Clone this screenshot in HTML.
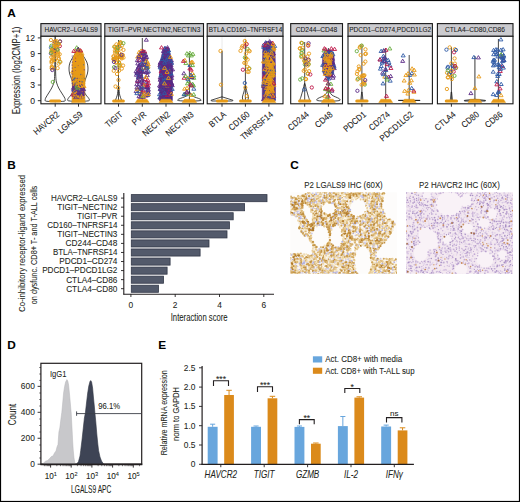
<!DOCTYPE html><html><head><meta charset="utf-8"><style>html,body{margin:0;padding:0;background:#fff;}svg{display:block;}text{font-family:"Liberation Sans",sans-serif;stroke:currentColor;stroke-width:0.07px;}</style></head><body>
<svg width="520" height="502" viewBox="0 0 520 502">
<rect x="0" y="0" width="520" height="502" fill="#fff"/>
<text x="7.2" y="16.7" font-size="11.8" fill="#000" color="#000" font-weight="bold">A</text>
<text x="7.2" y="169" font-size="11.8" fill="#000" color="#000" font-weight="bold">B</text>
<text x="290.3" y="169.2" font-size="11.8" fill="#000" color="#000" font-weight="bold">C</text>
<text x="7.2" y="349.1" font-size="11.8" fill="#000" color="#000" font-weight="bold">D</text>
<text x="158.3" y="349.3" font-size="11.8" fill="#000" color="#000" font-weight="bold">E</text>
<rect x="40.9" y="23.6" width="60.1" height="12.7" fill="#cbcbcf" stroke="#1a1a1a" stroke-width="1.1"/>
<text x="71.2" y="31.8" font-size="7.2" text-anchor="middle" textLength="53.39" lengthAdjust="spacingAndGlyphs" fill="#1a1a1a" color="#1a1a1a">HAVCR2–LGALS9</text>
<rect x="40.9" y="36.3" width="60.1" height="67.5" fill="#fff"/>
<rect x="104.8" y="23.6" width="98.7" height="12.7" fill="#cbcbcf" stroke="#1a1a1a" stroke-width="1.1"/>
<text x="154.15" y="31.8" font-size="7.2" text-anchor="middle" textLength="92.3" lengthAdjust="spacingAndGlyphs" fill="#1a1a1a" color="#1a1a1a">TIGIT–PVR,NECTIN2,NECTIN3</text>
<rect x="104.8" y="36.3" width="98.7" height="67.5" fill="#fff"/>
<rect x="207.2" y="23.6" width="75.8" height="12.7" fill="#cbcbcf" stroke="#1a1a1a" stroke-width="1.1"/>
<text x="245.5" y="31.8" font-size="7.2" text-anchor="middle" textLength="73.42" lengthAdjust="spacingAndGlyphs" fill="#1a1a1a" color="#1a1a1a">BTLA,CD160–TNFRSF14</text>
<rect x="207.2" y="36.3" width="75.8" height="67.5" fill="#fff"/>
<rect x="290.7" y="23.6" width="51.8" height="12.7" fill="#cbcbcf" stroke="#1a1a1a" stroke-width="1.1"/>
<text x="316.45" y="31.8" font-size="7.2" text-anchor="middle" textLength="41.47" lengthAdjust="spacingAndGlyphs" fill="#1a1a1a" color="#1a1a1a">CD244–CD48</text>
<rect x="290.7" y="36.3" width="51.8" height="67.5" fill="#fff"/>
<rect x="348" y="23.6" width="84.4" height="12.7" fill="#cbcbcf" stroke="#1a1a1a" stroke-width="1.1"/>
<text x="390.2" y="31.8" font-size="7.2" text-anchor="middle" textLength="81.97" lengthAdjust="spacingAndGlyphs" fill="#1a1a1a" color="#1a1a1a">PDCD1–CD274,PDCD1LG2</text>
<rect x="348" y="36.3" width="84.4" height="67.5" fill="#fff"/>
<rect x="437.4" y="23.6" width="75.6" height="12.7" fill="#cbcbcf" stroke="#1a1a1a" stroke-width="1.1"/>
<text x="475" y="31.8" font-size="7.2" text-anchor="middle" textLength="59.99" lengthAdjust="spacingAndGlyphs" fill="#1a1a1a" color="#1a1a1a">CTLA4–CD80,CD86</text>
<rect x="437.4" y="36.3" width="75.6" height="67.5" fill="#fff"/>
<g transform="translate(-0.2,0)">
<path d="M55.6 38.5C55.7 42.08 55.75 54.08 55.8 60C55.85 65.92 55.77 70.33 55.9 74C56.03 77.67 56.1 79.67 56.6 82C57.1 84.33 58.02 86.17 58.9 88C59.78 89.83 60.98 91.5 61.9 93C62.82 94.5 63.82 95.92 64.4 97C64.98 98.08 65.4 98.8 65.4 99.5C65.4 100.2 66.05 100.85 64.4 101.2C62.75 101.55 57.02 101.53 55.5 101.6C53.98 101.67 56.82 101.67 55.3 101.6C53.78 101.53 48.05 101.55 46.4 101.2C44.75 100.85 45.4 100.2 45.4 99.5C45.4 98.8 45.82 98.08 46.4 97C46.98 95.92 47.98 94.5 48.9 93C49.82 91.5 51.02 89.83 51.9 88C52.78 86.17 53.7 84.33 54.2 82C54.7 79.67 54.77 77.67 54.9 74C55.03 70.33 54.95 65.92 55 60C55.05 54.08 55.1 42.08 55.2 38.5C55.3 34.92 55.5 34.92 55.6 38.5" fill="none" stroke="#1a1a1a" stroke-width="0.8" stroke-linejoin="round"/>
<circle cx="51.19" cy="47.5" r="1.65" fill="none" stroke="#2f5aa6" stroke-width="0.9"/>
<circle cx="54.49" cy="45.38" r="1.65" fill="none" stroke="#e69a17" stroke-width="0.9"/>
<circle cx="52.59" cy="50.19" r="1.65" fill="none" stroke="#e69a17" stroke-width="0.9"/>
<circle cx="56.27" cy="47.79" r="1.65" fill="none" stroke="#e69a17" stroke-width="0.9"/>
<circle cx="54.37" cy="49.96" r="1.65" fill="none" stroke="#c0174a" stroke-width="0.9"/>
<circle cx="60.1" cy="41.64" r="1.65" fill="none" stroke="#e69a17" stroke-width="0.9"/>
<circle cx="52.46" cy="49.07" r="1.65" fill="none" stroke="#68ad3e" stroke-width="0.9"/>
<circle cx="54.24" cy="43.42" r="1.65" fill="none" stroke="#e69a17" stroke-width="0.9"/>
<circle cx="60" cy="46.11" r="1.65" fill="none" stroke="#c0174a" stroke-width="0.9"/>
<circle cx="51.13" cy="53.4" r="1.65" fill="none" stroke="#5b2a86" stroke-width="0.9"/>
<circle cx="58.19" cy="55.67" r="1.65" fill="none" stroke="#e69a17" stroke-width="0.9"/>
<circle cx="54.91" cy="41.79" r="1.65" fill="none" stroke="#5b2a86" stroke-width="0.9"/>
<circle cx="57.88" cy="50.41" r="1.65" fill="none" stroke="#e69a17" stroke-width="0.9"/>
<circle cx="57.63" cy="49.42" r="1.65" fill="none" stroke="#2f5aa6" stroke-width="0.9"/>
<circle cx="53.24" cy="54.53" r="1.65" fill="none" stroke="#2f5aa6" stroke-width="0.9"/>
<circle cx="58.48" cy="43.89" r="1.65" fill="none" stroke="#e69a17" stroke-width="0.9"/>
<circle cx="56.52" cy="43.34" r="1.65" fill="none" stroke="#e69a17" stroke-width="0.9"/>
<circle cx="51.48" cy="57.26" r="1.65" fill="none" stroke="#e69a17" stroke-width="0.9"/>
<circle cx="58.76" cy="57.7" r="1.65" fill="none" stroke="#e69a17" stroke-width="0.9"/>
<circle cx="56.06" cy="44.12" r="1.65" fill="none" stroke="#e69a17" stroke-width="0.9"/>
<circle cx="51.55" cy="45.83" r="1.65" fill="none" stroke="#68ad3e" stroke-width="0.9"/>
<circle cx="60.25" cy="41.41" r="1.65" fill="none" stroke="#5b2a86" stroke-width="0.9"/>
<circle cx="58.21" cy="54.2" r="1.65" fill="none" stroke="#e69a17" stroke-width="0.9"/>
<circle cx="58.1" cy="52.22" r="1.65" fill="none" stroke="#e69a17" stroke-width="0.9"/>
<circle cx="56.86" cy="41.11" r="1.65" fill="none" stroke="#e69a17" stroke-width="0.9"/>
<circle cx="54.97" cy="50.98" r="1.65" fill="none" stroke="#5b2a86" stroke-width="0.9"/>
<circle cx="58.17" cy="43.63" r="1.65" fill="none" stroke="#68ad3e" stroke-width="0.9"/>
<circle cx="51.84" cy="50.02" r="1.65" fill="none" stroke="#e69a17" stroke-width="0.9"/>
<circle cx="53.22" cy="57.41" r="1.65" fill="none" stroke="#e69a17" stroke-width="0.9"/>
<circle cx="56.04" cy="45.19" r="1.65" fill="none" stroke="#e69a17" stroke-width="0.9"/>
<circle cx="51.13" cy="40.06" r="1.65" fill="none" stroke="#e69a17" stroke-width="0.9"/>
<circle cx="56.69" cy="43.33" r="1.65" fill="none" stroke="#2f5aa6" stroke-width="0.9"/>
<circle cx="55.75" cy="41.73" r="1.65" fill="none" stroke="#e69a17" stroke-width="0.9"/>
<circle cx="59.88" cy="54.23" r="1.65" fill="none" stroke="#e69a17" stroke-width="0.9"/>
<circle cx="59.18" cy="44.38" r="1.65" fill="none" stroke="#e69a17" stroke-width="0.9"/>
<circle cx="54.73" cy="45.95" r="1.65" fill="none" stroke="#e69a17" stroke-width="0.9"/>
<circle cx="55.87" cy="52.24" r="1.65" fill="none" stroke="#e69a17" stroke-width="0.9"/>
<circle cx="57.47" cy="47.44" r="1.65" fill="none" stroke="#e69a17" stroke-width="0.9"/>
<circle cx="55.34" cy="41.22" r="1.65" fill="none" stroke="#e69a17" stroke-width="0.9"/>
<circle cx="52.96" cy="51.18" r="1.65" fill="none" stroke="#e69a17" stroke-width="0.9"/>
<circle cx="54.14" cy="56.09" r="1.65" fill="none" stroke="#e69a17" stroke-width="0.9"/>
<circle cx="57.48" cy="49.69" r="1.65" fill="none" stroke="#68ad3e" stroke-width="0.9"/>
<circle cx="53.49" cy="54.37" r="1.65" fill="none" stroke="#e69a17" stroke-width="0.9"/>
<circle cx="55.85" cy="46.55" r="1.65" fill="none" stroke="#e69a17" stroke-width="0.9"/>
<circle cx="51.73" cy="51.33" r="1.65" fill="none" stroke="#e69a17" stroke-width="0.9"/>
<circle cx="51.43" cy="52.75" r="1.65" fill="none" stroke="#68ad3e" stroke-width="0.9"/>
<circle cx="54.8" cy="52.35" r="1.65" fill="none" stroke="#e69a17" stroke-width="0.9"/>
<circle cx="57.88" cy="44.76" r="1.65" fill="none" stroke="#e69a17" stroke-width="0.9"/>
<circle cx="51.87" cy="60.92" r="1.65" fill="none" stroke="#e69a17" stroke-width="0.9"/>
<circle cx="57.82" cy="68.13" r="1.65" fill="none" stroke="#e69a17" stroke-width="0.9"/>
<circle cx="51.88" cy="68.27" r="1.65" fill="none" stroke="#e69a17" stroke-width="0.9"/>
<circle cx="55.25" cy="60.07" r="1.65" fill="none" stroke="#e69a17" stroke-width="0.9"/>
<circle cx="59.89" cy="61.84" r="1.65" fill="none" stroke="#68ad3e" stroke-width="0.9"/>
<circle cx="52.29" cy="67.31" r="1.65" fill="none" stroke="#e69a17" stroke-width="0.9"/>
<circle cx="51.97" cy="66.63" r="1.65" fill="none" stroke="#e69a17" stroke-width="0.9"/>
<circle cx="59.12" cy="58.9" r="1.65" fill="none" stroke="#e69a17" stroke-width="0.9"/>
<circle cx="51.73" cy="62.67" r="1.65" fill="none" stroke="#e69a17" stroke-width="0.9"/>
<circle cx="58.88" cy="63.65" r="1.65" fill="none" stroke="#e69a17" stroke-width="0.9"/>
<circle cx="51.98" cy="61.51" r="1.65" fill="none" stroke="#e69a17" stroke-width="0.9"/>
<circle cx="53.5" cy="59.63" r="1.65" fill="none" stroke="#e69a17" stroke-width="0.9"/>
<circle cx="60.6" cy="61.95" r="1.65" fill="none" stroke="#e69a17" stroke-width="0.9"/>
<circle cx="52.44" cy="67.42" r="1.65" fill="none" stroke="#e69a17" stroke-width="0.9"/>
<circle cx="53" cy="82" r="1.65" fill="none" stroke="#68ad3e" stroke-width="0.9"/>
<circle cx="52.5" cy="70" r="1.65" fill="none" stroke="#5b2a86" stroke-width="0.9"/>
<rect x="49.35" y="99.4" width="12.1" height="3.0" rx="1.5" fill="#e69a17"/>
</g>
<g transform="translate(0,0)">
<path d="M78.8 48C79.55 49.17 81.37 52.67 82.7 55C84.03 57.33 85.92 59.83 86.8 62C87.68 64.17 87.92 66 88 68C88.08 70 87.78 72 87.3 74C86.82 76 85.67 78 85.1 80C84.53 82 84.07 84.17 83.9 86C83.73 87.83 83.75 89.5 84.1 91C84.45 92.5 85.22 93.75 86 95C86.78 96.25 88.38 97.53 88.8 98.5C89.22 99.47 90.2 100.33 88.5 100.8C86.8 101.27 80.28 101.22 78.6 101.3C76.92 101.38 80.08 101.38 78.4 101.3C76.72 101.22 70.2 101.27 68.5 100.8C66.8 100.33 67.78 99.47 68.2 98.5C68.62 97.53 70.22 96.25 71 95C71.78 93.75 72.55 92.5 72.9 91C73.25 89.5 73.27 87.83 73.1 86C72.93 84.17 72.47 82 71.9 80C71.33 78 70.18 76 69.7 74C69.22 72 68.92 70 69 68C69.08 66 69.32 64.17 70.2 62C71.08 59.83 72.97 57.33 74.3 55C75.63 52.67 77.45 49.17 78.2 48C78.95 46.83 78.05 46.83 78.8 48" fill="none" stroke="#1a1a1a" stroke-width="0.8" stroke-linejoin="round"/>
<path d="M78.5 48.5 L79.3 48.5 L81 52 L83.1 56 L84.7 63 L85 80 L84.5 90 L84.9 100.5 L72.1 100.5 L72.5 90 L72 80 L72.3 63 L73.9 56 L76 52 L77.7 48.5Z" fill="#e69a17" stroke="#e69a17" stroke-width="0.8" stroke-linejoin="round"/>
<path d="M72.3 84 Q76.5 86 79.5 88 Q82.5 87 84.7 89 L84.5 96 Q80.5 97.5 78.5 95 L72.3 97Z" fill="#5b2a86" opacity="0.9"/>
<circle cx="80.45" cy="88.99" r="0.7" fill="#5b2a86"/>
<circle cx="81.94" cy="88.48" r="0.7" fill="#5b2a86"/>
<circle cx="79.59" cy="88.63" r="0.7" fill="#2f5aa6"/>
<circle cx="77.44" cy="81.27" r="0.7" fill="#5b2a86"/>
<circle cx="83.06" cy="91.25" r="0.7" fill="#5b2a86"/>
<circle cx="80.46" cy="94.33" r="0.7" fill="#5b2a86"/>
<circle cx="72.87" cy="87.4" r="0.7" fill="#5b2a86"/>
<circle cx="73.86" cy="94.01" r="0.7" fill="#5b2a86"/>
<circle cx="73.66" cy="79.13" r="0.7" fill="#2f5aa6"/>
<circle cx="74.46" cy="79.93" r="0.7" fill="#2f5aa6"/>
<circle cx="74.98" cy="84.18" r="0.7" fill="#5b2a86"/>
<circle cx="73.03" cy="87.99" r="0.7" fill="#5b2a86"/>
<circle cx="81.54" cy="82.44" r="0.7" fill="#5b2a86"/>
<circle cx="75.3" cy="89.76" r="0.7" fill="#2f5aa6"/>
<circle cx="83.76" cy="97.81" r="0.7" fill="#2f5aa6"/>
<circle cx="83.84" cy="89.07" r="0.7" fill="#5b2a86"/>
<circle cx="81.38" cy="81.19" r="0.7" fill="#2f5aa6"/>
<circle cx="74.72" cy="78.29" r="0.7" fill="#2f5aa6"/>
<circle cx="79.25" cy="93.36" r="0.7" fill="#5b2a86"/>
<circle cx="75.22" cy="83.31" r="0.7" fill="#2f5aa6"/>
<circle cx="76.89" cy="82.51" r="0.7" fill="#5b2a86"/>
<circle cx="79.27" cy="91.26" r="0.7" fill="#5b2a86"/>
<circle cx="83.63" cy="95.3" r="0.7" fill="#5b2a86"/>
<circle cx="83.63" cy="78.6" r="0.7" fill="#2f5aa6"/>
<circle cx="77.26" cy="85.36" r="0.7" fill="#5b2a86"/>
<circle cx="73.68" cy="86.43" r="0.7" fill="#5b2a86"/>
<circle cx="79.32" cy="84.07" r="0.7" fill="#5b2a86"/>
<circle cx="84.33" cy="92.57" r="0.7" fill="#5b2a86"/>
<circle cx="80.19" cy="89.41" r="0.7" fill="#2f5aa6"/>
<circle cx="78.7" cy="90.58" r="0.7" fill="#2f5aa6"/>
<circle cx="83.95" cy="78.48" r="0.7" fill="#2f5aa6"/>
<circle cx="74.8" cy="91.88" r="0.7" fill="#5b2a86"/>
<circle cx="77.23" cy="78.56" r="0.7" fill="#5b2a86"/>
<circle cx="75.41" cy="89.22" r="0.7" fill="#5b2a86"/>
<circle cx="75.42" cy="93.88" r="0.7" fill="#5b2a86"/>
<circle cx="79.29" cy="78.33" r="0.7" fill="#2f5aa6"/>
<circle cx="76.37" cy="93.7" r="0.7" fill="#5b2a86"/>
<circle cx="76.1" cy="90.19" r="0.7" fill="#5b2a86"/>
<circle cx="77.18" cy="82.2" r="0.7" fill="#5b2a86"/>
<circle cx="80.32" cy="86.03" r="0.7" fill="#2f5aa6"/>
<circle cx="79.38" cy="88.9" r="0.55" fill="#68ad3e"/>
<circle cx="80.46" cy="75.78" r="0.55" fill="#c0174a"/>
<circle cx="74.27" cy="94.01" r="0.55" fill="#5b2a86"/>
<circle cx="82.59" cy="85.17" r="0.55" fill="#5b2a86"/>
<circle cx="77.17" cy="69.81" r="0.55" fill="#e69a17"/>
<circle cx="81.47" cy="80.83" r="0.55" fill="#e69a17"/>
<circle cx="74.23" cy="86.05" r="0.55" fill="#5b2a86"/>
<circle cx="83.63" cy="82.59" r="0.55" fill="#e69a17"/>
<circle cx="76.22" cy="80.11" r="0.55" fill="#e69a17"/>
<circle cx="77.98" cy="78.83" r="0.55" fill="#e69a17"/>
<circle cx="80.64" cy="56.58" r="0.55" fill="#e69a17"/>
<circle cx="83.46" cy="77.25" r="0.55" fill="#5b2a86"/>
<circle cx="72.44" cy="71.67" r="0.55" fill="#5b2a86"/>
<circle cx="75.1" cy="96.88" r="0.55" fill="#2f5aa6"/>
<circle cx="79.68" cy="89.71" r="0.55" fill="#e69a17"/>
<circle cx="75.99" cy="54.68" r="0.55" fill="#e69a17"/>
<circle cx="81.66" cy="82.93" r="0.55" fill="#5b2a86"/>
<circle cx="79.77" cy="53.08" r="0.55" fill="#e69a17"/>
<path d="M80.39 76.31L82.39 79.61L78.39 79.61Z" fill="none" stroke="#e69a17" stroke-width="0.9"/>
<circle cx="76.15" cy="96.78" r="0.55" fill="#5b2a86"/>
<circle cx="78.01" cy="55.81" r="0.55" fill="#5b2a86"/>
<circle cx="79.98" cy="54.77" r="0.55" fill="#5b2a86"/>
<path d="M76.08 54.87L78.08 58.17L74.08 58.17Z" fill="none" stroke="#e69a17" stroke-width="0.9"/>
<path d="M72.88 92.56L74.88 95.86L70.88 95.86Z" fill="none" stroke="#c0174a" stroke-width="0.9"/>
<path d="M75.19 86.16L77.19 89.46L73.19 89.46Z" fill="none" stroke="#68ad3e" stroke-width="0.9"/>
<circle cx="74.79" cy="56.69" r="0.55" fill="#e69a17"/>
<circle cx="82.14" cy="51.18" r="0.55" fill="#5b2a86"/>
<circle cx="73.6" cy="73.61" r="0.55" fill="#5b2a86"/>
<path d="M80.96 49.18L82.96 52.48L78.96 52.48Z" fill="none" stroke="#e69a17" stroke-width="0.9"/>
<circle cx="74.93" cy="66.42" r="0.55" fill="#e69a17"/>
<circle cx="75.8" cy="53.4" r="0.55" fill="#e69a17"/>
<circle cx="73.94" cy="76.76" r="0.55" fill="#e69a17"/>
<circle cx="73.99" cy="93.17" r="0.55" fill="#e69a17"/>
<circle cx="83.92" cy="78.8" r="0.55" fill="#e69a17"/>
<circle cx="76.87" cy="74.84" r="0.55" fill="#e69a17"/>
<circle cx="81.87" cy="54.84" r="0.55" fill="#5b2a86"/>
<circle cx="74.59" cy="88.55" r="0.55" fill="#e69a17"/>
<circle cx="77.41" cy="88.25" r="0.55" fill="#c0174a"/>
<circle cx="73.8" cy="71.56" r="0.55" fill="#e69a17"/>
<circle cx="82.29" cy="75.02" r="0.55" fill="#5b2a86"/>
<circle cx="75.75" cy="70.49" r="0.55" fill="#5b2a86"/>
<circle cx="79.22" cy="81.85" r="0.55" fill="#5b2a86"/>
<circle cx="76.93" cy="62.64" r="0.55" fill="#e69a17"/>
<circle cx="81.12" cy="93.12" r="0.55" fill="#2f5aa6"/>
<circle cx="73.6" cy="73.3" r="0.55" fill="#e69a17"/>
<path d="M78.59 64.91L80.59 68.21L76.59 68.21Z" fill="none" stroke="#e69a17" stroke-width="0.9"/>
<path d="M82.07 51.8L84.07 55.1L80.07 55.1Z" fill="none" stroke="#e69a17" stroke-width="0.9"/>
<circle cx="74.89" cy="88.62" r="0.55" fill="#5b2a86"/>
<path d="M73.56 87.84L75.56 91.14L71.56 91.14Z" fill="none" stroke="#5b2a86" stroke-width="0.9"/>
<circle cx="75.54" cy="93.68" r="0.55" fill="#e69a17"/>
<circle cx="72.46" cy="90.39" r="0.55" fill="#2f5aa6"/>
<circle cx="72.61" cy="80.52" r="0.55" fill="#5b2a86"/>
<circle cx="73.17" cy="71.29" r="0.55" fill="#e69a17"/>
<circle cx="78.12" cy="65.74" r="0.55" fill="#5b2a86"/>
<circle cx="82.87" cy="75.13" r="0.55" fill="#e69a17"/>
<circle cx="76.73" cy="82.89" r="0.55" fill="#2f5aa6"/>
<circle cx="77.25" cy="50.66" r="0.55" fill="#c0174a"/>
<circle cx="76.86" cy="89.5" r="0.55" fill="#2f5aa6"/>
<circle cx="73.59" cy="59.72" r="0.55" fill="#e69a17"/>
<circle cx="80.34" cy="76.77" r="0.55" fill="#e69a17"/>
<path d="M75.47 49.28L77.47 52.58L73.47 52.58Z" fill="none" stroke="#e69a17" stroke-width="0.9"/>
<circle cx="77.36" cy="59.04" r="0.55" fill="#e69a17"/>
<circle cx="76.41" cy="70.2" r="0.55" fill="#e69a17"/>
<path d="M74.59 67.69L76.59 70.99L72.59 70.99Z" fill="none" stroke="#e69a17" stroke-width="0.9"/>
<path d="M76.84 91.63L78.84 94.93L74.84 94.93Z" fill="none" stroke="#5b2a86" stroke-width="0.9"/>
<path d="M79.06 70.25L81.06 73.55L77.06 73.55Z" fill="none" stroke="#e69a17" stroke-width="0.9"/>
<circle cx="77.69" cy="74.86" r="0.55" fill="#e69a17"/>
<circle cx="75.74" cy="57.94" r="0.55" fill="#c0174a"/>
<path d="M77.05 49.42L79.05 52.72L75.05 52.72Z" fill="none" stroke="#e69a17" stroke-width="0.9"/>
<circle cx="79.08" cy="69.84" r="0.55" fill="#e69a17"/>
<circle cx="80.76" cy="53.83" r="0.55" fill="#e69a17"/>
<circle cx="73.4" cy="77.46" r="0.55" fill="#e69a17"/>
<path d="M76.6 85.69L78.6 88.99L74.6 88.99Z" fill="none" stroke="#68ad3e" stroke-width="0.9"/>
<circle cx="78.89" cy="83.16" r="0.55" fill="#e69a17"/>
<path d="M81.37 53.01L83.37 56.31L79.37 56.31Z" fill="none" stroke="#e69a17" stroke-width="0.9"/>
<circle cx="79.42" cy="85.13" r="0.55" fill="#5b2a86"/>
<path d="M76.68 59.73L78.68 63.03L74.68 63.03Z" fill="none" stroke="#e69a17" stroke-width="0.9"/>
<circle cx="73.51" cy="95.59" r="0.55" fill="#5b2a86"/>
<path d="M77.73 80.87L79.73 84.17L75.73 84.17Z" fill="none" stroke="#e69a17" stroke-width="0.9"/>
<circle cx="80.56" cy="81.98" r="0.55" fill="#e69a17"/>
<circle cx="74.72" cy="80.12" r="0.55" fill="#e69a17"/>
<path d="M80.32 95.78L82.32 99.08L78.32 99.08Z" fill="none" stroke="#5b2a86" stroke-width="0.9"/>
<path d="M76.53 63.34L78.53 66.64L74.53 66.64Z" fill="none" stroke="#e69a17" stroke-width="0.9"/>
<circle cx="83.27" cy="94.7" r="0.55" fill="#5b2a86"/>
<circle cx="75.17" cy="77.98" r="0.55" fill="#2f5aa6"/>
<path d="M84 84.39L86 87.69L82 87.69Z" fill="none" stroke="#e69a17" stroke-width="0.9"/>
<path d="M73.98 70.49L75.98 73.79L71.98 73.79Z" fill="none" stroke="#e69a17" stroke-width="0.9"/>
<circle cx="76.29" cy="79.48" r="0.55" fill="#e69a17"/>
<circle cx="80.19" cy="55.89" r="0.55" fill="#e69a17"/>
<circle cx="76.42" cy="96.82" r="0.55" fill="#e69a17"/>
<circle cx="77.59" cy="68.51" r="0.55" fill="#e69a17"/>
<path d="M79.2 78.91L81.2 82.21L77.2 82.21Z" fill="none" stroke="#e69a17" stroke-width="0.9"/>
<path d="M75.71 95.48L77.71 98.78L73.71 98.78Z" fill="none" stroke="#5b2a86" stroke-width="0.9"/>
<path d="M79.33 72.4L81.33 75.7L77.33 75.7Z" fill="none" stroke="#e69a17" stroke-width="0.9"/>
<path d="M78.34 60.84L80.34 64.14L76.34 64.14Z" fill="none" stroke="#e69a17" stroke-width="0.9"/>
<circle cx="82.22" cy="91.57" r="0.55" fill="#e69a17"/>
<circle cx="81.09" cy="67.55" r="0.55" fill="#e69a17"/>
<circle cx="81.83" cy="78.51" r="0.55" fill="#68ad3e"/>
<path d="M72.7 69.64L74.7 72.94L70.7 72.94Z" fill="none" stroke="#e69a17" stroke-width="0.9"/>
<circle cx="79.28" cy="74.86" r="0.55" fill="#e69a17"/>
<path d="M82.26 76.52L84.26 79.82L80.26 79.82Z" fill="none" stroke="#e69a17" stroke-width="0.9"/>
<circle cx="79.18" cy="78.23" r="0.55" fill="#e69a17"/>
<path d="M77.86 54.68L79.86 57.98L75.86 57.98Z" fill="none" stroke="#e69a17" stroke-width="0.9"/>
<circle cx="74.7" cy="95.34" r="0.55" fill="#e69a17"/>
<path d="M81.67 55.99L83.67 59.29L79.67 59.29Z" fill="none" stroke="#e69a17" stroke-width="0.9"/>
<circle cx="75.09" cy="67.21" r="0.55" fill="#2f5aa6"/>
<circle cx="81.34" cy="94.42" r="0.55" fill="#68ad3e"/>
<path d="M83.74 87.45L85.74 90.75L81.74 90.75Z" fill="none" stroke="#5b2a86" stroke-width="0.9"/>
<circle cx="84.22" cy="69.86" r="0.55" fill="#5b2a86"/>
<circle cx="77.22" cy="50.47" r="0.55" fill="#e69a17"/>
<circle cx="75.49" cy="65.03" r="0.55" fill="#e69a17"/>
<path d="M74.97 89.4L76.97 92.7L72.97 92.7Z" fill="none" stroke="#e69a17" stroke-width="0.9"/>
<circle cx="80.19" cy="50.44" r="0.55" fill="#e69a17"/>
<circle cx="83.68" cy="64.78" r="0.55" fill="#2f5aa6"/>
<path d="M73.35 86.03L75.35 89.33L71.35 89.33Z" fill="none" stroke="#5b2a86" stroke-width="0.9"/>
<circle cx="73.66" cy="92.22" r="0.55" fill="#2f5aa6"/>
<path d="M82.95 80.51L84.95 83.81L80.95 83.81Z" fill="none" stroke="#e69a17" stroke-width="0.9"/>
<circle cx="74.33" cy="93.03" r="0.55" fill="#5b2a86"/>
<circle cx="80.92" cy="74.38" r="0.55" fill="#2f5aa6"/>
<circle cx="79.75" cy="81.41" r="0.55" fill="#5b2a86"/>
<circle cx="82.67" cy="81.81" r="0.55" fill="#2f5aa6"/>
<circle cx="73.2" cy="82.43" r="0.55" fill="#e69a17"/>
<path d="M74.76 62.84L76.76 66.14L72.76 66.14Z" fill="none" stroke="#e69a17" stroke-width="0.9"/>
<circle cx="83.9" cy="62.83" r="0.55" fill="#e69a17"/>
<circle cx="81.66" cy="84.62" r="0.55" fill="#5b2a86"/>
<circle cx="79.02" cy="53.4" r="0.55" fill="#e69a17"/>
<circle cx="73.57" cy="63.55" r="0.55" fill="#e69a17"/>
<circle cx="76.58" cy="77.76" r="0.55" fill="#e69a17"/>
<circle cx="72.34" cy="83.32" r="0.55" fill="#2f5aa6"/>
<circle cx="74.74" cy="91.48" r="0.55" fill="#2f5aa6"/>
<path d="M82.13 74.37L84.13 77.67L80.13 77.67Z" fill="none" stroke="#e69a17" stroke-width="0.9"/>
<circle cx="72.4" cy="92.9" r="0.55" fill="#e69a17"/>
<circle cx="84.65" cy="91.79" r="0.55" fill="#e69a17"/>
<circle cx="73.38" cy="85.19" r="0.55" fill="#e69a17"/>
<circle cx="75.65" cy="61.46" r="0.55" fill="#5b2a86"/>
<path d="M78.52 66.62L80.52 69.92L76.52 69.92Z" fill="none" stroke="#e69a17" stroke-width="0.9"/>
<circle cx="75.81" cy="90.57" r="0.55" fill="#5b2a86"/>
<path d="M80.47 53.62L82.47 56.92L78.47 56.92Z" fill="none" stroke="#e69a17" stroke-width="0.9"/>
<circle cx="80" cy="50.09" r="0.55" fill="#e69a17"/>
<circle cx="80.42" cy="86.49" r="0.55" fill="#5b2a86"/>
<circle cx="72.21" cy="56" r="0.6" fill="#5b2a86"/>
<circle cx="72.63" cy="59" r="0.6" fill="#5b2a86"/>
<circle cx="72.27" cy="62" r="0.6" fill="#5b2a86"/>
<circle cx="72.11" cy="65" r="0.6" fill="#5b2a86"/>
<circle cx="72.28" cy="68" r="0.6" fill="#5b2a86"/>
<circle cx="72.56" cy="71" r="0.6" fill="#5b2a86"/>
<circle cx="72.07" cy="74" r="0.6" fill="#5b2a86"/>
<circle cx="72" cy="77" r="0.6" fill="#5b2a86"/>
<circle cx="72.63" cy="80" r="0.6" fill="#5b2a86"/>
<circle cx="72.24" cy="83" r="0.6" fill="#5b2a86"/>
<path d="M76.7 45.7L78.7 49L74.7 49Z" fill="none" stroke="#68ad3e" stroke-width="0.9"/>
<path d="M73.8 49.1L75.8 52.4L71.8 52.4Z" fill="none" stroke="#c0174a" stroke-width="0.9"/>
<path d="M80.5 48.6L82.5 51.9L78.5 51.9Z" fill="none" stroke="#c0174a" stroke-width="0.9"/>
<path d="M78 47.6L80 50.9L76 50.9Z" fill="none" stroke="#5b2a86" stroke-width="0.9"/>
<path d="M81.5 94.7L83.5 98L79.5 98Z" fill="none" stroke="#e69a17" stroke-width="0.9"/>
<path d="M75 92.6L77 95.9L73 95.9Z" fill="none" stroke="#e69a17" stroke-width="0.9"/>
<path d="M73.75 99.2L83.25 99.2L85.45 102.5L71.55 102.5Z" fill="#e69a17" stroke="#e69a17" stroke-width="0.5" stroke-linejoin="round"/>
</g>
<g transform="translate(0,0)">
<line x1="118.5" y1="40" x2="118.5" y2="100.7" stroke="#1a1a1a" stroke-width="0.8"/>
<path d="M118.8 88C119.05 89.17 119.32 93.17 119.7 95C120.08 96.83 120.83 98 121.1 99C121.37 100 121.72 100.58 121.3 101C120.88 101.42 119.08 101.42 118.6 101.5C118.12 101.58 118.88 101.58 118.4 101.5C117.92 101.42 116.12 101.42 115.7 101C115.28 100.58 115.63 100 115.9 99C116.17 98 116.92 96.83 117.3 95C117.68 93.17 117.95 89.17 118.2 88C118.45 86.83 118.55 86.83 118.8 88" fill="none" stroke="#1a1a1a" stroke-width="0.8" stroke-linejoin="round"/>
<circle cx="116.53" cy="49.99" r="1.65" fill="none" stroke="#e69a17" stroke-width="0.9"/>
<circle cx="121.65" cy="57.52" r="1.65" fill="none" stroke="#e69a17" stroke-width="0.9"/>
<circle cx="122.86" cy="55.05" r="1.65" fill="none" stroke="#e69a17" stroke-width="0.9"/>
<circle cx="114.24" cy="59.66" r="1.65" fill="none" stroke="#68ad3e" stroke-width="0.9"/>
<circle cx="115.92" cy="57.31" r="1.65" fill="none" stroke="#e69a17" stroke-width="0.9"/>
<circle cx="114.72" cy="46.9" r="1.65" fill="none" stroke="#68ad3e" stroke-width="0.9"/>
<circle cx="121.5" cy="54.57" r="1.65" fill="none" stroke="#e69a17" stroke-width="0.9"/>
<circle cx="114.21" cy="46.71" r="1.65" fill="none" stroke="#e69a17" stroke-width="0.9"/>
<circle cx="113.5" cy="56.19" r="1.65" fill="none" stroke="#e69a17" stroke-width="0.9"/>
<circle cx="116.3" cy="47.79" r="1.65" fill="none" stroke="#e69a17" stroke-width="0.9"/>
<circle cx="115.06" cy="52.65" r="1.65" fill="none" stroke="#e69a17" stroke-width="0.9"/>
<circle cx="121.15" cy="57.29" r="1.65" fill="none" stroke="#e69a17" stroke-width="0.9"/>
<circle cx="119.38" cy="46.48" r="1.65" fill="none" stroke="#2f5aa6" stroke-width="0.9"/>
<circle cx="117.91" cy="56.19" r="1.65" fill="none" stroke="#e69a17" stroke-width="0.9"/>
<circle cx="120.68" cy="48.47" r="1.65" fill="none" stroke="#e69a17" stroke-width="0.9"/>
<circle cx="120.31" cy="42.49" r="1.65" fill="none" stroke="#68ad3e" stroke-width="0.9"/>
<circle cx="114.96" cy="50.72" r="1.65" fill="none" stroke="#e69a17" stroke-width="0.9"/>
<circle cx="122.04" cy="45.46" r="1.65" fill="none" stroke="#e69a17" stroke-width="0.9"/>
<circle cx="116.45" cy="47.35" r="1.65" fill="none" stroke="#e69a17" stroke-width="0.9"/>
<circle cx="123.45" cy="49.92" r="1.65" fill="none" stroke="#e69a17" stroke-width="0.9"/>
<circle cx="114.07" cy="58.84" r="1.65" fill="none" stroke="#2f5aa6" stroke-width="0.9"/>
<circle cx="121.73" cy="58.43" r="1.65" fill="none" stroke="#e69a17" stroke-width="0.9"/>
<circle cx="123.47" cy="57.64" r="1.65" fill="none" stroke="#e69a17" stroke-width="0.9"/>
<circle cx="116.87" cy="51.26" r="1.65" fill="none" stroke="#68ad3e" stroke-width="0.9"/>
<circle cx="116.66" cy="52.77" r="1.65" fill="none" stroke="#e69a17" stroke-width="0.9"/>
<circle cx="120.6" cy="42.31" r="1.65" fill="none" stroke="#e69a17" stroke-width="0.9"/>
<circle cx="116.49" cy="44.38" r="1.65" fill="none" stroke="#e69a17" stroke-width="0.9"/>
<circle cx="118.23" cy="57.25" r="1.65" fill="none" stroke="#e69a17" stroke-width="0.9"/>
<circle cx="120.31" cy="56.91" r="1.65" fill="none" stroke="#e69a17" stroke-width="0.9"/>
<circle cx="117.51" cy="58.17" r="1.65" fill="none" stroke="#e69a17" stroke-width="0.9"/>
<circle cx="120.54" cy="42.99" r="1.65" fill="none" stroke="#e69a17" stroke-width="0.9"/>
<circle cx="113.38" cy="59.05" r="1.65" fill="none" stroke="#e69a17" stroke-width="0.9"/>
<circle cx="117.62" cy="49.87" r="1.65" fill="none" stroke="#e69a17" stroke-width="0.9"/>
<circle cx="113.75" cy="56.66" r="1.65" fill="none" stroke="#e69a17" stroke-width="0.9"/>
<circle cx="117.72" cy="47.63" r="1.65" fill="none" stroke="#68ad3e" stroke-width="0.9"/>
<circle cx="118.62" cy="45.68" r="1.65" fill="none" stroke="#e69a17" stroke-width="0.9"/>
<circle cx="118.96" cy="52.98" r="1.65" fill="none" stroke="#e69a17" stroke-width="0.9"/>
<circle cx="119.88" cy="43.72" r="1.65" fill="none" stroke="#e69a17" stroke-width="0.9"/>
<circle cx="123.38" cy="43.22" r="1.65" fill="none" stroke="#68ad3e" stroke-width="0.9"/>
<circle cx="121.48" cy="56.28" r="1.65" fill="none" stroke="#e69a17" stroke-width="0.9"/>
<circle cx="114.91" cy="58.48" r="1.65" fill="none" stroke="#e69a17" stroke-width="0.9"/>
<circle cx="113.95" cy="59.58" r="1.65" fill="none" stroke="#e69a17" stroke-width="0.9"/>
<circle cx="114.77" cy="59.52" r="1.65" fill="none" stroke="#e69a17" stroke-width="0.9"/>
<circle cx="116.04" cy="58.16" r="1.65" fill="none" stroke="#e69a17" stroke-width="0.9"/>
<circle cx="121.56" cy="54.92" r="1.65" fill="none" stroke="#5b2a86" stroke-width="0.9"/>
<circle cx="114.04" cy="67.18" r="1.65" fill="none" stroke="#68ad3e" stroke-width="0.9"/>
<circle cx="119.14" cy="63.15" r="1.65" fill="none" stroke="#68ad3e" stroke-width="0.9"/>
<circle cx="119.01" cy="70.76" r="1.65" fill="none" stroke="#e69a17" stroke-width="0.9"/>
<circle cx="119.05" cy="65.63" r="1.65" fill="none" stroke="#68ad3e" stroke-width="0.9"/>
<circle cx="119.02" cy="62.1" r="1.65" fill="none" stroke="#e69a17" stroke-width="0.9"/>
<circle cx="113.73" cy="70.84" r="1.65" fill="none" stroke="#e69a17" stroke-width="0.9"/>
<circle cx="116.25" cy="61.92" r="1.65" fill="none" stroke="#e69a17" stroke-width="0.9"/>
<circle cx="116.11" cy="62.78" r="1.65" fill="none" stroke="#e69a17" stroke-width="0.9"/>
<circle cx="123.06" cy="65.49" r="1.65" fill="none" stroke="#e69a17" stroke-width="0.9"/>
<circle cx="113.93" cy="61.9" r="1.65" fill="none" stroke="#5b2a86" stroke-width="0.9"/>
<circle cx="121.81" cy="68.61" r="1.65" fill="none" stroke="#e69a17" stroke-width="0.9"/>
<circle cx="120.21" cy="64.86" r="1.65" fill="none" stroke="#e69a17" stroke-width="0.9"/>
<circle cx="115.44" cy="68.06" r="1.65" fill="none" stroke="#5b2a86" stroke-width="0.9"/>
<circle cx="119.62" cy="66.51" r="1.65" fill="none" stroke="#e69a17" stroke-width="0.9"/>
<circle cx="118.5" cy="80" r="1.65" fill="none" stroke="#e69a17" stroke-width="0.9"/>
<circle cx="115.5" cy="86.5" r="1.65" fill="none" stroke="#e69a17" stroke-width="0.9"/>
<circle cx="118.2" cy="87.8" r="1.65" fill="none" stroke="#e69a17" stroke-width="0.9"/>
<circle cx="117" cy="74" r="1.65" fill="none" stroke="#e69a17" stroke-width="0.9"/>
<rect x="112.15" y="99.4" width="12.7" height="3.0" rx="1.5" fill="#e69a17"/>
</g>
<g transform="translate(0.3,0)">
<line x1="142" y1="38" x2="142" y2="100.7" stroke="#1a1a1a" stroke-width="0.8"/>
<path d="M146 37.9L148 41.2L144 41.2Z" fill="none" stroke="#5b2a86" stroke-width="0.9"/>
<path d="M135.76 69.36L137.76 72.66L133.76 72.66Z" fill="none" stroke="#5b2a86" stroke-width="0.9"/>
<path d="M136.65 71.2L138.65 74.5L134.65 74.5Z" fill="none" stroke="#2f5aa6" stroke-width="0.9"/>
<path d="M143.93 57.22L145.93 60.52L141.93 60.52Z" fill="none" stroke="#5b2a86" stroke-width="0.9"/>
<path d="M138.95 79.66L140.95 82.96L136.95 82.96Z" fill="none" stroke="#5b2a86" stroke-width="0.9"/>
<path d="M146.17 79.99L148.17 83.29L144.17 83.29Z" fill="none" stroke="#5b2a86" stroke-width="0.9"/>
<path d="M144.53 49.86L146.53 53.16L142.53 53.16Z" fill="none" stroke="#c0174a" stroke-width="0.9"/>
<path d="M145.72 84.91L147.72 88.21L143.72 88.21Z" fill="none" stroke="#5b2a86" stroke-width="0.9"/>
<path d="M145.94 93.75L147.94 97.05L143.94 97.05Z" fill="none" stroke="#c0174a" stroke-width="0.9"/>
<path d="M147.22 93.25L149.22 96.55L145.22 96.55Z" fill="none" stroke="#2f5aa6" stroke-width="0.9"/>
<path d="M142.66 50.81L144.66 54.11L140.66 54.11Z" fill="none" stroke="#2f5aa6" stroke-width="0.9"/>
<path d="M140.81 48.91L142.81 52.21L138.81 52.21Z" fill="none" stroke="#e69a17" stroke-width="0.9"/>
<path d="M147.51 78.09L149.51 81.39L145.51 81.39Z" fill="none" stroke="#c0174a" stroke-width="0.9"/>
<path d="M144.2 57.01L146.2 60.31L142.2 60.31Z" fill="none" stroke="#5b2a86" stroke-width="0.9"/>
<path d="M139.37 89.83L141.37 93.13L137.37 93.13Z" fill="none" stroke="#e69a17" stroke-width="0.9"/>
<path d="M143.72 50.39L145.72 53.69L141.72 53.69Z" fill="none" stroke="#5b2a86" stroke-width="0.9"/>
<path d="M146.06 89.53L148.06 92.83L144.06 92.83Z" fill="none" stroke="#2f5aa6" stroke-width="0.9"/>
<path d="M138.42 75.13L140.42 78.43L136.42 78.43Z" fill="none" stroke="#5b2a86" stroke-width="0.9"/>
<path d="M140.99 55.22L142.99 58.52L138.99 58.52Z" fill="none" stroke="#5b2a86" stroke-width="0.9"/>
<path d="M141.91 78.54L143.91 81.84L139.91 81.84Z" fill="none" stroke="#5b2a86" stroke-width="0.9"/>
<path d="M147.78 64.72L149.78 68.02L145.78 68.02Z" fill="none" stroke="#e69a17" stroke-width="0.9"/>
<path d="M140.24 95.1L142.24 98.4L138.24 98.4Z" fill="none" stroke="#5b2a86" stroke-width="0.9"/>
<path d="M145.53 55.91L147.53 59.21L143.53 59.21Z" fill="none" stroke="#5b2a86" stroke-width="0.9"/>
<path d="M146.3 55.16L148.3 58.46L144.3 58.46Z" fill="none" stroke="#5b2a86" stroke-width="0.9"/>
<path d="M140.89 75L142.89 78.3L138.89 78.3Z" fill="none" stroke="#5b2a86" stroke-width="0.9"/>
<path d="M145.69 65.97L147.69 69.27L143.69 69.27Z" fill="none" stroke="#2f5aa6" stroke-width="0.9"/>
<path d="M135.81 89.27L137.81 92.57L133.81 92.57Z" fill="none" stroke="#5b2a86" stroke-width="0.9"/>
<path d="M143.82 68.84L145.82 72.14L141.82 72.14Z" fill="none" stroke="#5b2a86" stroke-width="0.9"/>
<path d="M145.91 61.35L147.91 64.65L143.91 64.65Z" fill="none" stroke="#e69a17" stroke-width="0.9"/>
<path d="M137.3 79.26L139.3 82.56L135.3 82.56Z" fill="none" stroke="#c0174a" stroke-width="0.9"/>
<path d="M145.01 77.26L147.01 80.56L143.01 80.56Z" fill="none" stroke="#c0174a" stroke-width="0.9"/>
<path d="M140.52 75.14L142.52 78.44L138.52 78.44Z" fill="none" stroke="#e69a17" stroke-width="0.9"/>
<path d="M147.78 92.52L149.78 95.82L145.78 95.82Z" fill="none" stroke="#5b2a86" stroke-width="0.9"/>
<path d="M138.64 58.25L140.64 61.55L136.64 61.55Z" fill="none" stroke="#c0174a" stroke-width="0.9"/>
<path d="M138.66 94.39L140.66 97.69L136.66 97.69Z" fill="none" stroke="#5b2a86" stroke-width="0.9"/>
<path d="M140.93 74.27L142.93 77.57L138.93 77.57Z" fill="none" stroke="#2f5aa6" stroke-width="0.9"/>
<path d="M143.11 65.9L145.11 69.2L141.11 69.2Z" fill="none" stroke="#e69a17" stroke-width="0.9"/>
<path d="M147.93 84.78L149.93 88.08L145.93 88.08Z" fill="none" stroke="#5b2a86" stroke-width="0.9"/>
<path d="M139.17 55.28L141.17 58.58L137.17 58.58Z" fill="none" stroke="#5b2a86" stroke-width="0.9"/>
<path d="M138.46 85.05L140.46 88.35L136.46 88.35Z" fill="none" stroke="#2f5aa6" stroke-width="0.9"/>
<path d="M140.99 92.61L142.99 95.91L138.99 95.91Z" fill="none" stroke="#5b2a86" stroke-width="0.9"/>
<path d="M148.13 90.7L150.13 94L146.13 94Z" fill="none" stroke="#5b2a86" stroke-width="0.9"/>
<path d="M148.07 87.59L150.07 90.89L146.07 90.89Z" fill="none" stroke="#5b2a86" stroke-width="0.9"/>
<path d="M138.06 65.29L140.06 68.59L136.06 68.59Z" fill="none" stroke="#5b2a86" stroke-width="0.9"/>
<path d="M141.25 85.04L143.25 88.34L139.25 88.34Z" fill="none" stroke="#5b2a86" stroke-width="0.9"/>
<path d="M147.21 65.6L149.21 68.9L145.21 68.9Z" fill="none" stroke="#68ad3e" stroke-width="0.9"/>
<path d="M139.02 63.44L141.02 66.74L137.02 66.74Z" fill="none" stroke="#5b2a86" stroke-width="0.9"/>
<path d="M147.23 85.73L149.23 89.03L145.23 89.03Z" fill="none" stroke="#5b2a86" stroke-width="0.9"/>
<path d="M140.59 53.13L142.59 56.43L138.59 56.43Z" fill="none" stroke="#e69a17" stroke-width="0.9"/>
<path d="M147.76 88.77L149.76 92.07L145.76 92.07Z" fill="none" stroke="#5b2a86" stroke-width="0.9"/>
<path d="M138.82 50.18L140.82 53.48L136.82 53.48Z" fill="none" stroke="#e69a17" stroke-width="0.9"/>
<path d="M137.78 66.09L139.78 69.39L135.78 69.39Z" fill="none" stroke="#5b2a86" stroke-width="0.9"/>
<path d="M145.47 52.9L147.47 56.2L143.47 56.2Z" fill="none" stroke="#5b2a86" stroke-width="0.9"/>
<path d="M138.16 72.33L140.16 75.63L136.16 75.63Z" fill="none" stroke="#2f5aa6" stroke-width="0.9"/>
<path d="M147.23 60.28L149.23 63.58L145.23 63.58Z" fill="none" stroke="#e69a17" stroke-width="0.9"/>
<path d="M142.82 82.59L144.82 85.89L140.82 85.89Z" fill="none" stroke="#c0174a" stroke-width="0.9"/>
<path d="M140.9 52.17L142.9 55.47L138.9 55.47Z" fill="none" stroke="#e69a17" stroke-width="0.9"/>
<path d="M139.64 86.07L141.64 89.37L137.64 89.37Z" fill="none" stroke="#5b2a86" stroke-width="0.9"/>
<path d="M137.38 54.79L139.38 58.09L135.38 58.09Z" fill="none" stroke="#e69a17" stroke-width="0.9"/>
<path d="M145.1 56.96L147.1 60.26L143.1 60.26Z" fill="none" stroke="#5b2a86" stroke-width="0.9"/>
<path d="M142.57 69.95L144.57 73.25L140.57 73.25Z" fill="none" stroke="#5b2a86" stroke-width="0.9"/>
<path d="M137.47 61.59L139.47 64.89L135.47 64.89Z" fill="none" stroke="#5b2a86" stroke-width="0.9"/>
<path d="M146.34 65.77L148.34 69.07L144.34 69.07Z" fill="none" stroke="#5b2a86" stroke-width="0.9"/>
<path d="M140.64 68.87L142.64 72.17L138.64 72.17Z" fill="none" stroke="#2f5aa6" stroke-width="0.9"/>
<path d="M137.02 58.38L139.02 61.68L135.02 61.68Z" fill="none" stroke="#5b2a86" stroke-width="0.9"/>
<path d="M143.03 95.11L145.03 98.41L141.03 98.41Z" fill="none" stroke="#5b2a86" stroke-width="0.9"/>
<path d="M144.77 62.23L146.77 65.53L142.77 65.53Z" fill="none" stroke="#5b2a86" stroke-width="0.9"/>
<path d="M141.99 77.56L143.99 80.86L139.99 80.86Z" fill="none" stroke="#5b2a86" stroke-width="0.9"/>
<path d="M139.93 72.15L141.93 75.45L137.93 75.45Z" fill="none" stroke="#5b2a86" stroke-width="0.9"/>
<path d="M138.21 69.68L140.21 72.98L136.21 72.98Z" fill="none" stroke="#5b2a86" stroke-width="0.9"/>
<path d="M142.68 81.05L144.68 84.35L140.68 84.35Z" fill="none" stroke="#5b2a86" stroke-width="0.9"/>
<path d="M146.82 81.92L148.82 85.22L144.82 85.22Z" fill="none" stroke="#5b2a86" stroke-width="0.9"/>
<path d="M147.01 73.36L149.01 76.66L145.01 76.66Z" fill="none" stroke="#5b2a86" stroke-width="0.9"/>
<path d="M141.83 69.77L143.83 73.07L139.83 73.07Z" fill="none" stroke="#5b2a86" stroke-width="0.9"/>
<path d="M145.68 75L147.68 78.3L143.68 78.3Z" fill="none" stroke="#e69a17" stroke-width="0.9"/>
<path d="M139.23 67.91L141.23 71.21L137.23 71.21Z" fill="none" stroke="#c0174a" stroke-width="0.9"/>
<path d="M139.11 81.86L141.11 85.16L137.11 85.16Z" fill="none" stroke="#5b2a86" stroke-width="0.9"/>
<path d="M142.28 59.97L144.28 63.27L140.28 63.27Z" fill="none" stroke="#5b2a86" stroke-width="0.9"/>
<path d="M140.2 51.5L142.2 54.8L138.2 54.8Z" fill="none" stroke="#5b2a86" stroke-width="0.9"/>
<path d="M139.8 62.48L141.8 65.78L137.8 65.78Z" fill="none" stroke="#5b2a86" stroke-width="0.9"/>
<path d="M145.38 92.72L147.38 96.02L143.38 96.02Z" fill="none" stroke="#5b2a86" stroke-width="0.9"/>
<path d="M141.77 91.54L143.77 94.84L139.77 94.84Z" fill="none" stroke="#5b2a86" stroke-width="0.9"/>
<path d="M136.68 70.63L138.68 73.93L134.68 73.93Z" fill="none" stroke="#5b2a86" stroke-width="0.9"/>
<path d="M142.41 94.22L144.41 97.52L140.41 97.52Z" fill="none" stroke="#68ad3e" stroke-width="0.9"/>
<path d="M139.87 69.32L141.87 72.62L137.87 72.62Z" fill="none" stroke="#5b2a86" stroke-width="0.9"/>
<path d="M145.2 59.98L147.2 63.28L143.2 63.28Z" fill="none" stroke="#2f5aa6" stroke-width="0.9"/>
<path d="M141.74 89.42L143.74 92.72L139.74 92.72Z" fill="none" stroke="#e69a17" stroke-width="0.9"/>
<path d="M136.55 91.33L138.55 94.63L134.55 94.63Z" fill="none" stroke="#2f5aa6" stroke-width="0.9"/>
<path d="M140.86 51.69L142.86 54.99L138.86 54.99Z" fill="none" stroke="#5b2a86" stroke-width="0.9"/>
<path d="M137.19 78.46L139.19 81.76L135.19 81.76Z" fill="none" stroke="#5b2a86" stroke-width="0.9"/>
<path d="M144.28 83.42L146.28 86.72L142.28 86.72Z" fill="none" stroke="#e69a17" stroke-width="0.9"/>
<path d="M144.72 91.73L146.72 95.03L142.72 95.03Z" fill="none" stroke="#e69a17" stroke-width="0.9"/>
<path d="M141.46 61.94L143.46 65.24L139.46 65.24Z" fill="none" stroke="#2f5aa6" stroke-width="0.9"/>
<path d="M141.52 67.19L143.52 70.49L139.52 70.49Z" fill="none" stroke="#2f5aa6" stroke-width="0.9"/>
<path d="M136.09 72.94L138.09 76.24L134.09 76.24Z" fill="none" stroke="#5b2a86" stroke-width="0.9"/>
<path d="M146.68 85.15L148.68 88.45L144.68 88.45Z" fill="none" stroke="#5b2a86" stroke-width="0.9"/>
<path d="M139.71 53.49L141.71 56.79L137.71 56.79Z" fill="none" stroke="#e69a17" stroke-width="0.9"/>
<path d="M148.13 69.38L150.13 72.68L146.13 72.68Z" fill="none" stroke="#2f5aa6" stroke-width="0.9"/>
<path d="M144.31 53.67L146.31 56.97L142.31 56.97Z" fill="none" stroke="#5b2a86" stroke-width="0.9"/>
<path d="M148.35 81.52L150.35 84.82L146.35 84.82Z" fill="none" stroke="#c0174a" stroke-width="0.9"/>
<path d="M141.05 87.16L143.05 90.46L139.05 90.46Z" fill="none" stroke="#5b2a86" stroke-width="0.9"/>
<path d="M146.04 58.93L148.04 62.23L144.04 62.23Z" fill="none" stroke="#e69a17" stroke-width="0.9"/>
<path d="M138.18 75.67L140.18 78.97L136.18 78.97Z" fill="none" stroke="#5b2a86" stroke-width="0.9"/>
<path d="M137 87.4L139 90.7L135 90.7Z" fill="none" stroke="#e69a17" stroke-width="0.9"/>
<path d="M143.73 51.86L145.73 55.16L141.73 55.16Z" fill="none" stroke="#5b2a86" stroke-width="0.9"/>
<path d="M139.63 89.14L141.63 92.44L137.63 92.44Z" fill="none" stroke="#2f5aa6" stroke-width="0.9"/>
<path d="M143.17 50.2L145.17 53.5L141.17 53.5Z" fill="none" stroke="#68ad3e" stroke-width="0.9"/>
<path d="M146.33 62.61L148.33 65.91L144.33 65.91Z" fill="none" stroke="#5b2a86" stroke-width="0.9"/>
<path d="M143.15 49.86L145.15 53.16L141.15 53.16Z" fill="none" stroke="#5b2a86" stroke-width="0.9"/>
<path d="M136.43 82.41L138.43 85.71L134.43 85.71Z" fill="none" stroke="#5b2a86" stroke-width="0.9"/>
<path d="M142.24 63.27L144.24 66.57L140.24 66.57Z" fill="none" stroke="#5b2a86" stroke-width="0.9"/>
<path d="M138.53 54.17L140.53 57.47L136.53 57.47Z" fill="none" stroke="#5b2a86" stroke-width="0.9"/>
<path d="M142.31 51.09L144.31 54.39L140.31 54.39Z" fill="none" stroke="#5b2a86" stroke-width="0.9"/>
<path d="M139.66 73.07L141.66 76.37L137.66 76.37Z" fill="none" stroke="#5b2a86" stroke-width="0.9"/>
<path d="M142.53 49.16L144.53 52.46L140.53 52.46Z" fill="none" stroke="#c0174a" stroke-width="0.9"/>
<path d="M142.72 56.75L144.72 60.05L140.72 60.05Z" fill="none" stroke="#5b2a86" stroke-width="0.9"/>
<path d="M146.05 70.46L148.05 73.76L144.05 73.76Z" fill="none" stroke="#5b2a86" stroke-width="0.9"/>
<path d="M147.16 70.41L149.16 73.71L145.16 73.71Z" fill="none" stroke="#5b2a86" stroke-width="0.9"/>
<path d="M136.59 85.66L138.59 88.96L134.59 88.96Z" fill="none" stroke="#5b2a86" stroke-width="0.9"/>
<path d="M146.71 85.38L148.71 88.68L144.71 88.68Z" fill="none" stroke="#5b2a86" stroke-width="0.9"/>
<path d="M139.84 67.84L141.84 71.14L137.84 71.14Z" fill="none" stroke="#5b2a86" stroke-width="0.9"/>
<path d="M146.34 63.92L148.34 67.22L144.34 67.22Z" fill="none" stroke="#2f5aa6" stroke-width="0.9"/>
<path d="M142.91 88.6L144.91 91.9L140.91 91.9Z" fill="none" stroke="#c0174a" stroke-width="0.9"/>
<path d="M138.32 74.73L140.32 78.03L136.32 78.03Z" fill="none" stroke="#2f5aa6" stroke-width="0.9"/>
<path d="M138.53 64.63L140.53 67.93L136.53 67.93Z" fill="none" stroke="#5b2a86" stroke-width="0.9"/>
<path d="M147.92 92.25L149.92 95.55L145.92 95.55Z" fill="none" stroke="#e69a17" stroke-width="0.9"/>
<path d="M139.13 74.24L141.13 77.54L137.13 77.54Z" fill="none" stroke="#5b2a86" stroke-width="0.9"/>
<path d="M147.92 62.34L149.92 65.64L145.92 65.64Z" fill="none" stroke="#e69a17" stroke-width="0.9"/>
<path d="M142.26 85.9L144.26 89.2L140.26 89.2Z" fill="none" stroke="#2f5aa6" stroke-width="0.9"/>
<path d="M146.99 83.42L148.99 86.72L144.99 86.72Z" fill="none" stroke="#c0174a" stroke-width="0.9"/>
<path d="M143.32 93.57L145.32 96.87L141.32 96.87Z" fill="none" stroke="#e69a17" stroke-width="0.9"/>
<path d="M137.3 99.2L146.7 99.2L148.9 102.5L135.1 102.5Z" fill="#e69a17" stroke="#e69a17" stroke-width="0.5" stroke-linejoin="round"/>
</g>
<g transform="translate(0.5,0)">
<path d="M165.5 49 L167 49 L169.5 54 L171.3 62 L171.9 70 L171.9 90 L171.9 100.5 L159.1 100.5 L159.1 90 L159.1 70 L159.7 62 L161.5 54 L164 49Z" fill="#4b2c7e" stroke="#5b2a86" stroke-width="0.6" stroke-linejoin="round"/>
<path d="M166.15 77.64L168.15 80.94L164.15 80.94Z" fill="none" stroke="#2f5aa6" stroke-width="0.9"/>
<path d="M170.04 69.32L172.04 72.62L168.04 72.62Z" fill="none" stroke="#5b2a86" stroke-width="0.9"/>
<path d="M168.56 96.8L170.56 100.1L166.56 100.1Z" fill="none" stroke="#5b2a86" stroke-width="0.9"/>
<path d="M162.71 81.68L164.71 84.98L160.71 84.98Z" fill="none" stroke="#5b2a86" stroke-width="0.9"/>
<path d="M164.97 52.96L166.97 56.26L162.97 56.26Z" fill="none" stroke="#c0174a" stroke-width="0.9"/>
<path d="M165.98 58.45L167.98 61.75L163.98 61.75Z" fill="none" stroke="#5b2a86" stroke-width="0.9"/>
<path d="M167.28 54.96L169.28 58.26L165.28 58.26Z" fill="none" stroke="#5b2a86" stroke-width="0.9"/>
<path d="M167.37 48.46L169.37 51.76L165.37 51.76Z" fill="none" stroke="#2f5aa6" stroke-width="0.9"/>
<path d="M165.24 48.53L167.24 51.83L163.24 51.83Z" fill="none" stroke="#5b2a86" stroke-width="0.9"/>
<path d="M163.04 80.23L165.04 83.53L161.04 83.53Z" fill="none" stroke="#2f5aa6" stroke-width="0.9"/>
<path d="M167.69 48.48L169.69 51.78L165.69 51.78Z" fill="none" stroke="#2f5aa6" stroke-width="0.9"/>
<path d="M169.7 66.81L171.7 70.11L167.7 70.11Z" fill="none" stroke="#2f5aa6" stroke-width="0.9"/>
<path d="M160.09 62.39L162.09 65.69L158.09 65.69Z" fill="none" stroke="#5b2a86" stroke-width="0.9"/>
<path d="M170.35 68.17L172.35 71.47L168.35 71.47Z" fill="none" stroke="#5b2a86" stroke-width="0.9"/>
<path d="M170.04 89.3L172.04 92.6L168.04 92.6Z" fill="none" stroke="#5b2a86" stroke-width="0.9"/>
<path d="M166.83 59.39L168.83 62.69L164.83 62.69Z" fill="none" stroke="#5b2a86" stroke-width="0.9"/>
<path d="M165.93 71.41L167.93 74.71L163.93 74.71Z" fill="none" stroke="#5b2a86" stroke-width="0.9"/>
<path d="M163.84 52.53L165.84 55.83L161.84 55.83Z" fill="none" stroke="#2f5aa6" stroke-width="0.9"/>
<path d="M160.24 87.66L162.24 90.96L158.24 90.96Z" fill="none" stroke="#2f5aa6" stroke-width="0.9"/>
<path d="M166.96 91.83L168.96 95.13L164.96 95.13Z" fill="none" stroke="#c0174a" stroke-width="0.9"/>
<path d="M165.08 76.74L167.08 80.04L163.08 80.04Z" fill="none" stroke="#5b2a86" stroke-width="0.9"/>
<path d="M167.63 76.46L169.63 79.76L165.63 79.76Z" fill="none" stroke="#e69a17" stroke-width="0.9"/>
<path d="M164.02 53.88L166.02 57.18L162.02 57.18Z" fill="none" stroke="#2f5aa6" stroke-width="0.9"/>
<path d="M162.97 81.78L164.97 85.08L160.97 85.08Z" fill="none" stroke="#5b2a86" stroke-width="0.9"/>
<path d="M163.44 49.36L165.44 52.66L161.44 52.66Z" fill="none" stroke="#5b2a86" stroke-width="0.9"/>
<path d="M160.7 90.08L162.7 93.38L158.7 93.38Z" fill="none" stroke="#5b2a86" stroke-width="0.9"/>
<path d="M168.1 63.23L170.1 66.53L166.1 66.53Z" fill="none" stroke="#5b2a86" stroke-width="0.9"/>
<path d="M164.1 46.57L166.1 49.87L162.1 49.87Z" fill="none" stroke="#5b2a86" stroke-width="0.9"/>
<path d="M159.9 64.5L161.9 67.8L157.9 67.8Z" fill="none" stroke="#5b2a86" stroke-width="0.9"/>
<path d="M168.21 59.87L170.21 63.17L166.21 63.17Z" fill="none" stroke="#2f5aa6" stroke-width="0.9"/>
<path d="M167.04 47.14L169.04 50.44L165.04 50.44Z" fill="none" stroke="#5b2a86" stroke-width="0.9"/>
<path d="M164.49 66.88L166.49 70.18L162.49 70.18Z" fill="none" stroke="#5b2a86" stroke-width="0.9"/>
<path d="M167.25 51.71L169.25 55.01L165.25 55.01Z" fill="none" stroke="#2f5aa6" stroke-width="0.9"/>
<path d="M171.69 87.12L173.69 90.42L169.69 90.42Z" fill="none" stroke="#2f5aa6" stroke-width="0.9"/>
<path d="M167.54 61.74L169.54 65.04L165.54 65.04Z" fill="none" stroke="#2f5aa6" stroke-width="0.9"/>
<path d="M168.3 57.92L170.3 61.22L166.3 61.22Z" fill="none" stroke="#2f5aa6" stroke-width="0.9"/>
<path d="M169.22 76.84L171.22 80.14L167.22 80.14Z" fill="none" stroke="#5b2a86" stroke-width="0.9"/>
<path d="M163.27 90.02L165.27 93.32L161.27 93.32Z" fill="none" stroke="#5b2a86" stroke-width="0.9"/>
<path d="M166.97 75.43L168.97 78.73L164.97 78.73Z" fill="none" stroke="#5b2a86" stroke-width="0.9"/>
<path d="M168.86 89.35L170.86 92.65L166.86 92.65Z" fill="none" stroke="#5b2a86" stroke-width="0.9"/>
<path d="M164.19 92.05L166.19 95.35L162.19 95.35Z" fill="none" stroke="#5b2a86" stroke-width="0.9"/>
<path d="M163.05 97.08L165.05 100.38L161.05 100.38Z" fill="none" stroke="#5b2a86" stroke-width="0.9"/>
<path d="M168 90.55L170 93.85L166 93.85Z" fill="none" stroke="#5b2a86" stroke-width="0.9"/>
<path d="M167.85 88.07L169.85 91.37L165.85 91.37Z" fill="none" stroke="#5b2a86" stroke-width="0.9"/>
<path d="M171.44 73.65L173.44 76.95L169.44 76.95Z" fill="none" stroke="#5b2a86" stroke-width="0.9"/>
<path d="M165.07 51.5L167.07 54.8L163.07 54.8Z" fill="none" stroke="#5b2a86" stroke-width="0.9"/>
<path d="M164.67 95.96L166.67 99.26L162.67 99.26Z" fill="none" stroke="#5b2a86" stroke-width="0.9"/>
<path d="M169.01 85.91L171.01 89.21L167.01 89.21Z" fill="none" stroke="#5b2a86" stroke-width="0.9"/>
<path d="M171.23 81.46L173.23 84.76L169.23 84.76Z" fill="none" stroke="#5b2a86" stroke-width="0.9"/>
<path d="M170.81 60.51L172.81 63.81L168.81 63.81Z" fill="none" stroke="#5b2a86" stroke-width="0.9"/>
<path d="M161.51 71.57L163.51 74.87L159.51 74.87Z" fill="none" stroke="#5b2a86" stroke-width="0.9"/>
<path d="M170.53 66.96L172.53 70.26L168.53 70.26Z" fill="none" stroke="#5b2a86" stroke-width="0.9"/>
<path d="M162.71 70.28L164.71 73.58L160.71 73.58Z" fill="none" stroke="#5b2a86" stroke-width="0.9"/>
<path d="M167.47 90.02L169.47 93.32L165.47 93.32Z" fill="none" stroke="#5b2a86" stroke-width="0.9"/>
<path d="M164.81 73.77L166.81 77.07L162.81 77.07Z" fill="none" stroke="#5b2a86" stroke-width="0.9"/>
<path d="M159.35 63.25L161.35 66.55L157.35 66.55Z" fill="none" stroke="#5b2a86" stroke-width="0.9"/>
<path d="M169.21 90.26L171.21 93.56L167.21 93.56Z" fill="none" stroke="#5b2a86" stroke-width="0.9"/>
<path d="M167.23 47.02L169.23 50.32L165.23 50.32Z" fill="none" stroke="#5b2a86" stroke-width="0.9"/>
<path d="M169.44 58.79L171.44 62.09L167.44 62.09Z" fill="none" stroke="#5b2a86" stroke-width="0.9"/>
<path d="M169.21 68.91L171.21 72.21L167.21 72.21Z" fill="none" stroke="#2f5aa6" stroke-width="0.9"/>
<path d="M171.06 76.12L173.06 79.42L169.06 79.42Z" fill="none" stroke="#5b2a86" stroke-width="0.9"/>
<path d="M167.96 73.11L169.96 76.41L165.96 76.41Z" fill="none" stroke="#2f5aa6" stroke-width="0.9"/>
<path d="M167.2 70.84L169.2 74.14L165.2 74.14Z" fill="none" stroke="#5b2a86" stroke-width="0.9"/>
<path d="M166.54 84.05L168.54 87.35L164.54 87.35Z" fill="none" stroke="#e69a17" stroke-width="0.9"/>
<path d="M161.44 73.57L163.44 76.87L159.44 76.87Z" fill="none" stroke="#2f5aa6" stroke-width="0.9"/>
<path d="M160.63 69.55L162.63 72.85L158.63 72.85Z" fill="none" stroke="#c0174a" stroke-width="0.9"/>
<path d="M161.12 71.85L163.12 75.15L159.12 75.15Z" fill="none" stroke="#5b2a86" stroke-width="0.9"/>
<path d="M170.45 59.32L172.45 62.62L168.45 62.62Z" fill="none" stroke="#2f5aa6" stroke-width="0.9"/>
<path d="M166.51 47.91L168.51 51.21L164.51 51.21Z" fill="none" stroke="#5b2a86" stroke-width="0.9"/>
<path d="M168.71 68.85L170.71 72.15L166.71 72.15Z" fill="none" stroke="#5b2a86" stroke-width="0.9"/>
<path d="M170.99 61.29L172.99 64.59L168.99 64.59Z" fill="none" stroke="#2f5aa6" stroke-width="0.9"/>
<path d="M168.71 89.32L170.71 92.62L166.71 92.62Z" fill="none" stroke="#c0174a" stroke-width="0.9"/>
<path d="M168.74 85.34L170.74 88.64L166.74 88.64Z" fill="none" stroke="#5b2a86" stroke-width="0.9"/>
<path d="M171.27 82.74L173.27 86.04L169.27 86.04Z" fill="none" stroke="#5b2a86" stroke-width="0.9"/>
<path d="M161.21 83.44L163.21 86.74L159.21 86.74Z" fill="none" stroke="#5b2a86" stroke-width="0.9"/>
<path d="M168.54 73.63L170.54 76.93L166.54 76.93Z" fill="none" stroke="#5b2a86" stroke-width="0.9"/>
<path d="M170.88 58.4L172.88 61.7L168.88 61.7Z" fill="none" stroke="#5b2a86" stroke-width="0.9"/>
<path d="M168.07 52.25L170.07 55.55L166.07 55.55Z" fill="none" stroke="#5b2a86" stroke-width="0.9"/>
<path d="M159.3 95.56L161.3 98.86L157.3 98.86Z" fill="none" stroke="#2f5aa6" stroke-width="0.9"/>
<path d="M168.34 81.44L170.34 84.74L166.34 84.74Z" fill="none" stroke="#5b2a86" stroke-width="0.9"/>
<path d="M165.56 72.32L167.56 75.62L163.56 75.62Z" fill="none" stroke="#5b2a86" stroke-width="0.9"/>
<path d="M166.25 50.71L168.25 54.01L164.25 54.01Z" fill="none" stroke="#5b2a86" stroke-width="0.9"/>
<path d="M161.99 97.34L163.99 100.64L159.99 100.64Z" fill="none" stroke="#5b2a86" stroke-width="0.9"/>
<path d="M160.67 80.34L162.67 83.64L158.67 83.64Z" fill="none" stroke="#5b2a86" stroke-width="0.9"/>
<path d="M167.81 50.71L169.81 54.01L165.81 54.01Z" fill="none" stroke="#2f5aa6" stroke-width="0.9"/>
<path d="M163.85 52.26L165.85 55.56L161.85 55.56Z" fill="none" stroke="#2f5aa6" stroke-width="0.9"/>
<path d="M162.98 49.11L164.98 52.41L160.98 52.41Z" fill="none" stroke="#5b2a86" stroke-width="0.9"/>
<path d="M162.18 86.48L164.18 89.78L160.18 89.78Z" fill="none" stroke="#2f5aa6" stroke-width="0.9"/>
<path d="M166.69 54.6L168.69 57.9L164.69 57.9Z" fill="none" stroke="#2f5aa6" stroke-width="0.9"/>
<path d="M161.2 79.34L163.2 82.64L159.2 82.64Z" fill="none" stroke="#5b2a86" stroke-width="0.9"/>
<path d="M163.46 59.24L165.46 62.54L161.46 62.54Z" fill="none" stroke="#5b2a86" stroke-width="0.9"/>
<path d="M161.36 93.38L163.36 96.68L159.36 96.68Z" fill="none" stroke="#5b2a86" stroke-width="0.9"/>
<path d="M159.95 86.76L161.95 90.06L157.95 90.06Z" fill="none" stroke="#2f5aa6" stroke-width="0.9"/>
<path d="M167.08 93.16L169.08 96.46L165.08 96.46Z" fill="none" stroke="#c0174a" stroke-width="0.9"/>
<path d="M169.18 69.75L171.18 73.05L167.18 73.05Z" fill="none" stroke="#e69a17" stroke-width="0.9"/>
<path d="M164.88 71.85L166.88 75.15L162.88 75.15Z" fill="none" stroke="#c0174a" stroke-width="0.9"/>
<path d="M165.56 82.28L167.56 85.58L163.56 85.58Z" fill="none" stroke="#5b2a86" stroke-width="0.9"/>
<path d="M171.74 83.39L173.74 86.69L169.74 86.69Z" fill="none" stroke="#5b2a86" stroke-width="0.9"/>
<path d="M165.6 70.22L167.6 73.52L163.6 73.52Z" fill="none" stroke="#5b2a86" stroke-width="0.9"/>
<path d="M168.46 88.94L170.46 92.24L166.46 92.24Z" fill="none" stroke="#5b2a86" stroke-width="0.9"/>
<path d="M169.57 82.37L171.57 85.67L167.57 85.67Z" fill="none" stroke="#5b2a86" stroke-width="0.9"/>
<path d="M162.08 75.84L164.08 79.14L160.08 79.14Z" fill="none" stroke="#5b2a86" stroke-width="0.9"/>
<path d="M166.33 79.94L168.33 83.24L164.33 83.24Z" fill="none" stroke="#5b2a86" stroke-width="0.9"/>
<path d="M159.83 60.57L161.83 63.87L157.83 63.87Z" fill="none" stroke="#5b2a86" stroke-width="0.9"/>
<path d="M163.57 76.16L165.57 79.46L161.57 79.46Z" fill="none" stroke="#2f5aa6" stroke-width="0.9"/>
<path d="M165.11 66.07L167.11 69.37L163.11 69.37Z" fill="none" stroke="#5b2a86" stroke-width="0.9"/>
<path d="M161.76 73.78L163.76 77.08L159.76 77.08Z" fill="none" stroke="#5b2a86" stroke-width="0.9"/>
<path d="M167.31 68.4L169.31 71.7L165.31 71.7Z" fill="none" stroke="#5b2a86" stroke-width="0.9"/>
<path d="M166.26 57.94L168.26 61.24L164.26 61.24Z" fill="none" stroke="#2f5aa6" stroke-width="0.9"/>
<path d="M161.57 57.16L163.57 60.46L159.57 60.46Z" fill="none" stroke="#2f5aa6" stroke-width="0.9"/>
<path d="M166.31 63.9L168.31 67.2L164.31 67.2Z" fill="none" stroke="#5b2a86" stroke-width="0.9"/>
<path d="M163.05 72.71L165.05 76.01L161.05 76.01Z" fill="none" stroke="#5b2a86" stroke-width="0.9"/>
<path d="M167.86 82.41L169.86 85.71L165.86 85.71Z" fill="none" stroke="#c0174a" stroke-width="0.9"/>
<path d="M170.12 71.98L172.12 75.28L168.12 75.28Z" fill="none" stroke="#5b2a86" stroke-width="0.9"/>
<path d="M161.1 97.47L163.1 100.77L159.1 100.77Z" fill="none" stroke="#5b2a86" stroke-width="0.9"/>
<path d="M164.47 86.13L166.47 89.43L162.47 89.43Z" fill="none" stroke="#5b2a86" stroke-width="0.9"/>
<path d="M161.72 92.19L163.72 95.49L159.72 95.49Z" fill="none" stroke="#5b2a86" stroke-width="0.9"/>
<path d="M166.04 47.01L168.04 50.31L164.04 50.31Z" fill="none" stroke="#c0174a" stroke-width="0.9"/>
<path d="M165.56 58.55L167.56 61.85L163.56 61.85Z" fill="none" stroke="#5b2a86" stroke-width="0.9"/>
<path d="M169.77 71.76L171.77 75.06L167.77 75.06Z" fill="none" stroke="#2f5aa6" stroke-width="0.9"/>
<path d="M165.14 76.49L167.14 79.79L163.14 79.79Z" fill="none" stroke="#2f5aa6" stroke-width="0.9"/>
<path d="M162.9 69.16L164.9 72.46L160.9 72.46Z" fill="none" stroke="#5b2a86" stroke-width="0.9"/>
<path d="M162 80.49L164 83.79L160 83.79Z" fill="none" stroke="#2f5aa6" stroke-width="0.9"/>
<path d="M159.69 65.53L161.69 68.83L157.69 68.83Z" fill="none" stroke="#2f5aa6" stroke-width="0.9"/>
<path d="M170.9 92.12L172.9 95.42L168.9 95.42Z" fill="none" stroke="#e69a17" stroke-width="0.9"/>
<path d="M168.07 48.58L170.07 51.88L166.07 51.88Z" fill="none" stroke="#2f5aa6" stroke-width="0.9"/>
<path d="M159 92.41L161 95.71L157 95.71Z" fill="none" stroke="#2f5aa6" stroke-width="0.9"/>
<path d="M169.47 56.37L171.47 59.67L167.47 59.67Z" fill="none" stroke="#5b2a86" stroke-width="0.9"/>
<path d="M166 49.07L168 52.37L164 52.37Z" fill="none" stroke="#2f5aa6" stroke-width="0.9"/>
<path d="M164.33 73.82L166.33 77.12L162.33 77.12Z" fill="none" stroke="#5b2a86" stroke-width="0.9"/>
<path d="M159.01 83.71L161.01 87.01L157.01 87.01Z" fill="none" stroke="#5b2a86" stroke-width="0.9"/>
<path d="M165.19 51.18L167.19 54.48L163.19 54.48Z" fill="none" stroke="#5b2a86" stroke-width="0.9"/>
<path d="M168.39 58.91L170.39 62.21L166.39 62.21Z" fill="none" stroke="#5b2a86" stroke-width="0.9"/>
<path d="M164.08 91.13L166.08 94.43L162.08 94.43Z" fill="none" stroke="#2f5aa6" stroke-width="0.9"/>
<path d="M163.12 69.56L165.12 72.86L161.12 72.86Z" fill="none" stroke="#5b2a86" stroke-width="0.9"/>
<path d="M159.58 77.91L161.58 81.21L157.58 81.21Z" fill="none" stroke="#5b2a86" stroke-width="0.9"/>
<path d="M162.76 67.23L164.76 70.53L160.76 70.53Z" fill="none" stroke="#5b2a86" stroke-width="0.9"/>
<path d="M170.53 71.43L172.53 74.73L168.53 74.73Z" fill="none" stroke="#2f5aa6" stroke-width="0.9"/>
<path d="M166.75 62.07L168.75 65.37L164.75 65.37Z" fill="none" stroke="#5b2a86" stroke-width="0.9"/>
<path d="M167.15 83.66L169.15 86.96L165.15 86.96Z" fill="none" stroke="#5b2a86" stroke-width="0.9"/>
<path d="M167.89 53.56L169.89 56.86L165.89 56.86Z" fill="none" stroke="#5b2a86" stroke-width="0.9"/>
<path d="M159.6 75.66L161.6 78.96L157.6 78.96Z" fill="none" stroke="#5b2a86" stroke-width="0.9"/>
<path d="M159.72 61.07L161.72 64.37L157.72 64.37Z" fill="none" stroke="#5b2a86" stroke-width="0.9"/>
<path d="M165.68 58.51L167.68 61.81L163.68 61.81Z" fill="none" stroke="#2f5aa6" stroke-width="0.9"/>
<path d="M165.54 47.69L167.54 50.99L163.54 50.99Z" fill="none" stroke="#5b2a86" stroke-width="0.9"/>
<path d="M168.16 77.67L170.16 80.97L166.16 80.97Z" fill="none" stroke="#5b2a86" stroke-width="0.9"/>
<path d="M169.71 58.97L171.71 62.27L167.71 62.27Z" fill="none" stroke="#2f5aa6" stroke-width="0.9"/>
<path d="M165.84 54.78L167.84 58.08L163.84 58.08Z" fill="none" stroke="#5b2a86" stroke-width="0.9"/>
<path d="M164.69 54.13L166.69 57.43L162.69 57.43Z" fill="none" stroke="#5b2a86" stroke-width="0.9"/>
<path d="M170.56 80.27L172.56 83.57L168.56 83.57Z" fill="none" stroke="#5b2a86" stroke-width="0.9"/>
<path d="M163.75 97.49L165.75 100.79L161.75 100.79Z" fill="none" stroke="#2f5aa6" stroke-width="0.9"/>
<path d="M164.83 66.66L166.83 69.96L162.83 69.96Z" fill="none" stroke="#2f5aa6" stroke-width="0.9"/>
<path d="M159.8 84.67L161.8 87.97L157.8 87.97Z" fill="none" stroke="#5b2a86" stroke-width="0.9"/>
<path d="M163.09 64.16L165.09 67.46L161.09 67.46Z" fill="none" stroke="#5b2a86" stroke-width="0.9"/>
<path d="M162.87 95.24L164.87 98.54L160.87 98.54Z" fill="none" stroke="#5b2a86" stroke-width="0.9"/>
<path d="M163.29 68.52L165.29 71.82L161.29 71.82Z" fill="none" stroke="#5b2a86" stroke-width="0.9"/>
<path d="M160.39 73.44L162.39 76.74L158.39 76.74Z" fill="none" stroke="#2f5aa6" stroke-width="0.9"/>
<path d="M168.85 79.02L170.85 82.32L166.85 82.32Z" fill="none" stroke="#5b2a86" stroke-width="0.9"/>
<path d="M167.74 55.23L169.74 58.53L165.74 58.53Z" fill="none" stroke="#2f5aa6" stroke-width="0.9"/>
<path d="M168.43 92.48L170.43 95.78L166.43 95.78Z" fill="none" stroke="#5b2a86" stroke-width="0.9"/>
<path d="M167.93 61.34L169.93 64.64L165.93 64.64Z" fill="none" stroke="#5b2a86" stroke-width="0.9"/>
<path d="M164.09 60.82L166.09 64.12L162.09 64.12Z" fill="none" stroke="#2f5aa6" stroke-width="0.9"/>
<path d="M164.41 47.51L166.41 50.81L162.41 50.81Z" fill="none" stroke="#5b2a86" stroke-width="0.9"/>
<path d="M164.71 46.35L166.71 49.65L162.71 49.65Z" fill="none" stroke="#2f5aa6" stroke-width="0.9"/>
<path d="M168.7 70.28L170.7 73.58L166.7 73.58Z" fill="none" stroke="#5b2a86" stroke-width="0.9"/>
<path d="M160.97 83.2L162.97 86.5L158.97 86.5Z" fill="none" stroke="#5b2a86" stroke-width="0.9"/>
<path d="M159.73 87.16L161.73 90.46L157.73 90.46Z" fill="none" stroke="#5b2a86" stroke-width="0.9"/>
<path d="M170.57 63.32L172.57 66.62L168.57 66.62Z" fill="none" stroke="#5b2a86" stroke-width="0.9"/>
<path d="M172.04 67.49L174.04 70.79L170.04 70.79Z" fill="none" stroke="#5b2a86" stroke-width="0.9"/>
<path d="M159.86 95.77L161.86 99.07L157.86 99.07Z" fill="none" stroke="#5b2a86" stroke-width="0.9"/>
<path d="M170 55.1L172 58.4L168 58.4Z" fill="none" stroke="#e69a17" stroke-width="0.9"/>
<path d="M164 66.1L166 69.4L162 69.4Z" fill="none" stroke="#e69a17" stroke-width="0.9"/>
<path d="M166.5 70.1L168.5 73.4L164.5 73.4Z" fill="none" stroke="#e69a17" stroke-width="0.9"/>
<path d="M168 76.1L170 79.4L166 79.4Z" fill="none" stroke="#e69a17" stroke-width="0.9"/>
<path d="M164 81.6L166 84.9L162 84.9Z" fill="none" stroke="#e69a17" stroke-width="0.9"/>
<path d="M161 45.6L163 48.9L159 48.9Z" fill="none" stroke="#c0174a" stroke-width="0.9"/>
<path d="M167 45.6L169 48.9L165 48.9Z" fill="none" stroke="#5b2a86" stroke-width="0.9"/>
<path d="M160.75 99.2L170.25 99.2L172.45 102.5L158.55 102.5Z" fill="#e69a17" stroke="#e69a17" stroke-width="0.5" stroke-linejoin="round"/>
</g>
<g transform="translate(-0.1,0)">
<line x1="189.5" y1="53" x2="189.5" y2="100.7" stroke="#1a1a1a" stroke-width="0.8"/>
<path d="M189.8 92C190.35 92.67 190.8 94.83 192.5 96C194.2 97.17 198.7 98.23 200 99C201.3 99.77 202.03 100.23 200.3 100.6C198.57 100.97 191.42 101.1 189.6 101.2C187.78 101.3 191.22 101.3 189.4 101.2C187.58 101.1 180.43 100.97 178.7 100.6C176.97 100.23 177.7 99.77 179 99C180.3 98.23 184.8 97.17 186.5 96C188.2 94.83 188.65 92.67 189.2 92C189.75 91.33 189.25 91.33 189.8 92" fill="none" stroke="#1a1a1a" stroke-width="0.8" stroke-linejoin="round"/>
<path d="M187 51.6L189 54.9L185 54.9Z" fill="none" stroke="#68ad3e" stroke-width="0.9"/>
<path d="M190 51.1L192 54.4L188 54.4Z" fill="none" stroke="#68ad3e" stroke-width="0.9"/>
<path d="M193 52.1L195 55.4L191 55.4Z" fill="none" stroke="#68ad3e" stroke-width="0.9"/>
<path d="M188.5 53.6L190.5 56.9L186.5 56.9Z" fill="none" stroke="#68ad3e" stroke-width="0.9"/>
<path d="M191.5 53.6L193.5 56.9L189.5 56.9Z" fill="none" stroke="#68ad3e" stroke-width="0.9"/>
<path d="M191.7 75.17L193.7 78.47L189.7 78.47Z" fill="none" stroke="#c0174a" stroke-width="0.9"/>
<path d="M193.9 76.02L195.9 79.32L191.9 79.32Z" fill="none" stroke="#68ad3e" stroke-width="0.9"/>
<path d="M184.64 92.12L186.64 95.42L182.64 95.42Z" fill="none" stroke="#68ad3e" stroke-width="0.9"/>
<path d="M189.96 66.61L191.96 69.91L187.96 69.91Z" fill="none" stroke="#c0174a" stroke-width="0.9"/>
<path d="M184.21 75.97L186.21 79.27L182.21 79.27Z" fill="none" stroke="#c0174a" stroke-width="0.9"/>
<path d="M184.96 58.29L186.96 61.59L182.96 61.59Z" fill="none" stroke="#e69a17" stroke-width="0.9"/>
<path d="M189.05 79.28L191.05 82.58L187.05 82.58Z" fill="none" stroke="#68ad3e" stroke-width="0.9"/>
<path d="M184.68 86.92L186.68 90.22L182.68 90.22Z" fill="none" stroke="#e69a17" stroke-width="0.9"/>
<path d="M193.97 73.56L195.97 76.86L191.97 76.86Z" fill="none" stroke="#68ad3e" stroke-width="0.9"/>
<path d="M184 71.45L186 74.75L182 74.75Z" fill="none" stroke="#5b2a86" stroke-width="0.9"/>
<path d="M187.56 81.49L189.56 84.79L185.56 84.79Z" fill="none" stroke="#68ad3e" stroke-width="0.9"/>
<path d="M187.77 91.96L189.77 95.26L185.77 95.26Z" fill="none" stroke="#68ad3e" stroke-width="0.9"/>
<path d="M187.86 75.91L189.86 79.21L185.86 79.21Z" fill="none" stroke="#e69a17" stroke-width="0.9"/>
<path d="M192.7 60.39L194.7 63.69L190.7 63.69Z" fill="none" stroke="#e69a17" stroke-width="0.9"/>
<path d="M191.66 60.39L193.66 63.69L189.66 63.69Z" fill="none" stroke="#e69a17" stroke-width="0.9"/>
<path d="M193.92 86.9L195.92 90.2L191.92 90.2Z" fill="none" stroke="#2f5aa6" stroke-width="0.9"/>
<path d="M190.54 82.68L192.54 85.98L188.54 85.98Z" fill="none" stroke="#c0174a" stroke-width="0.9"/>
<path d="M190.01 63.18L192.01 66.48L188.01 66.48Z" fill="none" stroke="#2f5aa6" stroke-width="0.9"/>
<path d="M192.25 71.23L194.25 74.53L190.25 74.53Z" fill="none" stroke="#e69a17" stroke-width="0.9"/>
<path d="M188.04 77.45L190.04 80.75L186.04 80.75Z" fill="none" stroke="#2f5aa6" stroke-width="0.9"/>
<path d="M187.12 86.13L189.12 89.43L185.12 89.43Z" fill="none" stroke="#e69a17" stroke-width="0.9"/>
<path d="M191.93 83.21L193.93 86.51L189.93 86.51Z" fill="none" stroke="#2f5aa6" stroke-width="0.9"/>
<path d="M191.26 60.66L193.26 63.96L189.26 63.96Z" fill="none" stroke="#e69a17" stroke-width="0.9"/>
<path d="M193.6 83.5L195.6 86.8L191.6 86.8Z" fill="none" stroke="#68ad3e" stroke-width="0.9"/>
<path d="M192.11 75.39L194.11 78.69L190.11 78.69Z" fill="none" stroke="#5b2a86" stroke-width="0.9"/>
<path d="M185.96 61.26L187.96 64.56L183.96 64.56Z" fill="none" stroke="#68ad3e" stroke-width="0.9"/>
<path d="M191.28 67.76L193.28 71.06L189.28 71.06Z" fill="none" stroke="#c0174a" stroke-width="0.9"/>
<path d="M191.6 93.19L193.6 96.49L189.6 96.49Z" fill="none" stroke="#e69a17" stroke-width="0.9"/>
<path d="M193.83 92.54L195.83 95.84L191.83 95.84Z" fill="none" stroke="#68ad3e" stroke-width="0.9"/>
<path d="M191.3 74.2L193.3 77.5L189.3 77.5Z" fill="none" stroke="#e69a17" stroke-width="0.9"/>
<path d="M185.96 92.45L187.96 95.75L183.96 95.75Z" fill="none" stroke="#2f5aa6" stroke-width="0.9"/>
<path d="M185.73 92.29L187.73 95.59L183.73 95.59Z" fill="none" stroke="#68ad3e" stroke-width="0.9"/>
<path d="M185.6 74.23L187.6 77.53L183.6 77.53Z" fill="none" stroke="#68ad3e" stroke-width="0.9"/>
<path d="M191.12 73.07L193.12 76.37L189.12 76.37Z" fill="none" stroke="#2f5aa6" stroke-width="0.9"/>
<path d="M186.88 90.64L188.88 93.94L184.88 93.94Z" fill="none" stroke="#c0174a" stroke-width="0.9"/>
<path d="M184.16 92.43L186.16 95.73L182.16 95.73Z" fill="none" stroke="#2f5aa6" stroke-width="0.9"/>
<path d="M192.6 63.29L194.6 66.59L190.6 66.59Z" fill="none" stroke="#68ad3e" stroke-width="0.9"/>
<path d="M187 89.88L189 93.18L185 93.18Z" fill="none" stroke="#5b2a86" stroke-width="0.9"/>
<path d="M192.74 82.1L194.74 85.4L190.74 85.4Z" fill="none" stroke="#68ad3e" stroke-width="0.9"/>
<path d="M191.38 83.63L193.38 86.93L189.38 86.93Z" fill="none" stroke="#c0174a" stroke-width="0.9"/>
<path d="M183.5 59.1L185.5 62.4L181.5 62.4Z" fill="none" stroke="#c0174a" stroke-width="0.9"/>
<path d="M184.5 99.2L194.5 99.2L196.7 102.5L182.3 102.5Z" fill="#e69a17" stroke="#e69a17" stroke-width="0.5" stroke-linejoin="round"/>
</g>
<g transform="translate(1,0)">
<line x1="221" y1="37" x2="221" y2="51" stroke="#e4e4e4" stroke-width="0.8"/>
<line x1="221" y1="51" x2="221" y2="100.7" stroke="#2a2a2a" stroke-width="1.1"/>
<path d="M221 96.8 L232 100.3 L231.5 101 L210.5 101 L210 100.3Z" fill="none" stroke="#1a1a1a" stroke-width="0.8" stroke-linejoin="round"/>
<circle cx="219.5" cy="51" r="1.65" fill="none" stroke="#e69a17" stroke-width="0.9"/>
<circle cx="220" cy="84.7" r="1.65" fill="none" stroke="#e69a17" stroke-width="0.9"/>
<rect x="214.95" y="99.4" width="12.1" height="3.0" rx="1.5" fill="#e69a17"/>
</g>
<g transform="translate(-0.2,0)">
<line x1="245.6" y1="37" x2="245.6" y2="40.5" stroke="#e4e4e4" stroke-width="0.8"/>
<line x1="245.6" y1="40.5" x2="245.6" y2="100.7" stroke="#1a1a1a" stroke-width="0.8"/>
<path d="M245.9 86C246.2 87 246.65 90.17 247.1 92C247.55 93.83 248.48 95.58 248.6 97C248.72 98.42 248.28 99.8 247.8 100.5C247.32 101.2 246.08 101.08 245.7 101.2C245.32 101.32 245.88 101.32 245.5 101.2C245.12 101.08 243.88 101.2 243.4 100.5C242.92 99.8 242.48 98.42 242.6 97C242.72 95.58 243.65 93.83 244.1 92C244.55 90.17 245 87 245.3 86C245.6 85 245.6 85 245.9 86" fill="none" stroke="#1a1a1a" stroke-width="0.8" stroke-linejoin="round"/>
<circle cx="245.97" cy="58.2" r="1.65" fill="none" stroke="#68ad3e" stroke-width="0.9"/>
<circle cx="248.8" cy="71.94" r="1.65" fill="none" stroke="#e69a17" stroke-width="0.9"/>
<circle cx="246.92" cy="44.13" r="1.65" fill="none" stroke="#c0174a" stroke-width="0.9"/>
<circle cx="241.95" cy="47.66" r="1.65" fill="none" stroke="#e69a17" stroke-width="0.9"/>
<circle cx="245.72" cy="43.77" r="1.65" fill="none" stroke="#e69a17" stroke-width="0.9"/>
<circle cx="249.51" cy="68.46" r="1.65" fill="none" stroke="#68ad3e" stroke-width="0.9"/>
<circle cx="245.08" cy="57.51" r="1.65" fill="none" stroke="#68ad3e" stroke-width="0.9"/>
<circle cx="246.24" cy="53.58" r="1.65" fill="none" stroke="#e69a17" stroke-width="0.9"/>
<circle cx="246.2" cy="58.03" r="1.65" fill="none" stroke="#e69a17" stroke-width="0.9"/>
<circle cx="244.97" cy="46.59" r="1.65" fill="none" stroke="#c0174a" stroke-width="0.9"/>
<circle cx="247.69" cy="71.78" r="1.65" fill="none" stroke="#e69a17" stroke-width="0.9"/>
<circle cx="249.86" cy="51.2" r="1.65" fill="none" stroke="#e69a17" stroke-width="0.9"/>
<circle cx="247.82" cy="59.54" r="1.65" fill="none" stroke="#e69a17" stroke-width="0.9"/>
<circle cx="243.1" cy="69.73" r="1.65" fill="none" stroke="#c0174a" stroke-width="0.9"/>
<circle cx="245.88" cy="62.89" r="1.65" fill="none" stroke="#e69a17" stroke-width="0.9"/>
<circle cx="249.18" cy="68.66" r="1.65" fill="none" stroke="#e69a17" stroke-width="0.9"/>
<circle cx="240.69" cy="50.87" r="1.65" fill="none" stroke="#e69a17" stroke-width="0.9"/>
<circle cx="244.49" cy="62.87" r="1.65" fill="none" stroke="#e69a17" stroke-width="0.9"/>
<circle cx="242.65" cy="46.07" r="1.65" fill="none" stroke="#e69a17" stroke-width="0.9"/>
<circle cx="247.73" cy="48.91" r="1.65" fill="none" stroke="#68ad3e" stroke-width="0.9"/>
<circle cx="248.98" cy="50.57" r="1.65" fill="none" stroke="#e69a17" stroke-width="0.9"/>
<circle cx="247.62" cy="66.8" r="1.65" fill="none" stroke="#e69a17" stroke-width="0.9"/>
<circle cx="245" cy="41" r="1.65" fill="none" stroke="#e69a17" stroke-width="0.9"/>
<circle cx="245" cy="83" r="1.65" fill="none" stroke="#2f5aa6" stroke-width="0.9"/>
<circle cx="245.5" cy="87.5" r="1.65" fill="none" stroke="#e69a17" stroke-width="0.9"/>
<circle cx="247" cy="96" r="1.65" fill="none" stroke="#e69a17" stroke-width="0.9"/>
<rect x="239.25" y="99.4" width="12.7" height="3.0" rx="1.5" fill="#e69a17"/>
</g>
<g transform="translate(-0.3,0)">
<line x1="269.2" y1="37" x2="269.2" y2="41" stroke="#e4e4e4" stroke-width="0.8"/>
<path d="M269.2 41.5 L271.7 41.5 L275.2 47 L275.8 70 L275.8 100.5 L262.6 100.5 L262.6 70 L263.2 47 L266.7 41.5Z" fill="#583682" stroke="#5b2a86" stroke-width="0.6" stroke-linejoin="round"/>
<path d="M266 40.6L268 43.9L264 43.9Z" fill="none" stroke="#2f5aa6" stroke-width="0.9"/>
<path d="M270 39.6L272 42.9L268 42.9Z" fill="none" stroke="#5b2a86" stroke-width="0.9"/>
<path d="M273 41.1L275 44.4L271 44.4Z" fill="none" stroke="#c0174a" stroke-width="0.9"/>
<path d="M264 43.1L266 46.4L262 46.4Z" fill="none" stroke="#c0174a" stroke-width="0.9"/>
<path d="M275 44.1L277 47.4L273 47.4Z" fill="none" stroke="#2f5aa6" stroke-width="0.9"/>
<path d="M268 42.6L270 45.9L266 45.9Z" fill="none" stroke="#e69a17" stroke-width="0.9"/>
<circle cx="272.78" cy="86.57" r="0.7" fill="#5b2a86"/>
<circle cx="267.24" cy="94.11" r="0.7" fill="#5b2a86"/>
<circle cx="275.3" cy="99.52" r="0.7" fill="#2f5aa6"/>
<circle cx="263.15" cy="44.53" r="0.7" fill="#2f5aa6"/>
<circle cx="273.44" cy="82.1" r="0.7" fill="#68ad3e"/>
<circle cx="273.08" cy="78.38" r="0.7" fill="#5b2a86"/>
<circle cx="270.65" cy="65.57" r="0.7" fill="#5b2a86"/>
<circle cx="273.95" cy="79.96" r="0.7" fill="#5b2a86"/>
<circle cx="272.47" cy="93.62" r="0.7" fill="#5b2a86"/>
<circle cx="266.92" cy="45.94" r="0.7" fill="#2f5aa6"/>
<circle cx="265.01" cy="75.72" r="0.7" fill="#2f5aa6"/>
<circle cx="267.76" cy="60.47" r="0.7" fill="#5b2a86"/>
<circle cx="266.09" cy="83.18" r="0.7" fill="#5b2a86"/>
<circle cx="267.14" cy="93.94" r="0.7" fill="#2f5aa6"/>
<circle cx="269.25" cy="45.37" r="0.7" fill="#2f5aa6"/>
<circle cx="268.76" cy="82.86" r="0.7" fill="#5b2a86"/>
<circle cx="273.95" cy="73.53" r="0.7" fill="#5b2a86"/>
<circle cx="271.23" cy="65.58" r="0.7" fill="#5b2a86"/>
<circle cx="268.18" cy="79.67" r="0.7" fill="#5b2a86"/>
<circle cx="263.77" cy="69.73" r="0.7" fill="#5b2a86"/>
<circle cx="267.23" cy="66.95" r="0.7" fill="#2f5aa6"/>
<circle cx="267.3" cy="45.1" r="0.7" fill="#2f5aa6"/>
<circle cx="270.69" cy="75.07" r="0.7" fill="#2f5aa6"/>
<circle cx="265.78" cy="97.94" r="0.7" fill="#2f5aa6"/>
<circle cx="272.47" cy="46.37" r="0.7" fill="#2f5aa6"/>
<circle cx="264.43" cy="98.01" r="0.7" fill="#2f5aa6"/>
<circle cx="268.21" cy="57.55" r="0.7" fill="#c0174a"/>
<circle cx="264.64" cy="55.33" r="0.7" fill="#5b2a86"/>
<circle cx="272.55" cy="57.73" r="0.7" fill="#2f5aa6"/>
<circle cx="273.4" cy="57.27" r="0.7" fill="#5b2a86"/>
<circle cx="265.11" cy="45.67" r="0.7" fill="#2f5aa6"/>
<circle cx="271.89" cy="86.84" r="0.7" fill="#5b2a86"/>
<circle cx="273.16" cy="64.78" r="0.7" fill="#2f5aa6"/>
<circle cx="264.89" cy="86.52" r="0.7" fill="#2f5aa6"/>
<circle cx="263.38" cy="51.93" r="0.7" fill="#2f5aa6"/>
<circle cx="270.86" cy="79.48" r="0.7" fill="#2f5aa6"/>
<circle cx="270.03" cy="52.58" r="0.7" fill="#2f5aa6"/>
<circle cx="266.26" cy="42.05" r="0.7" fill="#5b2a86"/>
<circle cx="275.07" cy="84.48" r="0.7" fill="#68ad3e"/>
<circle cx="267.38" cy="74.94" r="0.7" fill="#c0174a"/>
<circle cx="274.91" cy="88.39" r="0.7" fill="#5b2a86"/>
<circle cx="270.35" cy="99.87" r="0.7" fill="#2f5aa6"/>
<circle cx="274.44" cy="55.59" r="0.7" fill="#5b2a86"/>
<circle cx="274.49" cy="82.03" r="0.7" fill="#2f5aa6"/>
<circle cx="275.15" cy="54.37" r="0.7" fill="#c0174a"/>
<circle cx="272.93" cy="99.74" r="0.7" fill="#68ad3e"/>
<circle cx="265.63" cy="54.66" r="0.7" fill="#5b2a86"/>
<circle cx="265.23" cy="69.58" r="0.7" fill="#c0174a"/>
<circle cx="267.24" cy="90.36" r="0.7" fill="#5b2a86"/>
<circle cx="265.56" cy="49.88" r="0.7" fill="#5b2a86"/>
<circle cx="271.73" cy="60.21" r="0.7" fill="#5b2a86"/>
<circle cx="273.04" cy="74.4" r="0.7" fill="#5b2a86"/>
<circle cx="266.27" cy="78.67" r="0.7" fill="#c0174a"/>
<circle cx="267.55" cy="71.03" r="0.7" fill="#c0174a"/>
<circle cx="267.75" cy="71.78" r="0.7" fill="#5b2a86"/>
<circle cx="266.88" cy="48.34" r="0.7" fill="#5b2a86"/>
<circle cx="274.13" cy="92.28" r="0.7" fill="#c0174a"/>
<circle cx="267.38" cy="69.97" r="0.7" fill="#5b2a86"/>
<circle cx="266.57" cy="49.95" r="0.7" fill="#5b2a86"/>
<circle cx="265.36" cy="71.19" r="0.7" fill="#2f5aa6"/>
<circle cx="264.74" cy="70.88" r="0.7" fill="#2f5aa6"/>
<circle cx="272.36" cy="94.53" r="0.7" fill="#2f5aa6"/>
<circle cx="271.88" cy="56.33" r="0.7" fill="#5b2a86"/>
<circle cx="266.44" cy="91.2" r="0.7" fill="#5b2a86"/>
<circle cx="265.61" cy="87.14" r="0.7" fill="#5b2a86"/>
<circle cx="267.75" cy="82.42" r="0.7" fill="#5b2a86"/>
<circle cx="273.76" cy="95.07" r="0.7" fill="#68ad3e"/>
<circle cx="267.69" cy="74.4" r="0.7" fill="#2f5aa6"/>
<circle cx="274.98" cy="65.72" r="0.7" fill="#5b2a86"/>
<circle cx="272.76" cy="89.94" r="0.7" fill="#5b2a86"/>
<circle cx="271.59" cy="87.25" r="0.7" fill="#2f5aa6"/>
<circle cx="264.77" cy="71.96" r="0.7" fill="#2f5aa6"/>
<circle cx="274.25" cy="97.39" r="0.7" fill="#5b2a86"/>
<circle cx="263.36" cy="79.62" r="0.7" fill="#2f5aa6"/>
<circle cx="267.82" cy="75.79" r="0.7" fill="#5b2a86"/>
<circle cx="265.96" cy="46.82" r="0.7" fill="#5b2a86"/>
<circle cx="264.91" cy="66.63" r="0.7" fill="#2f5aa6"/>
<circle cx="265.22" cy="42.59" r="0.7" fill="#5b2a86"/>
<circle cx="273.08" cy="52.24" r="0.7" fill="#68ad3e"/>
<circle cx="267.16" cy="69.28" r="0.7" fill="#c0174a"/>
<circle cx="271.06" cy="85.92" r="0.7" fill="#c0174a"/>
<circle cx="270.34" cy="46.29" r="0.7" fill="#5b2a86"/>
<circle cx="263.8" cy="98.09" r="0.7" fill="#c0174a"/>
<circle cx="263.71" cy="95.12" r="0.7" fill="#c0174a"/>
<circle cx="274.16" cy="71.34" r="0.7" fill="#2f5aa6"/>
<circle cx="266.91" cy="98.8" r="0.7" fill="#5b2a86"/>
<circle cx="275.1" cy="78.69" r="0.7" fill="#5b2a86"/>
<circle cx="266.29" cy="81.82" r="0.7" fill="#5b2a86"/>
<circle cx="272.55" cy="77.63" r="0.7" fill="#2f5aa6"/>
<circle cx="271.11" cy="95.97" r="0.7" fill="#5b2a86"/>
<circle cx="263.43" cy="77.66" r="0.7" fill="#5b2a86"/>
<circle cx="268.07" cy="73.03" r="0.7" fill="#2f5aa6"/>
<circle cx="273.04" cy="65.66" r="0.7" fill="#2f5aa6"/>
<circle cx="270.62" cy="76.39" r="0.7" fill="#2f5aa6"/>
<circle cx="263.08" cy="72.9" r="0.7" fill="#5b2a86"/>
<circle cx="265.83" cy="60.12" r="0.7" fill="#5b2a86"/>
<circle cx="268.49" cy="82.16" r="0.7" fill="#5b2a86"/>
<circle cx="265.19" cy="79.99" r="0.7" fill="#5b2a86"/>
<circle cx="271.4" cy="53.63" r="0.7" fill="#2f5aa6"/>
<circle cx="271.75" cy="42.77" r="0.7" fill="#5b2a86"/>
<circle cx="264.28" cy="57.16" r="0.7" fill="#2f5aa6"/>
<circle cx="266.12" cy="74.28" r="0.7" fill="#68ad3e"/>
<circle cx="264.66" cy="65.13" r="0.7" fill="#2f5aa6"/>
<circle cx="268.77" cy="71.73" r="0.7" fill="#2f5aa6"/>
<circle cx="268.37" cy="69.47" r="0.7" fill="#5b2a86"/>
<circle cx="269.83" cy="88.28" r="0.7" fill="#2f5aa6"/>
<circle cx="268.86" cy="45.41" r="0.7" fill="#5b2a86"/>
<circle cx="271.62" cy="72.5" r="0.7" fill="#5b2a86"/>
<circle cx="271.63" cy="84.61" r="0.7" fill="#5b2a86"/>
<circle cx="270.75" cy="91.8" r="0.7" fill="#5b2a86"/>
<circle cx="263.55" cy="93.79" r="0.7" fill="#2f5aa6"/>
<circle cx="271.99" cy="91.47" r="0.7" fill="#c0174a"/>
<circle cx="274.33" cy="70.17" r="0.7" fill="#5b2a86"/>
<circle cx="265.38" cy="89.89" r="0.7" fill="#2f5aa6"/>
<circle cx="269.18" cy="99.51" r="0.7" fill="#c0174a"/>
<circle cx="273.48" cy="81.55" r="0.7" fill="#5b2a86"/>
<circle cx="271.07" cy="70.21" r="0.7" fill="#2f5aa6"/>
<circle cx="265.25" cy="96.44" r="0.7" fill="#2f5aa6"/>
<circle cx="267.95" cy="78.07" r="0.7" fill="#c0174a"/>
<circle cx="263.92" cy="71.24" r="0.7" fill="#2f5aa6"/>
<path d="M271.39 83.82L273.39 87.12L269.39 87.12Z" fill="none" stroke="#e69a17" stroke-width="0.9"/>
<path d="M273.1 68.29L275.1 71.59L271.1 71.59Z" fill="none" stroke="#e69a17" stroke-width="0.9"/>
<path d="M272.7 81.58L274.7 84.88L270.7 84.88Z" fill="none" stroke="#e69a17" stroke-width="0.9"/>
<path d="M273.11 81.29L275.11 84.59L271.11 84.59Z" fill="none" stroke="#5b2a86" stroke-width="0.9"/>
<path d="M268.05 94.97L270.05 98.27L266.05 98.27Z" fill="none" stroke="#2f5aa6" stroke-width="0.9"/>
<path d="M271.92 84.95L273.92 88.25L269.92 88.25Z" fill="none" stroke="#e69a17" stroke-width="0.9"/>
<path d="M273.84 69.09L275.84 72.39L271.84 72.39Z" fill="none" stroke="#e69a17" stroke-width="0.9"/>
<path d="M265.56 59.88L267.56 63.18L263.56 63.18Z" fill="none" stroke="#2f5aa6" stroke-width="0.9"/>
<path d="M267.62 88.9L269.62 92.2L265.62 92.2Z" fill="none" stroke="#e69a17" stroke-width="0.9"/>
<path d="M270.74 86.24L272.74 89.54L268.74 89.54Z" fill="none" stroke="#e69a17" stroke-width="0.9"/>
<path d="M269.53 95.36L271.53 98.66L267.53 98.66Z" fill="none" stroke="#e69a17" stroke-width="0.9"/>
<path d="M267.59 62.68L269.59 65.98L265.59 65.98Z" fill="none" stroke="#e69a17" stroke-width="0.9"/>
<path d="M269.78 77.15L271.78 80.45L267.78 80.45Z" fill="none" stroke="#e69a17" stroke-width="0.9"/>
<path d="M266.03 92.92L268.03 96.22L264.03 96.22Z" fill="none" stroke="#e69a17" stroke-width="0.9"/>
<path d="M271.82 77.83L273.82 81.13L269.82 81.13Z" fill="none" stroke="#e69a17" stroke-width="0.9"/>
<path d="M272.38 45.14L274.38 48.44L270.38 48.44Z" fill="none" stroke="#e69a17" stroke-width="0.9"/>
<path d="M274.34 46.18L276.34 49.48L272.34 49.48Z" fill="none" stroke="#e69a17" stroke-width="0.9"/>
<path d="M266.04 95.12L268.04 98.42L264.04 98.42Z" fill="none" stroke="#e69a17" stroke-width="0.9"/>
<path d="M271.72 93.28L273.72 96.58L269.72 96.58Z" fill="none" stroke="#c0174a" stroke-width="0.9"/>
<path d="M271.21 44.31L273.21 47.61L269.21 47.61Z" fill="none" stroke="#5b2a86" stroke-width="0.9"/>
<path d="M268.4 57.6L270.4 60.9L266.4 60.9Z" fill="none" stroke="#5b2a86" stroke-width="0.9"/>
<path d="M273.94 68.22L275.94 71.52L271.94 71.52Z" fill="none" stroke="#2f5aa6" stroke-width="0.9"/>
<path d="M265.03 75.98L267.03 79.28L263.03 79.28Z" fill="none" stroke="#e69a17" stroke-width="0.9"/>
<path d="M272.81 72.27L274.81 75.57L270.81 75.57Z" fill="none" stroke="#68ad3e" stroke-width="0.9"/>
<path d="M263.71 82.29L265.71 85.59L261.71 85.59Z" fill="none" stroke="#2f5aa6" stroke-width="0.9"/>
<path d="M265.1 75.25L267.1 78.55L263.1 78.55Z" fill="none" stroke="#e69a17" stroke-width="0.9"/>
<path d="M266.71 94.64L268.71 97.94L264.71 97.94Z" fill="none" stroke="#5b2a86" stroke-width="0.9"/>
<path d="M270.35 77.3L272.35 80.6L268.35 80.6Z" fill="none" stroke="#e69a17" stroke-width="0.9"/>
<path d="M273.83 72.86L275.83 76.16L271.83 76.16Z" fill="none" stroke="#e69a17" stroke-width="0.9"/>
<path d="M269.98 51.54L271.98 54.84L267.98 54.84Z" fill="none" stroke="#5b2a86" stroke-width="0.9"/>
<path d="M273.19 46.44L275.19 49.74L271.19 49.74Z" fill="none" stroke="#e69a17" stroke-width="0.9"/>
<path d="M266.15 54.11L268.15 57.41L264.15 57.41Z" fill="none" stroke="#e69a17" stroke-width="0.9"/>
<path d="M272.71 89.69L274.71 92.99L270.71 92.99Z" fill="none" stroke="#e69a17" stroke-width="0.9"/>
<path d="M266.15 97.33L268.15 100.63L264.15 100.63Z" fill="none" stroke="#e69a17" stroke-width="0.9"/>
<path d="M272.07 88.56L274.07 91.86L270.07 91.86Z" fill="none" stroke="#e69a17" stroke-width="0.9"/>
<path d="M264.58 59.98L266.58 63.28L262.58 63.28Z" fill="none" stroke="#e69a17" stroke-width="0.9"/>
<path d="M270.65 71.89L272.65 75.19L268.65 75.19Z" fill="none" stroke="#5b2a86" stroke-width="0.9"/>
<path d="M267.48 89.54L269.48 92.84L265.48 92.84Z" fill="none" stroke="#e69a17" stroke-width="0.9"/>
<path d="M270.12 50.62L272.12 53.92L268.12 53.92Z" fill="none" stroke="#e69a17" stroke-width="0.9"/>
<path d="M267.04 81.06L269.04 84.36L265.04 84.36Z" fill="none" stroke="#e69a17" stroke-width="0.9"/>
<path d="M265.35 78.52L267.35 81.82L263.35 81.82Z" fill="none" stroke="#e69a17" stroke-width="0.9"/>
<path d="M271.01 73.34L273.01 76.64L269.01 76.64Z" fill="none" stroke="#e69a17" stroke-width="0.9"/>
<path d="M268.68 65.09L270.68 68.39L266.68 68.39Z" fill="none" stroke="#e69a17" stroke-width="0.9"/>
<path d="M271.25 45.93L273.25 49.23L269.25 49.23Z" fill="none" stroke="#2f5aa6" stroke-width="0.9"/>
<path d="M269.6 55.91L271.6 59.21L267.6 59.21Z" fill="none" stroke="#5b2a86" stroke-width="0.9"/>
<path d="M263.81 83.62L265.81 86.92L261.81 86.92Z" fill="none" stroke="#e69a17" stroke-width="0.9"/>
<path d="M273.26 54.51L275.26 57.81L271.26 57.81Z" fill="none" stroke="#e69a17" stroke-width="0.9"/>
<path d="M263.85 84.09L265.85 87.39L261.85 87.39Z" fill="none" stroke="#5b2a86" stroke-width="0.9"/>
<path d="M265.73 50.04L267.73 53.34L263.73 53.34Z" fill="none" stroke="#e69a17" stroke-width="0.9"/>
<path d="M266.49 76.14L268.49 79.44L264.49 79.44Z" fill="none" stroke="#2f5aa6" stroke-width="0.9"/>
<path d="M274.32 83L276.32 86.3L272.32 86.3Z" fill="none" stroke="#e69a17" stroke-width="0.9"/>
<path d="M267.73 68.49L269.73 71.79L265.73 71.79Z" fill="none" stroke="#e69a17" stroke-width="0.9"/>
<path d="M273.65 47.69L275.65 50.99L271.65 50.99Z" fill="none" stroke="#e69a17" stroke-width="0.9"/>
<path d="M263.89 44.99L265.89 48.29L261.89 48.29Z" fill="none" stroke="#2f5aa6" stroke-width="0.9"/>
<path d="M267.26 90.77L269.26 94.07L265.26 94.07Z" fill="none" stroke="#e69a17" stroke-width="0.9"/>
<path d="M268.45 57.8L270.45 61.1L266.45 61.1Z" fill="none" stroke="#e69a17" stroke-width="0.9"/>
<path d="M271.84 57L273.84 60.3L269.84 60.3Z" fill="none" stroke="#5b2a86" stroke-width="0.9"/>
<path d="M274.03 94.13L276.03 97.43L272.03 97.43Z" fill="none" stroke="#2f5aa6" stroke-width="0.9"/>
<path d="M272.28 94.82L274.28 98.12L270.28 98.12Z" fill="none" stroke="#5b2a86" stroke-width="0.9"/>
<path d="M266.07 43.47L268.07 46.77L264.07 46.77Z" fill="none" stroke="#c0174a" stroke-width="0.9"/>
<path d="M272.7 79.14L274.7 82.44L270.7 82.44Z" fill="none" stroke="#e69a17" stroke-width="0.9"/>
<path d="M266.78 86.11L268.78 89.41L264.78 89.41Z" fill="none" stroke="#e69a17" stroke-width="0.9"/>
<path d="M272.87 66.53L274.87 69.83L270.87 69.83Z" fill="none" stroke="#e69a17" stroke-width="0.9"/>
<path d="M263.77 97.44L265.77 100.74L261.77 100.74Z" fill="none" stroke="#5b2a86" stroke-width="0.9"/>
<path d="M268.63 76.75L270.63 80.05L266.63 80.05Z" fill="none" stroke="#e69a17" stroke-width="0.9"/>
<path d="M269.3 92.36L271.3 95.66L267.3 95.66Z" fill="none" stroke="#e69a17" stroke-width="0.9"/>
<path d="M268.06 63.81L270.06 67.11L266.06 67.11Z" fill="none" stroke="#e69a17" stroke-width="0.9"/>
<path d="M272.91 47.69L274.91 50.99L270.91 50.99Z" fill="none" stroke="#e69a17" stroke-width="0.9"/>
<path d="M271.28 96.57L273.28 99.87L269.28 99.87Z" fill="none" stroke="#5b2a86" stroke-width="0.9"/>
<path d="M270.46 93.68L272.46 96.98L268.46 96.98Z" fill="none" stroke="#2f5aa6" stroke-width="0.9"/>
<path d="M269.03 91.86L271.03 95.16L267.03 95.16Z" fill="none" stroke="#e69a17" stroke-width="0.9"/>
<path d="M273.41 61.37L275.41 64.67L271.41 64.67Z" fill="none" stroke="#e69a17" stroke-width="0.9"/>
<path d="M266.13 64.19L268.13 67.49L264.13 67.49Z" fill="none" stroke="#5b2a86" stroke-width="0.9"/>
<path d="M273.24 42.19L275.24 45.49L271.24 45.49Z" fill="none" stroke="#e69a17" stroke-width="0.9"/>
<path d="M266.73 54.08L268.73 57.38L264.73 57.38Z" fill="none" stroke="#e69a17" stroke-width="0.9"/>
<path d="M271.94 74.71L273.94 78.01L269.94 78.01Z" fill="none" stroke="#e69a17" stroke-width="0.9"/>
<path d="M264.14 79.88L266.14 83.18L262.14 83.18Z" fill="none" stroke="#e69a17" stroke-width="0.9"/>
<path d="M264.52 74.81L266.52 78.11L262.52 78.11Z" fill="none" stroke="#c0174a" stroke-width="0.9"/>
<path d="M268.98 75.56L270.98 78.86L266.98 78.86Z" fill="none" stroke="#e69a17" stroke-width="0.9"/>
<path d="M273.04 71.23L275.04 74.53L271.04 74.53Z" fill="none" stroke="#e69a17" stroke-width="0.9"/>
<path d="M267.15 46.93L269.15 50.23L265.15 50.23Z" fill="none" stroke="#2f5aa6" stroke-width="0.9"/>
<path d="M270.6 48.14L272.6 51.44L268.6 51.44Z" fill="none" stroke="#2f5aa6" stroke-width="0.9"/>
<path d="M270.67 80.26L272.67 83.56L268.67 83.56Z" fill="none" stroke="#e69a17" stroke-width="0.9"/>
<path d="M266.31 58.02L268.31 61.32L264.31 61.32Z" fill="none" stroke="#e69a17" stroke-width="0.9"/>
<path d="M267.24 79.21L269.24 82.51L265.24 82.51Z" fill="none" stroke="#e69a17" stroke-width="0.9"/>
<path d="M268.23 45.05L270.23 48.35L266.23 48.35Z" fill="none" stroke="#5b2a86" stroke-width="0.9"/>
<path d="M267.18 73.29L269.18 76.59L265.18 76.59Z" fill="none" stroke="#5b2a86" stroke-width="0.9"/>
<path d="M273.58 94.15L275.58 97.45L271.58 97.45Z" fill="none" stroke="#c0174a" stroke-width="0.9"/>
<path d="M268.63 63.26L270.63 66.56L266.63 66.56Z" fill="none" stroke="#2f5aa6" stroke-width="0.9"/>
<path d="M273.59 51.49L275.59 54.79L271.59 54.79Z" fill="none" stroke="#5b2a86" stroke-width="0.9"/>
<path d="M263.73 59.29L265.73 62.59L261.73 62.59Z" fill="none" stroke="#e69a17" stroke-width="0.9"/>
<path d="M265.76 53.11L267.76 56.41L263.76 56.41Z" fill="none" stroke="#e69a17" stroke-width="0.9"/>
<path d="M271.89 64.85L273.89 68.15L269.89 68.15Z" fill="none" stroke="#e69a17" stroke-width="0.9"/>
<path d="M272.26 87.17L274.26 90.47L270.26 90.47Z" fill="none" stroke="#e69a17" stroke-width="0.9"/>
<path d="M267.88 61.65L269.88 64.95L265.88 64.95Z" fill="none" stroke="#e69a17" stroke-width="0.9"/>
<path d="M269.95 69.14L271.95 72.44L267.95 72.44Z" fill="none" stroke="#2f5aa6" stroke-width="0.9"/>
<path d="M269.87 62.12L271.87 65.42L267.87 65.42Z" fill="none" stroke="#e69a17" stroke-width="0.9"/>
<path d="M270.1 74.01L272.1 77.31L268.1 77.31Z" fill="none" stroke="#e69a17" stroke-width="0.9"/>
<path d="M265.21 67.31L267.21 70.61L263.21 70.61Z" fill="none" stroke="#e69a17" stroke-width="0.9"/>
<path d="M265.76 57.5L267.76 60.8L263.76 60.8Z" fill="none" stroke="#2f5aa6" stroke-width="0.9"/>
<path d="M274.06 81.43L276.06 84.73L272.06 84.73Z" fill="none" stroke="#c0174a" stroke-width="0.9"/>
<path d="M267.04 57.37L269.04 60.67L265.04 60.67Z" fill="none" stroke="#e69a17" stroke-width="0.9"/>
<path d="M268.32 64.91L270.32 68.21L266.32 68.21Z" fill="none" stroke="#e69a17" stroke-width="0.9"/>
<path d="M273.16 93.82L275.16 97.12L271.16 97.12Z" fill="none" stroke="#e69a17" stroke-width="0.9"/>
<path d="M270.27 63.3L272.27 66.6L268.27 66.6Z" fill="none" stroke="#e69a17" stroke-width="0.9"/>
<path d="M271.71 63.31L273.71 66.61L269.71 66.61Z" fill="none" stroke="#e69a17" stroke-width="0.9"/>
<path d="M272.81 62.52L274.81 65.82L270.81 65.82Z" fill="none" stroke="#e69a17" stroke-width="0.9"/>
<path d="M267.37 53.31L269.37 56.61L265.37 56.61Z" fill="none" stroke="#e69a17" stroke-width="0.9"/>
<path d="M271.84 51.02L273.84 54.32L269.84 54.32Z" fill="none" stroke="#e69a17" stroke-width="0.9"/>
<path d="M267.33 62.51L269.33 65.81L265.33 65.81Z" fill="none" stroke="#e69a17" stroke-width="0.9"/>
<path d="M269.63 55.72L272.83 60.92L266.43 60.92Z" fill="none" stroke="#e69a17" stroke-width="1.1"/>
<path d="M271.25 71.46L274.45 76.66L268.05 76.66Z" fill="none" stroke="#e69a17" stroke-width="1.1"/>
<path d="M270.58 83.02L273.78 88.22L267.38 88.22Z" fill="none" stroke="#e69a17" stroke-width="1.1"/>
<path d="M267.61 73.07L270.81 78.27L264.41 78.27Z" fill="none" stroke="#e69a17" stroke-width="1.1"/>
<path d="M271.57 66.85L274.77 72.05L268.37 72.05Z" fill="none" stroke="#e69a17" stroke-width="1.1"/>
<path d="M270.67 82.22L273.87 87.42L267.47 87.42Z" fill="none" stroke="#e69a17" stroke-width="1.1"/>
<path d="M271.22 86.8L274.42 92L268.02 92Z" fill="none" stroke="#e69a17" stroke-width="1.1"/>
<path d="M271.65 58.45L274.85 63.65L268.45 63.65Z" fill="none" stroke="#e69a17" stroke-width="1.1"/>
<path d="M264.45 99.2L273.95 99.2L276.15 102.5L262.25 102.5Z" fill="#e69a17" stroke="#e69a17" stroke-width="0.5" stroke-linejoin="round"/>
</g>
<g transform="translate(2.3,0)">
<line x1="302.4" y1="42" x2="302.4" y2="100.7" stroke="#1a1a1a" stroke-width="0.8"/>
<path d="M302.7 84C303.05 85 303.67 88 304.2 90C304.73 92 305.45 94.25 305.9 96C306.35 97.75 307.47 99.63 306.9 100.5C306.33 101.37 303.27 101.08 302.5 101.2C301.73 101.32 303.07 101.32 302.3 101.2C301.53 101.08 298.47 101.37 297.9 100.5C297.33 99.63 298.45 97.75 298.9 96C299.35 94.25 300.07 92 300.6 90C301.13 88 301.75 85 302.1 84C302.45 83 302.35 83 302.7 84" fill="none" stroke="#1a1a1a" stroke-width="0.8" stroke-linejoin="round"/>
<circle cx="303.31" cy="78.95" r="1.65" fill="none" stroke="#e69a17" stroke-width="0.9"/>
<circle cx="305.45" cy="73.65" r="1.65" fill="none" stroke="#68ad3e" stroke-width="0.9"/>
<circle cx="306.1" cy="59.79" r="1.65" fill="none" stroke="#e69a17" stroke-width="0.9"/>
<circle cx="302.34" cy="58.89" r="1.65" fill="none" stroke="#e69a17" stroke-width="0.9"/>
<circle cx="299.69" cy="43.06" r="1.65" fill="none" stroke="#68ad3e" stroke-width="0.9"/>
<circle cx="306.28" cy="43.28" r="1.65" fill="none" stroke="#5b2a86" stroke-width="0.9"/>
<circle cx="306.28" cy="59.75" r="1.65" fill="none" stroke="#5b2a86" stroke-width="0.9"/>
<circle cx="305.16" cy="56.59" r="1.65" fill="none" stroke="#e69a17" stroke-width="0.9"/>
<circle cx="299.13" cy="57.04" r="1.65" fill="none" stroke="#e69a17" stroke-width="0.9"/>
<circle cx="303.77" cy="79.11" r="1.65" fill="none" stroke="#e69a17" stroke-width="0.9"/>
<circle cx="305.95" cy="45.63" r="1.65" fill="none" stroke="#c0174a" stroke-width="0.9"/>
<circle cx="297.9" cy="79.56" r="1.65" fill="none" stroke="#68ad3e" stroke-width="0.9"/>
<circle cx="299.36" cy="53.58" r="1.65" fill="none" stroke="#e69a17" stroke-width="0.9"/>
<circle cx="306.7" cy="53.63" r="1.65" fill="none" stroke="#e69a17" stroke-width="0.9"/>
<circle cx="299.06" cy="55.86" r="1.65" fill="none" stroke="#68ad3e" stroke-width="0.9"/>
<circle cx="302.27" cy="60.74" r="1.65" fill="none" stroke="#68ad3e" stroke-width="0.9"/>
<circle cx="302.52" cy="64.42" r="1.65" fill="none" stroke="#68ad3e" stroke-width="0.9"/>
<circle cx="306.4" cy="64.34" r="1.65" fill="none" stroke="#e69a17" stroke-width="0.9"/>
<circle cx="302.69" cy="69.54" r="1.65" fill="none" stroke="#e69a17" stroke-width="0.9"/>
<circle cx="306.17" cy="64.2" r="1.65" fill="none" stroke="#68ad3e" stroke-width="0.9"/>
<circle cx="299.96" cy="78.38" r="1.65" fill="none" stroke="#68ad3e" stroke-width="0.9"/>
<circle cx="297.53" cy="48.32" r="1.65" fill="none" stroke="#e69a17" stroke-width="0.9"/>
<circle cx="299.65" cy="49.87" r="1.65" fill="none" stroke="#68ad3e" stroke-width="0.9"/>
<circle cx="306.14" cy="61.36" r="1.65" fill="none" stroke="#e69a17" stroke-width="0.9"/>
<circle cx="300.28" cy="47.69" r="1.65" fill="none" stroke="#e69a17" stroke-width="0.9"/>
<circle cx="306.79" cy="71.2" r="1.65" fill="none" stroke="#e69a17" stroke-width="0.9"/>
<circle cx="303.04" cy="63" r="1.65" fill="none" stroke="#e69a17" stroke-width="0.9"/>
<circle cx="305.65" cy="73.61" r="1.65" fill="none" stroke="#e69a17" stroke-width="0.9"/>
<circle cx="302.05" cy="61.08" r="1.65" fill="none" stroke="#e69a17" stroke-width="0.9"/>
<circle cx="305.62" cy="44.81" r="1.65" fill="none" stroke="#e69a17" stroke-width="0.9"/>
<circle cx="297.8" cy="48.57" r="1.65" fill="none" stroke="#e69a17" stroke-width="0.9"/>
<circle cx="303.12" cy="58.34" r="1.65" fill="none" stroke="#5b2a86" stroke-width="0.9"/>
<circle cx="301.43" cy="70.83" r="1.65" fill="none" stroke="#e69a17" stroke-width="0.9"/>
<circle cx="299.01" cy="42.77" r="1.65" fill="none" stroke="#e69a17" stroke-width="0.9"/>
<circle cx="304.18" cy="64.43" r="1.65" fill="none" stroke="#5b2a86" stroke-width="0.9"/>
<circle cx="301.34" cy="55.68" r="1.65" fill="none" stroke="#e69a17" stroke-width="0.9"/>
<circle cx="299.3" cy="52.65" r="1.65" fill="none" stroke="#68ad3e" stroke-width="0.9"/>
<circle cx="305.28" cy="65.66" r="1.65" fill="none" stroke="#e69a17" stroke-width="0.9"/>
<circle cx="309.5" cy="87.5" r="1.65" fill="none" stroke="#c0174a" stroke-width="0.9"/>
<circle cx="302" cy="89.6" r="1.65" fill="none" stroke="#2f5aa6" stroke-width="0.9"/>
<circle cx="308" cy="74.5" r="1.65" fill="none" stroke="#c0174a" stroke-width="0.9"/>
<rect x="295.75" y="99.4" width="13.3" height="3.0" rx="1.5" fill="#e69a17"/>
</g>
<g transform="translate(1.4,0)">
<line x1="327" y1="48" x2="327" y2="100.7" stroke="#1a1a1a" stroke-width="0.8"/>
<path d="M327.3 90C327.93 90.83 328.8 93.58 330.5 95C332.2 96.42 336.28 97.57 337.5 98.5C338.72 99.43 339.53 100.15 337.8 100.6C336.07 101.05 328.92 101.1 327.1 101.2C325.28 101.3 328.72 101.3 326.9 101.2C325.08 101.1 317.93 101.05 316.2 100.6C314.47 100.15 315.28 99.43 316.5 98.5C317.72 97.57 321.8 96.42 323.5 95C325.2 93.58 326.07 90.83 326.7 90C327.33 89.17 326.67 89.17 327.3 90" fill="none" stroke="#1a1a1a" stroke-width="0.8" stroke-linejoin="round"/>
<path d="M327 50 L329.5 50 L332.5 54 L333.2 65 L332 74 L328 79 L326 79 L322 74 L320.8 65 L321.5 54 L324.5 50Z" fill="#583682" stroke="#5b2a86" stroke-width="0.5" stroke-linejoin="round"/>
<path d="M328.9 61.41L330.9 64.71L326.9 64.71Z" fill="none" stroke="#5b2a86" stroke-width="0.9"/>
<path d="M321.3 63.12L323.3 66.42L319.3 66.42Z" fill="none" stroke="#2f5aa6" stroke-width="0.9"/>
<path d="M328.79 65.15L330.79 68.45L326.79 68.45Z" fill="none" stroke="#5b2a86" stroke-width="0.9"/>
<path d="M325.3 63.47L327.3 66.77L323.3 66.77Z" fill="none" stroke="#5b2a86" stroke-width="0.9"/>
<path d="M327.29 76.73L329.29 80.03L325.29 80.03Z" fill="none" stroke="#2f5aa6" stroke-width="0.9"/>
<path d="M331.85 61.92L333.85 65.22L329.85 65.22Z" fill="none" stroke="#5b2a86" stroke-width="0.9"/>
<path d="M329.5 61.66L331.5 64.96L327.5 64.96Z" fill="none" stroke="#5b2a86" stroke-width="0.9"/>
<path d="M326.86 51.42L328.86 54.72L324.86 54.72Z" fill="none" stroke="#2f5aa6" stroke-width="0.9"/>
<path d="M328.77 73.28L330.77 76.58L326.77 76.58Z" fill="none" stroke="#5b2a86" stroke-width="0.9"/>
<path d="M331.13 56.96L333.13 60.26L329.13 60.26Z" fill="none" stroke="#5b2a86" stroke-width="0.9"/>
<path d="M324.78 56.47L326.78 59.77L322.78 59.77Z" fill="none" stroke="#2f5aa6" stroke-width="0.9"/>
<path d="M322.71 68.58L324.71 71.88L320.71 71.88Z" fill="none" stroke="#2f5aa6" stroke-width="0.9"/>
<path d="M328.95 72.92L330.95 76.22L326.95 76.22Z" fill="none" stroke="#c0174a" stroke-width="0.9"/>
<path d="M327.32 72.67L329.32 75.97L325.32 75.97Z" fill="none" stroke="#5b2a86" stroke-width="0.9"/>
<path d="M327.34 56.62L329.34 59.92L325.34 59.92Z" fill="none" stroke="#c0174a" stroke-width="0.9"/>
<path d="M330.55 55.48L332.55 58.78L328.55 58.78Z" fill="none" stroke="#5b2a86" stroke-width="0.9"/>
<path d="M321.47 54.24L323.47 57.54L319.47 57.54Z" fill="none" stroke="#2f5aa6" stroke-width="0.9"/>
<path d="M325.96 71.37L327.96 74.67L323.96 74.67Z" fill="none" stroke="#2f5aa6" stroke-width="0.9"/>
<path d="M324.69 49.73L326.69 53.03L322.69 53.03Z" fill="none" stroke="#2f5aa6" stroke-width="0.9"/>
<path d="M324.27 47.51L326.27 50.81L322.27 50.81Z" fill="none" stroke="#c0174a" stroke-width="0.9"/>
<path d="M330.55 50.14L332.55 53.44L328.55 53.44Z" fill="none" stroke="#2f5aa6" stroke-width="0.9"/>
<path d="M323.01 54.01L325.01 57.31L321.01 57.31Z" fill="none" stroke="#2f5aa6" stroke-width="0.9"/>
<path d="M325.08 64.1L327.08 67.4L323.08 67.4Z" fill="none" stroke="#c0174a" stroke-width="0.9"/>
<path d="M332.32 63.46L334.32 66.76L330.32 66.76Z" fill="none" stroke="#5b2a86" stroke-width="0.9"/>
<path d="M331.12 60.42L333.12 63.72L329.12 63.72Z" fill="none" stroke="#5b2a86" stroke-width="0.9"/>
<path d="M330.49 70.03L332.49 73.33L328.49 73.33Z" fill="none" stroke="#2f5aa6" stroke-width="0.9"/>
<path d="M331.58 65.16L333.58 68.46L329.58 68.46Z" fill="none" stroke="#5b2a86" stroke-width="0.9"/>
<path d="M331.56 75.86L333.56 79.16L329.56 79.16Z" fill="none" stroke="#5b2a86" stroke-width="0.9"/>
<path d="M333.2 47.18L335.2 50.48L331.2 50.48Z" fill="none" stroke="#c0174a" stroke-width="0.9"/>
<path d="M332.88 66.29L334.88 69.59L330.88 69.59Z" fill="none" stroke="#5b2a86" stroke-width="0.9"/>
<path d="M325.7 56.27L327.7 59.57L323.7 59.57Z" fill="none" stroke="#5b2a86" stroke-width="0.9"/>
<path d="M331.47 52.41L333.47 55.71L329.47 55.71Z" fill="none" stroke="#2f5aa6" stroke-width="0.9"/>
<path d="M325.87 59.34L327.87 62.64L323.87 62.64Z" fill="none" stroke="#2f5aa6" stroke-width="0.9"/>
<path d="M325.76 68.17L327.76 71.47L323.76 71.47Z" fill="none" stroke="#5b2a86" stroke-width="0.9"/>
<path d="M324.53 56.82L326.53 60.12L322.53 60.12Z" fill="none" stroke="#5b2a86" stroke-width="0.9"/>
<path d="M332.65 64.69L334.65 67.99L330.65 67.99Z" fill="none" stroke="#2f5aa6" stroke-width="0.9"/>
<path d="M322.53 48.66L324.53 51.96L320.53 51.96Z" fill="none" stroke="#68ad3e" stroke-width="0.9"/>
<path d="M325.49 76.42L327.49 79.72L323.49 79.72Z" fill="none" stroke="#2f5aa6" stroke-width="0.9"/>
<path d="M329.23 55.13L331.23 58.43L327.23 58.43Z" fill="none" stroke="#c0174a" stroke-width="0.9"/>
<path d="M329.57 64.67L331.57 67.97L327.57 67.97Z" fill="none" stroke="#5b2a86" stroke-width="0.9"/>
<path d="M327.65 72.93L329.65 76.23L325.65 76.23Z" fill="none" stroke="#5b2a86" stroke-width="0.9"/>
<path d="M329.95 57.15L331.95 60.45L327.95 60.45Z" fill="none" stroke="#5b2a86" stroke-width="0.9"/>
<path d="M328.41 71.21L330.41 74.51L326.41 74.51Z" fill="none" stroke="#2f5aa6" stroke-width="0.9"/>
<path d="M332.09 73.85L334.09 77.15L330.09 77.15Z" fill="none" stroke="#5b2a86" stroke-width="0.9"/>
<path d="M329.42 51.23L331.42 54.53L327.42 54.53Z" fill="none" stroke="#2f5aa6" stroke-width="0.9"/>
<path d="M326.26 57.41L328.26 60.71L324.26 60.71Z" fill="none" stroke="#e69a17" stroke-width="0.9"/>
<path d="M323.79 54.94L325.79 58.24L321.79 58.24Z" fill="none" stroke="#e69a17" stroke-width="0.9"/>
<path d="M324.69 51.35L326.69 54.65L322.69 54.65Z" fill="none" stroke="#e69a17" stroke-width="0.9"/>
<path d="M328.56 61.5L330.56 64.8L326.56 64.8Z" fill="none" stroke="#e69a17" stroke-width="0.9"/>
<path d="M327.02 54.04L329.02 57.34L325.02 57.34Z" fill="none" stroke="#e69a17" stroke-width="0.9"/>
<path d="M326.43 64.21L328.43 67.51L324.43 67.51Z" fill="none" stroke="#e69a17" stroke-width="0.9"/>
<path d="M325.12 69.88L327.12 73.18L323.12 73.18Z" fill="none" stroke="#e69a17" stroke-width="0.9"/>
<path d="M329.97 52L331.97 55.3L327.97 55.3Z" fill="none" stroke="#e69a17" stroke-width="0.9"/>
<path d="M330.94 66.29L332.94 69.59L328.94 69.59Z" fill="none" stroke="#e69a17" stroke-width="0.9"/>
<path d="M323.57 67.07L325.57 70.37L321.57 70.37Z" fill="none" stroke="#e69a17" stroke-width="0.9"/>
<path d="M328.67 66.3L330.67 69.6L326.67 69.6Z" fill="none" stroke="#e69a17" stroke-width="0.9"/>
<path d="M327.76 59.92L329.76 63.22L325.76 63.22Z" fill="none" stroke="#e69a17" stroke-width="0.9"/>
<path d="M327.53 68.46L329.53 71.76L325.53 71.76Z" fill="none" stroke="#e69a17" stroke-width="0.9"/>
<path d="M328.16 71.02L330.16 74.32L326.16 74.32Z" fill="none" stroke="#e69a17" stroke-width="0.9"/>
<path d="M328.35 59.13L330.35 62.43L326.35 62.43Z" fill="none" stroke="#e69a17" stroke-width="0.9"/>
<path d="M328.33 61.04L330.33 64.34L326.33 64.34Z" fill="none" stroke="#e69a17" stroke-width="0.9"/>
<path d="M323.77 56.37L325.77 59.67L321.77 59.67Z" fill="none" stroke="#e69a17" stroke-width="0.9"/>
<path d="M328.65 67.68L330.65 70.98L326.65 70.98Z" fill="none" stroke="#e69a17" stroke-width="0.9"/>
<path d="M327.05 58.83L329.05 62.13L325.05 62.13Z" fill="none" stroke="#e69a17" stroke-width="0.9"/>
<path d="M329.49 54.41L331.49 57.71L327.49 57.71Z" fill="none" stroke="#e69a17" stroke-width="0.9"/>
<path d="M328.95 57.57L330.95 60.87L326.95 60.87Z" fill="none" stroke="#e69a17" stroke-width="0.9"/>
<path d="M329.14 53.33L331.14 56.63L327.14 56.63Z" fill="none" stroke="#e69a17" stroke-width="0.9"/>
<path d="M323.79 72.12L325.79 75.42L321.79 75.42Z" fill="none" stroke="#e69a17" stroke-width="0.9"/>
<path d="M325.04 57.51L327.04 60.81L323.04 60.81Z" fill="none" stroke="#e69a17" stroke-width="0.9"/>
<path d="M324.3 58.81L326.3 62.11L322.3 62.11Z" fill="none" stroke="#e69a17" stroke-width="0.9"/>
<path d="M327.42 72.59L329.42 75.89L325.42 75.89Z" fill="none" stroke="#e69a17" stroke-width="0.9"/>
<path d="M323.88 64.03L325.88 67.33L321.88 67.33Z" fill="none" stroke="#e69a17" stroke-width="0.9"/>
<path d="M323.02 67.47L325.02 70.77L321.02 70.77Z" fill="none" stroke="#e69a17" stroke-width="0.9"/>
<path d="M326.94 94.52L328.94 97.82L324.94 97.82Z" fill="none" stroke="#c0174a" stroke-width="0.9"/>
<path d="M326.15 87.55L328.15 90.85L324.15 90.85Z" fill="none" stroke="#c0174a" stroke-width="0.9"/>
<path d="M325.77 95.09L327.77 98.39L323.77 98.39Z" fill="none" stroke="#68ad3e" stroke-width="0.9"/>
<path d="M329.47 82.04L331.47 85.34L327.47 85.34Z" fill="none" stroke="#68ad3e" stroke-width="0.9"/>
<path d="M326.61 81.48L328.61 84.78L324.61 84.78Z" fill="none" stroke="#e69a17" stroke-width="0.9"/>
<path d="M323.43 93.92L325.43 97.22L321.43 97.22Z" fill="none" stroke="#e69a17" stroke-width="0.9"/>
<path d="M324.16 87.25L326.16 90.55L322.16 90.55Z" fill="none" stroke="#68ad3e" stroke-width="0.9"/>
<path d="M330.48 88.92L332.48 92.22L328.48 92.22Z" fill="none" stroke="#5b2a86" stroke-width="0.9"/>
<path d="M326.88 81.64L328.88 84.94L324.88 84.94Z" fill="none" stroke="#5b2a86" stroke-width="0.9"/>
<path d="M327.28 87.1L329.28 90.4L325.28 90.4Z" fill="none" stroke="#c0174a" stroke-width="0.9"/>
<path d="M324.07 77.82L326.07 81.12L322.07 81.12Z" fill="none" stroke="#c0174a" stroke-width="0.9"/>
<path d="M327.39 89.4L329.39 92.7L325.39 92.7Z" fill="none" stroke="#68ad3e" stroke-width="0.9"/>
<path d="M324.31 86.33L326.31 89.63L322.31 89.63Z" fill="none" stroke="#c0174a" stroke-width="0.9"/>
<path d="M330.78 87.67L332.78 90.97L328.78 90.97Z" fill="none" stroke="#c0174a" stroke-width="0.9"/>
<path d="M323 46.6L325 49.9L321 49.9Z" fill="none" stroke="#c0174a" stroke-width="0.9"/>
<path d="M330 46.6L332 49.9L328 49.9Z" fill="none" stroke="#c0174a" stroke-width="0.9"/>
<path d="M322.25 99.2L331.75 99.2L333.95 102.5L320.05 102.5Z" fill="#e69a17" stroke="#e69a17" stroke-width="0.5" stroke-linejoin="round"/>
</g>
<g transform="translate(-0.6,0)">
<line x1="362.5" y1="45" x2="362.5" y2="100.7" stroke="#1a1a1a" stroke-width="0.8"/>
<path d="M362.5 92 L362.7 92 L363.5 99 L363.7 100.8 L361.3 100.8 L361.5 99 L362.3 92Z" fill="none" stroke="#1a1a1a" stroke-width="0.7" stroke-linejoin="round"/>
<circle cx="359.41" cy="66.51" r="1.65" fill="none" stroke="#e69a17" stroke-width="0.9"/>
<circle cx="365.4" cy="84.58" r="1.65" fill="none" stroke="#68ad3e" stroke-width="0.9"/>
<circle cx="358.03" cy="71.41" r="1.65" fill="none" stroke="#e69a17" stroke-width="0.9"/>
<circle cx="362.27" cy="84.82" r="1.65" fill="none" stroke="#e69a17" stroke-width="0.9"/>
<circle cx="364.72" cy="83.75" r="1.65" fill="none" stroke="#e69a17" stroke-width="0.9"/>
<circle cx="364.99" cy="81.85" r="1.65" fill="none" stroke="#e69a17" stroke-width="0.9"/>
<circle cx="360.66" cy="46.69" r="1.65" fill="none" stroke="#e69a17" stroke-width="0.9"/>
<circle cx="361.25" cy="55.07" r="1.65" fill="none" stroke="#e69a17" stroke-width="0.9"/>
<circle cx="366.55" cy="53.66" r="1.65" fill="none" stroke="#e69a17" stroke-width="0.9"/>
<circle cx="363.74" cy="83.5" r="1.65" fill="none" stroke="#e69a17" stroke-width="0.9"/>
<circle cx="360.34" cy="47.73" r="1.65" fill="none" stroke="#e69a17" stroke-width="0.9"/>
<circle cx="365.8" cy="80.12" r="1.65" fill="none" stroke="#5b2a86" stroke-width="0.9"/>
<circle cx="362.65" cy="75.79" r="1.65" fill="none" stroke="#e69a17" stroke-width="0.9"/>
<circle cx="357.4" cy="51.19" r="1.65" fill="none" stroke="#68ad3e" stroke-width="0.9"/>
<circle cx="360.07" cy="69.75" r="1.65" fill="none" stroke="#e69a17" stroke-width="0.9"/>
<circle cx="362.08" cy="45.89" r="1.65" fill="none" stroke="#e69a17" stroke-width="0.9"/>
<circle cx="358.01" cy="79.58" r="1.65" fill="none" stroke="#e69a17" stroke-width="0.9"/>
<circle cx="364.23" cy="63.7" r="1.65" fill="none" stroke="#e69a17" stroke-width="0.9"/>
<circle cx="359.87" cy="68.8" r="1.65" fill="none" stroke="#e69a17" stroke-width="0.9"/>
<circle cx="365.86" cy="54.08" r="1.65" fill="none" stroke="#e69a17" stroke-width="0.9"/>
<circle cx="362.31" cy="45.65" r="1.65" fill="none" stroke="#68ad3e" stroke-width="0.9"/>
<circle cx="366.06" cy="49.27" r="1.65" fill="none" stroke="#e69a17" stroke-width="0.9"/>
<circle cx="364.98" cy="75.2" r="1.65" fill="none" stroke="#e69a17" stroke-width="0.9"/>
<circle cx="365.98" cy="61.61" r="1.65" fill="none" stroke="#e69a17" stroke-width="0.9"/>
<circle cx="363.72" cy="75.55" r="1.65" fill="none" stroke="#e69a17" stroke-width="0.9"/>
<circle cx="358.71" cy="78.7" r="1.65" fill="none" stroke="#68ad3e" stroke-width="0.9"/>
<circle cx="362.32" cy="78.53" r="1.65" fill="none" stroke="#e69a17" stroke-width="0.9"/>
<circle cx="357.51" cy="73.93" r="1.65" fill="none" stroke="#e69a17" stroke-width="0.9"/>
<circle cx="360.29" cy="77.47" r="1.65" fill="none" stroke="#e69a17" stroke-width="0.9"/>
<circle cx="364.42" cy="76.11" r="1.65" fill="none" stroke="#e69a17" stroke-width="0.9"/>
<circle cx="358" cy="90.8" r="1.65" fill="none" stroke="#5b2a86" stroke-width="0.9"/>
<rect x="355.85" y="99.4" width="13.3" height="3.0" rx="1.5" fill="#e69a17"/>
</g>
<g transform="translate(-1,0)">
<line x1="386.7" y1="48" x2="386.7" y2="100.7" stroke="#1a1a1a" stroke-width="0.8"/>
<path d="M383.53 59.6L385.53 62.9L381.53 62.9Z" fill="none" stroke="#2f5aa6" stroke-width="0.9"/>
<path d="M385.13 59.42L387.13 62.72L383.13 62.72Z" fill="none" stroke="#5b2a86" stroke-width="0.9"/>
<path d="M388.22 62.28L390.22 65.58L386.22 65.58Z" fill="none" stroke="#c0174a" stroke-width="0.9"/>
<path d="M386.32 56.57L388.32 59.87L384.32 59.87Z" fill="none" stroke="#2f5aa6" stroke-width="0.9"/>
<path d="M389.94 60.6L391.94 63.9L387.94 63.9Z" fill="none" stroke="#2f5aa6" stroke-width="0.9"/>
<path d="M384.42 54.16L386.42 57.46L382.42 57.46Z" fill="none" stroke="#2f5aa6" stroke-width="0.9"/>
<path d="M389.51 74.99L391.51 78.29L387.51 78.29Z" fill="none" stroke="#c0174a" stroke-width="0.9"/>
<path d="M391.21 78.85L393.21 82.15L389.21 82.15Z" fill="none" stroke="#2f5aa6" stroke-width="0.9"/>
<path d="M390.99 63.65L392.99 66.95L388.99 66.95Z" fill="none" stroke="#2f5aa6" stroke-width="0.9"/>
<path d="M381.41 66.83L383.41 70.13L379.41 70.13Z" fill="none" stroke="#2f5aa6" stroke-width="0.9"/>
<path d="M385.78 74.81L387.78 78.11L383.78 78.11Z" fill="none" stroke="#e69a17" stroke-width="0.9"/>
<path d="M385.82 58.8L387.82 62.1L383.82 62.1Z" fill="none" stroke="#5b2a86" stroke-width="0.9"/>
<path d="M383.19 60.87L385.19 64.17L381.19 64.17Z" fill="none" stroke="#2f5aa6" stroke-width="0.9"/>
<path d="M382.14 49.21L384.14 52.51L380.14 52.51Z" fill="none" stroke="#2f5aa6" stroke-width="0.9"/>
<path d="M382.28 64.28L384.28 67.58L380.28 67.58Z" fill="none" stroke="#2f5aa6" stroke-width="0.9"/>
<path d="M390.82 46.65L392.82 49.95L388.82 49.95Z" fill="none" stroke="#68ad3e" stroke-width="0.9"/>
<path d="M385.02 48.89L387.02 52.19L383.02 52.19Z" fill="none" stroke="#c0174a" stroke-width="0.9"/>
<path d="M386.84 68.24L388.84 71.54L384.84 71.54Z" fill="none" stroke="#2f5aa6" stroke-width="0.9"/>
<path d="M387.55 75.4L389.55 78.7L385.55 78.7Z" fill="none" stroke="#2f5aa6" stroke-width="0.9"/>
<path d="M383.61 70.9L385.61 74.2L381.61 74.2Z" fill="none" stroke="#5b2a86" stroke-width="0.9"/>
<path d="M388.03 77.67L390.03 80.97L386.03 80.97Z" fill="none" stroke="#68ad3e" stroke-width="0.9"/>
<path d="M384.57 56.88L386.57 60.18L382.57 60.18Z" fill="none" stroke="#2f5aa6" stroke-width="0.9"/>
<path d="M386.96 48.07L388.96 51.37L384.96 51.37Z" fill="none" stroke="#c0174a" stroke-width="0.9"/>
<path d="M391.89 66.2L393.89 69.5L389.89 69.5Z" fill="none" stroke="#c0174a" stroke-width="0.9"/>
<path d="M381.1 57.56L383.1 60.86L379.1 60.86Z" fill="none" stroke="#2f5aa6" stroke-width="0.9"/>
<path d="M380.96 57.68L382.96 60.98L378.96 60.98Z" fill="none" stroke="#c0174a" stroke-width="0.9"/>
<path d="M386.52 67.22L388.52 70.52L384.52 70.52Z" fill="none" stroke="#5b2a86" stroke-width="0.9"/>
<path d="M389.17 58.23L391.17 61.53L387.17 61.53Z" fill="none" stroke="#2f5aa6" stroke-width="0.9"/>
<path d="M384.38 72.36L386.38 75.66L382.38 75.66Z" fill="none" stroke="#2f5aa6" stroke-width="0.9"/>
<path d="M384.6 48.58L386.6 51.88L382.6 51.88Z" fill="none" stroke="#2f5aa6" stroke-width="0.9"/>
<path d="M391.66 74.23L393.66 77.53L389.66 77.53Z" fill="none" stroke="#5b2a86" stroke-width="0.9"/>
<path d="M385.57 55.68L387.57 58.98L383.57 58.98Z" fill="none" stroke="#5b2a86" stroke-width="0.9"/>
<path d="M384 81.6L386 84.9L382 84.9Z" fill="none" stroke="#2f5aa6" stroke-width="0.9"/>
<path d="M387.5 94.1L389.5 97.4L385.5 97.4Z" fill="none" stroke="#c0174a" stroke-width="0.9"/>
<path d="M381.95 99.2L391.45 99.2L393.65 102.5L379.75 102.5Z" fill="#e69a17" stroke="#e69a17" stroke-width="0.5" stroke-linejoin="round"/>
</g>
<g transform="translate(-1.8,0)">
<line x1="411" y1="55" x2="411" y2="100.7" stroke="#1a1a1a" stroke-width="0.8"/>
<path d="M400 100.4 L422 100.4" stroke="#1a1a1a" stroke-width="1.1"/>
<path d="M415.78 89.98L417.78 93.28L413.78 93.28Z" fill="none" stroke="#e69a17" stroke-width="0.9"/>
<path d="M413.69 71.21L415.69 74.51L411.69 74.51Z" fill="none" stroke="#2f5aa6" stroke-width="0.9"/>
<path d="M410.31 88.15L412.31 91.45L408.31 91.45Z" fill="none" stroke="#e69a17" stroke-width="0.9"/>
<path d="M411.53 73.11L413.53 76.41L409.53 76.41Z" fill="none" stroke="#2f5aa6" stroke-width="0.9"/>
<path d="M416.19 72.68L418.19 75.98L414.19 75.98Z" fill="none" stroke="#e69a17" stroke-width="0.9"/>
<path d="M407.72 73.28L409.72 76.58L405.72 76.58Z" fill="none" stroke="#e69a17" stroke-width="0.9"/>
<path d="M415.56 88.83L417.56 92.13L413.56 92.13Z" fill="none" stroke="#c0174a" stroke-width="0.9"/>
<path d="M405.97 78.73L407.97 82.03L403.97 82.03Z" fill="none" stroke="#e69a17" stroke-width="0.9"/>
<path d="M415.98 68.12L417.98 71.42L413.98 71.42Z" fill="none" stroke="#e69a17" stroke-width="0.9"/>
<path d="M409.68 91.72L411.68 95.02L407.68 95.02Z" fill="none" stroke="#e69a17" stroke-width="0.9"/>
<path d="M413.51 86.29L415.51 89.59L411.51 89.59Z" fill="none" stroke="#2f5aa6" stroke-width="0.9"/>
<path d="M413.2 78.49L415.2 81.79L411.2 81.79Z" fill="none" stroke="#e69a17" stroke-width="0.9"/>
<path d="M409.83 71.57L411.83 74.87L407.83 74.87Z" fill="none" stroke="#e69a17" stroke-width="0.9"/>
<path d="M411.57 80.99L413.57 84.29L409.57 84.29Z" fill="none" stroke="#e69a17" stroke-width="0.9"/>
<path d="M406.42 89.06L408.42 92.36L404.42 92.36Z" fill="none" stroke="#e69a17" stroke-width="0.9"/>
<path d="M413.89 66.73L415.89 70.03L411.89 70.03Z" fill="none" stroke="#e69a17" stroke-width="0.9"/>
<path d="M405 53.6L407 56.9L403 56.9Z" fill="none" stroke="#2f5aa6" stroke-width="0.9"/>
<path d="M404.5 59.1L406.5 62.4L402.5 62.4Z" fill="none" stroke="#5b2a86" stroke-width="0.9"/>
<path d="M406.25 99.2L415.75 99.2L417.95 102.5L404.05 102.5Z" fill="#e69a17" stroke="#e69a17" stroke-width="0.5" stroke-linejoin="round"/>
</g>
<g transform="translate(-0.1,0)">
<line x1="451.5" y1="47" x2="451.5" y2="100.7" stroke="#1a1a1a" stroke-width="0.8"/>
<path d="M451.5 92 L451.7 92 L452.5 99 L452.7 100.8 L450.3 100.8 L450.5 99 L451.3 92Z" fill="none" stroke="#1a1a1a" stroke-width="0.7" stroke-linejoin="round"/>
<circle cx="454.86" cy="49.19" r="1.65" fill="none" stroke="#e69a17" stroke-width="0.9"/>
<circle cx="453.77" cy="71.67" r="1.65" fill="none" stroke="#c0174a" stroke-width="0.9"/>
<circle cx="454.7" cy="58.46" r="1.65" fill="none" stroke="#e69a17" stroke-width="0.9"/>
<circle cx="449.14" cy="74.1" r="1.65" fill="none" stroke="#2f5aa6" stroke-width="0.9"/>
<circle cx="455.92" cy="68.07" r="1.65" fill="none" stroke="#2f5aa6" stroke-width="0.9"/>
<circle cx="452.34" cy="65.41" r="1.65" fill="none" stroke="#2f5aa6" stroke-width="0.9"/>
<circle cx="454.52" cy="67.4" r="1.65" fill="none" stroke="#2f5aa6" stroke-width="0.9"/>
<circle cx="449.8" cy="47.38" r="1.65" fill="none" stroke="#e69a17" stroke-width="0.9"/>
<circle cx="448.09" cy="66.87" r="1.65" fill="none" stroke="#2f5aa6" stroke-width="0.9"/>
<circle cx="452.07" cy="76.37" r="1.65" fill="none" stroke="#e69a17" stroke-width="0.9"/>
<circle cx="447.14" cy="72.75" r="1.65" fill="none" stroke="#e69a17" stroke-width="0.9"/>
<circle cx="450.39" cy="74.62" r="1.65" fill="none" stroke="#e69a17" stroke-width="0.9"/>
<circle cx="447.86" cy="77.44" r="1.65" fill="none" stroke="#e69a17" stroke-width="0.9"/>
<circle cx="451.5" cy="63.37" r="1.65" fill="none" stroke="#e69a17" stroke-width="0.9"/>
<circle cx="453.31" cy="66.11" r="1.65" fill="none" stroke="#2f5aa6" stroke-width="0.9"/>
<circle cx="450.92" cy="72.03" r="1.65" fill="none" stroke="#2f5aa6" stroke-width="0.9"/>
<circle cx="454.18" cy="52.29" r="1.65" fill="none" stroke="#c0174a" stroke-width="0.9"/>
<circle cx="454.56" cy="75.85" r="1.65" fill="none" stroke="#68ad3e" stroke-width="0.9"/>
<circle cx="451.9" cy="79.1" r="1.65" fill="none" stroke="#e69a17" stroke-width="0.9"/>
<circle cx="446.53" cy="49.68" r="1.65" fill="none" stroke="#2f5aa6" stroke-width="0.9"/>
<circle cx="456.26" cy="67.64" r="1.65" fill="none" stroke="#e69a17" stroke-width="0.9"/>
<circle cx="448.28" cy="77.19" r="1.65" fill="none" stroke="#e69a17" stroke-width="0.9"/>
<circle cx="447.64" cy="68.08" r="1.65" fill="none" stroke="#2f5aa6" stroke-width="0.9"/>
<circle cx="451.8" cy="70.66" r="1.65" fill="none" stroke="#e69a17" stroke-width="0.9"/>
<circle cx="454.96" cy="63.6" r="1.65" fill="none" stroke="#e69a17" stroke-width="0.9"/>
<circle cx="455.03" cy="65.96" r="1.65" fill="none" stroke="#c0174a" stroke-width="0.9"/>
<circle cx="447" cy="89" r="1.65" fill="none" stroke="#e69a17" stroke-width="0.9"/>
<circle cx="448" cy="70.5" r="1.65" fill="none" stroke="#68ad3e" stroke-width="0.9"/>
<circle cx="456" cy="50" r="1.65" fill="none" stroke="#2f5aa6" stroke-width="0.9"/>
<rect x="444.85" y="99.4" width="13.3" height="3.0" rx="1.5" fill="#e69a17"/>
</g>
<g transform="translate(-0.1,0)">
<line x1="475" y1="56" x2="475" y2="100.7" stroke="#5a5a5a" stroke-width="1.2"/>
<path d="M475 99.3 L485.5 100.4 L485.5 101 L464.5 101 L464.5 100.4Z" fill="none" stroke="#1a1a1a" stroke-width="0.9" stroke-linejoin="round"/>
<path d="M474 55.3L476 58.6L472 58.6Z" fill="none" stroke="#2f5aa6" stroke-width="0.9"/>
<path d="M478.5 55.6L480.5 58.9L476.5 58.9Z" fill="none" stroke="#5b2a86" stroke-width="0.9"/>
<path d="M479 74.6L481 77.9L477 77.9Z" fill="none" stroke="#e69a17" stroke-width="0.9"/>
<path d="M475 86.3L477 89.6L473 89.6Z" fill="none" stroke="#e69a17" stroke-width="0.9"/>
<path d="M471 91.3L473 94.6L469 94.6Z" fill="none" stroke="#5b2a86" stroke-width="0.9"/>
<path d="M470.3 99.2L479.7 99.2L481.9 102.5L468.1 102.5Z" fill="#e69a17" stroke="#e69a17" stroke-width="0.5" stroke-linejoin="round"/>
</g>
<g transform="translate(-0.1,0)">
<line x1="498.5" y1="39" x2="498.5" y2="100.7" stroke="#1a1a1a" stroke-width="0.8"/>
<path d="M501 37.6L503 40.9L499 40.9Z" fill="none" stroke="#2f5aa6" stroke-width="0.9"/>
<path d="M504.02 58.34L506.02 61.64L502.02 61.64Z" fill="none" stroke="#2f5aa6" stroke-width="0.9"/>
<path d="M498.84 63.28L500.84 66.58L496.84 66.58Z" fill="none" stroke="#2f5aa6" stroke-width="0.9"/>
<path d="M497.62 51.98L499.62 55.28L495.62 55.28Z" fill="none" stroke="#2f5aa6" stroke-width="0.9"/>
<path d="M502.43 64.14L504.43 67.44L500.43 67.44Z" fill="none" stroke="#c0174a" stroke-width="0.9"/>
<path d="M503.14 58.33L505.14 61.63L501.14 61.63Z" fill="none" stroke="#5b2a86" stroke-width="0.9"/>
<path d="M496.08 47.52L498.08 50.82L494.08 50.82Z" fill="none" stroke="#2f5aa6" stroke-width="0.9"/>
<path d="M502.17 54.52L504.17 57.82L500.17 57.82Z" fill="none" stroke="#c0174a" stroke-width="0.9"/>
<path d="M493.61 57.99L495.61 61.29L491.61 61.29Z" fill="none" stroke="#2f5aa6" stroke-width="0.9"/>
<path d="M502.61 59.29L504.61 62.59L500.61 62.59Z" fill="none" stroke="#2f5aa6" stroke-width="0.9"/>
<path d="M501.89 63.16L503.89 66.46L499.89 66.46Z" fill="none" stroke="#2f5aa6" stroke-width="0.9"/>
<path d="M504.04 58.4L506.04 61.7L502.04 61.7Z" fill="none" stroke="#2f5aa6" stroke-width="0.9"/>
<path d="M503.91 53.76L505.91 57.06L501.91 57.06Z" fill="none" stroke="#2f5aa6" stroke-width="0.9"/>
<path d="M499.25 65.48L501.25 68.78L497.25 68.78Z" fill="none" stroke="#2f5aa6" stroke-width="0.9"/>
<path d="M493.17 59.55L495.17 62.85L491.17 62.85Z" fill="none" stroke="#2f5aa6" stroke-width="0.9"/>
<path d="M493.49 63.6L495.49 66.9L491.49 66.9Z" fill="none" stroke="#2f5aa6" stroke-width="0.9"/>
<path d="M502.53 56.12L504.53 59.42L500.53 59.42Z" fill="none" stroke="#2f5aa6" stroke-width="0.9"/>
<path d="M502.39 51.46L504.39 54.76L500.39 54.76Z" fill="none" stroke="#2f5aa6" stroke-width="0.9"/>
<path d="M494.48 60.45L496.48 63.75L492.48 63.75Z" fill="none" stroke="#2f5aa6" stroke-width="0.9"/>
<path d="M503.62 54.86L505.62 58.16L501.62 58.16Z" fill="none" stroke="#2f5aa6" stroke-width="0.9"/>
<path d="M496.35 52.48L498.35 55.78L494.35 55.78Z" fill="none" stroke="#2f5aa6" stroke-width="0.9"/>
<path d="M494.67 57.98L496.67 61.28L492.67 61.28Z" fill="none" stroke="#2f5aa6" stroke-width="0.9"/>
<path d="M502.47 55.14L504.47 58.44L500.47 58.44Z" fill="none" stroke="#2f5aa6" stroke-width="0.9"/>
<path d="M503.23 47.54L505.23 50.84L501.23 50.84Z" fill="none" stroke="#2f5aa6" stroke-width="0.9"/>
<path d="M493.8 52.42L495.8 55.72L491.8 55.72Z" fill="none" stroke="#2f5aa6" stroke-width="0.9"/>
<path d="M493.72 48.26L495.72 51.56L491.72 51.56Z" fill="none" stroke="#2f5aa6" stroke-width="0.9"/>
<path d="M501.07 52.61L503.07 55.91L499.07 55.91Z" fill="none" stroke="#68ad3e" stroke-width="0.9"/>
<path d="M495.55 49.9L497.55 53.2L493.55 53.2Z" fill="none" stroke="#2f5aa6" stroke-width="0.9"/>
<path d="M500.95 48.04L502.95 51.34L498.95 51.34Z" fill="none" stroke="#2f5aa6" stroke-width="0.9"/>
<path d="M497.66 47.83L499.66 51.13L495.66 51.13Z" fill="none" stroke="#2f5aa6" stroke-width="0.9"/>
<path d="M501.34 54.77L503.34 58.07L499.34 58.07Z" fill="none" stroke="#2f5aa6" stroke-width="0.9"/>
<path d="M498.49 62.12L500.49 65.42L496.49 65.42Z" fill="none" stroke="#2f5aa6" stroke-width="0.9"/>
<path d="M503.51 65.79L505.51 69.09L501.51 69.09Z" fill="none" stroke="#2f5aa6" stroke-width="0.9"/>
<path d="M494.54 62.75L496.54 66.05L492.54 66.05Z" fill="none" stroke="#2f5aa6" stroke-width="0.9"/>
<path d="M498.05 54.59L500.05 57.89L496.05 57.89Z" fill="none" stroke="#2f5aa6" stroke-width="0.9"/>
<path d="M496.79 93.24L498.79 96.54L494.79 96.54Z" fill="none" stroke="#2f5aa6" stroke-width="0.9"/>
<path d="M498.67 90.16L500.67 93.46L496.67 93.46Z" fill="none" stroke="#2f5aa6" stroke-width="0.9"/>
<path d="M493.3 92.34L495.3 95.64L491.3 95.64Z" fill="none" stroke="#2f5aa6" stroke-width="0.9"/>
<path d="M498.71 89.34L500.71 92.64L496.71 92.64Z" fill="none" stroke="#2f5aa6" stroke-width="0.9"/>
<path d="M500.39 69.16L502.39 72.46L498.39 72.46Z" fill="none" stroke="#c0174a" stroke-width="0.9"/>
<path d="M493.31 69.89L495.31 73.19L491.31 73.19Z" fill="none" stroke="#2f5aa6" stroke-width="0.9"/>
<path d="M501.3 82.21L503.3 85.51L499.3 85.51Z" fill="none" stroke="#2f5aa6" stroke-width="0.9"/>
<path d="M500.59 67.06L502.59 70.36L498.59 70.36Z" fill="none" stroke="#2f5aa6" stroke-width="0.9"/>
<path d="M500.2 86.62L502.2 89.92L498.2 89.92Z" fill="none" stroke="#c0174a" stroke-width="0.9"/>
<path d="M497.83 74.16L499.83 77.46L495.83 77.46Z" fill="none" stroke="#2f5aa6" stroke-width="0.9"/>
<path d="M496.86 79.49L498.86 82.79L494.86 82.79Z" fill="none" stroke="#2f5aa6" stroke-width="0.9"/>
<path d="M497.66 72.28L499.66 75.58L495.66 75.58Z" fill="none" stroke="#2f5aa6" stroke-width="0.9"/>
<path d="M496.97 82.54L498.97 85.84L494.97 85.84Z" fill="none" stroke="#c0174a" stroke-width="0.9"/>
<path d="M499.3 72.18L501.3 75.48L497.3 75.48Z" fill="none" stroke="#2f5aa6" stroke-width="0.9"/>
<path d="M501.17 93.38L503.17 96.68L499.17 96.68Z" fill="none" stroke="#e69a17" stroke-width="0.9"/>
<path d="M493.5 99.2L503.5 99.2L505.7 102.5L491.3 102.5Z" fill="#e69a17" stroke="#e69a17" stroke-width="0.5" stroke-linejoin="round"/>
</g>
<rect x="40.9" y="36.3" width="60.1" height="67.5" fill="none" stroke="#1a1a1a" stroke-width="1.1"/>
<rect x="104.8" y="36.3" width="98.7" height="67.5" fill="none" stroke="#1a1a1a" stroke-width="1.1"/>
<rect x="207.2" y="36.3" width="75.8" height="67.5" fill="none" stroke="#1a1a1a" stroke-width="1.1"/>
<rect x="290.7" y="36.3" width="51.8" height="67.5" fill="none" stroke="#1a1a1a" stroke-width="1.1"/>
<rect x="348" y="36.3" width="84.4" height="67.5" fill="none" stroke="#1a1a1a" stroke-width="1.1"/>
<rect x="437.4" y="36.3" width="75.6" height="67.5" fill="none" stroke="#1a1a1a" stroke-width="1.1"/>
<line x1="37.8" y1="37.9" x2="40.9" y2="37.9" stroke="#1a1a1a" stroke-width="0.9"/>
<text x="35" y="40.9" font-size="8.6" text-anchor="end" fill="#1a1a1a" color="#1a1a1a">12</text>
<line x1="37.8" y1="53.6" x2="40.9" y2="53.6" stroke="#1a1a1a" stroke-width="0.9"/>
<text x="35" y="56.6" font-size="8.6" text-anchor="end" fill="#1a1a1a" color="#1a1a1a">9</text>
<line x1="37.8" y1="69.3" x2="40.9" y2="69.3" stroke="#1a1a1a" stroke-width="0.9"/>
<text x="35" y="72.3" font-size="8.6" text-anchor="end" fill="#1a1a1a" color="#1a1a1a">6</text>
<line x1="37.8" y1="85" x2="40.9" y2="85" stroke="#1a1a1a" stroke-width="0.9"/>
<text x="35" y="88" font-size="8.6" text-anchor="end" fill="#1a1a1a" color="#1a1a1a">3</text>
<line x1="37.8" y1="100.7" x2="40.9" y2="100.7" stroke="#1a1a1a" stroke-width="0.9"/>
<text x="35" y="103.7" font-size="8.6" text-anchor="end" fill="#1a1a1a" color="#1a1a1a">0</text>
<text x="0" y="0" font-size="10" text-anchor="middle" textLength="87.62" lengthAdjust="spacingAndGlyphs" fill="#1a1a1a" color="#1a1a1a" transform="translate(20.2,70.4) rotate(-90)">Expression (log2CMP+1)</text>
<line x1="55.2" y1="103.8" x2="55.2" y2="106.7" stroke="#1a1a1a" stroke-width="0.9"/>
<text x="0" y="0" font-size="8.9" text-anchor="end" textLength="30.84" lengthAdjust="spacingAndGlyphs" fill="#1a1a1a" color="#1a1a1a" transform="translate(60,115.4) rotate(-40)">HAVCR2</text>
<line x1="78.5" y1="103.8" x2="78.5" y2="106.7" stroke="#1a1a1a" stroke-width="0.9"/>
<text x="0" y="0" font-size="8.9" text-anchor="end" textLength="29.27" lengthAdjust="spacingAndGlyphs" fill="#1a1a1a" color="#1a1a1a" transform="translate(83.3,115.4) rotate(-40)">LGALS9</text>
<line x1="118.5" y1="103.8" x2="118.5" y2="106.7" stroke="#1a1a1a" stroke-width="0.9"/>
<text x="0" y="0" font-size="8.9" text-anchor="end" textLength="19.78" lengthAdjust="spacingAndGlyphs" fill="#1a1a1a" color="#1a1a1a" transform="translate(123.3,115.4) rotate(-40)">TIGIT</text>
<line x1="142.3" y1="103.8" x2="142.3" y2="106.7" stroke="#1a1a1a" stroke-width="0.9"/>
<text x="0" y="0" font-size="8.9" text-anchor="end" textLength="15.92" lengthAdjust="spacingAndGlyphs" fill="#1a1a1a" color="#1a1a1a" transform="translate(147.1,115.4) rotate(-40)">PVR</text>
<line x1="166" y1="103.8" x2="166" y2="106.7" stroke="#1a1a1a" stroke-width="0.9"/>
<text x="0" y="0" font-size="8.9" text-anchor="end" textLength="33.13" lengthAdjust="spacingAndGlyphs" fill="#1a1a1a" color="#1a1a1a" transform="translate(170.8,115.4) rotate(-40)">NECTIN2</text>
<line x1="189.4" y1="103.8" x2="189.4" y2="106.7" stroke="#1a1a1a" stroke-width="0.9"/>
<text x="0" y="0" font-size="8.9" text-anchor="end" textLength="33.13" lengthAdjust="spacingAndGlyphs" fill="#1a1a1a" color="#1a1a1a" transform="translate(194.2,115.4) rotate(-40)">NECTIN3</text>
<line x1="222" y1="103.8" x2="222" y2="106.7" stroke="#1a1a1a" stroke-width="0.9"/>
<text x="0" y="0" font-size="8.9" text-anchor="end" textLength="19.36" lengthAdjust="spacingAndGlyphs" fill="#1a1a1a" color="#1a1a1a" transform="translate(226.8,115.4) rotate(-40)">BTLA</text>
<line x1="245.4" y1="103.8" x2="245.4" y2="106.7" stroke="#1a1a1a" stroke-width="0.9"/>
<text x="0" y="0" font-size="8.9" text-anchor="end" textLength="24.1" lengthAdjust="spacingAndGlyphs" fill="#1a1a1a" color="#1a1a1a" transform="translate(250.2,115.4) rotate(-40)">CD160</text>
<line x1="268.9" y1="103.8" x2="268.9" y2="106.7" stroke="#1a1a1a" stroke-width="0.9"/>
<text x="0" y="0" font-size="8.9" text-anchor="end" textLength="39.15" lengthAdjust="spacingAndGlyphs" fill="#1a1a1a" color="#1a1a1a" transform="translate(273.7,115.4) rotate(-40)">TNFRSF14</text>
<line x1="304.7" y1="103.8" x2="304.7" y2="106.7" stroke="#1a1a1a" stroke-width="0.9"/>
<text x="0" y="0" font-size="8.9" text-anchor="end" textLength="24.1" lengthAdjust="spacingAndGlyphs" fill="#1a1a1a" color="#1a1a1a" transform="translate(309.5,115.4) rotate(-40)">CD244</text>
<line x1="328.4" y1="103.8" x2="328.4" y2="106.7" stroke="#1a1a1a" stroke-width="0.9"/>
<text x="0" y="0" font-size="8.9" text-anchor="end" textLength="19.8" lengthAdjust="spacingAndGlyphs" fill="#1a1a1a" color="#1a1a1a" transform="translate(333.2,115.4) rotate(-40)">CD48</text>
<line x1="361.9" y1="103.8" x2="361.9" y2="106.7" stroke="#1a1a1a" stroke-width="0.9"/>
<text x="0" y="0" font-size="8.9" text-anchor="end" textLength="26.25" lengthAdjust="spacingAndGlyphs" fill="#1a1a1a" color="#1a1a1a" transform="translate(366.7,115.4) rotate(-40)">PDCD1</text>
<line x1="385.7" y1="103.8" x2="385.7" y2="106.7" stroke="#1a1a1a" stroke-width="0.9"/>
<text x="0" y="0" font-size="8.9" text-anchor="end" textLength="24.1" lengthAdjust="spacingAndGlyphs" fill="#1a1a1a" color="#1a1a1a" transform="translate(390.5,115.4) rotate(-40)">CD274</text>
<line x1="409.2" y1="103.8" x2="409.2" y2="106.7" stroke="#1a1a1a" stroke-width="0.9"/>
<text x="0" y="0" font-size="8.9" text-anchor="end" textLength="40.88" lengthAdjust="spacingAndGlyphs" fill="#1a1a1a" color="#1a1a1a" transform="translate(414,115.4) rotate(-40)">PDCD1LG2</text>
<line x1="451.4" y1="103.8" x2="451.4" y2="106.7" stroke="#1a1a1a" stroke-width="0.9"/>
<text x="0" y="0" font-size="8.9" text-anchor="end" textLength="24.1" lengthAdjust="spacingAndGlyphs" fill="#1a1a1a" color="#1a1a1a" transform="translate(456.2,115.4) rotate(-40)">CTLA4</text>
<line x1="474.9" y1="103.8" x2="474.9" y2="106.7" stroke="#1a1a1a" stroke-width="0.9"/>
<text x="0" y="0" font-size="8.9" text-anchor="end" textLength="19.8" lengthAdjust="spacingAndGlyphs" fill="#1a1a1a" color="#1a1a1a" transform="translate(479.7,115.4) rotate(-40)">CD80</text>
<line x1="498.4" y1="103.8" x2="498.4" y2="106.7" stroke="#1a1a1a" stroke-width="0.9"/>
<text x="0" y="0" font-size="8.9" text-anchor="end" textLength="19.8" lengthAdjust="spacingAndGlyphs" fill="#1a1a1a" color="#1a1a1a" transform="translate(503.2,115.4) rotate(-40)">CD86</text>
<rect x="131.3" y="194.6" width="135.7" height="7.1" fill="#535a6b" stroke="#323848" stroke-width="0.8"/>
<line x1="121" y1="198.1" x2="124" y2="198.1" stroke="#231f20" stroke-width="0.9"/>
<text x="117.4" y="201" font-size="8.4" text-anchor="end" textLength="66.49" lengthAdjust="spacingAndGlyphs" fill="#231f20" color="#231f20">HAVCR2–LGALS9</text>
<rect x="131.3" y="203.66" width="113.3" height="7.1" fill="#535a6b" stroke="#323848" stroke-width="0.8"/>
<line x1="121" y1="207.16" x2="124" y2="207.16" stroke="#231f20" stroke-width="0.9"/>
<text x="117.4" y="210.06" font-size="8.4" text-anchor="end" textLength="60.19" lengthAdjust="spacingAndGlyphs" fill="#231f20" color="#231f20">TIGIT–NECTIN2</text>
<rect x="131.3" y="212.72" width="101.9" height="7.1" fill="#535a6b" stroke="#323848" stroke-width="0.8"/>
<line x1="121" y1="216.22" x2="124" y2="216.22" stroke="#231f20" stroke-width="0.9"/>
<text x="117.4" y="219.12" font-size="8.4" text-anchor="end" textLength="40.08" lengthAdjust="spacingAndGlyphs" fill="#231f20" color="#231f20">TIGIT–PVR</text>
<rect x="131.3" y="221.78" width="98.1" height="7.1" fill="#535a6b" stroke="#323848" stroke-width="0.8"/>
<line x1="121" y1="225.28" x2="124" y2="225.28" stroke="#231f20" stroke-width="0.9"/>
<text x="117.4" y="228.18" font-size="8.4" text-anchor="end" textLength="70.14" lengthAdjust="spacingAndGlyphs" fill="#231f20" color="#231f20">CD160–TNFRSF14</text>
<rect x="131.3" y="230.84" width="95.7" height="7.1" fill="#535a6b" stroke="#323848" stroke-width="0.8"/>
<line x1="121" y1="234.34" x2="124" y2="234.34" stroke="#231f20" stroke-width="0.9"/>
<text x="117.4" y="237.24" font-size="8.4" text-anchor="end" textLength="60.19" lengthAdjust="spacingAndGlyphs" fill="#231f20" color="#231f20">TIGIT–NECTIN3</text>
<rect x="131.3" y="239.9" width="77.7" height="7.1" fill="#535a6b" stroke="#323848" stroke-width="0.8"/>
<line x1="121" y1="243.4" x2="124" y2="243.4" stroke="#231f20" stroke-width="0.9"/>
<text x="117.4" y="246.3" font-size="8.4" text-anchor="end" textLength="51.86" lengthAdjust="spacingAndGlyphs" fill="#231f20" color="#231f20">CD244–CD48</text>
<rect x="131.3" y="248.96" width="68.8" height="7.1" fill="#535a6b" stroke="#323848" stroke-width="0.8"/>
<line x1="121" y1="252.46" x2="124" y2="252.46" stroke="#231f20" stroke-width="0.9"/>
<text x="117.4" y="255.36" font-size="8.4" text-anchor="end" textLength="64.42" lengthAdjust="spacingAndGlyphs" fill="#231f20" color="#231f20">BTLA–TNFRSF14</text>
<rect x="131.3" y="258.02" width="38.8" height="7.1" fill="#535a6b" stroke="#323848" stroke-width="0.8"/>
<line x1="121" y1="261.52" x2="124" y2="261.52" stroke="#231f20" stroke-width="0.9"/>
<text x="117.4" y="264.42" font-size="8.4" text-anchor="end" textLength="58.19" lengthAdjust="spacingAndGlyphs" fill="#231f20" color="#231f20">PDCD1–CD274</text>
<rect x="131.3" y="267.08" width="35.8" height="7.1" fill="#535a6b" stroke="#323848" stroke-width="0.8"/>
<line x1="121" y1="270.58" x2="124" y2="270.58" stroke="#231f20" stroke-width="0.9"/>
<text x="117.4" y="273.48" font-size="8.4" text-anchor="end" textLength="75.26" lengthAdjust="spacingAndGlyphs" fill="#231f20" color="#231f20">PDCD1–PDCD1LG2</text>
<rect x="131.3" y="276.14" width="32.2" height="7.1" fill="#535a6b" stroke="#323848" stroke-width="0.8"/>
<line x1="121" y1="279.64" x2="124" y2="279.64" stroke="#231f20" stroke-width="0.9"/>
<text x="117.4" y="282.54" font-size="8.4" text-anchor="end" textLength="51.24" lengthAdjust="spacingAndGlyphs" fill="#231f20" color="#231f20">CTLA4–CD86</text>
<rect x="131.3" y="285.2" width="27.2" height="7.1" fill="#535a6b" stroke="#323848" stroke-width="0.8"/>
<line x1="121" y1="288.7" x2="124" y2="288.7" stroke="#231f20" stroke-width="0.9"/>
<text x="117.4" y="291.6" font-size="8.4" text-anchor="end" textLength="51.24" lengthAdjust="spacingAndGlyphs" fill="#231f20" color="#231f20">CTLA4–CD80</text>
<line x1="123.8" y1="193" x2="123.8" y2="294.6" stroke="#231f20" stroke-width="1.1"/>
<line x1="123.3" y1="294.2" x2="274" y2="294.2" stroke="#231f20" stroke-width="1.1"/>
<line x1="130.9" y1="294" x2="130.9" y2="297" stroke="#231f20" stroke-width="0.9"/>
<text x="130.9" y="307.6" font-size="8.4" text-anchor="middle" fill="#231f20" color="#231f20">0</text>
<line x1="175.2" y1="294" x2="175.2" y2="297" stroke="#231f20" stroke-width="0.9"/>
<text x="175.2" y="307.6" font-size="8.4" text-anchor="middle" fill="#231f20" color="#231f20">2</text>
<line x1="219.5" y1="294" x2="219.5" y2="297" stroke="#231f20" stroke-width="0.9"/>
<text x="219.5" y="307.6" font-size="8.4" text-anchor="middle" fill="#231f20" color="#231f20">4</text>
<line x1="263.8" y1="294" x2="263.8" y2="297" stroke="#231f20" stroke-width="0.9"/>
<text x="263.8" y="307.6" font-size="8.4" text-anchor="middle" fill="#231f20" color="#231f20">6</text>
<text x="199.2" y="320.9" font-size="10.4" text-anchor="middle" textLength="56.92" lengthAdjust="spacingAndGlyphs" fill="#231f20" color="#231f20">Interaction score</text>
<text x="0" y="0" font-size="9.4" text-anchor="middle" textLength="137.01" lengthAdjust="spacingAndGlyphs" fill="#231f20" color="#231f20" transform="translate(24.5,243.4) rotate(-90)">Co-inhibitory receptor-ligand expressed</text>
<text x="0" y="0" font-size="9.4" text-anchor="middle" textLength="118.5" lengthAdjust="spacingAndGlyphs" fill="#231f20" color="#231f20" transform="translate(36.8,245) rotate(-90)">on dysfunc. CD8+ T- and T-ALL cells</text>
<text x="304.3" y="187.7" font-size="8.4" textLength="78.43" lengthAdjust="spacingAndGlyphs" fill="#231f20" color="#231f20">P2 LGALS9 IHC (60X)</text>
<text x="419" y="187.7" font-size="8.4" textLength="80.77" lengthAdjust="spacingAndGlyphs" fill="#231f20" color="#231f20">P2 HAVCR2 IHC (60X)</text>
<defs><filter id="bl1" x="-5%" y="-5%" width="110%" height="110%"><feGaussianBlur stdDeviation="0.45"/></filter><clipPath id="cp1"><rect x="290.4" y="192.3" width="106.5" height="81.4"/></clipPath><clipPath id="cp2"><rect x="406.2" y="192.3" width="106.8" height="81.4"/></clipPath></defs>
<rect x="290.4" y="192.3" width="106.5" height="81.4" fill="#fdfcfb"/>
<g clip-path="url(#cp1)"><g filter="url(#bl1)">
<circle cx="307.98" cy="192.85" r="0.98" fill="#dab470"/>
<circle cx="309.42" cy="193.26" r="1.17" fill="#dcb878"/>
<circle cx="310.77" cy="193.38" r="0.92" fill="#eed9ac"/>
<circle cx="312.73" cy="193.25" r="1.06" fill="#d0cce8"/>
<circle cx="315.05" cy="193.31" r="1" fill="#faf5ec"/>
<circle cx="316.17" cy="192.54" r="0.96" fill="#d0cce8"/>
<circle cx="317.89" cy="192.44" r="1" fill="#e8cc96"/>
<circle cx="320.28" cy="192.66" r="1.05" fill="#dcb878"/>
<circle cx="322.09" cy="192.77" r="1" fill="#f6eedf"/>
<circle cx="322.77" cy="192.21" r="1.06" fill="#e8cc96"/>
<circle cx="324.77" cy="192.73" r="1.12" fill="#c69848"/>
<circle cx="326.59" cy="192.74" r="1.11" fill="#dab470"/>
<circle cx="327.89" cy="193.31" r="1" fill="#faf5ec"/>
<circle cx="329.81" cy="193.13" r="1.22" fill="#d0a458"/>
<circle cx="331.79" cy="192.62" r="0.93" fill="#c4c0e4"/>
<circle cx="333.83" cy="193.12" r="1.3" fill="#d0a458"/>
<circle cx="335.68" cy="193.38" r="1.03" fill="#e4c68a"/>
<circle cx="337.05" cy="193" r="1.05" fill="#eed9ac"/>
<circle cx="338.51" cy="192.75" r="0.96" fill="#e8cc96"/>
<circle cx="339.88" cy="192.28" r="1.16" fill="#f3e3c0"/>
<circle cx="342.23" cy="192.9" r="1.2" fill="#d0a458"/>
<circle cx="343.81" cy="192.31" r="1.08" fill="#dab470"/>
<circle cx="345.2" cy="192.96" r="1.06" fill="#c4c0e4"/>
<circle cx="347.56" cy="192.34" r="1.05" fill="#e8cc96"/>
<circle cx="348.46" cy="193.38" r="0.96" fill="#e8cc96"/>
<circle cx="350.75" cy="193.12" r="0.8" fill="#b4b2de"/>
<circle cx="351.52" cy="193.22" r="1.14" fill="#d0a458"/>
<circle cx="354" cy="193.28" r="1.23" fill="#eed9ac"/>
<circle cx="355.72" cy="193.3" r="1.16" fill="#d0a458"/>
<circle cx="357.24" cy="192.41" r="1.2" fill="#e4c68a"/>
<circle cx="358.39" cy="192.99" r="1.28" fill="#dcb878"/>
<circle cx="360.26" cy="192.84" r="1.1" fill="#dab470"/>
<circle cx="362.2" cy="192.91" r="0.95" fill="#dab470"/>
<circle cx="363.48" cy="193.07" r="1" fill="#f6eedf"/>
<circle cx="366.28" cy="192.82" r="1" fill="#dcb878"/>
<circle cx="367.61" cy="192.63" r="1" fill="#faf5ec"/>
<circle cx="369.31" cy="192.9" r="1.05" fill="#e8cc96"/>
<circle cx="370.53" cy="193.15" r="1.18" fill="#eed9ac"/>
<circle cx="373.04" cy="192.93" r="0.91" fill="#e4c68a"/>
<circle cx="374.45" cy="192.69" r="0.91" fill="#d0a458"/>
<circle cx="376.4" cy="193.08" r="1" fill="#f6eedf"/>
<circle cx="377.51" cy="192.44" r="1.09" fill="#b4b2de"/>
<circle cx="379.55" cy="192.91" r="1.09" fill="#dab470"/>
<circle cx="380.67" cy="192.6" r="1" fill="#faf5ec"/>
<circle cx="383.02" cy="192.66" r="1.09" fill="#e4c68a"/>
<circle cx="383.89" cy="193.33" r="1.26" fill="#c69848"/>
<circle cx="304.05" cy="194.82" r="1.16" fill="#eed9ac"/>
<circle cx="305.7" cy="194.1" r="1.08" fill="#d0a458"/>
<circle cx="307.39" cy="194.81" r="1.01" fill="#d0cce8"/>
<circle cx="309.73" cy="194.19" r="0.93" fill="#f3e3c0"/>
<circle cx="311.83" cy="194.96" r="0.94" fill="#d0a458"/>
<circle cx="312.64" cy="195.02" r="1.08" fill="#eed9ac"/>
<circle cx="314.67" cy="194.68" r="0.98" fill="#d0a458"/>
<circle cx="316.1" cy="194.3" r="0.96" fill="#b4b2de"/>
<circle cx="318.16" cy="195.1" r="0.94" fill="#d0cce8"/>
<circle cx="319.97" cy="194.19" r="1.02" fill="#e4c68a"/>
<circle cx="321.89" cy="194.37" r="1.05" fill="#e8cc96"/>
<circle cx="323.1" cy="194.36" r="1" fill="#f6eedf"/>
<circle cx="324.36" cy="195.03" r="0.95" fill="#d0cce8"/>
<circle cx="326.95" cy="195.05" r="0.95" fill="#d0a458"/>
<circle cx="328.76" cy="194.23" r="1.02" fill="#c4c0e4"/>
<circle cx="329.98" cy="194.79" r="1.28" fill="#e4c68a"/>
<circle cx="332.16" cy="194.74" r="1.2" fill="#e4c68a"/>
<circle cx="333.1" cy="194.73" r="1" fill="#f6eedf"/>
<circle cx="335.45" cy="194.55" r="0.92" fill="#eed9ac"/>
<circle cx="336.28" cy="194.8" r="1.2" fill="#c29040"/>
<circle cx="338.43" cy="194.8" r="0.94" fill="#dcb878"/>
<circle cx="339.66" cy="194.04" r="0.95" fill="#f3e3c0"/>
<circle cx="342.04" cy="194.95" r="1.24" fill="#f3e3c0"/>
<circle cx="343.48" cy="194.11" r="1.11" fill="#f3e3c0"/>
<circle cx="345.59" cy="194.21" r="1.15" fill="#e4c68a"/>
<circle cx="347.02" cy="194.98" r="1.3" fill="#d0a458"/>
<circle cx="348.91" cy="194.99" r="1.28" fill="#d0a458"/>
<circle cx="350.04" cy="193.94" r="1.16" fill="#d0a458"/>
<circle cx="352.14" cy="194.9" r="1.18" fill="#f3e3c0"/>
<circle cx="353.29" cy="194.15" r="1.09" fill="#c29040"/>
<circle cx="354.96" cy="194.38" r="1.03" fill="#d0a458"/>
<circle cx="356.73" cy="194.59" r="0.93" fill="#c29040"/>
<circle cx="359.48" cy="194.2" r="1.17" fill="#c29040"/>
<circle cx="360.42" cy="194.72" r="1.01" fill="#e4c68a"/>
<circle cx="362.03" cy="194.08" r="1" fill="#f6eedf"/>
<circle cx="363.5" cy="195.09" r="1.25" fill="#d0a458"/>
<circle cx="365.14" cy="195.04" r="1.12" fill="#eed9ac"/>
<circle cx="367.47" cy="194.53" r="0.98" fill="#d0cce8"/>
<circle cx="368.68" cy="194.42" r="0.98" fill="#c29040"/>
<circle cx="370.22" cy="194.22" r="1.03" fill="#d0cce8"/>
<circle cx="372.28" cy="194.51" r="1.2" fill="#e8cc96"/>
<circle cx="374.24" cy="194.39" r="1.29" fill="#dab470"/>
<circle cx="375.82" cy="194.26" r="1.25" fill="#d0a458"/>
<circle cx="377.15" cy="193.97" r="1.21" fill="#d0a458"/>
<circle cx="379.09" cy="195.03" r="0.94" fill="#d0a458"/>
<circle cx="381.28" cy="194.01" r="1.1" fill="#eed9ac"/>
<circle cx="382.58" cy="193.91" r="0.96" fill="#c69848"/>
<circle cx="383.8" cy="194.4" r="0.96" fill="#eed9ac"/>
<circle cx="290.95" cy="196.38" r="0.98" fill="#c69848"/>
<circle cx="292.78" cy="196.77" r="1" fill="#faf5ec"/>
<circle cx="298.23" cy="196.27" r="1.2" fill="#dab470"/>
<circle cx="300.61" cy="196.51" r="1.01" fill="#eed9ac"/>
<circle cx="302.5" cy="195.64" r="1.24" fill="#c69848"/>
<circle cx="303.99" cy="196.48" r="1.22" fill="#c29040"/>
<circle cx="306.26" cy="196.44" r="1.25" fill="#dab470"/>
<circle cx="307.93" cy="196.13" r="1" fill="#f6eedf"/>
<circle cx="309.09" cy="196.11" r="1.18" fill="#c69848"/>
<circle cx="311.19" cy="196.52" r="1.19" fill="#f3e3c0"/>
<circle cx="313.14" cy="196.04" r="1.01" fill="#c29040"/>
<circle cx="314.45" cy="195.81" r="0.92" fill="#c4c0e4"/>
<circle cx="316.75" cy="196.27" r="1.25" fill="#eed9ac"/>
<circle cx="318.23" cy="196.02" r="1.28" fill="#e8cc96"/>
<circle cx="319.74" cy="196.79" r="1.02" fill="#f3e3c0"/>
<circle cx="320.96" cy="196.69" r="1.11" fill="#dcb878"/>
<circle cx="323.01" cy="196.52" r="1" fill="#f6eedf"/>
<circle cx="324.43" cy="195.74" r="1.02" fill="#c69848"/>
<circle cx="326.73" cy="196.35" r="1.02" fill="#dab470"/>
<circle cx="328.42" cy="196.05" r="0.98" fill="#f3e3c0"/>
<circle cx="329.74" cy="195.91" r="0.99" fill="#c29040"/>
<circle cx="331.53" cy="196.34" r="1.17" fill="#dab470"/>
<circle cx="333.6" cy="196.64" r="1.07" fill="#c29040"/>
<circle cx="334.94" cy="196.67" r="1.11" fill="#dab470"/>
<circle cx="336.33" cy="196.11" r="0.94" fill="#b4b2de"/>
<circle cx="337.95" cy="196.33" r="1.18" fill="#eed9ac"/>
<circle cx="340.31" cy="196.04" r="1.15" fill="#c69848"/>
<circle cx="341.33" cy="196.57" r="0.98" fill="#f3e3c0"/>
<circle cx="343.86" cy="196.71" r="1.03" fill="#e8cc96"/>
<circle cx="345.5" cy="196.79" r="1.1" fill="#e4c68a"/>
<circle cx="347.5" cy="196.04" r="1.18" fill="#e8cc96"/>
<circle cx="348.99" cy="196.29" r="1.22" fill="#dab470"/>
<circle cx="350.92" cy="195.84" r="1.39" fill="#c99540"/>
<circle cx="351.8" cy="196.51" r="1" fill="#faf5ec"/>
<circle cx="353.5" cy="195.75" r="1.05" fill="#c29040"/>
<circle cx="355.13" cy="196.64" r="1.17" fill="#e8cc96"/>
<circle cx="357.03" cy="195.93" r="1.1" fill="#c29040"/>
<circle cx="358.68" cy="195.86" r="1.26" fill="#eed9ac"/>
<circle cx="360.91" cy="196.01" r="0.93" fill="#d0cce8"/>
<circle cx="362.11" cy="195.98" r="0.99" fill="#c4c0e4"/>
<circle cx="363.55" cy="195.81" r="0.92" fill="#c69848"/>
<circle cx="365.46" cy="196.01" r="1.28" fill="#c29040"/>
<circle cx="367.2" cy="195.71" r="1.07" fill="#e4c68a"/>
<circle cx="369.4" cy="195.8" r="0.9" fill="#e4c68a"/>
<circle cx="370.71" cy="196.47" r="1.06" fill="#e8cc96"/>
<circle cx="373.05" cy="196.6" r="1.01" fill="#c69848"/>
<circle cx="374.1" cy="195.95" r="1.21" fill="#eed9ac"/>
<circle cx="375.76" cy="196.16" r="1.09" fill="#c69848"/>
<circle cx="377.77" cy="196.39" r="1.05" fill="#dcb878"/>
<circle cx="379.69" cy="196.06" r="1.01" fill="#b4b2de"/>
<circle cx="380.53" cy="196.46" r="0.9" fill="#e4c68a"/>
<circle cx="382.14" cy="196.58" r="1.17" fill="#f3e3c0"/>
<circle cx="291.16" cy="197.7" r="1.24" fill="#dab470"/>
<circle cx="292.75" cy="197.93" r="0.97" fill="#c69848"/>
<circle cx="294.17" cy="197.32" r="0.92" fill="#dab470"/>
<circle cx="295.78" cy="198.25" r="1.25" fill="#dab470"/>
<circle cx="298.28" cy="197.34" r="1.02" fill="#eed9ac"/>
<circle cx="299.07" cy="198.36" r="0.95" fill="#d0a458"/>
<circle cx="301.13" cy="198.37" r="0.9" fill="#c69848"/>
<circle cx="303.23" cy="198.07" r="0.96" fill="#eed9ac"/>
<circle cx="304.74" cy="198.41" r="1.16" fill="#e8cc96"/>
<circle cx="306.45" cy="198.28" r="1.15" fill="#b07a2c"/>
<circle cx="308.19" cy="198.46" r="0.86" fill="#b4b2de"/>
<circle cx="309.57" cy="198.39" r="1.02" fill="#b4b2de"/>
<circle cx="311.89" cy="198.09" r="0.84" fill="#b4b2de"/>
<circle cx="312.71" cy="198.46" r="1" fill="#faf5ec"/>
<circle cx="314.72" cy="197.52" r="1.25" fill="#eed9ac"/>
<circle cx="315.92" cy="197.93" r="0.93" fill="#f3e3c0"/>
<circle cx="318.21" cy="198.5" r="0.94" fill="#c29040"/>
<circle cx="319.35" cy="197.46" r="1.1" fill="#e8cc96"/>
<circle cx="322.08" cy="197.34" r="1" fill="#faf5ec"/>
<circle cx="323.49" cy="197.49" r="1.08" fill="#b4b2de"/>
<circle cx="324.82" cy="197.76" r="1.17" fill="#c29040"/>
<circle cx="326.99" cy="197.81" r="1.11" fill="#c69848"/>
<circle cx="328.01" cy="197.4" r="0.93" fill="#e8cc96"/>
<circle cx="329.98" cy="198.24" r="1" fill="#f6eedf"/>
<circle cx="331.25" cy="197.47" r="1.23" fill="#dab470"/>
<circle cx="333.03" cy="198.46" r="0.95" fill="#e4c68a"/>
<circle cx="335.31" cy="197.42" r="1.17" fill="#f3e3c0"/>
<circle cx="337.3" cy="197.91" r="1.14" fill="#f3e3c0"/>
<circle cx="338.47" cy="197.46" r="1.14" fill="#e4c68a"/>
<circle cx="339.98" cy="198.18" r="1.09" fill="#b4b2de"/>
<circle cx="342.37" cy="198.2" r="1.08" fill="#c69848"/>
<circle cx="343.73" cy="197.83" r="1" fill="#faf5ec"/>
<circle cx="345.66" cy="198.25" r="1.1" fill="#d0cce8"/>
<circle cx="347.09" cy="197.41" r="1.28" fill="#eed9ac"/>
<circle cx="349.09" cy="197.99" r="1.04" fill="#c99540"/>
<circle cx="350.3" cy="197.57" r="1.31" fill="#b07a2c"/>
<circle cx="352.1" cy="197.46" r="1.07" fill="#e8cc96"/>
<circle cx="353.26" cy="197.95" r="1" fill="#faf5ec"/>
<circle cx="355.12" cy="197.8" r="1.04" fill="#f3e3c0"/>
<circle cx="357.19" cy="198.25" r="0.94" fill="#e4c68a"/>
<circle cx="358.97" cy="197.55" r="0.99" fill="#e4c68a"/>
<circle cx="360.31" cy="197.95" r="1" fill="#faf5ec"/>
<circle cx="362.33" cy="197.54" r="1.04" fill="#c4c0e4"/>
<circle cx="363.78" cy="197.78" r="1" fill="#b4b2de"/>
<circle cx="365.12" cy="197.67" r="1.29" fill="#f3e3c0"/>
<circle cx="367.35" cy="197.99" r="0.96" fill="#e4c68a"/>
<circle cx="369.34" cy="198.21" r="0.95" fill="#c69848"/>
<circle cx="370.78" cy="197.71" r="1" fill="#faf5ec"/>
<circle cx="372.51" cy="198.31" r="1.29" fill="#c69848"/>
<circle cx="374.19" cy="197.36" r="1.07" fill="#f3e3c0"/>
<circle cx="376.46" cy="198.04" r="1.07" fill="#b4b2de"/>
<circle cx="378.18" cy="198.26" r="0.91" fill="#d0a458"/>
<circle cx="379.85" cy="197.86" r="0.89" fill="#c4c0e4"/>
<circle cx="380.69" cy="197.81" r="0.99" fill="#e4c68a"/>
<circle cx="382.92" cy="198.01" r="1.05" fill="#e4c68a"/>
<circle cx="290.4" cy="199.94" r="1" fill="#f6eedf"/>
<circle cx="292.07" cy="199.48" r="0.89" fill="#d0cce8"/>
<circle cx="294.3" cy="200" r="1" fill="#faf5ec"/>
<circle cx="295.93" cy="199.27" r="1.21" fill="#c69848"/>
<circle cx="298.19" cy="199.34" r="1.15" fill="#c69848"/>
<circle cx="298.98" cy="200" r="1.18" fill="#f3e3c0"/>
<circle cx="300.52" cy="199.63" r="1.15" fill="#eed9ac"/>
<circle cx="302.49" cy="199.95" r="0.93" fill="#c29040"/>
<circle cx="305.06" cy="200.07" r="1.03" fill="#d0a458"/>
<circle cx="306.48" cy="199.21" r="1.21" fill="#c29040"/>
<circle cx="307.49" cy="200.14" r="1.07" fill="#c4c0e4"/>
<circle cx="309.76" cy="199.07" r="0.9" fill="#d0cce8"/>
<circle cx="311.44" cy="199.91" r="1.12" fill="#c29040"/>
<circle cx="313.4" cy="199.42" r="1.2" fill="#c69848"/>
<circle cx="314.32" cy="199.36" r="0.99" fill="#b4b2de"/>
<circle cx="316.85" cy="199.19" r="1.07" fill="#dcb878"/>
<circle cx="318.69" cy="199.64" r="1.12" fill="#f3e3c0"/>
<circle cx="319.78" cy="199.88" r="1.26" fill="#eed9ac"/>
<circle cx="320.98" cy="200.13" r="0.85" fill="#d0cce8"/>
<circle cx="322.78" cy="199.46" r="0.97" fill="#dcb878"/>
<circle cx="324.37" cy="199.65" r="1" fill="#f6eedf"/>
<circle cx="326.31" cy="199.47" r="1.03" fill="#dcb878"/>
<circle cx="328.81" cy="199" r="0.87" fill="#b4b2de"/>
<circle cx="330.06" cy="199.6" r="1.07" fill="#d0a458"/>
<circle cx="331.83" cy="199.31" r="0.86" fill="#c4c0e4"/>
<circle cx="333.83" cy="200.16" r="0.96" fill="#e4c68a"/>
<circle cx="335.18" cy="199.76" r="0.96" fill="#d0a458"/>
<circle cx="337.05" cy="199.35" r="1" fill="#faf5ec"/>
<circle cx="337.97" cy="199.54" r="1.15" fill="#d0a458"/>
<circle cx="339.83" cy="199.53" r="1.08" fill="#d0a458"/>
<circle cx="342.31" cy="199.11" r="1" fill="#f6eedf"/>
<circle cx="343.49" cy="200.13" r="1.16" fill="#eed9ac"/>
<circle cx="345.08" cy="199.19" r="1" fill="#faf5ec"/>
<circle cx="347.15" cy="199.93" r="1" fill="#faf5ec"/>
<circle cx="348.28" cy="199.3" r="1.11" fill="#f3e3c0"/>
<circle cx="350.59" cy="199.92" r="1" fill="#faf5ec"/>
<circle cx="351.81" cy="199.48" r="1.05" fill="#eed9ac"/>
<circle cx="353.34" cy="199.82" r="0.97" fill="#f3e3c0"/>
<circle cx="355.96" cy="199.45" r="0.91" fill="#eed9ac"/>
<circle cx="360.67" cy="199.5" r="1.03" fill="#e8cc96"/>
<circle cx="362.59" cy="199.54" r="1" fill="#f6eedf"/>
<circle cx="363.52" cy="199.56" r="0.98" fill="#dab470"/>
<circle cx="365.8" cy="200.02" r="1.15" fill="#dcb878"/>
<circle cx="367.78" cy="200.14" r="1.29" fill="#e4c68a"/>
<circle cx="368.74" cy="199.48" r="1" fill="#faf5ec"/>
<circle cx="370.23" cy="199.34" r="1" fill="#f6eedf"/>
<circle cx="372.57" cy="199.6" r="1.2" fill="#f3e3c0"/>
<circle cx="373.86" cy="199.14" r="1.23" fill="#e4c68a"/>
<circle cx="375.45" cy="199.48" r="0.92" fill="#e4c68a"/>
<circle cx="377.21" cy="199.62" r="1.02" fill="#eed9ac"/>
<circle cx="378.77" cy="199.92" r="1.04" fill="#d0a458"/>
<circle cx="381.41" cy="199.34" r="0.99" fill="#c29040"/>
<circle cx="382.1" cy="200" r="1.25" fill="#dcb878"/>
<circle cx="291.18" cy="201.76" r="1.17" fill="#b88030"/>
<circle cx="292.06" cy="201.8" r="0.96" fill="#e8cc96"/>
<circle cx="294.53" cy="201.2" r="1.13" fill="#e4c68a"/>
<circle cx="296.46" cy="201.89" r="1.14" fill="#dab470"/>
<circle cx="297.39" cy="200.84" r="0.92" fill="#d0cce8"/>
<circle cx="298.9" cy="200.97" r="1.03" fill="#c08a38"/>
<circle cx="301.37" cy="201.51" r="0.81" fill="#c4c0e4"/>
<circle cx="302.44" cy="201.7" r="1.4" fill="#b07a2c"/>
<circle cx="304.42" cy="201.19" r="1.28" fill="#dab470"/>
<circle cx="306.48" cy="200.85" r="0.91" fill="#f3e3c0"/>
<circle cx="307.83" cy="200.88" r="0.91" fill="#c4c0e4"/>
<circle cx="309.46" cy="201.54" r="0.82" fill="#c4c0e4"/>
<circle cx="310.86" cy="201.69" r="1.05" fill="#d0a458"/>
<circle cx="312.67" cy="201.84" r="1.19" fill="#dab470"/>
<circle cx="314.79" cy="200.75" r="1.25" fill="#dcb878"/>
<circle cx="316.33" cy="201.69" r="1.09" fill="#c4c0e4"/>
<circle cx="318.62" cy="201.25" r="1.01" fill="#dcb878"/>
<circle cx="320.06" cy="201.37" r="1.15" fill="#dcb878"/>
<circle cx="321.7" cy="200.87" r="1.05" fill="#b4b2de"/>
<circle cx="322.9" cy="200.75" r="0.98" fill="#dcb878"/>
<circle cx="324.47" cy="201.42" r="0.82" fill="#d0cce8"/>
<circle cx="326.65" cy="201.12" r="1.25" fill="#e8cc96"/>
<circle cx="327.76" cy="201.38" r="1.21" fill="#e4c68a"/>
<circle cx="329.58" cy="201.14" r="0.91" fill="#eed9ac"/>
<circle cx="331.75" cy="200.84" r="1" fill="#faf5ec"/>
<circle cx="333.1" cy="201.88" r="0.99" fill="#c29040"/>
<circle cx="334.57" cy="200.74" r="1.14" fill="#c69848"/>
<circle cx="336.27" cy="201.27" r="1" fill="#faf5ec"/>
<circle cx="338.78" cy="201.9" r="0.98" fill="#d0a458"/>
<circle cx="340.41" cy="201.48" r="0.94" fill="#c4c0e4"/>
<circle cx="341.98" cy="201.09" r="1.09" fill="#eed9ac"/>
<circle cx="343.62" cy="201.15" r="1.24" fill="#e8cc96"/>
<circle cx="344.93" cy="201.11" r="1.25" fill="#e4c68a"/>
<circle cx="347.16" cy="201.38" r="1.16" fill="#c29040"/>
<circle cx="349.27" cy="201.54" r="1" fill="#f6eedf"/>
<circle cx="350.61" cy="201.43" r="1.09" fill="#d0a458"/>
<circle cx="352.45" cy="201.65" r="0.84" fill="#c4c0e4"/>
<circle cx="364.53" cy="201.62" r="0.92" fill="#d0cce8"/>
<circle cx="365.19" cy="201.17" r="0.96" fill="#c29040"/>
<circle cx="367.11" cy="201.75" r="1.08" fill="#eed9ac"/>
<circle cx="369.05" cy="201.04" r="0.85" fill="#d0cce8"/>
<circle cx="371.37" cy="201.47" r="1" fill="#d0a458"/>
<circle cx="372.34" cy="201.31" r="1.07" fill="#c29040"/>
<circle cx="374.24" cy="201.58" r="1.25" fill="#c69848"/>
<circle cx="375.73" cy="201.76" r="0.94" fill="#f3e3c0"/>
<circle cx="377.31" cy="201.5" r="0.97" fill="#c69848"/>
<circle cx="379.88" cy="201.32" r="0.92" fill="#dab470"/>
<circle cx="381.45" cy="201.59" r="1.06" fill="#f3e3c0"/>
<circle cx="382.48" cy="200.91" r="1.27" fill="#c69848"/>
<circle cx="291.46" cy="202.9" r="1.1" fill="#f3e3c0"/>
<circle cx="293.11" cy="202.65" r="0.89" fill="#b4b2de"/>
<circle cx="294.8" cy="202.68" r="1.13" fill="#c29040"/>
<circle cx="295.56" cy="203.01" r="1.14" fill="#b07a2c"/>
<circle cx="298.3" cy="203.45" r="1.07" fill="#c69848"/>
<circle cx="298.86" cy="203.44" r="0.84" fill="#b4b2de"/>
<circle cx="300.88" cy="203.56" r="1.12" fill="#dcb878"/>
<circle cx="302.81" cy="203.23" r="1.26" fill="#c69848"/>
<circle cx="305.61" cy="203.03" r="1.21" fill="#c29040"/>
<circle cx="307.79" cy="202.48" r="1.06" fill="#dcb878"/>
<circle cx="310.15" cy="202.88" r="0.95" fill="#c69848"/>
<circle cx="311.58" cy="202.85" r="1.04" fill="#c4c0e4"/>
<circle cx="313.02" cy="203.38" r="0.98" fill="#e8cc96"/>
<circle cx="314.35" cy="202.56" r="0.93" fill="#b4b2de"/>
<circle cx="316.93" cy="203.09" r="0.84" fill="#c4c0e4"/>
<circle cx="318.42" cy="202.46" r="1.07" fill="#f3e3c0"/>
<circle cx="320.03" cy="202.98" r="0.83" fill="#c4c0e4"/>
<circle cx="321.3" cy="203.18" r="0.93" fill="#c29040"/>
<circle cx="323.29" cy="202.64" r="1.09" fill="#c69848"/>
<circle cx="324.7" cy="202.53" r="0.99" fill="#dab470"/>
<circle cx="328.87" cy="202.69" r="1.07" fill="#dab470"/>
<circle cx="330.12" cy="202.58" r="1.25" fill="#d0a458"/>
<circle cx="331.93" cy="203.31" r="1.01" fill="#c4c0e4"/>
<circle cx="333.29" cy="203.26" r="0.93" fill="#d0cce8"/>
<circle cx="334.97" cy="203.36" r="1.12" fill="#dcb878"/>
<circle cx="337" cy="203.59" r="1" fill="#f6eedf"/>
<circle cx="339.06" cy="203.36" r="1.19" fill="#c69848"/>
<circle cx="339.82" cy="203.19" r="1.04" fill="#e4c68a"/>
<circle cx="342.1" cy="202.54" r="1.04" fill="#f3e3c0"/>
<circle cx="344.03" cy="203.6" r="0.87" fill="#d0cce8"/>
<circle cx="345.49" cy="202.96" r="0.98" fill="#c69848"/>
<circle cx="346.79" cy="202.94" r="1" fill="#f6eedf"/>
<circle cx="348.69" cy="202.64" r="1" fill="#f6eedf"/>
<circle cx="350.4" cy="202.98" r="1.24" fill="#f3e3c0"/>
<circle cx="365.15" cy="203.26" r="1" fill="#faf5ec"/>
<circle cx="367.24" cy="203.31" r="1.22" fill="#eed9ac"/>
<circle cx="368.93" cy="203.5" r="0.94" fill="#d0cce8"/>
<circle cx="371.23" cy="203.44" r="1.09" fill="#d0a458"/>
<circle cx="372.6" cy="203.46" r="1.04" fill="#eed9ac"/>
<circle cx="374.27" cy="202.83" r="1.24" fill="#e4c68a"/>
<circle cx="375.93" cy="202.66" r="0.84" fill="#b4b2de"/>
<circle cx="377.17" cy="202.58" r="1.17" fill="#dab470"/>
<circle cx="378.73" cy="202.43" r="1" fill="#f6eedf"/>
<circle cx="380.99" cy="203.49" r="0.94" fill="#c29040"/>
<circle cx="290.71" cy="204.11" r="1.18" fill="#d0a458"/>
<circle cx="292.63" cy="204.99" r="1.3" fill="#b07a2c"/>
<circle cx="294.5" cy="205.11" r="0.83" fill="#b4b2de"/>
<circle cx="295.52" cy="204.41" r="1.32" fill="#c99540"/>
<circle cx="297.9" cy="205.16" r="1.34" fill="#c08a38"/>
<circle cx="299.69" cy="204.78" r="1.06" fill="#d0cce8"/>
<circle cx="301.66" cy="204.2" r="1.21" fill="#c08a38"/>
<circle cx="307.64" cy="204.49" r="1.22" fill="#dcb878"/>
<circle cx="309.87" cy="204.9" r="1.15" fill="#c29040"/>
<circle cx="311.64" cy="204.92" r="1" fill="#faf5ec"/>
<circle cx="312.77" cy="205.06" r="1.05" fill="#eed9ac"/>
<circle cx="314.15" cy="204.22" r="1.21" fill="#e8cc96"/>
<circle cx="316.1" cy="204.95" r="1.14" fill="#dab470"/>
<circle cx="317.78" cy="204.28" r="1.17" fill="#e8cc96"/>
<circle cx="319.66" cy="204.33" r="1.22" fill="#f3e3c0"/>
<circle cx="321.2" cy="204.73" r="1" fill="#f6eedf"/>
<circle cx="323.56" cy="204.36" r="1.02" fill="#dab470"/>
<circle cx="334.88" cy="204.87" r="1.12" fill="#c08a38"/>
<circle cx="336.64" cy="204.42" r="1.12" fill="#f3e3c0"/>
<circle cx="338.69" cy="205.11" r="0.88" fill="#b4b2de"/>
<circle cx="340.24" cy="204.22" r="1.01" fill="#b07a2c"/>
<circle cx="341.97" cy="204.19" r="0.96" fill="#dab470"/>
<circle cx="343.54" cy="204.19" r="0.94" fill="#d0a458"/>
<circle cx="345" cy="204.51" r="1" fill="#dab470"/>
<circle cx="346.5" cy="204.51" r="1.09" fill="#c99540"/>
<circle cx="349.28" cy="205.12" r="1.17" fill="#f3e3c0"/>
<circle cx="350.33" cy="204.64" r="1" fill="#f6eedf"/>
<circle cx="365.92" cy="204.3" r="0.82" fill="#d0cce8"/>
<circle cx="367.05" cy="205.04" r="1" fill="#f6eedf"/>
<circle cx="369.65" cy="205.08" r="1.21" fill="#e8cc96"/>
<circle cx="371.2" cy="205.23" r="1.16" fill="#e4c68a"/>
<circle cx="372.1" cy="205.26" r="1.26" fill="#e4c68a"/>
<circle cx="373.77" cy="205.24" r="1.29" fill="#dcb878"/>
<circle cx="375.62" cy="204.58" r="1.02" fill="#c4c0e4"/>
<circle cx="377" cy="204.35" r="1.1" fill="#c29040"/>
<circle cx="379.84" cy="204.14" r="0.93" fill="#b4b2de"/>
<circle cx="381.49" cy="204.29" r="0.93" fill="#c29040"/>
<circle cx="290.94" cy="206.92" r="1.13" fill="#eed9ac"/>
<circle cx="293.11" cy="206.92" r="0.83" fill="#c4c0e4"/>
<circle cx="294.15" cy="206.14" r="1.06" fill="#c69848"/>
<circle cx="296.1" cy="205.92" r="1" fill="#f6eedf"/>
<circle cx="297.15" cy="205.86" r="1" fill="#f6eedf"/>
<circle cx="299.61" cy="206.58" r="0.92" fill="#e4c68a"/>
<circle cx="300.96" cy="206.1" r="0.95" fill="#e8cc96"/>
<circle cx="302.39" cy="205.83" r="1.27" fill="#c08a38"/>
<circle cx="309.58" cy="206.67" r="1.17" fill="#eed9ac"/>
<circle cx="311.1" cy="206.53" r="1.19" fill="#c69848"/>
<circle cx="313.33" cy="206.84" r="0.9" fill="#d0a458"/>
<circle cx="315.3" cy="205.91" r="1.03" fill="#c69848"/>
<circle cx="316.87" cy="205.83" r="1.03" fill="#dcb878"/>
<circle cx="318.12" cy="206.76" r="1.24" fill="#d0a458"/>
<circle cx="320.33" cy="206.31" r="1.06" fill="#c4c0e4"/>
<circle cx="321.47" cy="206.21" r="0.95" fill="#e8cc96"/>
<circle cx="335.56" cy="206.59" r="1.07" fill="#c08a38"/>
<circle cx="336.74" cy="206.15" r="0.95" fill="#c69848"/>
<circle cx="337.9" cy="206.86" r="1" fill="#f6eedf"/>
<circle cx="339.67" cy="206.01" r="1" fill="#f6eedf"/>
<circle cx="341.95" cy="206.71" r="0.92" fill="#c69848"/>
<circle cx="343.43" cy="206.05" r="1.01" fill="#e4c68a"/>
<circle cx="345.88" cy="206.12" r="1.25" fill="#dab470"/>
<circle cx="346.55" cy="206.76" r="1.03" fill="#c29040"/>
<circle cx="349.07" cy="206.54" r="1.1" fill="#dcb878"/>
<circle cx="349.88" cy="205.97" r="1" fill="#faf5ec"/>
<circle cx="366.13" cy="205.88" r="1.01" fill="#dab470"/>
<circle cx="366.9" cy="206.79" r="1" fill="#f6eedf"/>
<circle cx="369.64" cy="206.22" r="1.05" fill="#b4b2de"/>
<circle cx="371.16" cy="206.96" r="0.93" fill="#e4c68a"/>
<circle cx="371.93" cy="205.9" r="1.14" fill="#dab470"/>
<circle cx="374.77" cy="206.29" r="0.96" fill="#b4b2de"/>
<circle cx="375.67" cy="206.67" r="1.03" fill="#dab470"/>
<circle cx="377.43" cy="206.81" r="1.02" fill="#e4c68a"/>
<circle cx="379.43" cy="206.16" r="0.88" fill="#d0cce8"/>
<circle cx="381.3" cy="206.18" r="1.08" fill="#c69848"/>
<circle cx="291.14" cy="208.27" r="1" fill="#f6eedf"/>
<circle cx="293.11" cy="208.68" r="1.29" fill="#dab470"/>
<circle cx="294.47" cy="207.58" r="1.3" fill="#c08a38"/>
<circle cx="296.4" cy="207.88" r="1.1" fill="#c69848"/>
<circle cx="297.29" cy="208.67" r="1.27" fill="#b88030"/>
<circle cx="299.31" cy="208.35" r="1.07" fill="#b4b2de"/>
<circle cx="301.32" cy="208.63" r="1.16" fill="#b07a2c"/>
<circle cx="302.27" cy="207.78" r="1.3" fill="#d0a458"/>
<circle cx="311.09" cy="207.91" r="1.23" fill="#f3e3c0"/>
<circle cx="312.83" cy="208.56" r="1.04" fill="#c4c0e4"/>
<circle cx="314.82" cy="208.62" r="0.91" fill="#dab470"/>
<circle cx="316.82" cy="208.45" r="0.89" fill="#b4b2de"/>
<circle cx="318.4" cy="208.3" r="0.95" fill="#e4c68a"/>
<circle cx="320.04" cy="207.69" r="1.08" fill="#f3e3c0"/>
<circle cx="321.1" cy="208.22" r="0.92" fill="#d0a458"/>
<circle cx="337.32" cy="207.95" r="1.28" fill="#dab470"/>
<circle cx="338.7" cy="208.05" r="1.16" fill="#e4c68a"/>
<circle cx="340.22" cy="208.69" r="1.26" fill="#c69848"/>
<circle cx="341.6" cy="207.65" r="1.22" fill="#e8cc96"/>
<circle cx="344.01" cy="207.73" r="0.96" fill="#c29040"/>
<circle cx="345.41" cy="208.68" r="0.93" fill="#d0cce8"/>
<circle cx="347.21" cy="207.56" r="1.23" fill="#c29040"/>
<circle cx="348.5" cy="208.56" r="1.18" fill="#c29040"/>
<circle cx="367.41" cy="208.19" r="1.11" fill="#e4c68a"/>
<circle cx="368.59" cy="208.27" r="1" fill="#faf5ec"/>
<circle cx="370.5" cy="208.21" r="0.98" fill="#d0a458"/>
<circle cx="372.5" cy="207.67" r="1.07" fill="#d0a458"/>
<circle cx="374.1" cy="208.41" r="1.05" fill="#c4c0e4"/>
<circle cx="375.93" cy="208.15" r="1.2" fill="#e8cc96"/>
<circle cx="377.11" cy="207.92" r="1.05" fill="#b4b2de"/>
<circle cx="379.44" cy="208.63" r="1.2" fill="#dab470"/>
<circle cx="381.44" cy="207.98" r="0.97" fill="#dab470"/>
<circle cx="290.4" cy="210.05" r="1.19" fill="#f3e3c0"/>
<circle cx="292.1" cy="209.63" r="0.92" fill="#dcb878"/>
<circle cx="294.22" cy="209.48" r="1.18" fill="#dcb878"/>
<circle cx="295.49" cy="209.42" r="1.29" fill="#c29040"/>
<circle cx="297.7" cy="209.58" r="0.92" fill="#dab470"/>
<circle cx="299.59" cy="209.57" r="1.28" fill="#eed9ac"/>
<circle cx="301.35" cy="209.75" r="1.25" fill="#eed9ac"/>
<circle cx="302.49" cy="209.78" r="1" fill="#faf5ec"/>
<circle cx="311.31" cy="210.01" r="1.1" fill="#dab470"/>
<circle cx="312.63" cy="210.16" r="1.02" fill="#c29040"/>
<circle cx="314.37" cy="209.52" r="1" fill="#faf5ec"/>
<circle cx="316.47" cy="210.37" r="1.18" fill="#dcb878"/>
<circle cx="318.16" cy="209.67" r="0.89" fill="#c4c0e4"/>
<circle cx="319.81" cy="209.28" r="0.92" fill="#e4c68a"/>
<circle cx="321.13" cy="209.67" r="0.94" fill="#c29040"/>
<circle cx="335.55" cy="210.22" r="1.24" fill="#c99540"/>
<circle cx="336.97" cy="209.74" r="1" fill="#f6eedf"/>
<circle cx="338.02" cy="209.97" r="1.04" fill="#b4b2de"/>
<circle cx="340.01" cy="209.31" r="1" fill="#f6eedf"/>
<circle cx="342.15" cy="210.25" r="1.1" fill="#c08a38"/>
<circle cx="343.02" cy="209.69" r="1.19" fill="#e4c68a"/>
<circle cx="344.81" cy="210.11" r="1.2" fill="#b88030"/>
<circle cx="347.11" cy="209.31" r="1.27" fill="#e8cc96"/>
<circle cx="348.88" cy="210.39" r="0.99" fill="#c4c0e4"/>
<circle cx="350.15" cy="209.86" r="1.07" fill="#b4b2de"/>
<circle cx="367.22" cy="210.32" r="1.01" fill="#f3e3c0"/>
<circle cx="369.2" cy="209.67" r="1" fill="#f6eedf"/>
<circle cx="371.4" cy="209.54" r="1.04" fill="#eed9ac"/>
<circle cx="372.99" cy="209.56" r="1.08" fill="#dcb878"/>
<circle cx="374.02" cy="209.53" r="1.19" fill="#c29040"/>
<circle cx="375.98" cy="209.67" r="0.97" fill="#d0a458"/>
<circle cx="377.13" cy="209.39" r="1" fill="#faf5ec"/>
<circle cx="379.45" cy="210.17" r="1" fill="#faf5ec"/>
<circle cx="380.42" cy="209.47" r="1.21" fill="#f3e3c0"/>
<circle cx="383.06" cy="209.79" r="1.12" fill="#e8cc96"/>
<circle cx="291.33" cy="211.99" r="1.23" fill="#c29040"/>
<circle cx="292.22" cy="211.22" r="1" fill="#faf5ec"/>
<circle cx="294.85" cy="211.73" r="1.08" fill="#f3e3c0"/>
<circle cx="296.26" cy="211.2" r="0.98" fill="#e8cc96"/>
<circle cx="297.38" cy="211.87" r="1.02" fill="#c4c0e4"/>
<circle cx="298.8" cy="211.43" r="0.86" fill="#d0cce8"/>
<circle cx="301.69" cy="211.03" r="1.25" fill="#dcb878"/>
<circle cx="303.34" cy="212.05" r="1.02" fill="#e4c68a"/>
<circle cx="311.4" cy="211.69" r="1.24" fill="#e8cc96"/>
<circle cx="312.43" cy="211.86" r="1.19" fill="#f3e3c0"/>
<circle cx="315.24" cy="211.76" r="1.2" fill="#d0a458"/>
<circle cx="315.86" cy="212.02" r="0.96" fill="#dab470"/>
<circle cx="318.41" cy="211.16" r="1" fill="#f6eedf"/>
<circle cx="319.54" cy="211.27" r="1" fill="#c69848"/>
<circle cx="321.66" cy="211.12" r="1.17" fill="#c69848"/>
<circle cx="335.14" cy="210.92" r="0.98" fill="#eed9ac"/>
<circle cx="336.23" cy="211.79" r="1.36" fill="#c99540"/>
<circle cx="338.52" cy="211.84" r="1.05" fill="#dab470"/>
<circle cx="340.62" cy="212.03" r="1.14" fill="#c08a38"/>
<circle cx="342.26" cy="210.94" r="1" fill="#b4b2de"/>
<circle cx="343.68" cy="211.34" r="1.39" fill="#b07a2c"/>
<circle cx="344.7" cy="211.15" r="1.24" fill="#dcb878"/>
<circle cx="347.51" cy="211.59" r="1.16" fill="#b88030"/>
<circle cx="349.07" cy="211.68" r="0.8" fill="#b4b2de"/>
<circle cx="350.13" cy="211.99" r="1.08" fill="#c69848"/>
<circle cx="365.11" cy="212.08" r="0.98" fill="#dcb878"/>
<circle cx="367.85" cy="211.65" r="1.18" fill="#c29040"/>
<circle cx="369.43" cy="211.09" r="1" fill="#f6eedf"/>
<circle cx="370.35" cy="211.15" r="1" fill="#f6eedf"/>
<circle cx="372.47" cy="211.32" r="1.22" fill="#e8cc96"/>
<circle cx="373.61" cy="211.76" r="0.91" fill="#c4c0e4"/>
<circle cx="375.5" cy="211.63" r="0.98" fill="#c69848"/>
<circle cx="377.35" cy="211.53" r="1.02" fill="#c69848"/>
<circle cx="379.38" cy="211.09" r="1" fill="#f6eedf"/>
<circle cx="380.47" cy="211.62" r="0.86" fill="#d0cce8"/>
<circle cx="383.12" cy="211.85" r="1.05" fill="#b4b2de"/>
<circle cx="290.73" cy="213.6" r="1.32" fill="#b88030"/>
<circle cx="292.42" cy="213.43" r="1.32" fill="#b88030"/>
<circle cx="294.34" cy="213.06" r="1.01" fill="#b4b2de"/>
<circle cx="296.59" cy="213.75" r="0.98" fill="#f3e3c0"/>
<circle cx="297.35" cy="213.37" r="0.84" fill="#d0cce8"/>
<circle cx="299.17" cy="213.64" r="0.89" fill="#b4b2de"/>
<circle cx="300.71" cy="212.71" r="1.01" fill="#c69848"/>
<circle cx="302.87" cy="213.4" r="1.22" fill="#c69848"/>
<circle cx="313.55" cy="213.76" r="1.25" fill="#d0a458"/>
<circle cx="315.29" cy="213.01" r="1" fill="#f6eedf"/>
<circle cx="316.36" cy="213.7" r="1.22" fill="#b07a2c"/>
<circle cx="318.58" cy="213.32" r="1.06" fill="#c99540"/>
<circle cx="319.21" cy="213.19" r="1" fill="#f6eedf"/>
<circle cx="321.33" cy="212.67" r="1.22" fill="#b07a2c"/>
<circle cx="322.7" cy="213.21" r="1" fill="#f6eedf"/>
<circle cx="324.35" cy="213.4" r="1.16" fill="#c29040"/>
<circle cx="333.37" cy="213.75" r="1.05" fill="#c08a38"/>
<circle cx="334.78" cy="213.15" r="1.15" fill="#c69848"/>
<circle cx="336.37" cy="213.66" r="0.94" fill="#b4b2de"/>
<circle cx="338.93" cy="213.59" r="0.95" fill="#c69848"/>
<circle cx="340.69" cy="213.73" r="1.15" fill="#c69848"/>
<circle cx="342.28" cy="212.94" r="1.14" fill="#dcb878"/>
<circle cx="344.19" cy="213.22" r="0.97" fill="#c29040"/>
<circle cx="344.92" cy="213.75" r="1.38" fill="#b88030"/>
<circle cx="346.42" cy="213.11" r="1.19" fill="#b88030"/>
<circle cx="348.39" cy="213.61" r="1.35" fill="#c08a38"/>
<circle cx="350.42" cy="212.63" r="1" fill="#faf5ec"/>
<circle cx="365.21" cy="213.12" r="1" fill="#f6eedf"/>
<circle cx="367.47" cy="212.99" r="0.93" fill="#d0cce8"/>
<circle cx="368.84" cy="213.36" r="1.26" fill="#d0a458"/>
<circle cx="370.49" cy="213.2" r="1.17" fill="#c69848"/>
<circle cx="371.92" cy="212.9" r="1.12" fill="#e8cc96"/>
<circle cx="374.62" cy="212.6" r="1.27" fill="#c69848"/>
<circle cx="375.95" cy="212.78" r="1.17" fill="#f3e3c0"/>
<circle cx="377.68" cy="213.67" r="1.18" fill="#e4c68a"/>
<circle cx="379.07" cy="212.98" r="1.29" fill="#eed9ac"/>
<circle cx="381.02" cy="212.64" r="1.07" fill="#d0a458"/>
<circle cx="383.27" cy="213.13" r="1.04" fill="#b4b2de"/>
<circle cx="384.5" cy="213.66" r="1.1" fill="#e4c68a"/>
<circle cx="291.37" cy="214.44" r="1.27" fill="#f3e3c0"/>
<circle cx="292.15" cy="215.14" r="0.81" fill="#d0cce8"/>
<circle cx="294.65" cy="215.01" r="1.25" fill="#d0a458"/>
<circle cx="295.4" cy="215.34" r="1" fill="#faf5ec"/>
<circle cx="298.1" cy="214.38" r="0.92" fill="#c29040"/>
<circle cx="299.14" cy="215.02" r="0.94" fill="#dab470"/>
<circle cx="301.21" cy="214.61" r="1.07" fill="#c29040"/>
<circle cx="303.21" cy="214.37" r="1.17" fill="#c29040"/>
<circle cx="313.21" cy="215.38" r="1.04" fill="#f3e3c0"/>
<circle cx="314.81" cy="215.09" r="0.93" fill="#c29040"/>
<circle cx="316.37" cy="214.69" r="1.06" fill="#e8cc96"/>
<circle cx="318.2" cy="214.55" r="1.02" fill="#e8cc96"/>
<circle cx="320.12" cy="214.78" r="0.88" fill="#b4b2de"/>
<circle cx="321.55" cy="214.81" r="1.29" fill="#b88030"/>
<circle cx="322.62" cy="214.33" r="1.08" fill="#f3e3c0"/>
<circle cx="324.77" cy="214.91" r="1.05" fill="#d0a458"/>
<circle cx="326.14" cy="214.55" r="1.2" fill="#e8cc96"/>
<circle cx="328.3" cy="215.15" r="1.25" fill="#dab470"/>
<circle cx="330.03" cy="214.88" r="1.33" fill="#c08a38"/>
<circle cx="331.59" cy="214.71" r="1" fill="#faf5ec"/>
<circle cx="333.82" cy="214.91" r="0.94" fill="#d0cce8"/>
<circle cx="335.15" cy="214.92" r="1.28" fill="#c08a38"/>
<circle cx="337.01" cy="214.47" r="1.07" fill="#c08a38"/>
<circle cx="337.96" cy="215.03" r="0.9" fill="#d0cce8"/>
<circle cx="339.96" cy="214.65" r="0.94" fill="#b4b2de"/>
<circle cx="341.66" cy="215.05" r="0.9" fill="#c29040"/>
<circle cx="344.16" cy="215.04" r="1.3" fill="#eed9ac"/>
<circle cx="345.11" cy="215.01" r="1.19" fill="#e8cc96"/>
<circle cx="347.07" cy="214.49" r="1.29" fill="#b07a2c"/>
<circle cx="348.48" cy="215.15" r="0.89" fill="#c4c0e4"/>
<circle cx="350.45" cy="214.68" r="0.93" fill="#f3e3c0"/>
<circle cx="351.51" cy="215.03" r="1.16" fill="#c99540"/>
<circle cx="362.27" cy="215.48" r="1" fill="#e4c68a"/>
<circle cx="363.5" cy="214.95" r="1.14" fill="#d0a458"/>
<circle cx="366" cy="214.53" r="1.11" fill="#d0a458"/>
<circle cx="367.04" cy="214.33" r="1" fill="#faf5ec"/>
<circle cx="369.08" cy="214.73" r="1.28" fill="#f3e3c0"/>
<circle cx="371.33" cy="215.17" r="1" fill="#f6eedf"/>
<circle cx="372.02" cy="214.47" r="1.08" fill="#dab470"/>
<circle cx="373.72" cy="215.38" r="0.93" fill="#dcb878"/>
<circle cx="376.12" cy="214.93" r="1.25" fill="#eed9ac"/>
<circle cx="377.51" cy="215.24" r="1.07" fill="#c29040"/>
<circle cx="379.2" cy="214.48" r="1.16" fill="#c69848"/>
<circle cx="381.01" cy="215.39" r="1.09" fill="#e4c68a"/>
<circle cx="382.28" cy="215.21" r="1.27" fill="#e8cc96"/>
<circle cx="384.15" cy="215.07" r="1" fill="#faf5ec"/>
<circle cx="296.11" cy="216.38" r="1.05" fill="#c4c0e4"/>
<circle cx="297.21" cy="216.18" r="0.96" fill="#e4c68a"/>
<circle cx="299.17" cy="216.76" r="0.97" fill="#d0cce8"/>
<circle cx="300.74" cy="216.41" r="0.89" fill="#c4c0e4"/>
<circle cx="303.29" cy="216.06" r="1.11" fill="#d0a458"/>
<circle cx="304.5" cy="216.6" r="1.28" fill="#d0a458"/>
<circle cx="313.24" cy="216.64" r="1.1" fill="#eed9ac"/>
<circle cx="314.23" cy="217.15" r="1.24" fill="#f3e3c0"/>
<circle cx="316.35" cy="217.15" r="0.96" fill="#e4c68a"/>
<circle cx="317.73" cy="216.45" r="1.19" fill="#b07a2c"/>
<circle cx="320.24" cy="216.6" r="1.24" fill="#b07a2c"/>
<circle cx="321.83" cy="216.98" r="1.07" fill="#b4b2de"/>
<circle cx="322.63" cy="216.91" r="1.06" fill="#f3e3c0"/>
<circle cx="324.77" cy="216.01" r="1" fill="#f6eedf"/>
<circle cx="326.59" cy="216.77" r="1.25" fill="#f3e3c0"/>
<circle cx="328.14" cy="216.04" r="1.17" fill="#c29040"/>
<circle cx="330.15" cy="217.04" r="0.96" fill="#dab470"/>
<circle cx="332.2" cy="216.53" r="1" fill="#faf5ec"/>
<circle cx="333.3" cy="216.86" r="1.34" fill="#c99540"/>
<circle cx="335.31" cy="216.62" r="1.25" fill="#dab470"/>
<circle cx="337.07" cy="216.31" r="1.02" fill="#c69848"/>
<circle cx="338.22" cy="216.48" r="1" fill="#faf5ec"/>
<circle cx="340.13" cy="217.02" r="1" fill="#f6eedf"/>
<circle cx="341.92" cy="216.89" r="1.1" fill="#b4b2de"/>
<circle cx="343.09" cy="216.55" r="1.03" fill="#e4c68a"/>
<circle cx="345.75" cy="216.46" r="1.09" fill="#c99540"/>
<circle cx="347.18" cy="216.71" r="1" fill="#f6eedf"/>
<circle cx="348.64" cy="217.05" r="1.25" fill="#b07a2c"/>
<circle cx="350.54" cy="216.46" r="1.14" fill="#dcb878"/>
<circle cx="352.5" cy="216.68" r="0.92" fill="#c69848"/>
<circle cx="353.81" cy="216.23" r="1.18" fill="#c29040"/>
<circle cx="357.49" cy="216.69" r="0.91" fill="#e8cc96"/>
<circle cx="358.49" cy="217.13" r="1.01" fill="#e8cc96"/>
<circle cx="360.15" cy="216.43" r="1.08" fill="#d0a458"/>
<circle cx="362.78" cy="216.68" r="1.18" fill="#e8cc96"/>
<circle cx="363.91" cy="216.27" r="1.24" fill="#eed9ac"/>
<circle cx="365.34" cy="216.03" r="1" fill="#c69848"/>
<circle cx="367.01" cy="216.11" r="0.87" fill="#c4c0e4"/>
<circle cx="369.49" cy="216.1" r="0.94" fill="#e8cc96"/>
<circle cx="370.39" cy="216.15" r="1.02" fill="#dab470"/>
<circle cx="371.95" cy="216.55" r="1" fill="#f6eedf"/>
<circle cx="374.19" cy="216.43" r="1.24" fill="#f3e3c0"/>
<circle cx="376.06" cy="216.57" r="0.92" fill="#d0cce8"/>
<circle cx="377.84" cy="216.67" r="1.22" fill="#c69848"/>
<circle cx="379.7" cy="216.91" r="1.01" fill="#d0a458"/>
<circle cx="380.45" cy="216.24" r="0.98" fill="#c69848"/>
<circle cx="383.13" cy="216.46" r="0.95" fill="#eed9ac"/>
<circle cx="384.46" cy="216.47" r="1.15" fill="#c08a38"/>
<circle cx="299.17" cy="218.08" r="1.03" fill="#dab470"/>
<circle cx="300.82" cy="218.44" r="1.07" fill="#b4b2de"/>
<circle cx="302.66" cy="218.59" r="0.96" fill="#e4c68a"/>
<circle cx="304.82" cy="218.27" r="1.07" fill="#b07a2c"/>
<circle cx="305.78" cy="218.43" r="0.89" fill="#c4c0e4"/>
<circle cx="312.88" cy="218.49" r="1.17" fill="#eed9ac"/>
<circle cx="314.68" cy="218.26" r="1.27" fill="#dab470"/>
<circle cx="316.88" cy="218.3" r="1" fill="#dcb878"/>
<circle cx="318.63" cy="218.22" r="0.93" fill="#eed9ac"/>
<circle cx="319.85" cy="218.03" r="1.04" fill="#d0cce8"/>
<circle cx="321.45" cy="217.76" r="1.19" fill="#b88030"/>
<circle cx="323.65" cy="218.65" r="1.13" fill="#c29040"/>
<circle cx="324.31" cy="218.04" r="1.14" fill="#d0a458"/>
<circle cx="326.22" cy="218.4" r="1.28" fill="#dab470"/>
<circle cx="328.86" cy="218.3" r="1" fill="#f6eedf"/>
<circle cx="330.49" cy="218.6" r="1.05" fill="#c4c0e4"/>
<circle cx="331.31" cy="217.75" r="1.26" fill="#c08a38"/>
<circle cx="333.96" cy="217.82" r="1.07" fill="#c4c0e4"/>
<circle cx="335.32" cy="217.98" r="0.91" fill="#c29040"/>
<circle cx="337.35" cy="218.62" r="1.01" fill="#e4c68a"/>
<circle cx="338.64" cy="218.05" r="1.16" fill="#d0a458"/>
<circle cx="340.62" cy="217.71" r="1.06" fill="#e4c68a"/>
<circle cx="342.4" cy="218.01" r="1.15" fill="#eed9ac"/>
<circle cx="343.1" cy="217.76" r="1.02" fill="#f3e3c0"/>
<circle cx="344.97" cy="217.83" r="1" fill="#f6eedf"/>
<circle cx="347.29" cy="218.06" r="1.03" fill="#f3e3c0"/>
<circle cx="349.1" cy="217.75" r="1.16" fill="#eed9ac"/>
<circle cx="350.92" cy="218.42" r="0.98" fill="#b4b2de"/>
<circle cx="352.69" cy="218.73" r="1.24" fill="#c29040"/>
<circle cx="353.92" cy="218.4" r="1.29" fill="#c29040"/>
<circle cx="355.54" cy="217.89" r="1" fill="#faf5ec"/>
<circle cx="356.74" cy="218.64" r="0.98" fill="#c69848"/>
<circle cx="358.71" cy="217.95" r="0.83" fill="#d0cce8"/>
<circle cx="361.12" cy="217.92" r="0.91" fill="#c69848"/>
<circle cx="362.9" cy="217.95" r="1.27" fill="#e8cc96"/>
<circle cx="364.26" cy="218.15" r="1.04" fill="#e4c68a"/>
<circle cx="366.09" cy="218.11" r="1.08" fill="#c4c0e4"/>
<circle cx="367.68" cy="218.1" r="1.25" fill="#dcb878"/>
<circle cx="369.31" cy="218.32" r="0.99" fill="#e4c68a"/>
<circle cx="370.92" cy="218.67" r="1.24" fill="#dab470"/>
<circle cx="371.91" cy="218.55" r="1.04" fill="#b4b2de"/>
<circle cx="374.65" cy="218.74" r="1.15" fill="#d0a458"/>
<circle cx="376.04" cy="218" r="1.14" fill="#dcb878"/>
<circle cx="377.5" cy="218.86" r="1.07" fill="#d0a458"/>
<circle cx="378.81" cy="217.77" r="1" fill="#f6eedf"/>
<circle cx="380.69" cy="218.07" r="1.19" fill="#e8cc96"/>
<circle cx="382.84" cy="217.77" r="0.98" fill="#d0a458"/>
<circle cx="383.86" cy="218.65" r="1.22" fill="#f3e3c0"/>
<circle cx="386.18" cy="218.52" r="0.97" fill="#e4c68a"/>
<circle cx="298.26" cy="220.46" r="1.19" fill="#eed9ac"/>
<circle cx="299.83" cy="219.98" r="1.01" fill="#d0cce8"/>
<circle cx="300.53" cy="220.53" r="1" fill="#faf5ec"/>
<circle cx="302.95" cy="220" r="1.22" fill="#f3e3c0"/>
<circle cx="304.98" cy="219.57" r="0.97" fill="#eed9ac"/>
<circle cx="306.67" cy="219.92" r="1.26" fill="#dcb878"/>
<circle cx="312.89" cy="219.93" r="1.17" fill="#dcb878"/>
<circle cx="314.2" cy="219.97" r="1.11" fill="#eed9ac"/>
<circle cx="316.94" cy="220.01" r="1.21" fill="#b07a2c"/>
<circle cx="317.61" cy="220.15" r="1.03" fill="#e4c68a"/>
<circle cx="320.23" cy="219.42" r="0.98" fill="#c4c0e4"/>
<circle cx="321.4" cy="220.23" r="0.91" fill="#f3e3c0"/>
<circle cx="323.08" cy="219.75" r="1.39" fill="#c08a38"/>
<circle cx="325.23" cy="219.43" r="0.94" fill="#dab470"/>
<circle cx="327.17" cy="219.92" r="0.98" fill="#dcb878"/>
<circle cx="327.9" cy="219.97" r="1" fill="#faf5ec"/>
<circle cx="329.45" cy="219.84" r="1" fill="#faf5ec"/>
<circle cx="331.21" cy="220.33" r="1.27" fill="#b07a2c"/>
<circle cx="333.95" cy="219.7" r="1.26" fill="#c99540"/>
<circle cx="334.52" cy="220.58" r="1" fill="#f6eedf"/>
<circle cx="336.74" cy="220.16" r="1" fill="#f6eedf"/>
<circle cx="338.3" cy="219.86" r="0.93" fill="#c29040"/>
<circle cx="340.29" cy="220.35" r="1.14" fill="#e4c68a"/>
<circle cx="341.99" cy="220.16" r="0.99" fill="#e4c68a"/>
<circle cx="344.16" cy="220.4" r="1" fill="#e4c68a"/>
<circle cx="344.86" cy="220.17" r="1.19" fill="#eed9ac"/>
<circle cx="347.14" cy="219.81" r="1.01" fill="#eed9ac"/>
<circle cx="348.3" cy="219.85" r="1.15" fill="#dab470"/>
<circle cx="350" cy="219.53" r="1.12" fill="#d0a458"/>
<circle cx="352.61" cy="220.58" r="1.21" fill="#dcb878"/>
<circle cx="353.52" cy="220.16" r="1.07" fill="#dab470"/>
<circle cx="354.94" cy="219.48" r="0.92" fill="#e4c68a"/>
<circle cx="357.13" cy="220.41" r="1.25" fill="#eed9ac"/>
<circle cx="358.43" cy="220.22" r="1" fill="#faf5ec"/>
<circle cx="360.28" cy="220.26" r="0.92" fill="#f3e3c0"/>
<circle cx="362.4" cy="219.89" r="1.04" fill="#e8cc96"/>
<circle cx="363.6" cy="219.82" r="1" fill="#f6eedf"/>
<circle cx="365.99" cy="219.46" r="1.25" fill="#e4c68a"/>
<circle cx="367.7" cy="219.77" r="1.04" fill="#e8cc96"/>
<circle cx="369.14" cy="219.42" r="1.25" fill="#c29040"/>
<circle cx="370.89" cy="220.24" r="1.09" fill="#b4b2de"/>
<circle cx="372.64" cy="219.87" r="0.92" fill="#dcb878"/>
<circle cx="374.79" cy="219.94" r="1.05" fill="#e4c68a"/>
<circle cx="375.97" cy="219.4" r="1.01" fill="#f3e3c0"/>
<circle cx="377.7" cy="220.35" r="0.95" fill="#dcb878"/>
<circle cx="379.48" cy="220.16" r="1.11" fill="#dab470"/>
<circle cx="380.71" cy="219.82" r="0.98" fill="#c29040"/>
<circle cx="382.68" cy="219.64" r="0.99" fill="#b4b2de"/>
<circle cx="384.21" cy="220.42" r="1.18" fill="#dcb878"/>
<circle cx="386.18" cy="220.44" r="1" fill="#faf5ec"/>
<circle cx="388.31" cy="219.92" r="1.17" fill="#d0a458"/>
<circle cx="389.77" cy="219.88" r="1.3" fill="#c99540"/>
<circle cx="390.96" cy="220.21" r="1.06" fill="#f3e3c0"/>
<circle cx="299.96" cy="221.66" r="1.19" fill="#dab470"/>
<circle cx="300.89" cy="221.75" r="1.09" fill="#dcb878"/>
<circle cx="302.84" cy="221.86" r="1.36" fill="#b07a2c"/>
<circle cx="304.11" cy="221.96" r="1.14" fill="#c29040"/>
<circle cx="306.51" cy="221.12" r="1.03" fill="#dcb878"/>
<circle cx="307.97" cy="221.84" r="1.2" fill="#b07a2c"/>
<circle cx="312.96" cy="221.54" r="0.99" fill="#eed9ac"/>
<circle cx="314.2" cy="221.35" r="1.2" fill="#f3e3c0"/>
<circle cx="315.8" cy="221.85" r="1.06" fill="#b4b2de"/>
<circle cx="318.41" cy="222.25" r="1.17" fill="#d0a458"/>
<circle cx="319.35" cy="221.79" r="0.93" fill="#b4b2de"/>
<circle cx="321.72" cy="222.13" r="1.21" fill="#c29040"/>
<circle cx="323.11" cy="222.06" r="0.91" fill="#f3e3c0"/>
<circle cx="325.49" cy="222.08" r="0.97" fill="#c29040"/>
<circle cx="326.6" cy="222.27" r="1.19" fill="#d0a458"/>
<circle cx="328.29" cy="221.5" r="1" fill="#faf5ec"/>
<circle cx="329.89" cy="221.54" r="1.21" fill="#c69848"/>
<circle cx="331.12" cy="222.14" r="1.16" fill="#dcb878"/>
<circle cx="333.52" cy="221.88" r="1" fill="#dab470"/>
<circle cx="335.66" cy="221.17" r="1.24" fill="#e4c68a"/>
<circle cx="337.31" cy="221.13" r="0.94" fill="#d0cce8"/>
<circle cx="338.21" cy="221.69" r="0.84" fill="#c4c0e4"/>
<circle cx="339.86" cy="221.49" r="1.25" fill="#e8cc96"/>
<circle cx="341.78" cy="221.27" r="1.24" fill="#e8cc96"/>
<circle cx="343.07" cy="221.16" r="1.17" fill="#b88030"/>
<circle cx="345.25" cy="221.97" r="1" fill="#f6eedf"/>
<circle cx="346.88" cy="221.42" r="1.18" fill="#e4c68a"/>
<circle cx="348.66" cy="221.42" r="1" fill="#f6eedf"/>
<circle cx="350.34" cy="221.88" r="1.05" fill="#dcb878"/>
<circle cx="351.85" cy="221.21" r="1.09" fill="#c69848"/>
<circle cx="353.9" cy="221.27" r="1.2" fill="#e4c68a"/>
<circle cx="355.51" cy="221.53" r="1.19" fill="#c69848"/>
<circle cx="357.27" cy="221.42" r="1.28" fill="#c69848"/>
<circle cx="359.11" cy="222.03" r="1" fill="#faf5ec"/>
<circle cx="360.32" cy="221.35" r="1.05" fill="#c69848"/>
<circle cx="362.71" cy="221.24" r="0.94" fill="#c4c0e4"/>
<circle cx="363.88" cy="222" r="1.02" fill="#c4c0e4"/>
<circle cx="365.4" cy="221.97" r="1.03" fill="#d0cce8"/>
<circle cx="367.36" cy="221.45" r="1.01" fill="#e8cc96"/>
<circle cx="369.08" cy="221.85" r="0.98" fill="#dcb878"/>
<circle cx="370.56" cy="222.07" r="0.92" fill="#b4b2de"/>
<circle cx="372.41" cy="222.28" r="1.26" fill="#c69848"/>
<circle cx="373.95" cy="221.5" r="1.09" fill="#dcb878"/>
<circle cx="376.3" cy="221.89" r="1" fill="#faf5ec"/>
<circle cx="377.08" cy="221.42" r="1.23" fill="#d0a458"/>
<circle cx="379.74" cy="221.89" r="1.27" fill="#eed9ac"/>
<circle cx="381.28" cy="221.39" r="1" fill="#faf5ec"/>
<circle cx="383.15" cy="222.02" r="1.13" fill="#d0a458"/>
<circle cx="384.03" cy="221.98" r="0.99" fill="#c4c0e4"/>
<circle cx="386.51" cy="221.84" r="1" fill="#f6eedf"/>
<circle cx="387.38" cy="221.88" r="1.13" fill="#e4c68a"/>
<circle cx="388.98" cy="221.28" r="1.27" fill="#f3e3c0"/>
<circle cx="391.67" cy="221.89" r="0.91" fill="#dcb878"/>
<circle cx="393.09" cy="221.45" r="1.02" fill="#c69848"/>
<circle cx="299.15" cy="223.05" r="1" fill="#f6eedf"/>
<circle cx="300.7" cy="223.89" r="0.93" fill="#dcb878"/>
<circle cx="303.21" cy="222.94" r="1.11" fill="#b88030"/>
<circle cx="305" cy="223.18" r="1.28" fill="#c69848"/>
<circle cx="306.74" cy="223.47" r="0.9" fill="#b4b2de"/>
<circle cx="308.49" cy="223.09" r="1.04" fill="#d0a458"/>
<circle cx="309.96" cy="223.63" r="1" fill="#faf5ec"/>
<circle cx="311.56" cy="223.94" r="1.29" fill="#c29040"/>
<circle cx="313.35" cy="222.82" r="1.26" fill="#dab470"/>
<circle cx="314.21" cy="223.2" r="0.94" fill="#c29040"/>
<circle cx="316.47" cy="223.75" r="1" fill="#f6eedf"/>
<circle cx="317.84" cy="223.95" r="1.26" fill="#b07a2c"/>
<circle cx="320.22" cy="223.21" r="1.06" fill="#e4c68a"/>
<circle cx="321.13" cy="223.87" r="1.13" fill="#f3e3c0"/>
<circle cx="323" cy="223.4" r="1.26" fill="#c99540"/>
<circle cx="325.44" cy="223.31" r="1.01" fill="#c4c0e4"/>
<circle cx="327.12" cy="223.22" r="0.96" fill="#e4c68a"/>
<circle cx="327.78" cy="222.95" r="1.1" fill="#e8cc96"/>
<circle cx="330.32" cy="223.04" r="1.27" fill="#eed9ac"/>
<circle cx="331.82" cy="223.24" r="1.07" fill="#e8cc96"/>
<circle cx="333.31" cy="223.02" r="0.95" fill="#e8cc96"/>
<circle cx="334.79" cy="223.53" r="1.16" fill="#c08a38"/>
<circle cx="337.31" cy="223.59" r="1.32" fill="#b88030"/>
<circle cx="338.08" cy="223" r="0.93" fill="#d0cce8"/>
<circle cx="340.59" cy="222.87" r="0.95" fill="#dab470"/>
<circle cx="342.18" cy="223.33" r="0.95" fill="#dcb878"/>
<circle cx="343.97" cy="223.48" r="1.15" fill="#c69848"/>
<circle cx="344.79" cy="222.9" r="1.09" fill="#eed9ac"/>
<circle cx="347.24" cy="223.18" r="1.3" fill="#dab470"/>
<circle cx="348.69" cy="223.11" r="1" fill="#f6eedf"/>
<circle cx="350.73" cy="223.41" r="0.93" fill="#d0a458"/>
<circle cx="352.54" cy="223.18" r="0.91" fill="#dab470"/>
<circle cx="353.64" cy="223.72" r="1.06" fill="#b4b2de"/>
<circle cx="355.28" cy="223" r="1.32" fill="#c08a38"/>
<circle cx="356.77" cy="222.97" r="1.03" fill="#c4c0e4"/>
<circle cx="358.53" cy="222.9" r="1.01" fill="#eed9ac"/>
<circle cx="360.97" cy="223.16" r="1.02" fill="#dcb878"/>
<circle cx="362.38" cy="222.89" r="1.05" fill="#d0cce8"/>
<circle cx="363.47" cy="223.34" r="0.98" fill="#c69848"/>
<circle cx="365.13" cy="223.57" r="1.15" fill="#eed9ac"/>
<circle cx="367.71" cy="222.82" r="1.24" fill="#d0a458"/>
<circle cx="369.3" cy="223.73" r="1" fill="#f6eedf"/>
<circle cx="371.3" cy="223.32" r="1.23" fill="#eed9ac"/>
<circle cx="372.11" cy="223.76" r="1" fill="#f6eedf"/>
<circle cx="374.59" cy="223.68" r="1.08" fill="#c69848"/>
<circle cx="376.49" cy="222.92" r="1.28" fill="#c69848"/>
<circle cx="377.28" cy="223.57" r="1.13" fill="#dab470"/>
<circle cx="379.86" cy="223.36" r="0.87" fill="#d0cce8"/>
<circle cx="381.59" cy="223.18" r="1" fill="#faf5ec"/>
<circle cx="382.63" cy="223.54" r="0.93" fill="#d0a458"/>
<circle cx="384.5" cy="223.14" r="0.95" fill="#c29040"/>
<circle cx="386.17" cy="223.19" r="1.29" fill="#c99540"/>
<circle cx="387.24" cy="223.01" r="0.95" fill="#eed9ac"/>
<circle cx="389.07" cy="223.56" r="1" fill="#faf5ec"/>
<circle cx="391.19" cy="223.92" r="1.29" fill="#e4c68a"/>
<circle cx="392.86" cy="223.4" r="1.36" fill="#b88030"/>
<circle cx="394.41" cy="223.27" r="1.03" fill="#d0cce8"/>
<circle cx="299.75" cy="225.3" r="1" fill="#f6eedf"/>
<circle cx="300.59" cy="225.41" r="1.27" fill="#eed9ac"/>
<circle cx="303.29" cy="225.69" r="0.87" fill="#c4c0e4"/>
<circle cx="304.19" cy="225.08" r="1.17" fill="#dcb878"/>
<circle cx="305.9" cy="225.05" r="0.91" fill="#f3e3c0"/>
<circle cx="308.03" cy="224.85" r="1.3" fill="#d0a458"/>
<circle cx="309.88" cy="224.93" r="1.19" fill="#c08a38"/>
<circle cx="311.46" cy="225.19" r="1.15" fill="#c69848"/>
<circle cx="312.53" cy="224.81" r="1.26" fill="#b88030"/>
<circle cx="314.48" cy="225.36" r="1.17" fill="#dcb878"/>
<circle cx="316.96" cy="225.26" r="1.09" fill="#c4c0e4"/>
<circle cx="318.57" cy="224.72" r="0.91" fill="#e4c68a"/>
<circle cx="319.48" cy="225.04" r="0.93" fill="#b4b2de"/>
<circle cx="321.56" cy="225.27" r="0.87" fill="#c4c0e4"/>
<circle cx="322.68" cy="224.87" r="1.24" fill="#c99540"/>
<circle cx="324.86" cy="224.83" r="1" fill="#f6eedf"/>
<circle cx="326.82" cy="224.52" r="1.15" fill="#b88030"/>
<circle cx="328.2" cy="225.39" r="1.13" fill="#dcb878"/>
<circle cx="330.15" cy="224.94" r="1.13" fill="#d0a458"/>
<circle cx="332.19" cy="224.82" r="1.01" fill="#f3e3c0"/>
<circle cx="333.23" cy="225.25" r="1.15" fill="#b07a2c"/>
<circle cx="334.75" cy="225.25" r="1.2" fill="#c69848"/>
<circle cx="337.26" cy="224.66" r="0.84" fill="#d0cce8"/>
<circle cx="338.76" cy="224.77" r="1.04" fill="#e4c68a"/>
<circle cx="340.45" cy="224.66" r="1" fill="#faf5ec"/>
<circle cx="341.46" cy="225.63" r="1.11" fill="#d0a458"/>
<circle cx="343.55" cy="224.76" r="0.91" fill="#c4c0e4"/>
<circle cx="345.09" cy="225.01" r="1.08" fill="#c29040"/>
<circle cx="347.4" cy="225.14" r="1.06" fill="#d0cce8"/>
<circle cx="349.27" cy="225.67" r="1.14" fill="#dab470"/>
<circle cx="349.98" cy="225.15" r="1.03" fill="#dcb878"/>
<circle cx="351.95" cy="225.26" r="1" fill="#faf5ec"/>
<circle cx="354.1" cy="225.3" r="0.93" fill="#f3e3c0"/>
<circle cx="355" cy="224.66" r="0.88" fill="#d0cce8"/>
<circle cx="356.82" cy="224.77" r="1" fill="#faf5ec"/>
<circle cx="359.16" cy="225.08" r="1" fill="#faf5ec"/>
<circle cx="360.29" cy="224.98" r="1.21" fill="#d0a458"/>
<circle cx="362.07" cy="224.87" r="1.07" fill="#dcb878"/>
<circle cx="363.9" cy="225.41" r="1.22" fill="#f3e3c0"/>
<circle cx="365.95" cy="225.33" r="0.98" fill="#c29040"/>
<circle cx="367.19" cy="225.61" r="1.04" fill="#dab470"/>
<circle cx="368.87" cy="224.7" r="0.9" fill="#c4c0e4"/>
<circle cx="371.06" cy="225" r="1.23" fill="#d0a458"/>
<circle cx="372.99" cy="224.97" r="0.88" fill="#d0cce8"/>
<circle cx="373.74" cy="224.73" r="1.26" fill="#c29040"/>
<circle cx="376.14" cy="224.55" r="1" fill="#f6eedf"/>
<circle cx="377.86" cy="225.61" r="1.01" fill="#c29040"/>
<circle cx="379.37" cy="225.36" r="1.27" fill="#dab470"/>
<circle cx="380.81" cy="225.18" r="1.07" fill="#e8cc96"/>
<circle cx="382.85" cy="224.63" r="0.9" fill="#dcb878"/>
<circle cx="383.93" cy="225.51" r="1.08" fill="#f3e3c0"/>
<circle cx="386.43" cy="225.15" r="0.85" fill="#d0cce8"/>
<circle cx="387.26" cy="225.54" r="0.91" fill="#c69848"/>
<circle cx="389.56" cy="224.96" r="1" fill="#f6eedf"/>
<circle cx="390.79" cy="224.58" r="1" fill="#faf5ec"/>
<circle cx="392.7" cy="225.2" r="1.06" fill="#e4c68a"/>
<circle cx="394.6" cy="224.55" r="1.2" fill="#e8cc96"/>
<circle cx="299.66" cy="227.31" r="1.19" fill="#c69848"/>
<circle cx="301.13" cy="226.37" r="1" fill="#f6eedf"/>
<circle cx="303.1" cy="226.46" r="1.09" fill="#b4b2de"/>
<circle cx="304.98" cy="227.27" r="0.94" fill="#e4c68a"/>
<circle cx="306.05" cy="226.28" r="1.1" fill="#eed9ac"/>
<circle cx="307.3" cy="226.48" r="0.92" fill="#c29040"/>
<circle cx="310.18" cy="226.82" r="1.25" fill="#eed9ac"/>
<circle cx="311.06" cy="226.44" r="1.13" fill="#c08a38"/>
<circle cx="313.09" cy="227.29" r="1.15" fill="#c99540"/>
<circle cx="314.14" cy="226.49" r="0.98" fill="#dab470"/>
<circle cx="316.81" cy="226.5" r="0.95" fill="#f3e3c0"/>
<circle cx="324.35" cy="226.2" r="1.29" fill="#e8cc96"/>
<circle cx="326.94" cy="227.11" r="1.01" fill="#c29040"/>
<circle cx="328.6" cy="227.34" r="1.2" fill="#c29040"/>
<circle cx="329.52" cy="226.75" r="1.24" fill="#d0a458"/>
<circle cx="331.52" cy="226.75" r="0.84" fill="#b4b2de"/>
<circle cx="333.11" cy="226.31" r="1.02" fill="#c99540"/>
<circle cx="340.04" cy="227.11" r="1.23" fill="#f3e3c0"/>
<circle cx="342.43" cy="227.4" r="1" fill="#faf5ec"/>
<circle cx="343.78" cy="226.95" r="0.97" fill="#f3e3c0"/>
<circle cx="345.45" cy="226.21" r="1.22" fill="#c08a38"/>
<circle cx="346.5" cy="226.4" r="1.13" fill="#f3e3c0"/>
<circle cx="348.27" cy="226.64" r="1.26" fill="#eed9ac"/>
<circle cx="350.87" cy="227.13" r="1.02" fill="#c4c0e4"/>
<circle cx="352.65" cy="226.65" r="1.12" fill="#dcb878"/>
<circle cx="353.46" cy="226.87" r="1.24" fill="#c69848"/>
<circle cx="355.22" cy="227.13" r="1.17" fill="#d0a458"/>
<circle cx="357.13" cy="227.27" r="0.93" fill="#e4c68a"/>
<circle cx="359.5" cy="226.47" r="0.81" fill="#c4c0e4"/>
<circle cx="360.38" cy="226.93" r="0.99" fill="#f3e3c0"/>
<circle cx="362.34" cy="226.46" r="1" fill="#faf5ec"/>
<circle cx="364.59" cy="226.57" r="1.18" fill="#c29040"/>
<circle cx="365.98" cy="226.9" r="0.82" fill="#b4b2de"/>
<circle cx="366.89" cy="226.39" r="1" fill="#faf5ec"/>
<circle cx="368.84" cy="226.37" r="1" fill="#d0a458"/>
<circle cx="371.29" cy="227.11" r="1.29" fill="#e8cc96"/>
<circle cx="373.05" cy="227.02" r="1.1" fill="#e4c68a"/>
<circle cx="374.76" cy="227.08" r="0.95" fill="#dab470"/>
<circle cx="375.86" cy="226.45" r="1.11" fill="#f3e3c0"/>
<circle cx="377.5" cy="226.25" r="0.95" fill="#e4c68a"/>
<circle cx="379.88" cy="227.35" r="1.15" fill="#c29040"/>
<circle cx="380.99" cy="226.2" r="1.04" fill="#eed9ac"/>
<circle cx="382.57" cy="226.87" r="0.89" fill="#b4b2de"/>
<circle cx="384.97" cy="226.43" r="1" fill="#faf5ec"/>
<circle cx="385.89" cy="226.5" r="1.26" fill="#e4c68a"/>
<circle cx="388.26" cy="226.41" r="0.91" fill="#e8cc96"/>
<circle cx="389.13" cy="227.14" r="1.18" fill="#f3e3c0"/>
<circle cx="391.55" cy="226.26" r="0.8" fill="#b4b2de"/>
<circle cx="392.62" cy="226.93" r="1.17" fill="#c29040"/>
<circle cx="299.45" cy="228.22" r="1.28" fill="#c69848"/>
<circle cx="301.5" cy="228.53" r="1" fill="#faf5ec"/>
<circle cx="302.22" cy="228.29" r="0.9" fill="#c69848"/>
<circle cx="304.1" cy="228.85" r="1.17" fill="#e8cc96"/>
<circle cx="306.26" cy="228.99" r="1.14" fill="#dab470"/>
<circle cx="308.06" cy="228.59" r="1.12" fill="#dab470"/>
<circle cx="309.63" cy="229.07" r="1.12" fill="#b88030"/>
<circle cx="311.46" cy="228.95" r="0.86" fill="#d0cce8"/>
<circle cx="313.06" cy="228.7" r="1.33" fill="#b07a2c"/>
<circle cx="327.86" cy="228.91" r="1.14" fill="#dcb878"/>
<circle cx="329.55" cy="228.76" r="1.13" fill="#c69848"/>
<circle cx="331.52" cy="228.97" r="0.86" fill="#c4c0e4"/>
<circle cx="340.55" cy="228.37" r="1" fill="#f6eedf"/>
<circle cx="341.69" cy="228.3" r="1" fill="#faf5ec"/>
<circle cx="343.65" cy="228.07" r="1.01" fill="#dcb878"/>
<circle cx="344.95" cy="228.96" r="1.25" fill="#e8cc96"/>
<circle cx="346.72" cy="228.69" r="0.91" fill="#b4b2de"/>
<circle cx="349.05" cy="228.45" r="1.21" fill="#e8cc96"/>
<circle cx="350.01" cy="228.08" r="1" fill="#f6eedf"/>
<circle cx="352.05" cy="228.65" r="1" fill="#faf5ec"/>
<circle cx="353.76" cy="228.36" r="1.05" fill="#d0a458"/>
<circle cx="355.53" cy="228.69" r="0.9" fill="#dcb878"/>
<circle cx="356.61" cy="228.92" r="1.22" fill="#dcb878"/>
<circle cx="359.08" cy="229.06" r="1.09" fill="#d0cce8"/>
<circle cx="360.06" cy="228.08" r="1.23" fill="#e8cc96"/>
<circle cx="362.78" cy="228.98" r="1" fill="#f6eedf"/>
<circle cx="364.47" cy="228.63" r="1" fill="#faf5ec"/>
<circle cx="366.02" cy="228.57" r="1.09" fill="#c4c0e4"/>
<circle cx="367.18" cy="228.38" r="1.05" fill="#d0a458"/>
<circle cx="369.31" cy="227.96" r="0.85" fill="#b4b2de"/>
<circle cx="370.62" cy="228.3" r="1.02" fill="#e8cc96"/>
<circle cx="372.94" cy="227.96" r="1.19" fill="#c69848"/>
<circle cx="373.85" cy="228.33" r="1.02" fill="#dab470"/>
<circle cx="376.42" cy="228.98" r="1.06" fill="#c69848"/>
<circle cx="377.18" cy="228.79" r="1.02" fill="#c69848"/>
<circle cx="379.43" cy="229" r="1.03" fill="#c4c0e4"/>
<circle cx="380.53" cy="228.41" r="1.17" fill="#f3e3c0"/>
<circle cx="382.43" cy="228.66" r="1.05" fill="#e4c68a"/>
<circle cx="384.24" cy="228.22" r="1.14" fill="#e4c68a"/>
<circle cx="386.53" cy="228.36" r="0.84" fill="#b4b2de"/>
<circle cx="388.29" cy="228.07" r="0.91" fill="#e8cc96"/>
<circle cx="389.09" cy="227.91" r="1.19" fill="#e4c68a"/>
<circle cx="391.13" cy="228.92" r="1.29" fill="#dab470"/>
<circle cx="392.87" cy="228.33" r="1" fill="#f6eedf"/>
<circle cx="301.62" cy="230.66" r="1.23" fill="#dab470"/>
<circle cx="302.58" cy="230.43" r="1" fill="#f6eedf"/>
<circle cx="304.75" cy="229.88" r="1" fill="#f6eedf"/>
<circle cx="305.99" cy="229.78" r="1.07" fill="#f3e3c0"/>
<circle cx="308.38" cy="229.92" r="0.9" fill="#e8cc96"/>
<circle cx="309.42" cy="230.22" r="1.35" fill="#b88030"/>
<circle cx="310.81" cy="230.37" r="1.31" fill="#b88030"/>
<circle cx="312.95" cy="230.14" r="1.18" fill="#b07a2c"/>
<circle cx="328.5" cy="229.75" r="1.07" fill="#c29040"/>
<circle cx="329.55" cy="229.88" r="1.17" fill="#d0a458"/>
<circle cx="331.55" cy="230.03" r="0.91" fill="#eed9ac"/>
<circle cx="342.21" cy="229.89" r="1.24" fill="#dab470"/>
<circle cx="343.34" cy="229.86" r="1.27" fill="#dcb878"/>
<circle cx="345.08" cy="230.1" r="1.03" fill="#e4c68a"/>
<circle cx="346.79" cy="229.62" r="0.87" fill="#b4b2de"/>
<circle cx="349.27" cy="230.45" r="1.3" fill="#b88030"/>
<circle cx="350.39" cy="230.26" r="0.89" fill="#c4c0e4"/>
<circle cx="352.43" cy="230.46" r="1.14" fill="#eed9ac"/>
<circle cx="353.67" cy="230.74" r="0.91" fill="#eed9ac"/>
<circle cx="355.75" cy="230.3" r="1.12" fill="#c69848"/>
<circle cx="357.27" cy="230.31" r="1" fill="#f6eedf"/>
<circle cx="359.4" cy="230.57" r="0.96" fill="#dab470"/>
<circle cx="360.5" cy="229.86" r="1.28" fill="#d0a458"/>
<circle cx="362.72" cy="230.53" r="1.09" fill="#dcb878"/>
<circle cx="363.42" cy="229.72" r="1" fill="#f6eedf"/>
<circle cx="365.82" cy="230.71" r="1.14" fill="#f3e3c0"/>
<circle cx="367.02" cy="230.41" r="1" fill="#f6eedf"/>
<circle cx="369.21" cy="230.44" r="0.92" fill="#b4b2de"/>
<circle cx="371.29" cy="229.94" r="1.16" fill="#c29040"/>
<circle cx="372.44" cy="230.25" r="1.15" fill="#e4c68a"/>
<circle cx="374.54" cy="230.18" r="1.15" fill="#c29040"/>
<circle cx="376.04" cy="230.48" r="0.94" fill="#d0cce8"/>
<circle cx="377.39" cy="229.81" r="1.13" fill="#d0a458"/>
<circle cx="378.94" cy="230.7" r="1.03" fill="#b4b2de"/>
<circle cx="380.73" cy="230.43" r="1" fill="#f6eedf"/>
<circle cx="382.13" cy="230.27" r="1.02" fill="#b4b2de"/>
<circle cx="384.84" cy="230.49" r="1.16" fill="#dcb878"/>
<circle cx="386.28" cy="230.18" r="0.96" fill="#e4c68a"/>
<circle cx="387.98" cy="229.61" r="1.16" fill="#eed9ac"/>
<circle cx="389.64" cy="230.59" r="0.81" fill="#d0cce8"/>
<circle cx="391.48" cy="230.68" r="1.17" fill="#eed9ac"/>
<circle cx="392.82" cy="230.21" r="1" fill="#f6eedf"/>
<circle cx="301.62" cy="231.68" r="1.21" fill="#c69848"/>
<circle cx="302.63" cy="232.15" r="0.94" fill="#c4c0e4"/>
<circle cx="304.41" cy="231.58" r="0.99" fill="#eed9ac"/>
<circle cx="305.78" cy="231.57" r="1.05" fill="#dab470"/>
<circle cx="308.38" cy="231.73" r="1" fill="#f6eedf"/>
<circle cx="309.27" cy="232.4" r="1.15" fill="#c08a38"/>
<circle cx="310.83" cy="231.87" r="1" fill="#f6eedf"/>
<circle cx="328.73" cy="232.22" r="1.03" fill="#c69848"/>
<circle cx="329.77" cy="231.52" r="1.22" fill="#c69848"/>
<circle cx="341.76" cy="231.73" r="1.03" fill="#dcb878"/>
<circle cx="343.53" cy="231.83" r="1.02" fill="#e4c68a"/>
<circle cx="345.11" cy="231.47" r="1.13" fill="#c29040"/>
<circle cx="347.2" cy="231.75" r="1" fill="#f6eedf"/>
<circle cx="348.94" cy="232.4" r="1.2" fill="#c29040"/>
<circle cx="350.52" cy="231.48" r="1.1" fill="#dcb878"/>
<circle cx="351.79" cy="232.19" r="1" fill="#faf5ec"/>
<circle cx="353.32" cy="231.58" r="1.18" fill="#c29040"/>
<circle cx="355.16" cy="231.51" r="1.15" fill="#dab470"/>
<circle cx="356.72" cy="232.07" r="0.9" fill="#b4b2de"/>
<circle cx="359.21" cy="231.73" r="0.84" fill="#b4b2de"/>
<circle cx="360.06" cy="231.79" r="1.1" fill="#c29040"/>
<circle cx="362.71" cy="232.28" r="1" fill="#f6eedf"/>
<circle cx="364.2" cy="232.4" r="1.26" fill="#eed9ac"/>
<circle cx="366.04" cy="232.5" r="1.1" fill="#dab470"/>
<circle cx="367.71" cy="231.34" r="1.27" fill="#c29040"/>
<circle cx="368.82" cy="231.69" r="0.81" fill="#d0cce8"/>
<circle cx="370.95" cy="231.84" r="1.05" fill="#dab470"/>
<circle cx="372.58" cy="232.02" r="1.01" fill="#b4b2de"/>
<circle cx="374.08" cy="231.73" r="0.96" fill="#d0cce8"/>
<circle cx="375.72" cy="232.49" r="1.15" fill="#dab470"/>
<circle cx="378.17" cy="231.56" r="1" fill="#f6eedf"/>
<circle cx="379.45" cy="231.73" r="1.16" fill="#dcb878"/>
<circle cx="380.75" cy="231.86" r="1.01" fill="#c69848"/>
<circle cx="382.31" cy="232.41" r="1" fill="#faf5ec"/>
<circle cx="384.94" cy="231.9" r="1.19" fill="#f3e3c0"/>
<circle cx="385.87" cy="231.85" r="1.03" fill="#b4b2de"/>
<circle cx="387.32" cy="231.45" r="1.16" fill="#f3e3c0"/>
<circle cx="389.66" cy="231.84" r="1.09" fill="#c29040"/>
<circle cx="390.71" cy="232.12" r="0.94" fill="#c29040"/>
<circle cx="303.12" cy="233.38" r="1.27" fill="#d0a458"/>
<circle cx="304.84" cy="233.21" r="1" fill="#f6eedf"/>
<circle cx="305.94" cy="234.11" r="1.17" fill="#dcb878"/>
<circle cx="307.43" cy="234.19" r="1.01" fill="#dab470"/>
<circle cx="309.79" cy="233.01" r="1.15" fill="#e4c68a"/>
<circle cx="311.87" cy="233.58" r="0.98" fill="#d0cce8"/>
<circle cx="330.22" cy="233.4" r="1.14" fill="#c69848"/>
<circle cx="343.45" cy="234.07" r="1.06" fill="#c99540"/>
<circle cx="345.2" cy="233.88" r="1.27" fill="#b07a2c"/>
<circle cx="347.58" cy="233.88" r="1.1" fill="#c69848"/>
<circle cx="348.91" cy="233.81" r="1.17" fill="#c99540"/>
<circle cx="350.47" cy="233.23" r="1.24" fill="#c08a38"/>
<circle cx="352.28" cy="233.3" r="1.24" fill="#f3e3c0"/>
<circle cx="353.24" cy="233.52" r="0.81" fill="#b4b2de"/>
<circle cx="355.23" cy="233.17" r="1" fill="#f6eedf"/>
<circle cx="357.56" cy="234.15" r="1" fill="#faf5ec"/>
<circle cx="358.45" cy="233.7" r="1.02" fill="#c4c0e4"/>
<circle cx="361.08" cy="233.92" r="1.22" fill="#dab470"/>
<circle cx="361.87" cy="233.63" r="0.84" fill="#c4c0e4"/>
<circle cx="364.51" cy="233.59" r="1.22" fill="#e8cc96"/>
<circle cx="365.47" cy="234.04" r="1.2" fill="#e8cc96"/>
<circle cx="367.48" cy="234.11" r="1" fill="#faf5ec"/>
<circle cx="368.83" cy="233.38" r="1.01" fill="#c08a38"/>
<circle cx="370.76" cy="233.48" r="1" fill="#faf5ec"/>
<circle cx="372.68" cy="233.71" r="1.1" fill="#f3e3c0"/>
<circle cx="374.25" cy="233.83" r="0.92" fill="#dab470"/>
<circle cx="375.67" cy="233.51" r="1.18" fill="#dab470"/>
<circle cx="377.96" cy="234" r="1.07" fill="#c4c0e4"/>
<circle cx="379.27" cy="233.13" r="1.25" fill="#c69848"/>
<circle cx="380.44" cy="233.65" r="1.05" fill="#c29040"/>
<circle cx="382.45" cy="234.09" r="1" fill="#faf5ec"/>
<circle cx="384.63" cy="233.59" r="1.27" fill="#c29040"/>
<circle cx="386.58" cy="233.47" r="1.12" fill="#f3e3c0"/>
<circle cx="388.2" cy="233.02" r="0.97" fill="#f3e3c0"/>
<circle cx="389.85" cy="233.93" r="1.26" fill="#dcb878"/>
<circle cx="390.87" cy="233.01" r="0.97" fill="#c69848"/>
<circle cx="304.79" cy="235.46" r="1.25" fill="#c69848"/>
<circle cx="305.92" cy="235.52" r="0.95" fill="#c4c0e4"/>
<circle cx="308.27" cy="235.76" r="1.03" fill="#c69848"/>
<circle cx="309.96" cy="235.18" r="1" fill="#faf5ec"/>
<circle cx="311.01" cy="235.55" r="1.1" fill="#e4c68a"/>
<circle cx="329.9" cy="235.03" r="1.29" fill="#c29040"/>
<circle cx="342.13" cy="235.2" r="1.23" fill="#c08a38"/>
<circle cx="343.33" cy="235.18" r="0.94" fill="#f3e3c0"/>
<circle cx="345.61" cy="235.37" r="1" fill="#f6eedf"/>
<circle cx="347.18" cy="235.82" r="1.31" fill="#c99540"/>
<circle cx="349.18" cy="234.97" r="1" fill="#faf5ec"/>
<circle cx="350.21" cy="235.37" r="1.34" fill="#c99540"/>
<circle cx="351.53" cy="235.25" r="1" fill="#faf5ec"/>
<circle cx="354.3" cy="235.19" r="1" fill="#faf5ec"/>
<circle cx="355.61" cy="235.42" r="0.94" fill="#c4c0e4"/>
<circle cx="356.94" cy="235.05" r="1.02" fill="#e8cc96"/>
<circle cx="358.93" cy="235.57" r="1.11" fill="#eed9ac"/>
<circle cx="360.87" cy="235.02" r="1.17" fill="#c29040"/>
<circle cx="362.62" cy="235.08" r="1.18" fill="#f3e3c0"/>
<circle cx="364.06" cy="235.87" r="1" fill="#f6eedf"/>
<circle cx="365.21" cy="235.6" r="1.1" fill="#c29040"/>
<circle cx="367.98" cy="234.93" r="0.83" fill="#c4c0e4"/>
<circle cx="368.79" cy="235.78" r="1.15" fill="#c99540"/>
<circle cx="371.36" cy="235.27" r="0.99" fill="#dab470"/>
<circle cx="372.21" cy="235.64" r="1.16" fill="#c29040"/>
<circle cx="373.66" cy="235.26" r="1.23" fill="#dab470"/>
<circle cx="375.31" cy="235.44" r="0.91" fill="#f3e3c0"/>
<circle cx="377.99" cy="235.86" r="1" fill="#f6eedf"/>
<circle cx="379.09" cy="235.31" r="1.23" fill="#dab470"/>
<circle cx="381.45" cy="235.14" r="1.09" fill="#f3e3c0"/>
<circle cx="382.62" cy="234.85" r="1.24" fill="#c69848"/>
<circle cx="384.84" cy="235.66" r="1.03" fill="#f3e3c0"/>
<circle cx="386.65" cy="235.75" r="1.3" fill="#dab470"/>
<circle cx="388.09" cy="235.64" r="1" fill="#faf5ec"/>
<circle cx="308.17" cy="236.45" r="1.03" fill="#e8cc96"/>
<circle cx="310.12" cy="236.79" r="0.96" fill="#c69848"/>
<circle cx="311.16" cy="237.26" r="1.2" fill="#eed9ac"/>
<circle cx="329.47" cy="237.45" r="1.04" fill="#e4c68a"/>
<circle cx="344.01" cy="237.03" r="1.17" fill="#eed9ac"/>
<circle cx="345.35" cy="236.82" r="1" fill="#faf5ec"/>
<circle cx="346.94" cy="236.72" r="1.05" fill="#c99540"/>
<circle cx="349.21" cy="236.88" r="1" fill="#b4b2de"/>
<circle cx="350.1" cy="237.41" r="1.05" fill="#b07a2c"/>
<circle cx="351.84" cy="236.61" r="1.26" fill="#d0a458"/>
<circle cx="353.65" cy="236.92" r="1" fill="#f6eedf"/>
<circle cx="355.74" cy="237.14" r="1" fill="#f6eedf"/>
<circle cx="357.59" cy="237.44" r="1" fill="#faf5ec"/>
<circle cx="359.31" cy="236.47" r="1.06" fill="#dcb878"/>
<circle cx="361.06" cy="237.56" r="0.94" fill="#eed9ac"/>
<circle cx="361.84" cy="236.52" r="0.98" fill="#d0cce8"/>
<circle cx="364.46" cy="237.27" r="0.8" fill="#b4b2de"/>
<circle cx="365.97" cy="236.94" r="0.93" fill="#d0a458"/>
<circle cx="367.61" cy="236.49" r="0.81" fill="#d0cce8"/>
<circle cx="368.9" cy="236.97" r="1.14" fill="#b88030"/>
<circle cx="371.07" cy="237.04" r="1.13" fill="#f3e3c0"/>
<circle cx="372.26" cy="237.55" r="1.02" fill="#d0cce8"/>
<circle cx="373.68" cy="237.44" r="1.3" fill="#eed9ac"/>
<circle cx="376.25" cy="237.37" r="1.1" fill="#e4c68a"/>
<circle cx="377.69" cy="236.49" r="1.03" fill="#eed9ac"/>
<circle cx="379.46" cy="236.42" r="1.17" fill="#e4c68a"/>
<circle cx="380.78" cy="237.47" r="1" fill="#f6eedf"/>
<circle cx="382.29" cy="236.41" r="0.98" fill="#dcb878"/>
<circle cx="384.99" cy="236.84" r="1.21" fill="#e4c68a"/>
<circle cx="385.79" cy="236.52" r="0.92" fill="#dcb878"/>
<circle cx="388.27" cy="236.74" r="1.2" fill="#c69848"/>
<circle cx="309.78" cy="238.81" r="1.22" fill="#d0a458"/>
<circle cx="311.09" cy="238.52" r="0.96" fill="#dab470"/>
<circle cx="330" cy="238.4" r="1" fill="#faf5ec"/>
<circle cx="343.15" cy="238.86" r="1.28" fill="#f3e3c0"/>
<circle cx="345.31" cy="238.98" r="1.1" fill="#c99540"/>
<circle cx="347.03" cy="238.71" r="0.81" fill="#b4b2de"/>
<circle cx="348.22" cy="238.27" r="1.29" fill="#f3e3c0"/>
<circle cx="350.19" cy="238.14" r="1.07" fill="#b88030"/>
<circle cx="352.09" cy="238.52" r="1.39" fill="#c99540"/>
<circle cx="353.33" cy="239.2" r="0.94" fill="#dcb878"/>
<circle cx="354.94" cy="239.28" r="1.13" fill="#d0a458"/>
<circle cx="357.54" cy="238.85" r="0.99" fill="#c69848"/>
<circle cx="358.43" cy="239.19" r="1.23" fill="#e8cc96"/>
<circle cx="361.08" cy="239.27" r="0.98" fill="#c69848"/>
<circle cx="362.37" cy="238.7" r="0.98" fill="#d0a458"/>
<circle cx="364.46" cy="238.95" r="1.04" fill="#d0a458"/>
<circle cx="365.64" cy="238.66" r="0.93" fill="#c29040"/>
<circle cx="367.11" cy="238.77" r="1.09" fill="#c69848"/>
<circle cx="368.63" cy="238.89" r="1.17" fill="#c08a38"/>
<circle cx="370.74" cy="238.28" r="1" fill="#faf5ec"/>
<circle cx="373.08" cy="238.24" r="1" fill="#faf5ec"/>
<circle cx="374.33" cy="238.86" r="1" fill="#e4c68a"/>
<circle cx="376.07" cy="238.34" r="0.91" fill="#d0a458"/>
<circle cx="377.51" cy="238.22" r="1.19" fill="#dab470"/>
<circle cx="379.83" cy="238.73" r="0.93" fill="#dab470"/>
<circle cx="380.86" cy="239.11" r="1.26" fill="#d0a458"/>
<circle cx="383.15" cy="238.75" r="0.95" fill="#d0cce8"/>
<circle cx="384.21" cy="239.08" r="1.05" fill="#f3e3c0"/>
<circle cx="386.07" cy="238.86" r="1.14" fill="#f3e3c0"/>
<circle cx="387.47" cy="238.33" r="0.86" fill="#d0cce8"/>
<circle cx="310.19" cy="240.47" r="1.26" fill="#e8cc96"/>
<circle cx="310.9" cy="240.83" r="1.06" fill="#e8cc96"/>
<circle cx="329.95" cy="240.09" r="1.17" fill="#c08a38"/>
<circle cx="343.02" cy="240.38" r="0.96" fill="#e8cc96"/>
<circle cx="344.96" cy="240.2" r="1" fill="#f6eedf"/>
<circle cx="346.78" cy="240.89" r="0.9" fill="#f3e3c0"/>
<circle cx="348.59" cy="240.35" r="0.97" fill="#d0a458"/>
<circle cx="349.88" cy="239.86" r="0.98" fill="#e8cc96"/>
<circle cx="352.03" cy="239.95" r="0.9" fill="#c69848"/>
<circle cx="353.22" cy="240.03" r="0.95" fill="#e4c68a"/>
<circle cx="355.01" cy="241" r="1.08" fill="#c99540"/>
<circle cx="357" cy="239.84" r="1.03" fill="#c69848"/>
<circle cx="358.41" cy="240.03" r="1.22" fill="#eed9ac"/>
<circle cx="360.21" cy="240.27" r="1.19" fill="#dab470"/>
<circle cx="361.91" cy="240.3" r="1.11" fill="#b88030"/>
<circle cx="363.7" cy="239.88" r="0.99" fill="#c69848"/>
<circle cx="366.3" cy="240.13" r="1.02" fill="#e8cc96"/>
<circle cx="367.77" cy="240.12" r="1.05" fill="#e8cc96"/>
<circle cx="369.32" cy="240.33" r="1.27" fill="#c69848"/>
<circle cx="370.38" cy="240.82" r="1.08" fill="#d0a458"/>
<circle cx="372.24" cy="240.57" r="1.13" fill="#d0a458"/>
<circle cx="374.1" cy="240.85" r="1.1" fill="#c4c0e4"/>
<circle cx="375.38" cy="241" r="0.92" fill="#c29040"/>
<circle cx="377.15" cy="240.28" r="1.26" fill="#b88030"/>
<circle cx="379.06" cy="240.46" r="0.95" fill="#b4b2de"/>
<circle cx="380.95" cy="240.31" r="1.1" fill="#c69848"/>
<circle cx="382.45" cy="240.1" r="1.12" fill="#dab470"/>
<circle cx="384.93" cy="240.36" r="1.26" fill="#dcb878"/>
<circle cx="386.27" cy="239.99" r="0.96" fill="#e4c68a"/>
<circle cx="311.73" cy="242.45" r="1.24" fill="#eed9ac"/>
<circle cx="312.95" cy="242.07" r="1.27" fill="#c69848"/>
<circle cx="328.88" cy="242.2" r="1.15" fill="#f3e3c0"/>
<circle cx="329.57" cy="241.96" r="1.17" fill="#e8cc96"/>
<circle cx="342.34" cy="241.72" r="1.07" fill="#b4b2de"/>
<circle cx="344.15" cy="241.86" r="0.94" fill="#dab470"/>
<circle cx="344.94" cy="242.61" r="1.24" fill="#e8cc96"/>
<circle cx="346.72" cy="242.26" r="1.02" fill="#e4c68a"/>
<circle cx="348.62" cy="242.2" r="1.2" fill="#c29040"/>
<circle cx="349.8" cy="241.71" r="1" fill="#c4c0e4"/>
<circle cx="351.84" cy="242.18" r="1" fill="#faf5ec"/>
<circle cx="354.36" cy="241.6" r="0.96" fill="#eed9ac"/>
<circle cx="354.92" cy="242.65" r="1.15" fill="#dab470"/>
<circle cx="356.67" cy="241.59" r="1" fill="#faf5ec"/>
<circle cx="359.47" cy="242" r="1.24" fill="#dcb878"/>
<circle cx="360.83" cy="242.38" r="1.05" fill="#b88030"/>
<circle cx="362.38" cy="242.41" r="1.15" fill="#c99540"/>
<circle cx="364.16" cy="242.46" r="0.9" fill="#d0cce8"/>
<circle cx="366.23" cy="242.26" r="0.97" fill="#d0cce8"/>
<circle cx="367.04" cy="242.58" r="1.1" fill="#eed9ac"/>
<circle cx="369.24" cy="241.64" r="1.2" fill="#e8cc96"/>
<circle cx="370.79" cy="242.39" r="1.11" fill="#dcb878"/>
<circle cx="373.06" cy="242.52" r="0.92" fill="#f3e3c0"/>
<circle cx="373.8" cy="241.76" r="1.25" fill="#eed9ac"/>
<circle cx="376.17" cy="241.96" r="1.08" fill="#d0a458"/>
<circle cx="377.25" cy="242.22" r="1.01" fill="#e8cc96"/>
<circle cx="378.86" cy="241.58" r="1.29" fill="#c69848"/>
<circle cx="380.81" cy="242.23" r="0.98" fill="#dab470"/>
<circle cx="383.03" cy="241.65" r="0.94" fill="#eed9ac"/>
<circle cx="384.45" cy="242.69" r="0.9" fill="#c29040"/>
<circle cx="313.3" cy="243.97" r="1.1" fill="#eed9ac"/>
<circle cx="327.08" cy="243.99" r="1.12" fill="#f3e3c0"/>
<circle cx="328.18" cy="243.53" r="1.34" fill="#c99540"/>
<circle cx="329.43" cy="243.87" r="1.25" fill="#dab470"/>
<circle cx="331.49" cy="244.23" r="1.1" fill="#c99540"/>
<circle cx="341.51" cy="244" r="1.2" fill="#d0a458"/>
<circle cx="343.41" cy="244.18" r="1.21" fill="#c69848"/>
<circle cx="344.98" cy="243.94" r="1.21" fill="#d0a458"/>
<circle cx="347.41" cy="243.33" r="0.99" fill="#e8cc96"/>
<circle cx="349.03" cy="243.52" r="1.06" fill="#f3e3c0"/>
<circle cx="350.27" cy="243.83" r="0.94" fill="#d0a458"/>
<circle cx="352.27" cy="244.24" r="1.3" fill="#d0a458"/>
<circle cx="353.56" cy="243.66" r="1" fill="#f6eedf"/>
<circle cx="356.04" cy="244.08" r="1.01" fill="#e8cc96"/>
<circle cx="356.91" cy="244.19" r="0.91" fill="#eed9ac"/>
<circle cx="359.23" cy="244.25" r="0.96" fill="#e8cc96"/>
<circle cx="360.96" cy="243.81" r="1" fill="#faf5ec"/>
<circle cx="362.54" cy="243.45" r="1" fill="#f6eedf"/>
<circle cx="363.81" cy="243.73" r="0.93" fill="#e8cc96"/>
<circle cx="365.32" cy="243.59" r="1.04" fill="#d0cce8"/>
<circle cx="366.91" cy="243.95" r="0.96" fill="#c69848"/>
<circle cx="369.07" cy="243.9" r="1" fill="#f6eedf"/>
<circle cx="370.6" cy="243.56" r="1.35" fill="#b07a2c"/>
<circle cx="373.04" cy="244.28" r="1.28" fill="#e4c68a"/>
<circle cx="374.13" cy="243.89" r="1.01" fill="#c4c0e4"/>
<circle cx="375.74" cy="244.01" r="1.22" fill="#e4c68a"/>
<circle cx="377.12" cy="243.81" r="1.1" fill="#d0a458"/>
<circle cx="379.01" cy="243.28" r="0.9" fill="#c29040"/>
<circle cx="380.99" cy="244.23" r="1.07" fill="#dab470"/>
<circle cx="382.31" cy="243.28" r="1.08" fill="#c69848"/>
<circle cx="313.18" cy="245.41" r="1.09" fill="#c69848"/>
<circle cx="314.75" cy="245.13" r="1.1" fill="#c69848"/>
<circle cx="324.69" cy="245.79" r="1.26" fill="#f3e3c0"/>
<circle cx="327.12" cy="245.27" r="1.12" fill="#c69848"/>
<circle cx="328.51" cy="246.03" r="1.36" fill="#b07a2c"/>
<circle cx="330.11" cy="244.96" r="1.24" fill="#e8cc96"/>
<circle cx="332.27" cy="246.04" r="0.97" fill="#e4c68a"/>
<circle cx="333.11" cy="245.59" r="1.08" fill="#c08a38"/>
<circle cx="340.58" cy="245.05" r="1" fill="#f6eedf"/>
<circle cx="341.34" cy="245.95" r="1.01" fill="#d0a458"/>
<circle cx="343.93" cy="245.3" r="1.22" fill="#c69848"/>
<circle cx="345.64" cy="245.45" r="1.16" fill="#eed9ac"/>
<circle cx="346.82" cy="245.63" r="1.16" fill="#dab470"/>
<circle cx="348.89" cy="245.9" r="0.93" fill="#d0cce8"/>
<circle cx="350.73" cy="245.64" r="1.27" fill="#dcb878"/>
<circle cx="355.62" cy="245.3" r="0.82" fill="#b4b2de"/>
<circle cx="356.81" cy="245.35" r="1.26" fill="#dab470"/>
<circle cx="358.35" cy="245.47" r="0.94" fill="#c4c0e4"/>
<circle cx="360.92" cy="245.66" r="1.03" fill="#b07a2c"/>
<circle cx="362.04" cy="244.91" r="0.92" fill="#eed9ac"/>
<circle cx="364.25" cy="245.88" r="1.01" fill="#f3e3c0"/>
<circle cx="365.59" cy="245.6" r="1.01" fill="#d0a458"/>
<circle cx="367.39" cy="245.36" r="1.26" fill="#dcb878"/>
<circle cx="369.39" cy="245.75" r="0.83" fill="#c4c0e4"/>
<circle cx="370.65" cy="245.28" r="0.96" fill="#f3e3c0"/>
<circle cx="372.9" cy="245.74" r="1.05" fill="#d0cce8"/>
<circle cx="374.03" cy="245.96" r="1.08" fill="#e4c68a"/>
<circle cx="375.87" cy="245.24" r="1" fill="#f6eedf"/>
<circle cx="378.01" cy="245.65" r="0.99" fill="#b4b2de"/>
<circle cx="379.14" cy="245.1" r="1.25" fill="#f3e3c0"/>
<circle cx="380.44" cy="246.1" r="1.14" fill="#c29040"/>
<circle cx="313.36" cy="247.7" r="1.02" fill="#f3e3c0"/>
<circle cx="315.19" cy="247.64" r="1.08" fill="#e4c68a"/>
<circle cx="316.44" cy="246.93" r="1.23" fill="#c69848"/>
<circle cx="320.29" cy="247.55" r="1" fill="#f6eedf"/>
<circle cx="320.96" cy="247.09" r="0.91" fill="#d0a458"/>
<circle cx="323.12" cy="247.3" r="1.15" fill="#c29040"/>
<circle cx="325.44" cy="247.51" r="1" fill="#faf5ec"/>
<circle cx="326.51" cy="247.41" r="1.21" fill="#d0a458"/>
<circle cx="328.24" cy="247.39" r="1" fill="#f6eedf"/>
<circle cx="329.55" cy="246.66" r="1.04" fill="#d0cce8"/>
<circle cx="332.05" cy="246.92" r="1" fill="#c69848"/>
<circle cx="333.13" cy="247.71" r="1.03" fill="#dab470"/>
<circle cx="335.33" cy="247.69" r="1.13" fill="#c08a38"/>
<circle cx="336.78" cy="247.71" r="1.14" fill="#dcb878"/>
<circle cx="338.45" cy="246.97" r="0.91" fill="#d0cce8"/>
<circle cx="340.52" cy="247.46" r="0.95" fill="#d0a458"/>
<circle cx="342.21" cy="246.88" r="1.14" fill="#dab470"/>
<circle cx="344.03" cy="247.57" r="1.09" fill="#e8cc96"/>
<circle cx="345.85" cy="247.76" r="1.1" fill="#dab470"/>
<circle cx="347.44" cy="246.71" r="1.25" fill="#c29040"/>
<circle cx="349.17" cy="247.38" r="1" fill="#dab470"/>
<circle cx="355.08" cy="247.57" r="1.11" fill="#e4c68a"/>
<circle cx="357.77" cy="246.83" r="1.28" fill="#eed9ac"/>
<circle cx="358.38" cy="247.4" r="1.09" fill="#e4c68a"/>
<circle cx="367.31" cy="247.43" r="1.09" fill="#c08a38"/>
<circle cx="369.07" cy="247.22" r="1.07" fill="#dab470"/>
<circle cx="370.23" cy="247.74" r="1.08" fill="#dcb878"/>
<circle cx="372.57" cy="247.16" r="0.83" fill="#c4c0e4"/>
<circle cx="374.24" cy="246.75" r="0.91" fill="#d0cce8"/>
<circle cx="375.51" cy="247.04" r="1" fill="#f6eedf"/>
<circle cx="377.9" cy="247.13" r="1" fill="#c4c0e4"/>
<circle cx="379.05" cy="247.63" r="1.03" fill="#c69848"/>
<circle cx="313.11" cy="248.51" r="1.09" fill="#eed9ac"/>
<circle cx="314.52" cy="248.7" r="1" fill="#f6eedf"/>
<circle cx="315.97" cy="249.46" r="1.15" fill="#e8cc96"/>
<circle cx="318.4" cy="248.66" r="1" fill="#faf5ec"/>
<circle cx="319.4" cy="249.18" r="1.07" fill="#c4c0e4"/>
<circle cx="321.24" cy="249.25" r="0.97" fill="#d0cce8"/>
<circle cx="323.26" cy="249.11" r="1.17" fill="#f3e3c0"/>
<circle cx="324.94" cy="248.6" r="0.94" fill="#b4b2de"/>
<circle cx="326.72" cy="248.89" r="1.13" fill="#c99540"/>
<circle cx="328.85" cy="248.89" r="1" fill="#f6eedf"/>
<circle cx="330.45" cy="249.4" r="1.14" fill="#e4c68a"/>
<circle cx="331.87" cy="248.72" r="1.34" fill="#c99540"/>
<circle cx="333.12" cy="249.21" r="1.11" fill="#dcb878"/>
<circle cx="335.58" cy="249.17" r="0.93" fill="#b4b2de"/>
<circle cx="336.91" cy="248.61" r="1.04" fill="#e8cc96"/>
<circle cx="339.03" cy="248.44" r="1.23" fill="#d0a458"/>
<circle cx="340.43" cy="249.2" r="1.21" fill="#c69848"/>
<circle cx="341.42" cy="248.8" r="1.2" fill="#d0a458"/>
<circle cx="344.11" cy="248.88" r="1.29" fill="#c69848"/>
<circle cx="345.53" cy="248.68" r="1.01" fill="#d0cce8"/>
<circle cx="347.17" cy="249.41" r="0.95" fill="#c69848"/>
<circle cx="348.53" cy="249.2" r="1.22" fill="#d0a458"/>
<circle cx="350.24" cy="248.86" r="1.13" fill="#dcb878"/>
<circle cx="355.98" cy="248.72" r="1.07" fill="#d0a458"/>
<circle cx="357.07" cy="249.01" r="1.17" fill="#e8cc96"/>
<circle cx="368" cy="249.13" r="1" fill="#f6eedf"/>
<circle cx="369.49" cy="248.73" r="1.06" fill="#f3e3c0"/>
<circle cx="370.43" cy="248.58" r="0.97" fill="#c69848"/>
<circle cx="371.96" cy="248.77" r="0.93" fill="#f3e3c0"/>
<circle cx="373.65" cy="248.54" r="1.06" fill="#c29040"/>
<circle cx="375.62" cy="249.25" r="1.3" fill="#c29040"/>
<circle cx="377.92" cy="249.17" r="1.23" fill="#e8cc96"/>
<circle cx="312.66" cy="250.83" r="1.22" fill="#e8cc96"/>
<circle cx="314.15" cy="251.17" r="1.14" fill="#f3e3c0"/>
<circle cx="316.78" cy="250.33" r="1.08" fill="#e8cc96"/>
<circle cx="317.95" cy="250.6" r="1.01" fill="#d0cce8"/>
<circle cx="320.17" cy="250.32" r="1.2" fill="#e8cc96"/>
<circle cx="321.6" cy="250.72" r="1.06" fill="#c29040"/>
<circle cx="323.56" cy="250.15" r="1.25" fill="#eed9ac"/>
<circle cx="324.61" cy="250.15" r="0.93" fill="#d0a458"/>
<circle cx="326.97" cy="250.77" r="1.29" fill="#c29040"/>
<circle cx="327.91" cy="250.34" r="1.17" fill="#c08a38"/>
<circle cx="330.01" cy="250.05" r="0.98" fill="#b4b2de"/>
<circle cx="332.24" cy="251.14" r="1.23" fill="#e4c68a"/>
<circle cx="333.63" cy="250.55" r="1.03" fill="#eed9ac"/>
<circle cx="335" cy="250.19" r="1" fill="#faf5ec"/>
<circle cx="336.88" cy="250.65" r="1.22" fill="#d0a458"/>
<circle cx="338.63" cy="250.05" r="1.21" fill="#dcb878"/>
<circle cx="340.75" cy="250.94" r="1.02" fill="#e4c68a"/>
<circle cx="341.64" cy="251.04" r="0.99" fill="#c4c0e4"/>
<circle cx="343.22" cy="250.07" r="0.99" fill="#dab470"/>
<circle cx="345.29" cy="250.71" r="1" fill="#faf5ec"/>
<circle cx="347.04" cy="250.04" r="1.17" fill="#dcb878"/>
<circle cx="348.67" cy="250.15" r="1.04" fill="#dab470"/>
<circle cx="350.62" cy="250.16" r="1.08" fill="#f3e3c0"/>
<circle cx="354.96" cy="250.37" r="1.04" fill="#eed9ac"/>
<circle cx="369.3" cy="251.08" r="1" fill="#f6eedf"/>
<circle cx="370.48" cy="250.32" r="1.22" fill="#dab470"/>
<circle cx="372.86" cy="250.18" r="1" fill="#faf5ec"/>
<circle cx="374.22" cy="250.68" r="1.09" fill="#c29040"/>
<circle cx="375.61" cy="250.45" r="0.99" fill="#c4c0e4"/>
<circle cx="312.83" cy="252.85" r="0.99" fill="#eed9ac"/>
<circle cx="314.28" cy="251.81" r="1.17" fill="#dcb878"/>
<circle cx="316.08" cy="252.13" r="1" fill="#faf5ec"/>
<circle cx="317.86" cy="252.44" r="1.04" fill="#dab470"/>
<circle cx="319.41" cy="251.75" r="1.15" fill="#dcb878"/>
<circle cx="321.37" cy="252.33" r="1.27" fill="#c29040"/>
<circle cx="323.01" cy="252.71" r="1.2" fill="#eed9ac"/>
<circle cx="324.62" cy="252" r="1.09" fill="#c29040"/>
<circle cx="326.77" cy="252.43" r="1" fill="#f6eedf"/>
<circle cx="328.01" cy="252.88" r="1.05" fill="#d0cce8"/>
<circle cx="329.73" cy="252.63" r="1" fill="#dab470"/>
<circle cx="331.58" cy="252.31" r="1.23" fill="#c69848"/>
<circle cx="333.8" cy="252.86" r="1.27" fill="#dcb878"/>
<circle cx="335.65" cy="251.78" r="1.19" fill="#dcb878"/>
<circle cx="336.43" cy="252.27" r="0.94" fill="#d0cce8"/>
<circle cx="338.85" cy="252.79" r="1.08" fill="#eed9ac"/>
<circle cx="339.61" cy="251.93" r="1" fill="#f6eedf"/>
<circle cx="342.47" cy="252.41" r="1.05" fill="#eed9ac"/>
<circle cx="343.39" cy="252.29" r="1.23" fill="#c29040"/>
<circle cx="344.89" cy="252.69" r="0.99" fill="#f3e3c0"/>
<circle cx="347.56" cy="252.14" r="1.12" fill="#e4c68a"/>
<circle cx="349.2" cy="252.87" r="1" fill="#faf5ec"/>
<circle cx="350.7" cy="252.55" r="0.83" fill="#c4c0e4"/>
<circle cx="354.1" cy="252.84" r="0.89" fill="#c4c0e4"/>
<circle cx="355.27" cy="252.57" r="0.98" fill="#f3e3c0"/>
<circle cx="370.76" cy="251.71" r="1.28" fill="#dcb878"/>
<circle cx="372.35" cy="252.83" r="0.95" fill="#e8cc96"/>
<circle cx="374.37" cy="252.71" r="0.84" fill="#b4b2de"/>
<circle cx="375.78" cy="252.51" r="0.96" fill="#c69848"/>
<circle cx="290.35" cy="254.21" r="1.21" fill="#e8cc96"/>
<circle cx="292.99" cy="254.16" r="0.9" fill="#c4c0e4"/>
<circle cx="294.27" cy="254.3" r="1.25" fill="#d0a458"/>
<circle cx="295.49" cy="254.56" r="1.03" fill="#c99540"/>
<circle cx="297.56" cy="253.74" r="0.94" fill="#e4c68a"/>
<circle cx="298.95" cy="253.71" r="1.02" fill="#e8cc96"/>
<circle cx="300.88" cy="253.53" r="0.94" fill="#dab470"/>
<circle cx="303" cy="254.13" r="1" fill="#f6eedf"/>
<circle cx="304.18" cy="254.54" r="0.95" fill="#dcb878"/>
<circle cx="306.21" cy="254.16" r="1.03" fill="#f3e3c0"/>
<circle cx="312.76" cy="254.37" r="1.03" fill="#c4c0e4"/>
<circle cx="315.2" cy="253.97" r="1.27" fill="#dab470"/>
<circle cx="316.24" cy="254.44" r="0.97" fill="#e4c68a"/>
<circle cx="317.81" cy="254.55" r="1.22" fill="#f3e3c0"/>
<circle cx="320.2" cy="253.51" r="1.12" fill="#dab470"/>
<circle cx="321.95" cy="253.74" r="1" fill="#f6eedf"/>
<circle cx="323.71" cy="254.19" r="1.2" fill="#eed9ac"/>
<circle cx="325.22" cy="253.74" r="1.13" fill="#c29040"/>
<circle cx="326.36" cy="253.82" r="1.05" fill="#c4c0e4"/>
<circle cx="328.28" cy="254.13" r="1.04" fill="#e8cc96"/>
<circle cx="329.99" cy="254.56" r="1.01" fill="#d0cce8"/>
<circle cx="331.63" cy="254.57" r="0.97" fill="#b4b2de"/>
<circle cx="333.79" cy="254.58" r="1.17" fill="#d0a458"/>
<circle cx="335.64" cy="254.18" r="1.13" fill="#eed9ac"/>
<circle cx="336.44" cy="253.85" r="1" fill="#faf5ec"/>
<circle cx="338.37" cy="254.25" r="1" fill="#dcb878"/>
<circle cx="340.28" cy="253.59" r="0.93" fill="#f3e3c0"/>
<circle cx="342.48" cy="254.09" r="1.22" fill="#c69848"/>
<circle cx="343.82" cy="253.91" r="0.92" fill="#c4c0e4"/>
<circle cx="345.76" cy="253.8" r="1" fill="#faf5ec"/>
<circle cx="347.51" cy="253.44" r="0.96" fill="#b4b2de"/>
<circle cx="348.31" cy="254.1" r="0.85" fill="#b4b2de"/>
<circle cx="350.4" cy="254.38" r="1.3" fill="#e4c68a"/>
<circle cx="352.58" cy="253.75" r="1.19" fill="#c69848"/>
<circle cx="353.54" cy="253.54" r="0.98" fill="#d0a458"/>
<circle cx="355.3" cy="254.26" r="0.91" fill="#d0a458"/>
<circle cx="370.57" cy="253.93" r="0.9" fill="#c4c0e4"/>
<circle cx="372.07" cy="254.33" r="0.98" fill="#e4c68a"/>
<circle cx="374.39" cy="253.5" r="1.23" fill="#d0a458"/>
<circle cx="375.38" cy="253.46" r="1.09" fill="#f3e3c0"/>
<circle cx="291.4" cy="255.1" r="0.99" fill="#c4c0e4"/>
<circle cx="292.89" cy="255.28" r="0.93" fill="#eed9ac"/>
<circle cx="294.41" cy="256.18" r="0.94" fill="#dcb878"/>
<circle cx="295.6" cy="256.25" r="1.25" fill="#b07a2c"/>
<circle cx="297.59" cy="255.44" r="0.93" fill="#c69848"/>
<circle cx="298.91" cy="255.57" r="1.26" fill="#b07a2c"/>
<circle cx="301.61" cy="255.86" r="1.17" fill="#e8cc96"/>
<circle cx="302.86" cy="256.06" r="1.1" fill="#dab470"/>
<circle cx="303.95" cy="255.12" r="1.24" fill="#f3e3c0"/>
<circle cx="305.82" cy="255.84" r="1" fill="#f6eedf"/>
<circle cx="307.99" cy="255.28" r="0.96" fill="#dcb878"/>
<circle cx="310.15" cy="255.85" r="1.09" fill="#dab470"/>
<circle cx="311.79" cy="255.69" r="1.09" fill="#c69848"/>
<circle cx="313.29" cy="255.32" r="0.92" fill="#eed9ac"/>
<circle cx="314.65" cy="256.22" r="0.87" fill="#c4c0e4"/>
<circle cx="316.69" cy="255.68" r="1.17" fill="#d0a458"/>
<circle cx="317.79" cy="256.17" r="1" fill="#faf5ec"/>
<circle cx="319.77" cy="255.12" r="1.01" fill="#d0a458"/>
<circle cx="321.28" cy="255.5" r="0.92" fill="#e4c68a"/>
<circle cx="323.53" cy="256.01" r="0.99" fill="#d0a458"/>
<circle cx="325.29" cy="255.55" r="1" fill="#faf5ec"/>
<circle cx="326.15" cy="255.71" r="0.93" fill="#e8cc96"/>
<circle cx="327.76" cy="256.12" r="1" fill="#f6eedf"/>
<circle cx="329.43" cy="255.19" r="1" fill="#faf5ec"/>
<circle cx="331.26" cy="255.82" r="1.26" fill="#c69848"/>
<circle cx="333.34" cy="255.65" r="1.18" fill="#d0a458"/>
<circle cx="335.58" cy="256" r="0.85" fill="#d0cce8"/>
<circle cx="337.27" cy="255.69" r="1.2" fill="#c69848"/>
<circle cx="337.98" cy="255.97" r="0.88" fill="#d0cce8"/>
<circle cx="340.33" cy="255.68" r="0.96" fill="#eed9ac"/>
<circle cx="341.51" cy="255.11" r="1.14" fill="#c69848"/>
<circle cx="343.76" cy="255.41" r="1.25" fill="#e8cc96"/>
<circle cx="345.23" cy="255.66" r="0.82" fill="#d0cce8"/>
<circle cx="347.05" cy="255.66" r="1.13" fill="#d0a458"/>
<circle cx="349.2" cy="256.19" r="0.93" fill="#c29040"/>
<circle cx="350.66" cy="256.06" r="0.95" fill="#e4c68a"/>
<circle cx="352.67" cy="256.13" r="1" fill="#f6eedf"/>
<circle cx="353.56" cy="255.25" r="0.92" fill="#dab470"/>
<circle cx="355.11" cy="255.54" r="0.96" fill="#e8cc96"/>
<circle cx="371.3" cy="255.38" r="1.11" fill="#c69848"/>
<circle cx="372.27" cy="256.03" r="1" fill="#f6eedf"/>
<circle cx="374.16" cy="255.55" r="1.07" fill="#e8cc96"/>
<circle cx="375.91" cy="255.98" r="0.87" fill="#b4b2de"/>
<circle cx="290.55" cy="257.98" r="0.95" fill="#d0a458"/>
<circle cx="293.16" cy="256.96" r="0.99" fill="#c69848"/>
<circle cx="293.9" cy="257.44" r="1.16" fill="#b07a2c"/>
<circle cx="295.55" cy="257.52" r="1" fill="#f6eedf"/>
<circle cx="297.56" cy="257.76" r="0.87" fill="#d0cce8"/>
<circle cx="299.82" cy="256.86" r="1" fill="#dcb878"/>
<circle cx="300.89" cy="257.89" r="1.02" fill="#d0cce8"/>
<circle cx="303.08" cy="256.9" r="0.97" fill="#e4c68a"/>
<circle cx="305.06" cy="257.99" r="0.92" fill="#f3e3c0"/>
<circle cx="306.48" cy="257.25" r="1.26" fill="#c69848"/>
<circle cx="307.94" cy="257.8" r="0.95" fill="#c29040"/>
<circle cx="309.24" cy="256.92" r="1.19" fill="#dcb878"/>
<circle cx="311.41" cy="256.86" r="1.12" fill="#e4c68a"/>
<circle cx="312.66" cy="257.81" r="1.2" fill="#eed9ac"/>
<circle cx="315.09" cy="257.96" r="1.04" fill="#dcb878"/>
<circle cx="316.99" cy="257.31" r="1.02" fill="#e4c68a"/>
<circle cx="317.54" cy="256.89" r="1.02" fill="#d0a458"/>
<circle cx="320.28" cy="257.89" r="1.02" fill="#c69848"/>
<circle cx="321.04" cy="257.44" r="1" fill="#faf5ec"/>
<circle cx="323.01" cy="257.42" r="0.97" fill="#c29040"/>
<circle cx="325.49" cy="257.68" r="1.16" fill="#f3e3c0"/>
<circle cx="326.44" cy="257.8" r="1" fill="#faf5ec"/>
<circle cx="328.21" cy="257.65" r="1" fill="#f6eedf"/>
<circle cx="329.49" cy="256.9" r="1.12" fill="#eed9ac"/>
<circle cx="331.45" cy="257.68" r="0.92" fill="#e4c68a"/>
<circle cx="333.55" cy="257.44" r="0.91" fill="#f3e3c0"/>
<circle cx="334.5" cy="257.02" r="1.26" fill="#e8cc96"/>
<circle cx="337.25" cy="257.43" r="1.19" fill="#f3e3c0"/>
<circle cx="338.22" cy="257.94" r="1.06" fill="#e8cc96"/>
<circle cx="340.15" cy="257.81" r="1.15" fill="#dcb878"/>
<circle cx="342.33" cy="257.16" r="0.96" fill="#e4c68a"/>
<circle cx="343.51" cy="257.4" r="1" fill="#eed9ac"/>
<circle cx="344.95" cy="257.07" r="0.96" fill="#c69848"/>
<circle cx="347.4" cy="256.83" r="1.23" fill="#c69848"/>
<circle cx="348.5" cy="257.7" r="1.21" fill="#eed9ac"/>
<circle cx="350.38" cy="257.94" r="0.94" fill="#c4c0e4"/>
<circle cx="351.96" cy="256.91" r="1.11" fill="#dab470"/>
<circle cx="353.34" cy="257.39" r="1.05" fill="#d0a458"/>
<circle cx="370.93" cy="257.74" r="1.19" fill="#c29040"/>
<circle cx="372.77" cy="257.96" r="1.16" fill="#e8cc96"/>
<circle cx="374.52" cy="257.86" r="0.95" fill="#dcb878"/>
<circle cx="290.52" cy="259.04" r="0.9" fill="#e4c68a"/>
<circle cx="292.66" cy="259.66" r="0.94" fill="#b4b2de"/>
<circle cx="294.6" cy="259.37" r="1.14" fill="#b88030"/>
<circle cx="296.26" cy="258.94" r="1.1" fill="#dcb878"/>
<circle cx="297.72" cy="258.94" r="1.03" fill="#c99540"/>
<circle cx="299.5" cy="259.24" r="1.09" fill="#dcb878"/>
<circle cx="300.76" cy="259.38" r="1.07" fill="#c08a38"/>
<circle cx="303.29" cy="259.3" r="1" fill="#f6eedf"/>
<circle cx="304.75" cy="258.52" r="1.01" fill="#d0a458"/>
<circle cx="306.18" cy="259.63" r="1.09" fill="#eed9ac"/>
<circle cx="307.82" cy="259.24" r="1" fill="#f6eedf"/>
<circle cx="309.92" cy="258.75" r="1.08" fill="#eed9ac"/>
<circle cx="311.27" cy="259.21" r="1.03" fill="#f3e3c0"/>
<circle cx="313.43" cy="259.34" r="0.96" fill="#c4c0e4"/>
<circle cx="314.22" cy="259.53" r="1.21" fill="#dab470"/>
<circle cx="316.48" cy="259.25" r="1.18" fill="#e8cc96"/>
<circle cx="317.97" cy="259.22" r="1" fill="#faf5ec"/>
<circle cx="319.94" cy="258.65" r="1.27" fill="#d0a458"/>
<circle cx="321.08" cy="259.26" r="0.84" fill="#b4b2de"/>
<circle cx="323.09" cy="258.8" r="1.26" fill="#c69848"/>
<circle cx="324.5" cy="258.82" r="1.2" fill="#eed9ac"/>
<circle cx="326.27" cy="259.3" r="1" fill="#f6eedf"/>
<circle cx="328.52" cy="259.18" r="0.9" fill="#d0a458"/>
<circle cx="330.09" cy="259.41" r="0.88" fill="#b4b2de"/>
<circle cx="331.83" cy="258.94" r="1" fill="#faf5ec"/>
<circle cx="333.48" cy="259.11" r="1" fill="#c4c0e4"/>
<circle cx="334.95" cy="259.5" r="1.04" fill="#c29040"/>
<circle cx="336.37" cy="258.92" r="1" fill="#f6eedf"/>
<circle cx="338.81" cy="259.44" r="1" fill="#f6eedf"/>
<circle cx="340.36" cy="258.92" r="1.01" fill="#c4c0e4"/>
<circle cx="341.91" cy="258.55" r="1.16" fill="#f3e3c0"/>
<circle cx="343.03" cy="258.86" r="0.98" fill="#eed9ac"/>
<circle cx="345.86" cy="258.56" r="1.3" fill="#eed9ac"/>
<circle cx="346.68" cy="259.17" r="1" fill="#f6eedf"/>
<circle cx="348.26" cy="259.27" r="1.08" fill="#d0cce8"/>
<circle cx="350.09" cy="259.06" r="1.21" fill="#f3e3c0"/>
<circle cx="352.62" cy="259.23" r="1" fill="#f6eedf"/>
<circle cx="354.18" cy="259.63" r="0.94" fill="#dab470"/>
<circle cx="372.53" cy="258.5" r="1.2" fill="#dcb878"/>
<circle cx="373.62" cy="259.51" r="1.08" fill="#d0a458"/>
<circle cx="376.25" cy="259.51" r="0.98" fill="#f3e3c0"/>
<circle cx="377.66" cy="259.03" r="1.19" fill="#c29040"/>
<circle cx="379.58" cy="259.58" r="1.1" fill="#f3e3c0"/>
<circle cx="380.69" cy="258.68" r="0.91" fill="#d0cce8"/>
<circle cx="382.57" cy="258.66" r="1" fill="#faf5ec"/>
<circle cx="383.81" cy="258.77" r="0.99" fill="#d0a458"/>
<circle cx="386.26" cy="258.87" r="1.08" fill="#e4c68a"/>
<circle cx="387.34" cy="259.39" r="1.25" fill="#e4c68a"/>
<circle cx="389.72" cy="259.23" r="1.14" fill="#d0a458"/>
<circle cx="391.72" cy="259.08" r="1.14" fill="#dab470"/>
<circle cx="392.43" cy="258.84" r="1.13" fill="#e8cc96"/>
<circle cx="395.12" cy="259.43" r="1" fill="#faf5ec"/>
<circle cx="395.9" cy="259.3" r="1.02" fill="#c69848"/>
<circle cx="290.99" cy="261.15" r="1.05" fill="#d0cce8"/>
<circle cx="292.29" cy="261.19" r="1.21" fill="#f3e3c0"/>
<circle cx="294.26" cy="261.09" r="1.05" fill="#b88030"/>
<circle cx="295.92" cy="261.08" r="1.01" fill="#e8cc96"/>
<circle cx="297.22" cy="260.76" r="1.21" fill="#f3e3c0"/>
<circle cx="299.9" cy="260.38" r="1.25" fill="#f3e3c0"/>
<circle cx="301.03" cy="261.2" r="1.23" fill="#d0a458"/>
<circle cx="303.23" cy="260.55" r="1.27" fill="#f3e3c0"/>
<circle cx="304.3" cy="261.39" r="1.02" fill="#c4c0e4"/>
<circle cx="306.17" cy="260.64" r="1.2" fill="#dab470"/>
<circle cx="307.46" cy="260.98" r="1.26" fill="#f3e3c0"/>
<circle cx="309.37" cy="260.94" r="1" fill="#f6eedf"/>
<circle cx="311.42" cy="261.07" r="1.17" fill="#c69848"/>
<circle cx="312.69" cy="261.02" r="1.12" fill="#eed9ac"/>
<circle cx="314.92" cy="261.12" r="1" fill="#f6eedf"/>
<circle cx="316.85" cy="261.29" r="1.2" fill="#eed9ac"/>
<circle cx="318.53" cy="261.26" r="1.24" fill="#c69848"/>
<circle cx="319.71" cy="260.92" r="0.92" fill="#eed9ac"/>
<circle cx="321.88" cy="260.79" r="1.11" fill="#d0a458"/>
<circle cx="322.95" cy="260.78" r="0.84" fill="#b4b2de"/>
<circle cx="324.61" cy="260.55" r="1.2" fill="#d0a458"/>
<circle cx="326.2" cy="260.78" r="1.09" fill="#c29040"/>
<circle cx="327.84" cy="261.35" r="1.13" fill="#dab470"/>
<circle cx="330.34" cy="260.51" r="1.23" fill="#eed9ac"/>
<circle cx="331.24" cy="261.25" r="1.03" fill="#dcb878"/>
<circle cx="333.32" cy="260.93" r="1.08" fill="#c69848"/>
<circle cx="335" cy="260.95" r="0.96" fill="#dcb878"/>
<circle cx="336.62" cy="260.4" r="1.26" fill="#e4c68a"/>
<circle cx="339.05" cy="260.72" r="0.96" fill="#e4c68a"/>
<circle cx="340.38" cy="261.21" r="1.21" fill="#dab470"/>
<circle cx="341.86" cy="260.56" r="1.12" fill="#c69848"/>
<circle cx="343.3" cy="260.68" r="0.83" fill="#c4c0e4"/>
<circle cx="345.75" cy="260.3" r="1.07" fill="#d0cce8"/>
<circle cx="346.55" cy="261.15" r="1" fill="#f6eedf"/>
<circle cx="349.07" cy="261" r="0.94" fill="#d0cce8"/>
<circle cx="350.06" cy="260.79" r="0.91" fill="#dab470"/>
<circle cx="351.68" cy="260.73" r="0.99" fill="#b4b2de"/>
<circle cx="354.39" cy="260.42" r="1.07" fill="#e8cc96"/>
<circle cx="371.23" cy="260.23" r="1.16" fill="#f3e3c0"/>
<circle cx="371.96" cy="261.31" r="1.01" fill="#f3e3c0"/>
<circle cx="374.39" cy="260.29" r="1.02" fill="#eed9ac"/>
<circle cx="376.37" cy="260.59" r="1.14" fill="#dab470"/>
<circle cx="377.67" cy="260.21" r="0.91" fill="#b4b2de"/>
<circle cx="379.29" cy="260.73" r="1.1" fill="#f3e3c0"/>
<circle cx="381.28" cy="260.97" r="1.28" fill="#dab470"/>
<circle cx="382.46" cy="260.87" r="1.07" fill="#e8cc96"/>
<circle cx="384.69" cy="260.96" r="1" fill="#faf5ec"/>
<circle cx="386.23" cy="261.33" r="1" fill="#f6eedf"/>
<circle cx="387.46" cy="260.68" r="1" fill="#f6eedf"/>
<circle cx="389.52" cy="260.57" r="1.2" fill="#dcb878"/>
<circle cx="391.64" cy="260.58" r="1.29" fill="#eed9ac"/>
<circle cx="392.87" cy="260.82" r="1.3" fill="#eed9ac"/>
<circle cx="394.78" cy="260.37" r="0.98" fill="#dcb878"/>
<circle cx="396.87" cy="261.01" r="0.85" fill="#c4c0e4"/>
<circle cx="291.36" cy="263.05" r="1.16" fill="#c29040"/>
<circle cx="292.91" cy="262.62" r="1.18" fill="#c69848"/>
<circle cx="294.01" cy="262.56" r="1.3" fill="#f3e3c0"/>
<circle cx="295.54" cy="262.66" r="1.29" fill="#c69848"/>
<circle cx="297.35" cy="262.18" r="1.26" fill="#dcb878"/>
<circle cx="299.43" cy="262.23" r="1.19" fill="#f3e3c0"/>
<circle cx="301.07" cy="263.06" r="1.06" fill="#c29040"/>
<circle cx="303.29" cy="263.03" r="1.02" fill="#b4b2de"/>
<circle cx="304.8" cy="262.74" r="0.81" fill="#b4b2de"/>
<circle cx="306.72" cy="262.81" r="0.94" fill="#eed9ac"/>
<circle cx="307.38" cy="262.94" r="0.94" fill="#d0cce8"/>
<circle cx="309.85" cy="261.92" r="1.2" fill="#e4c68a"/>
<circle cx="310.85" cy="262.04" r="1.16" fill="#c29040"/>
<circle cx="313.43" cy="262.28" r="1.08" fill="#b4b2de"/>
<circle cx="315.2" cy="262.05" r="1.12" fill="#dab470"/>
<circle cx="316.66" cy="262.16" r="1.28" fill="#f3e3c0"/>
<circle cx="318.31" cy="262.1" r="1.1" fill="#dab470"/>
<circle cx="319.66" cy="261.95" r="1.01" fill="#b4b2de"/>
<circle cx="322.09" cy="263.02" r="1" fill="#f6eedf"/>
<circle cx="322.86" cy="262.69" r="1" fill="#d0cce8"/>
<circle cx="325.42" cy="262.06" r="1.1" fill="#d0a458"/>
<circle cx="326.9" cy="262.85" r="1.23" fill="#dcb878"/>
<circle cx="328.78" cy="261.99" r="1" fill="#f6eedf"/>
<circle cx="330.22" cy="262.12" r="1.06" fill="#e4c68a"/>
<circle cx="332.2" cy="262.19" r="1.2" fill="#dcb878"/>
<circle cx="333.59" cy="262.97" r="0.97" fill="#c69848"/>
<circle cx="335.14" cy="262.18" r="1.02" fill="#c4c0e4"/>
<circle cx="336.21" cy="262.68" r="1.01" fill="#f3e3c0"/>
<circle cx="338.01" cy="262.66" r="1" fill="#dcb878"/>
<circle cx="340.13" cy="262.85" r="1.11" fill="#eed9ac"/>
<circle cx="341.89" cy="263.02" r="0.97" fill="#c4c0e4"/>
<circle cx="344.14" cy="262.38" r="1.09" fill="#f3e3c0"/>
<circle cx="345.69" cy="262.39" r="1.18" fill="#c29040"/>
<circle cx="346.45" cy="262.23" r="1.06" fill="#c29040"/>
<circle cx="349.05" cy="262.8" r="1.03" fill="#e4c68a"/>
<circle cx="349.96" cy="262.51" r="1.11" fill="#c69848"/>
<circle cx="352.21" cy="262.1" r="0.92" fill="#c29040"/>
<circle cx="353.87" cy="262.9" r="0.99" fill="#c69848"/>
<circle cx="372.13" cy="262.38" r="1.11" fill="#d0a458"/>
<circle cx="373.77" cy="262.53" r="0.91" fill="#eed9ac"/>
<circle cx="376.16" cy="262.74" r="0.8" fill="#c4c0e4"/>
<circle cx="377.3" cy="263.06" r="0.85" fill="#c4c0e4"/>
<circle cx="378.95" cy="262.06" r="1.18" fill="#e4c68a"/>
<circle cx="380.49" cy="262.01" r="0.9" fill="#e8cc96"/>
<circle cx="383.25" cy="262.51" r="0.93" fill="#c69848"/>
<circle cx="383.98" cy="262.77" r="1.21" fill="#f3e3c0"/>
<circle cx="386.47" cy="261.91" r="1" fill="#c08a38"/>
<circle cx="387.74" cy="262.28" r="1.28" fill="#c69848"/>
<circle cx="389.25" cy="262.67" r="1.14" fill="#e8cc96"/>
<circle cx="390.72" cy="262.21" r="1.08" fill="#c69848"/>
<circle cx="392.33" cy="262.03" r="1" fill="#faf5ec"/>
<circle cx="394.23" cy="262.2" r="0.85" fill="#b4b2de"/>
<circle cx="395.82" cy="262.27" r="1" fill="#faf5ec"/>
<circle cx="291.25" cy="263.93" r="1" fill="#f3e3c0"/>
<circle cx="292.1" cy="264.11" r="1.31" fill="#b07a2c"/>
<circle cx="294.52" cy="263.7" r="1" fill="#f6eedf"/>
<circle cx="295.6" cy="264.07" r="1.01" fill="#d0cce8"/>
<circle cx="298.14" cy="263.74" r="1" fill="#f6eedf"/>
<circle cx="299.77" cy="263.61" r="1.09" fill="#b4b2de"/>
<circle cx="300.6" cy="264.49" r="1.06" fill="#d0a458"/>
<circle cx="302.53" cy="263.86" r="1.04" fill="#b4b2de"/>
<circle cx="304.03" cy="263.65" r="0.88" fill="#b4b2de"/>
<circle cx="306.59" cy="264.56" r="0.99" fill="#c69848"/>
<circle cx="308.12" cy="264.14" r="1.29" fill="#d0a458"/>
<circle cx="310.15" cy="264.48" r="1.14" fill="#eed9ac"/>
<circle cx="310.96" cy="264.2" r="1.21" fill="#e4c68a"/>
<circle cx="312.69" cy="263.63" r="0.92" fill="#c4c0e4"/>
<circle cx="314.69" cy="264.56" r="1.24" fill="#c69848"/>
<circle cx="316.5" cy="263.69" r="0.91" fill="#e8cc96"/>
<circle cx="318.14" cy="264.76" r="0.98" fill="#dab470"/>
<circle cx="319.88" cy="264.67" r="1.03" fill="#b4b2de"/>
<circle cx="321.84" cy="264.74" r="1.13" fill="#c29040"/>
<circle cx="323.27" cy="264.02" r="1.2" fill="#eed9ac"/>
<circle cx="325.37" cy="264.54" r="1" fill="#faf5ec"/>
<circle cx="326.31" cy="264.7" r="1" fill="#faf5ec"/>
<circle cx="328.22" cy="264.77" r="1.03" fill="#dab470"/>
<circle cx="329.56" cy="263.96" r="1.24" fill="#eed9ac"/>
<circle cx="332.17" cy="264.76" r="1.01" fill="#eed9ac"/>
<circle cx="333.28" cy="263.73" r="1" fill="#f6eedf"/>
<circle cx="335.61" cy="264.53" r="0.98" fill="#eed9ac"/>
<circle cx="337.21" cy="264.58" r="1" fill="#d0a458"/>
<circle cx="338.32" cy="264.41" r="1.15" fill="#c69848"/>
<circle cx="340.32" cy="264.59" r="1.17" fill="#eed9ac"/>
<circle cx="341.94" cy="263.83" r="1.11" fill="#eed9ac"/>
<circle cx="343.26" cy="263.8" r="1.11" fill="#d0a458"/>
<circle cx="345.63" cy="264.7" r="0.96" fill="#f3e3c0"/>
<circle cx="347.26" cy="264.05" r="1" fill="#d0cce8"/>
<circle cx="349.03" cy="264.51" r="1.06" fill="#e4c68a"/>
<circle cx="350.83" cy="264.22" r="1.07" fill="#f3e3c0"/>
<circle cx="351.75" cy="263.72" r="1.12" fill="#dab470"/>
<circle cx="354.31" cy="264.69" r="0.99" fill="#c4c0e4"/>
<circle cx="372.68" cy="264.16" r="0.92" fill="#dab470"/>
<circle cx="374.21" cy="264.46" r="0.95" fill="#c69848"/>
<circle cx="376.44" cy="263.67" r="1.24" fill="#e4c68a"/>
<circle cx="377.59" cy="263.85" r="1.06" fill="#e4c68a"/>
<circle cx="379.42" cy="264.33" r="0.97" fill="#dcb878"/>
<circle cx="380.75" cy="264.64" r="0.99" fill="#dcb878"/>
<circle cx="382.34" cy="263.68" r="1.01" fill="#b4b2de"/>
<circle cx="384.86" cy="263.79" r="1.02" fill="#e8cc96"/>
<circle cx="386.21" cy="264.65" r="1.03" fill="#c4c0e4"/>
<circle cx="387.61" cy="264.01" r="1.09" fill="#c99540"/>
<circle cx="389.16" cy="264.11" r="1.13" fill="#dab470"/>
<circle cx="391.09" cy="263.61" r="1.12" fill="#dcb878"/>
<circle cx="392.92" cy="264.06" r="0.91" fill="#c69848"/>
<circle cx="394.66" cy="264.05" r="1" fill="#f6eedf"/>
<circle cx="396.17" cy="264.75" r="1" fill="#dcb878"/>
<circle cx="291.45" cy="265.72" r="1.1" fill="#e8cc96"/>
<circle cx="292.47" cy="266.03" r="0.99" fill="#e4c68a"/>
<circle cx="293.78" cy="266.2" r="1.11" fill="#c69848"/>
<circle cx="296.22" cy="265.94" r="1.06" fill="#dcb878"/>
<circle cx="297.52" cy="266.48" r="0.97" fill="#d0cce8"/>
<circle cx="299.98" cy="265.92" r="1.27" fill="#eed9ac"/>
<circle cx="301.11" cy="266.06" r="0.95" fill="#d0a458"/>
<circle cx="303.19" cy="265.89" r="1.12" fill="#e4c68a"/>
<circle cx="304.49" cy="265.95" r="1.08" fill="#e4c68a"/>
<circle cx="306.65" cy="266.33" r="0.88" fill="#d0cce8"/>
<circle cx="307.91" cy="266.36" r="0.88" fill="#d0cce8"/>
<circle cx="309.19" cy="265.41" r="1.22" fill="#d0a458"/>
<circle cx="311.18" cy="266.48" r="1.1" fill="#f3e3c0"/>
<circle cx="312.42" cy="265.59" r="1.11" fill="#c29040"/>
<circle cx="314.82" cy="265.44" r="1" fill="#f6eedf"/>
<circle cx="316.11" cy="265.62" r="0.96" fill="#dab470"/>
<circle cx="318.49" cy="266.28" r="1.14" fill="#dab470"/>
<circle cx="319.91" cy="265.36" r="0.9" fill="#d0a458"/>
<circle cx="321.72" cy="265.93" r="0.97" fill="#dcb878"/>
<circle cx="322.88" cy="265.32" r="1" fill="#f6eedf"/>
<circle cx="325.26" cy="266.24" r="1.01" fill="#dab470"/>
<circle cx="326.44" cy="266.39" r="1.3" fill="#c69848"/>
<circle cx="328.83" cy="266.27" r="1.12" fill="#eed9ac"/>
<circle cx="330.24" cy="265.53" r="1.26" fill="#dab470"/>
<circle cx="331.94" cy="266.17" r="0.94" fill="#b4b2de"/>
<circle cx="333.92" cy="265.89" r="1.29" fill="#f3e3c0"/>
<circle cx="335.35" cy="266.39" r="1" fill="#faf5ec"/>
<circle cx="336.56" cy="265.39" r="1" fill="#faf5ec"/>
<circle cx="338.38" cy="265.32" r="0.92" fill="#e8cc96"/>
<circle cx="339.62" cy="266.28" r="1.19" fill="#f3e3c0"/>
<circle cx="341.86" cy="265.85" r="1.23" fill="#eed9ac"/>
<circle cx="343.86" cy="265.75" r="1.01" fill="#b4b2de"/>
<circle cx="345.14" cy="265.78" r="1.15" fill="#e8cc96"/>
<circle cx="346.55" cy="265.41" r="1.29" fill="#dab470"/>
<circle cx="348.53" cy="265.87" r="1.02" fill="#b07a2c"/>
<circle cx="350.49" cy="266.35" r="1.21" fill="#dab470"/>
<circle cx="352.22" cy="265.7" r="1.1" fill="#eed9ac"/>
<circle cx="353.24" cy="265.55" r="0.9" fill="#c69848"/>
<circle cx="354.92" cy="265.46" r="1.01" fill="#f3e3c0"/>
<circle cx="372.5" cy="266.16" r="1.21" fill="#e8cc96"/>
<circle cx="374.09" cy="266.14" r="0.98" fill="#eed9ac"/>
<circle cx="375.71" cy="266.45" r="1.17" fill="#dcb878"/>
<circle cx="377.15" cy="265.58" r="1.27" fill="#c29040"/>
<circle cx="378.97" cy="265.7" r="1.3" fill="#e8cc96"/>
<circle cx="381.3" cy="266.08" r="1.09" fill="#b07a2c"/>
<circle cx="382.69" cy="265.31" r="0.99" fill="#c69848"/>
<circle cx="383.86" cy="265.41" r="0.92" fill="#dcb878"/>
<circle cx="386.5" cy="266.4" r="1.24" fill="#b88030"/>
<circle cx="388.35" cy="265.77" r="1.13" fill="#dcb878"/>
<circle cx="389.95" cy="265.82" r="1.01" fill="#f3e3c0"/>
<circle cx="390.86" cy="265.61" r="1.26" fill="#f3e3c0"/>
<circle cx="392.33" cy="266.42" r="1" fill="#faf5ec"/>
<circle cx="394.13" cy="266.28" r="0.92" fill="#eed9ac"/>
<circle cx="396.01" cy="265.5" r="1.05" fill="#e4c68a"/>
<circle cx="291.31" cy="267.69" r="1.24" fill="#c29040"/>
<circle cx="292.14" cy="268.16" r="1.1" fill="#c69848"/>
<circle cx="294.43" cy="268.15" r="1.07" fill="#eed9ac"/>
<circle cx="295.76" cy="267.05" r="1.3" fill="#e4c68a"/>
<circle cx="297.71" cy="267.94" r="1" fill="#faf5ec"/>
<circle cx="299.7" cy="267.03" r="1" fill="#faf5ec"/>
<circle cx="300.98" cy="267.11" r="0.96" fill="#eed9ac"/>
<circle cx="302.23" cy="267.74" r="1.21" fill="#eed9ac"/>
<circle cx="304.13" cy="267.58" r="1.17" fill="#c69848"/>
<circle cx="305.91" cy="267.13" r="0.99" fill="#c29040"/>
<circle cx="307.47" cy="267.07" r="1" fill="#faf5ec"/>
<circle cx="309.57" cy="267.33" r="1.26" fill="#eed9ac"/>
<circle cx="311.31" cy="267.24" r="0.93" fill="#dab470"/>
<circle cx="313.57" cy="267.27" r="1.29" fill="#d0a458"/>
<circle cx="314.37" cy="268.09" r="0.95" fill="#d0cce8"/>
<circle cx="316.6" cy="267.37" r="0.92" fill="#d0cce8"/>
<circle cx="318.59" cy="268.11" r="1.27" fill="#d0a458"/>
<circle cx="319.38" cy="267.48" r="1.03" fill="#dab470"/>
<circle cx="321.17" cy="268.16" r="1.2" fill="#dcb878"/>
<circle cx="323.44" cy="267.76" r="1" fill="#f6eedf"/>
<circle cx="325.42" cy="267.75" r="1" fill="#faf5ec"/>
<circle cx="326.96" cy="267.87" r="1.01" fill="#dcb878"/>
<circle cx="328.26" cy="267.92" r="0.92" fill="#dcb878"/>
<circle cx="330.47" cy="267.68" r="1" fill="#faf5ec"/>
<circle cx="331.46" cy="267.35" r="1.04" fill="#d0a458"/>
<circle cx="333.72" cy="268.11" r="0.9" fill="#b4b2de"/>
<circle cx="334.95" cy="267.38" r="1.25" fill="#dcb878"/>
<circle cx="336.86" cy="267.71" r="1.08" fill="#d0a458"/>
<circle cx="338.51" cy="267.88" r="1" fill="#f6eedf"/>
<circle cx="339.98" cy="267.59" r="1" fill="#faf5ec"/>
<circle cx="342.23" cy="267.12" r="1.06" fill="#c29040"/>
<circle cx="343.7" cy="267.3" r="1.06" fill="#c29040"/>
<circle cx="345.15" cy="267.75" r="0.97" fill="#d0a458"/>
<circle cx="346.68" cy="268.15" r="1.27" fill="#eed9ac"/>
<circle cx="348.62" cy="267.89" r="1.16" fill="#d0a458"/>
<circle cx="350.05" cy="268.11" r="1" fill="#faf5ec"/>
<circle cx="352.53" cy="267.51" r="1.04" fill="#c99540"/>
<circle cx="353.69" cy="267.75" r="0.97" fill="#e4c68a"/>
<circle cx="371.05" cy="267.08" r="0.95" fill="#f3e3c0"/>
<circle cx="372.94" cy="267.1" r="1.13" fill="#e4c68a"/>
<circle cx="374.46" cy="267.83" r="1.3" fill="#e4c68a"/>
<circle cx="375.39" cy="268.13" r="1.12" fill="#dcb878"/>
<circle cx="378.17" cy="267.4" r="1" fill="#faf5ec"/>
<circle cx="379.52" cy="267.35" r="1.09" fill="#d0a458"/>
<circle cx="380.66" cy="267.92" r="0.98" fill="#c29040"/>
<circle cx="382.51" cy="267.82" r="1.14" fill="#c69848"/>
<circle cx="384.35" cy="267.3" r="0.99" fill="#d0a458"/>
<circle cx="386.58" cy="267.34" r="1" fill="#f6eedf"/>
<circle cx="388.15" cy="267.64" r="1.23" fill="#c08a38"/>
<circle cx="389.21" cy="268.07" r="1.18" fill="#b88030"/>
<circle cx="391.17" cy="267.93" r="1.17" fill="#e4c68a"/>
<circle cx="392.74" cy="267.58" r="0.95" fill="#b4b2de"/>
<circle cx="394.45" cy="267.11" r="1.1" fill="#c69848"/>
<circle cx="396.15" cy="267.7" r="1.02" fill="#dcb878"/>
<circle cx="290.92" cy="269.2" r="0.94" fill="#b4b2de"/>
<circle cx="292.83" cy="269.56" r="1.04" fill="#b88030"/>
<circle cx="294.87" cy="269.65" r="0.98" fill="#e8cc96"/>
<circle cx="296.21" cy="268.84" r="1.13" fill="#e8cc96"/>
<circle cx="297.15" cy="269.36" r="1" fill="#f6eedf"/>
<circle cx="299.36" cy="269.74" r="0.98" fill="#c4c0e4"/>
<circle cx="301.51" cy="268.7" r="0.96" fill="#dcb878"/>
<circle cx="303.19" cy="268.9" r="1" fill="#eed9ac"/>
<circle cx="304.98" cy="269.42" r="1.04" fill="#c4c0e4"/>
<circle cx="305.77" cy="269.22" r="1.26" fill="#d0a458"/>
<circle cx="307.49" cy="269.67" r="0.92" fill="#c4c0e4"/>
<circle cx="309.4" cy="269.24" r="1.28" fill="#eed9ac"/>
<circle cx="310.72" cy="269.43" r="1.14" fill="#c29040"/>
<circle cx="312.77" cy="269.1" r="0.95" fill="#e4c68a"/>
<circle cx="315.26" cy="269.68" r="1.27" fill="#eed9ac"/>
<circle cx="316.76" cy="269.65" r="1.3" fill="#eed9ac"/>
<circle cx="317.54" cy="268.89" r="0.96" fill="#f3e3c0"/>
<circle cx="320.07" cy="269.69" r="1.27" fill="#c69848"/>
<circle cx="321.72" cy="269.35" r="0.97" fill="#e8cc96"/>
<circle cx="323.11" cy="268.84" r="1.29" fill="#eed9ac"/>
<circle cx="325.37" cy="269.2" r="1.07" fill="#eed9ac"/>
<circle cx="326.32" cy="268.88" r="1.06" fill="#d0cce8"/>
<circle cx="328.25" cy="268.74" r="1.08" fill="#d0cce8"/>
<circle cx="330.49" cy="269.07" r="1.1" fill="#e4c68a"/>
<circle cx="332.05" cy="269.68" r="1.01" fill="#f3e3c0"/>
<circle cx="333.79" cy="269.35" r="1.22" fill="#dcb878"/>
<circle cx="335.48" cy="269.33" r="1.12" fill="#e8cc96"/>
<circle cx="336.95" cy="268.71" r="1.15" fill="#eed9ac"/>
<circle cx="337.93" cy="268.73" r="1" fill="#faf5ec"/>
<circle cx="340.54" cy="269.68" r="1.12" fill="#c69848"/>
<circle cx="341.42" cy="268.83" r="1" fill="#f6eedf"/>
<circle cx="343.18" cy="269.02" r="0.98" fill="#e4c68a"/>
<circle cx="344.91" cy="269.45" r="1" fill="#dcb878"/>
<circle cx="347.19" cy="268.82" r="1.19" fill="#dcb878"/>
<circle cx="348.92" cy="269.63" r="1.05" fill="#c4c0e4"/>
<circle cx="350.27" cy="269.11" r="0.99" fill="#e4c68a"/>
<circle cx="351.68" cy="269.63" r="0.98" fill="#f3e3c0"/>
<circle cx="353.78" cy="269.29" r="1.15" fill="#c08a38"/>
<circle cx="355.18" cy="268.71" r="1.22" fill="#f3e3c0"/>
<circle cx="371.15" cy="269.55" r="1.25" fill="#c69848"/>
<circle cx="372.72" cy="268.73" r="1.24" fill="#eed9ac"/>
<circle cx="374.42" cy="269.59" r="1.14" fill="#f3e3c0"/>
<circle cx="375.48" cy="269.19" r="1.06" fill="#c69848"/>
<circle cx="378.1" cy="269.05" r="1" fill="#faf5ec"/>
<circle cx="379.62" cy="269.51" r="1" fill="#f6eedf"/>
<circle cx="380.58" cy="268.91" r="0.98" fill="#d0cce8"/>
<circle cx="382.4" cy="269.06" r="1.28" fill="#eed9ac"/>
<circle cx="384.18" cy="269.39" r="1.05" fill="#e8cc96"/>
<circle cx="386.5" cy="269.83" r="0.94" fill="#dcb878"/>
<circle cx="388.21" cy="269.01" r="1.01" fill="#c69848"/>
<circle cx="388.97" cy="269.69" r="1.04" fill="#d0cce8"/>
<circle cx="391.02" cy="268.89" r="0.97" fill="#d0a458"/>
<circle cx="392.86" cy="269.47" r="0.86" fill="#b4b2de"/>
<circle cx="394.04" cy="269.66" r="0.98" fill="#e8cc96"/>
<circle cx="395.72" cy="269.22" r="0.95" fill="#d0a458"/>
<circle cx="290.73" cy="271.09" r="1.11" fill="#d0a458"/>
<circle cx="293.14" cy="271.22" r="1.26" fill="#e8cc96"/>
<circle cx="294" cy="270.73" r="1.08" fill="#d0cce8"/>
<circle cx="295.54" cy="270.62" r="1.2" fill="#d0a458"/>
<circle cx="297.64" cy="270.81" r="1.25" fill="#eed9ac"/>
<circle cx="299.76" cy="271.11" r="1" fill="#f6eedf"/>
<circle cx="300.78" cy="270.77" r="0.93" fill="#e8cc96"/>
<circle cx="302.83" cy="271.27" r="1.17" fill="#dcb878"/>
<circle cx="304.98" cy="271.11" r="0.92" fill="#f3e3c0"/>
<circle cx="306.67" cy="270.65" r="1.04" fill="#dab470"/>
<circle cx="307.93" cy="270.49" r="1.05" fill="#e8cc96"/>
<circle cx="309.08" cy="271.07" r="1.12" fill="#c29040"/>
<circle cx="310.84" cy="270.42" r="1" fill="#faf5ec"/>
<circle cx="313.08" cy="270.98" r="1.21" fill="#c29040"/>
<circle cx="314.49" cy="271.3" r="1.15" fill="#e4c68a"/>
<circle cx="315.84" cy="270.77" r="1.25" fill="#dcb878"/>
<circle cx="318.43" cy="271.41" r="1" fill="#e4c68a"/>
<circle cx="319.98" cy="271.04" r="0.88" fill="#d0cce8"/>
<circle cx="322.04" cy="270.9" r="0.94" fill="#d0a458"/>
<circle cx="322.69" cy="270.46" r="0.91" fill="#c69848"/>
<circle cx="324.87" cy="271.03" r="1.3" fill="#dab470"/>
<circle cx="326.36" cy="270.57" r="1.04" fill="#eed9ac"/>
<circle cx="327.83" cy="271.32" r="1.22" fill="#e8cc96"/>
<circle cx="330.32" cy="270.47" r="1.24" fill="#dab470"/>
<circle cx="331.56" cy="271.4" r="1.17" fill="#d0a458"/>
<circle cx="333" cy="271.03" r="1.29" fill="#e4c68a"/>
<circle cx="335.59" cy="271.38" r="1.16" fill="#f3e3c0"/>
<circle cx="336.73" cy="271.07" r="1.19" fill="#f3e3c0"/>
<circle cx="338.22" cy="270.72" r="1" fill="#f6eedf"/>
<circle cx="339.71" cy="270.74" r="1" fill="#f6eedf"/>
<circle cx="341.55" cy="270.64" r="1.22" fill="#c29040"/>
<circle cx="344.02" cy="271.44" r="1" fill="#f6eedf"/>
<circle cx="344.77" cy="270.78" r="0.95" fill="#d0a458"/>
<circle cx="347.29" cy="271.26" r="1.08" fill="#d0a458"/>
<circle cx="348.79" cy="271.05" r="1.12" fill="#b07a2c"/>
<circle cx="350.73" cy="271.45" r="0.88" fill="#b4b2de"/>
<circle cx="351.87" cy="270.78" r="1.2" fill="#eed9ac"/>
<circle cx="354.06" cy="271.12" r="0.92" fill="#d0cce8"/>
<circle cx="355.09" cy="271.05" r="1" fill="#c4c0e4"/>
<circle cx="370.64" cy="271.39" r="1.08" fill="#e4c68a"/>
<circle cx="372.77" cy="271.5" r="1.27" fill="#eed9ac"/>
<circle cx="374.71" cy="270.45" r="0.84" fill="#b4b2de"/>
<circle cx="376.04" cy="271.39" r="1.05" fill="#e8cc96"/>
<circle cx="377.2" cy="270.46" r="0.96" fill="#e4c68a"/>
<circle cx="378.96" cy="270.8" r="1.12" fill="#dab470"/>
<circle cx="380.61" cy="271.45" r="1.01" fill="#b4b2de"/>
<circle cx="383.15" cy="270.76" r="0.94" fill="#e8cc96"/>
<circle cx="384.38" cy="270.69" r="1.21" fill="#dab470"/>
<circle cx="385.69" cy="271.21" r="0.96" fill="#d0a458"/>
<circle cx="387.82" cy="271.38" r="1.19" fill="#c99540"/>
<circle cx="389.17" cy="271" r="1.03" fill="#b88030"/>
<circle cx="390.92" cy="271.01" r="1" fill="#faf5ec"/>
<circle cx="392.75" cy="270.52" r="0.84" fill="#d0cce8"/>
<circle cx="394.4" cy="271.54" r="1" fill="#f6eedf"/>
<circle cx="396.41" cy="271.4" r="1.15" fill="#e4c68a"/>
<circle cx="291.24" cy="272.93" r="1.2" fill="#c99540"/>
<circle cx="292.19" cy="272.47" r="1.21" fill="#d0a458"/>
<circle cx="294" cy="272.37" r="1.22" fill="#c69848"/>
<circle cx="295.78" cy="272.86" r="0.98" fill="#c69848"/>
<circle cx="297.83" cy="273.02" r="1.17" fill="#e8cc96"/>
<circle cx="299.46" cy="272.61" r="1.29" fill="#d0a458"/>
<circle cx="300.92" cy="272.98" r="0.81" fill="#b4b2de"/>
<circle cx="302.71" cy="273.24" r="0.99" fill="#d0cce8"/>
<circle cx="305.04" cy="272.23" r="1" fill="#c69848"/>
<circle cx="306.3" cy="273.02" r="0.92" fill="#b4b2de"/>
<circle cx="308.39" cy="272.73" r="1.29" fill="#e8cc96"/>
<circle cx="309.5" cy="272.45" r="1.26" fill="#dcb878"/>
<circle cx="310.71" cy="272.28" r="1" fill="#f6eedf"/>
<circle cx="313.3" cy="272.22" r="0.81" fill="#b4b2de"/>
<circle cx="314.35" cy="272.21" r="1.08" fill="#d0cce8"/>
<circle cx="316.31" cy="273.03" r="0.96" fill="#b4b2de"/>
<circle cx="318.57" cy="272.66" r="1" fill="#f6eedf"/>
<circle cx="319.74" cy="273.21" r="1" fill="#f6eedf"/>
<circle cx="321.09" cy="272.96" r="1.2" fill="#dcb878"/>
<circle cx="322.78" cy="272.22" r="1.19" fill="#dab470"/>
<circle cx="324.66" cy="272.15" r="1.02" fill="#c4c0e4"/>
<circle cx="327.01" cy="272.38" r="1.26" fill="#eed9ac"/>
<circle cx="328.8" cy="272.64" r="1.2" fill="#dab470"/>
<circle cx="330.49" cy="272.71" r="0.85" fill="#d0cce8"/>
<circle cx="331.21" cy="272.44" r="1" fill="#f6eedf"/>
<circle cx="333.45" cy="272.44" r="0.89" fill="#b4b2de"/>
<circle cx="335.19" cy="272.84" r="1.05" fill="#b4b2de"/>
<circle cx="336.97" cy="272.16" r="1.08" fill="#c4c0e4"/>
<circle cx="338.58" cy="272.27" r="0.91" fill="#f3e3c0"/>
<circle cx="339.76" cy="272.86" r="1.22" fill="#c69848"/>
<circle cx="342.33" cy="272.99" r="1" fill="#f6eedf"/>
<circle cx="343.52" cy="272.88" r="1.08" fill="#dab470"/>
<circle cx="344.83" cy="273.15" r="1.21" fill="#dab470"/>
<circle cx="346.94" cy="272.29" r="1.11" fill="#e4c68a"/>
<circle cx="348.37" cy="272.68" r="1.11" fill="#d0a458"/>
<circle cx="350.3" cy="272.77" r="1" fill="#faf5ec"/>
<circle cx="352.19" cy="273.06" r="1.24" fill="#c69848"/>
<circle cx="353.54" cy="272.62" r="1.15" fill="#c69848"/>
<circle cx="355.78" cy="272.12" r="1.03" fill="#c69848"/>
<circle cx="369.36" cy="273.19" r="1.24" fill="#eed9ac"/>
<circle cx="370.2" cy="272.46" r="1.11" fill="#e8cc96"/>
<circle cx="371.97" cy="272.87" r="0.95" fill="#e8cc96"/>
<circle cx="374.79" cy="272.56" r="0.81" fill="#b4b2de"/>
<circle cx="375.83" cy="272.61" r="0.95" fill="#b4b2de"/>
<circle cx="377.47" cy="272.7" r="1" fill="#faf5ec"/>
<circle cx="379.01" cy="272.18" r="1.23" fill="#e4c68a"/>
<circle cx="380.78" cy="273.06" r="0.96" fill="#f3e3c0"/>
<circle cx="382.63" cy="272.81" r="1.29" fill="#d0a458"/>
<circle cx="384.08" cy="273.23" r="0.87" fill="#c4c0e4"/>
<circle cx="386.62" cy="272.86" r="1.09" fill="#e8cc96"/>
<circle cx="387.45" cy="272.5" r="1" fill="#faf5ec"/>
<circle cx="389.89" cy="272.49" r="1.07" fill="#dcb878"/>
<circle cx="391.46" cy="273.09" r="0.87" fill="#b4b2de"/>
<circle cx="392.87" cy="273.14" r="1.03" fill="#d0cce8"/>
<circle cx="394.13" cy="273.25" r="1" fill="#e8cc96"/>
<circle cx="396.82" cy="273.11" r="1.09" fill="#c29040"/>
<circle cx="290.85" cy="274.48" r="1.16" fill="#e4c68a"/>
<circle cx="292.73" cy="274.68" r="0.9" fill="#e4c68a"/>
<circle cx="294.81" cy="274.53" r="0.96" fill="#d0a458"/>
<circle cx="296.12" cy="274.47" r="1.14" fill="#d0a458"/>
<circle cx="298.06" cy="273.97" r="1.29" fill="#c69848"/>
<circle cx="298.96" cy="274.32" r="1.28" fill="#e4c68a"/>
<circle cx="301.14" cy="274.97" r="1" fill="#f6eedf"/>
<circle cx="303.28" cy="274.15" r="1" fill="#f6eedf"/>
<circle cx="304.94" cy="274.43" r="0.94" fill="#d0cce8"/>
<circle cx="306.26" cy="274.38" r="1.07" fill="#dab470"/>
<circle cx="307.46" cy="273.94" r="1" fill="#faf5ec"/>
<circle cx="309.43" cy="274.01" r="1.3" fill="#dcb878"/>
<circle cx="311.51" cy="274.82" r="0.95" fill="#eed9ac"/>
<circle cx="313.33" cy="274.4" r="1.04" fill="#c69848"/>
<circle cx="315.27" cy="274.56" r="0.97" fill="#d0a458"/>
<circle cx="316.91" cy="273.87" r="1.19" fill="#f3e3c0"/>
<circle cx="318.27" cy="273.96" r="1.04" fill="#c29040"/>
<circle cx="319.94" cy="274.76" r="0.97" fill="#dcb878"/>
<circle cx="321.2" cy="274.16" r="1" fill="#faf5ec"/>
<circle cx="322.97" cy="274.85" r="1.28" fill="#c29040"/>
<circle cx="324.87" cy="273.84" r="1.13" fill="#e4c68a"/>
<circle cx="326.9" cy="274.24" r="1.05" fill="#b4b2de"/>
<circle cx="328.33" cy="274.83" r="1.21" fill="#d0a458"/>
<circle cx="329.76" cy="274.42" r="1" fill="#faf5ec"/>
<circle cx="331.63" cy="274.62" r="1.1" fill="#f3e3c0"/>
<circle cx="333.01" cy="274.01" r="0.95" fill="#e8cc96"/>
<circle cx="335.68" cy="274.14" r="1.13" fill="#d0a458"/>
<circle cx="336.39" cy="273.99" r="0.92" fill="#b4b2de"/>
<circle cx="338.52" cy="274.26" r="0.92" fill="#c29040"/>
<circle cx="339.96" cy="274.15" r="0.94" fill="#d0a458"/>
<circle cx="341.96" cy="274.79" r="1.09" fill="#b4b2de"/>
<circle cx="343.74" cy="273.87" r="0.95" fill="#b4b2de"/>
<circle cx="345.65" cy="273.92" r="1.24" fill="#e4c68a"/>
<circle cx="347.46" cy="274.05" r="1.28" fill="#d0a458"/>
<circle cx="348.89" cy="274.23" r="1.11" fill="#c69848"/>
<circle cx="350.2" cy="274.04" r="1.01" fill="#c29040"/>
<circle cx="352.31" cy="274.74" r="1" fill="#dcb878"/>
<circle cx="354.3" cy="274.38" r="0.92" fill="#c29040"/>
<circle cx="356" cy="274.82" r="0.97" fill="#e4c68a"/>
<circle cx="357.08" cy="273.8" r="1.28" fill="#c29040"/>
<circle cx="369.3" cy="274.47" r="1.05" fill="#d0a458"/>
<circle cx="370.86" cy="274.8" r="1.05" fill="#d0a458"/>
<circle cx="372.4" cy="273.84" r="1.2" fill="#eed9ac"/>
<circle cx="374.64" cy="274.18" r="1.14" fill="#e8cc96"/>
<circle cx="376.34" cy="274.36" r="1" fill="#faf5ec"/>
<circle cx="377.16" cy="274.62" r="1.21" fill="#c29040"/>
<circle cx="379.34" cy="273.88" r="0.92" fill="#d0cce8"/>
<circle cx="381.11" cy="274.53" r="1.18" fill="#f3e3c0"/>
<circle cx="382.93" cy="274.37" r="1" fill="#c4c0e4"/>
<circle cx="384.66" cy="274.29" r="1.26" fill="#dcb878"/>
<circle cx="385.97" cy="273.82" r="0.94" fill="#c4c0e4"/>
<circle cx="388.4" cy="273.87" r="1.05" fill="#eed9ac"/>
<circle cx="389.14" cy="274.26" r="0.94" fill="#d0a458"/>
<circle cx="391.29" cy="274.77" r="1.08" fill="#f3e3c0"/>
<circle cx="392.37" cy="274.09" r="1.03" fill="#dab470"/>
<circle cx="394.45" cy="274.95" r="1" fill="#f6eedf"/>
<circle cx="396.22" cy="274.98" r="0.85" fill="#b4b2de"/>
</g></g>
<rect x="406.2" y="192.3" width="106.8" height="81.4" fill="#f3e8f0"/>
<g clip-path="url(#cp2)"><g filter="url(#bl1)">
<ellipse cx="449" cy="204" rx="13.1" ry="12.1" transform="rotate(0 449 204)" fill="#f9f2f7"/>
<ellipse cx="466" cy="200" rx="6.1" ry="6.6" transform="rotate(0 466 200)" fill="#f9f2f7"/>
<ellipse cx="427" cy="195" rx="4.6" ry="3.1" transform="rotate(0 427 195)" fill="#f9f2f7"/>
<ellipse cx="428.5" cy="238.5" rx="8.6" ry="12.1" transform="rotate(-35 428.5 238.5)" fill="#f9f2f7"/>
<ellipse cx="421" cy="252" rx="7.1" ry="9.6" transform="rotate(10 421 252)" fill="#f9f2f7"/>
<ellipse cx="484.8" cy="259.3" rx="8.6" ry="8.1" transform="rotate(0 484.8 259.3)" fill="#f9f2f7"/>
<ellipse cx="492" cy="214" rx="5.1" ry="5.6" transform="rotate(0 492 214)" fill="#f9f2f7"/>
<ellipse cx="483.5" cy="223" rx="6.1" ry="5.6" transform="rotate(0 483.5 223)" fill="#f9f2f7"/>
<ellipse cx="502" cy="255" rx="4.6" ry="4.6" transform="rotate(0 502 255)" fill="#f9f2f7"/>
<ellipse cx="461" cy="269.5" rx="6.1" ry="5.6" transform="rotate(0 461 269.5)" fill="#f9f2f7"/>
<ellipse cx="447" cy="239.5" rx="4.6" ry="5.1" transform="rotate(0 447 239.5)" fill="#f9f2f7"/>
<ellipse cx="467.5" cy="228.5" rx="5.6" ry="5.1" transform="rotate(0 467.5 228.5)" fill="#f9f2f7"/>
<circle cx="406.32" cy="192.72" r="0.93" fill="#a890c4"/>
<circle cx="408.02" cy="192.28" r="0.78" fill="#e4d6ea"/>
<circle cx="411.94" cy="193.15" r="0.92" fill="#a890c4"/>
<circle cx="414.93" cy="192.04" r="0.97" fill="#d6a478"/>
<circle cx="416.59" cy="192.72" r="0.64" fill="#b8a0ce"/>
<circle cx="423.11" cy="193.07" r="0.75" fill="#c8b2d8"/>
<circle cx="432.15" cy="192.76" r="0.67" fill="#e4d6ea"/>
<circle cx="435.43" cy="193.09" r="0.7" fill="#c8b2d8"/>
<circle cx="439.09" cy="193.36" r="0.83" fill="#c8b2d8"/>
<circle cx="440.65" cy="193" r="0.84" fill="#b8a0ce"/>
<circle cx="443.19" cy="192.28" r="0.9" fill="#c2aad6"/>
<circle cx="449.19" cy="192.26" r="0.69" fill="#e4d6ea"/>
<circle cx="451.6" cy="192.52" r="0.61" fill="#c2aad6"/>
<circle cx="455.72" cy="192.44" r="0.92" fill="#d8c8e4"/>
<circle cx="457.54" cy="193.12" r="0.93" fill="#c2aad6"/>
<circle cx="460.69" cy="193.34" r="0.73" fill="#c2aad6"/>
<circle cx="462.5" cy="192.16" r="0.67" fill="#c8b2d8"/>
<circle cx="463.33" cy="193.59" r="0.7" fill="#c8b2d8"/>
<circle cx="465.38" cy="193.53" r="0.62" fill="#d8c8e4"/>
<circle cx="466.76" cy="192.57" r="0.85" fill="#e4d6ea"/>
<circle cx="471.51" cy="193.42" r="0.93" fill="#c2aad6"/>
<circle cx="477.72" cy="192.81" r="0.73" fill="#c8b2d8"/>
<circle cx="479.28" cy="193.17" r="0.71" fill="#c8b2d8"/>
<circle cx="480.56" cy="193.23" r="0.64" fill="#c2aad6"/>
<circle cx="482.65" cy="192.72" r="0.65" fill="#b8a0ce"/>
<circle cx="485.3" cy="192.14" r="0.91" fill="#b8a0ce"/>
<circle cx="486.52" cy="192.31" r="0.77" fill="#d8c8e4"/>
<circle cx="488.73" cy="192.61" r="0.66" fill="#d8c8e4"/>
<circle cx="489.57" cy="193.26" r="0.72" fill="#c98a5a"/>
<circle cx="494.76" cy="192.92" r="0.87" fill="#d8c8e4"/>
<circle cx="496.36" cy="192.37" r="0.68" fill="#a890c4"/>
<circle cx="497.75" cy="193.17" r="0.69" fill="#c8b2d8"/>
<circle cx="499.81" cy="193.49" r="0.82" fill="#c8b2d8"/>
<circle cx="504.18" cy="192.88" r="0.94" fill="#d8c8e4"/>
<circle cx="508.55" cy="193.07" r="0.86" fill="#e4d6ea"/>
<circle cx="510.57" cy="193.24" r="0.7" fill="#e4d6ea"/>
<circle cx="415.1" cy="194.29" r="0.69" fill="#b8a0ce"/>
<circle cx="416.85" cy="195.21" r="0.7" fill="#c2aad6"/>
<circle cx="418.57" cy="195.15" r="0.62" fill="#a890c4"/>
<circle cx="422.17" cy="195.29" r="0.7" fill="#e4d6ea"/>
<circle cx="431.35" cy="194.12" r="0.94" fill="#d8c8e4"/>
<circle cx="436.52" cy="194.1" r="0.66" fill="#b8a0ce"/>
<circle cx="458.55" cy="195.08" r="0.71" fill="#c2aad6"/>
<circle cx="459.17" cy="194.39" r="0.76" fill="#d8c8e4"/>
<circle cx="462.45" cy="194.9" r="0.61" fill="#c8b2d8"/>
<circle cx="470.51" cy="195.39" r="0.8" fill="#a890c4"/>
<circle cx="472.57" cy="195.45" r="0.82" fill="#a890c4"/>
<circle cx="476.95" cy="195.37" r="0.84" fill="#b8a0ce"/>
<circle cx="480.75" cy="194.99" r="0.82" fill="#c2aad6"/>
<circle cx="483.4" cy="195.28" r="0.76" fill="#c98a5a"/>
<circle cx="484.47" cy="193.94" r="0.79" fill="#a890c4"/>
<circle cx="486.13" cy="194.88" r="0.89" fill="#b8a0ce"/>
<circle cx="489.18" cy="194.97" r="0.84" fill="#c8b2d8"/>
<circle cx="490.35" cy="194.88" r="0.62" fill="#c8b2d8"/>
<circle cx="493" cy="194.5" r="0.74" fill="#d8c8e4"/>
<circle cx="497.68" cy="195.45" r="0.66" fill="#e4d6ea"/>
<circle cx="499.6" cy="194.76" r="0.88" fill="#d8c8e4"/>
<circle cx="501.34" cy="195.14" r="0.6" fill="#c2aad6"/>
<circle cx="504.21" cy="195.21" r="0.63" fill="#c2aad6"/>
<circle cx="505.5" cy="194.36" r="0.87" fill="#e4d6ea"/>
<circle cx="507.63" cy="195.04" r="0.84" fill="#b8a0ce"/>
<circle cx="509.53" cy="195.09" r="0.63" fill="#e4d6ea"/>
<circle cx="512.97" cy="195.21" r="0.67" fill="#c8b2d8"/>
<circle cx="406.03" cy="197.15" r="0.7" fill="#d8c8e4"/>
<circle cx="410.28" cy="196.28" r="0.83" fill="#c8b2d8"/>
<circle cx="413.19" cy="197.2" r="0.9" fill="#b8a0ce"/>
<circle cx="418.88" cy="197.23" r="0.81" fill="#d8c8e4"/>
<circle cx="420.67" cy="196.48" r="0.64" fill="#e4d6ea"/>
<circle cx="422.18" cy="196.33" r="0.72" fill="#b8a0ce"/>
<circle cx="431.47" cy="196.18" r="0.7" fill="#d8c8e4"/>
<circle cx="432.66" cy="196.83" r="0.8" fill="#d8c8e4"/>
<circle cx="434.78" cy="197.24" r="0.69" fill="#e4d6ea"/>
<circle cx="460.36" cy="196.77" r="0.69" fill="#c2aad6"/>
<circle cx="461.76" cy="195.88" r="0.87" fill="#c8b2d8"/>
<circle cx="475.6" cy="196.83" r="0.89" fill="#d8c8e4"/>
<circle cx="476.94" cy="196.35" r="0.69" fill="#e4d6ea"/>
<circle cx="479.49" cy="196.53" r="0.65" fill="#b8a0ce"/>
<circle cx="482.81" cy="196.88" r="0.76" fill="#c2aad6"/>
<circle cx="485" cy="197.17" r="0.77" fill="#b8a0ce"/>
<circle cx="486.36" cy="196.26" r="0.76" fill="#a890c4"/>
<circle cx="487.92" cy="197.01" r="0.82" fill="#c2aad6"/>
<circle cx="490.84" cy="197.18" r="0.7" fill="#d8c8e4"/>
<circle cx="494.25" cy="196.7" r="0.8" fill="#b8a0ce"/>
<circle cx="496.68" cy="196.01" r="0.74" fill="#c8b2d8"/>
<circle cx="499.16" cy="196.27" r="0.95" fill="#e4d6ea"/>
<circle cx="502.49" cy="197.2" r="0.73" fill="#a890c4"/>
<circle cx="505.85" cy="196.15" r="0.82" fill="#b8a0ce"/>
<circle cx="507.49" cy="197.36" r="0.91" fill="#b8a0ce"/>
<circle cx="510.6" cy="196.28" r="0.72" fill="#e4d6ea"/>
<circle cx="513.76" cy="195.85" r="0.76" fill="#b8a0ce"/>
<circle cx="406.55" cy="197.74" r="0.86" fill="#c8b2d8"/>
<circle cx="409.31" cy="197.91" r="0.76" fill="#c2aad6"/>
<circle cx="410.08" cy="198.4" r="0.6" fill="#b8a0ce"/>
<circle cx="414.34" cy="199.13" r="0.94" fill="#c2aad6"/>
<circle cx="416.55" cy="198.44" r="0.67" fill="#a890c4"/>
<circle cx="418.46" cy="198.09" r="0.71" fill="#c8b2d8"/>
<circle cx="420.34" cy="198.78" r="0.89" fill="#c8b2d8"/>
<circle cx="422.59" cy="198.59" r="0.77" fill="#e4d6ea"/>
<circle cx="423.66" cy="198.84" r="0.79" fill="#e4d6ea"/>
<circle cx="425.99" cy="198.82" r="0.76" fill="#b8a0ce"/>
<circle cx="431.89" cy="199" r="0.62" fill="#e4d6ea"/>
<circle cx="433.2" cy="198" r="0.77" fill="#c8b2d8"/>
<circle cx="435.24" cy="198.54" r="0.63" fill="#c2aad6"/>
<circle cx="437.5" cy="198.93" r="0.6" fill="#c8b2d8"/>
<circle cx="471.97" cy="198.42" r="0.72" fill="#c8b2d8"/>
<circle cx="472.72" cy="198.18" r="0.67" fill="#e4d6ea"/>
<circle cx="475.64" cy="198.57" r="0.6" fill="#c2aad6"/>
<circle cx="484.2" cy="198.32" r="0.94" fill="#b8a0ce"/>
<circle cx="485.76" cy="198.98" r="0.68" fill="#b8a0ce"/>
<circle cx="488.63" cy="198.56" r="0.71" fill="#c8b2d8"/>
<circle cx="491.95" cy="197.91" r="0.74" fill="#b8a0ce"/>
<circle cx="497.65" cy="198.32" r="0.88" fill="#c2aad6"/>
<circle cx="499.42" cy="199.25" r="0.69" fill="#e4d6ea"/>
<circle cx="502.13" cy="198.11" r="0.88" fill="#a890c4"/>
<circle cx="503.67" cy="198.98" r="0.94" fill="#d8c8e4"/>
<circle cx="505.76" cy="199.04" r="0.78" fill="#c98a5a"/>
<circle cx="507.38" cy="199.02" r="0.67" fill="#c8b2d8"/>
<circle cx="509.93" cy="197.89" r="0.83" fill="#e4d6ea"/>
<circle cx="511.79" cy="198.28" r="0.9" fill="#d8c8e4"/>
<circle cx="513.5" cy="199.15" r="0.95" fill="#d6a478"/>
<circle cx="407.35" cy="200.12" r="0.92" fill="#a890c4"/>
<circle cx="410.33" cy="200.73" r="0.66" fill="#b8a0ce"/>
<circle cx="412.18" cy="199.94" r="0.69" fill="#e4d6ea"/>
<circle cx="414.3" cy="200.89" r="0.66" fill="#c2aad6"/>
<circle cx="416.63" cy="200.36" r="0.82" fill="#b8a0ce"/>
<circle cx="418.45" cy="200" r="0.77" fill="#b8a0ce"/>
<circle cx="420.65" cy="199.94" r="0.97" fill="#d6a478"/>
<circle cx="424.29" cy="200.44" r="0.68" fill="#b8a0ce"/>
<circle cx="427.93" cy="201.16" r="0.76" fill="#b8a0ce"/>
<circle cx="431.11" cy="199.73" r="0.87" fill="#a890c4"/>
<circle cx="432.87" cy="200" r="0.8" fill="#c98a5a"/>
<circle cx="434.49" cy="200.03" r="0.96" fill="#d6a478"/>
<circle cx="471.67" cy="200.24" r="0.93" fill="#c2aad6"/>
<circle cx="473.9" cy="201.07" r="0.61" fill="#c2aad6"/>
<circle cx="474.54" cy="200.3" r="0.61" fill="#a890c4"/>
<circle cx="477.1" cy="200.33" r="0.9" fill="#c2aad6"/>
<circle cx="478.31" cy="200" r="0.94" fill="#c98a5a"/>
<circle cx="480.14" cy="201.19" r="0.74" fill="#b8a0ce"/>
<circle cx="483.89" cy="200.92" r="0.82" fill="#c8b2d8"/>
<circle cx="485.79" cy="200.23" r="0.73" fill="#a890c4"/>
<circle cx="490.45" cy="201.18" r="0.66" fill="#b8a0ce"/>
<circle cx="494.13" cy="200.37" r="0.83" fill="#a890c4"/>
<circle cx="496.14" cy="200.21" r="0.88" fill="#c99466"/>
<circle cx="498.5" cy="200.86" r="0.67" fill="#a890c4"/>
<circle cx="500.97" cy="200.26" r="0.79" fill="#b8a0ce"/>
<circle cx="502.9" cy="199.81" r="0.67" fill="#d8c8e4"/>
<circle cx="507" cy="200.12" r="0.7" fill="#a890c4"/>
<circle cx="508.6" cy="201.05" r="0.7" fill="#e4d6ea"/>
<circle cx="511.04" cy="200.25" r="0.78" fill="#a890c4"/>
<circle cx="513.46" cy="200.81" r="0.64" fill="#c2aad6"/>
<circle cx="406.8" cy="202.49" r="0.87" fill="#b8a0ce"/>
<circle cx="408.53" cy="202.21" r="0.75" fill="#c2aad6"/>
<circle cx="410.66" cy="201.82" r="0.66" fill="#b8a0ce"/>
<circle cx="413.1" cy="202.89" r="0.88" fill="#b8a0ce"/>
<circle cx="414.44" cy="202.07" r="0.84" fill="#b8a0ce"/>
<circle cx="417.39" cy="202.14" r="0.88" fill="#d8c8e4"/>
<circle cx="419.37" cy="202.28" r="0.73" fill="#a890c4"/>
<circle cx="421.48" cy="202.92" r="0.9" fill="#c8b2d8"/>
<circle cx="423.44" cy="202.92" r="0.83" fill="#e4d6ea"/>
<circle cx="427.53" cy="201.99" r="0.68" fill="#b8a0ce"/>
<circle cx="432.03" cy="202.84" r="0.71" fill="#d8c8e4"/>
<circle cx="433.81" cy="201.69" r="0.99" fill="#c98a5a"/>
<circle cx="435.06" cy="201.83" r="0.95" fill="#b8a0ce"/>
<circle cx="477.57" cy="202.53" r="0.66" fill="#c2aad6"/>
<circle cx="479.51" cy="202.73" r="0.83" fill="#d8c8e4"/>
<circle cx="481.4" cy="202.1" r="0.85" fill="#c8b2d8"/>
<circle cx="482.98" cy="202.73" r="0.87" fill="#b8a0ce"/>
<circle cx="483.95" cy="202.36" r="0.81" fill="#c2aad6"/>
<circle cx="489.85" cy="201.91" r="0.66" fill="#b8a0ce"/>
<circle cx="493.55" cy="201.87" r="0.79" fill="#d8c8e4"/>
<circle cx="496.43" cy="201.75" r="0.68" fill="#e4d6ea"/>
<circle cx="498.14" cy="202.9" r="0.77" fill="#b8a0ce"/>
<circle cx="499.72" cy="201.81" r="0.78" fill="#d8c8e4"/>
<circle cx="502.38" cy="202.56" r="0.89" fill="#d8c8e4"/>
<circle cx="504.04" cy="202.28" r="0.8" fill="#d8c8e4"/>
<circle cx="505.98" cy="201.72" r="0.9" fill="#c2aad6"/>
<circle cx="507.95" cy="202.72" r="0.77" fill="#a890c4"/>
<circle cx="510.46" cy="202.82" r="0.89" fill="#b8a0ce"/>
<circle cx="513.67" cy="202.6" r="0.77" fill="#b8a0ce"/>
<circle cx="406.04" cy="204.97" r="0.83" fill="#e4d6ea"/>
<circle cx="409.75" cy="203.99" r="0.72" fill="#d8c8e4"/>
<circle cx="416.21" cy="204.28" r="0.89" fill="#d8c8e4"/>
<circle cx="418.81" cy="203.41" r="0.68" fill="#c2aad6"/>
<circle cx="419.75" cy="204.77" r="0.77" fill="#a890c4"/>
<circle cx="422.39" cy="204.1" r="0.94" fill="#c2aad6"/>
<circle cx="424.19" cy="204.62" r="0.64" fill="#b8a0ce"/>
<circle cx="425.23" cy="204.65" r="0.73" fill="#b8a0ce"/>
<circle cx="430.24" cy="204.84" r="0.68" fill="#a890c4"/>
<circle cx="431.57" cy="204.64" r="0.93" fill="#a890c4"/>
<circle cx="433.25" cy="204.07" r="0.69" fill="#d8c8e4"/>
<circle cx="436.54" cy="204.98" r="0.72" fill="#c2aad6"/>
<circle cx="471.91" cy="204.26" r="0.86" fill="#b8a0ce"/>
<circle cx="473.03" cy="203.88" r="0.68" fill="#b8a0ce"/>
<circle cx="476.88" cy="203.69" r="0.62" fill="#c8b2d8"/>
<circle cx="479.52" cy="204.43" r="0.6" fill="#a890c4"/>
<circle cx="480.04" cy="203.56" r="0.95" fill="#b8a0ce"/>
<circle cx="483.08" cy="203.63" r="0.72" fill="#b8a0ce"/>
<circle cx="487.28" cy="203.65" r="0.93" fill="#a890c4"/>
<circle cx="488.44" cy="204.97" r="0.88" fill="#a890c4"/>
<circle cx="489.75" cy="203.73" r="0.89" fill="#e4d6ea"/>
<circle cx="491.84" cy="204.55" r="0.61" fill="#d8c8e4"/>
<circle cx="495.86" cy="204.87" r="0.77" fill="#c99466"/>
<circle cx="497.21" cy="203.63" r="0.7" fill="#d8c8e4"/>
<circle cx="499.17" cy="204.88" r="0.74" fill="#b8a0ce"/>
<circle cx="507.22" cy="203.56" r="0.65" fill="#c2aad6"/>
<circle cx="511.68" cy="203.97" r="0.8" fill="#c2aad6"/>
<circle cx="513.41" cy="204.54" r="0.72" fill="#c8b2d8"/>
<circle cx="406.56" cy="206.72" r="0.85" fill="#e4d6ea"/>
<circle cx="408.23" cy="205.76" r="0.75" fill="#b8a0ce"/>
<circle cx="409.72" cy="206.5" r="0.82" fill="#d8c8e4"/>
<circle cx="412.18" cy="206.1" r="0.93" fill="#c2aad6"/>
<circle cx="414.77" cy="206.37" r="0.67" fill="#b8a0ce"/>
<circle cx="416.4" cy="205.74" r="0.88" fill="#c2aad6"/>
<circle cx="421.13" cy="205.32" r="0.84" fill="#c8b2d8"/>
<circle cx="423.48" cy="205.81" r="0.86" fill="#c8b2d8"/>
<circle cx="426.02" cy="205.5" r="0.83" fill="#a890c4"/>
<circle cx="427.59" cy="205.61" r="0.81" fill="#b8a0ce"/>
<circle cx="431.77" cy="206.06" r="0.92" fill="#d6a478"/>
<circle cx="433.31" cy="206.06" r="0.8" fill="#b8a0ce"/>
<circle cx="462.32" cy="206.66" r="0.72" fill="#e4d6ea"/>
<circle cx="468.08" cy="205.79" r="0.62" fill="#b8a0ce"/>
<circle cx="470.09" cy="206.48" r="0.73" fill="#a890c4"/>
<circle cx="471.07" cy="205.95" r="0.73" fill="#c2aad6"/>
<circle cx="475.77" cy="206.67" r="0.76" fill="#c8b2d8"/>
<circle cx="480.59" cy="205.99" r="0.79" fill="#e4d6ea"/>
<circle cx="483.44" cy="205.68" r="0.6" fill="#a890c4"/>
<circle cx="487.81" cy="205.43" r="0.92" fill="#b8a0ce"/>
<circle cx="489.9" cy="206.01" r="0.86" fill="#c8b2d8"/>
<circle cx="496" cy="206.35" r="0.86" fill="#c8b2d8"/>
<circle cx="497.23" cy="206.28" r="0.92" fill="#b8a0ce"/>
<circle cx="500.43" cy="206.2" r="0.67" fill="#a890c4"/>
<circle cx="501.52" cy="206.53" r="0.72" fill="#a890c4"/>
<circle cx="503.57" cy="205.63" r="0.7" fill="#b8a0ce"/>
<circle cx="505.49" cy="206.71" r="0.83" fill="#d8c8e4"/>
<circle cx="508.99" cy="205.76" r="0.91" fill="#e4d6ea"/>
<circle cx="511.93" cy="206.59" r="0.64" fill="#b8a0ce"/>
<circle cx="512.95" cy="206.24" r="0.66" fill="#d8c8e4"/>
<circle cx="407.95" cy="207.22" r="0.79" fill="#e4d6ea"/>
<circle cx="410.06" cy="208.21" r="0.67" fill="#d8c8e4"/>
<circle cx="411.85" cy="207.41" r="0.69" fill="#c2aad6"/>
<circle cx="413.98" cy="208.41" r="0.6" fill="#e4d6ea"/>
<circle cx="416.19" cy="207.56" r="0.82" fill="#b8a0ce"/>
<circle cx="417.59" cy="207.61" r="0.86" fill="#c8b2d8"/>
<circle cx="422.68" cy="208.61" r="0.67" fill="#d8c8e4"/>
<circle cx="424.33" cy="207.59" r="0.7" fill="#e4d6ea"/>
<circle cx="426.44" cy="208.11" r="0.79" fill="#c8b2d8"/>
<circle cx="428.16" cy="207.68" r="0.66" fill="#a890c4"/>
<circle cx="429.75" cy="207.37" r="0.65" fill="#c8b2d8"/>
<circle cx="430.74" cy="208.6" r="0.63" fill="#c8b2d8"/>
<circle cx="434.51" cy="208.41" r="0.72" fill="#e4d6ea"/>
<circle cx="461.49" cy="208.6" r="0.88" fill="#e4d6ea"/>
<circle cx="463.37" cy="207.79" r="0.73" fill="#c8b2d8"/>
<circle cx="465.26" cy="207.73" r="0.93" fill="#b8a0ce"/>
<circle cx="468.04" cy="208.05" r="0.94" fill="#a890c4"/>
<circle cx="468.74" cy="207.94" r="0.94" fill="#b8a0ce"/>
<circle cx="471.84" cy="208.66" r="0.89" fill="#c99466"/>
<circle cx="474.59" cy="208.7" r="0.73" fill="#e4d6ea"/>
<circle cx="478.57" cy="207.28" r="0.63" fill="#c8b2d8"/>
<circle cx="480.94" cy="208.69" r="0.65" fill="#c8b2d8"/>
<circle cx="481.99" cy="207.49" r="0.78" fill="#c2aad6"/>
<circle cx="488.05" cy="207.87" r="0.9" fill="#c8b2d8"/>
<circle cx="490.91" cy="207.64" r="0.67" fill="#c8b2d8"/>
<circle cx="494.61" cy="208.78" r="0.79" fill="#b8a0ce"/>
<circle cx="495.81" cy="207.7" r="0.78" fill="#c8b2d8"/>
<circle cx="497.45" cy="208.24" r="0.89" fill="#a890c4"/>
<circle cx="500.54" cy="207.25" r="0.87" fill="#b8a0ce"/>
<circle cx="502.22" cy="207.93" r="0.92" fill="#e4d6ea"/>
<circle cx="503.05" cy="208.05" r="0.79" fill="#a890c4"/>
<circle cx="509.53" cy="208.09" r="0.93" fill="#b8a0ce"/>
<circle cx="511.9" cy="207.91" r="0.84" fill="#e4d6ea"/>
<circle cx="512.94" cy="207.56" r="0.68" fill="#d8c8e4"/>
<circle cx="407.32" cy="210.43" r="0.93" fill="#e4d6ea"/>
<circle cx="408.6" cy="210.49" r="0.66" fill="#e4d6ea"/>
<circle cx="410.08" cy="210.18" r="0.82" fill="#d8c8e4"/>
<circle cx="412.5" cy="209.81" r="0.74" fill="#e4d6ea"/>
<circle cx="414.92" cy="210.66" r="0.8" fill="#e4d6ea"/>
<circle cx="418.82" cy="210.52" r="0.63" fill="#c8b2d8"/>
<circle cx="421.43" cy="210.69" r="0.93" fill="#b8a0ce"/>
<circle cx="423.79" cy="210.28" r="0.68" fill="#c8b2d8"/>
<circle cx="427.64" cy="209.72" r="0.62" fill="#c2aad6"/>
<circle cx="432.05" cy="209.95" r="0.82" fill="#a890c4"/>
<circle cx="437.18" cy="210.08" r="0.93" fill="#c8b2d8"/>
<circle cx="464.19" cy="210.33" r="0.65" fill="#b8a0ce"/>
<circle cx="465.85" cy="209.43" r="0.8" fill="#e4d6ea"/>
<circle cx="467.04" cy="209.96" r="0.84" fill="#d8c8e4"/>
<circle cx="468.94" cy="210.49" r="0.79" fill="#d8c8e4"/>
<circle cx="471.65" cy="209.67" r="0.65" fill="#e4d6ea"/>
<circle cx="476.74" cy="209.73" r="0.75" fill="#c2aad6"/>
<circle cx="481.56" cy="210.42" r="0.69" fill="#b8a0ce"/>
<circle cx="487.21" cy="209.31" r="0.89" fill="#b8a0ce"/>
<circle cx="487.66" cy="210.56" r="0.72" fill="#c8b2d8"/>
<circle cx="498.62" cy="209.92" r="0.93" fill="#e4d6ea"/>
<circle cx="499.74" cy="209.88" r="0.87" fill="#a890c4"/>
<circle cx="504.21" cy="209.68" r="0.84" fill="#a890c4"/>
<circle cx="505.82" cy="209.33" r="0.83" fill="#c2aad6"/>
<circle cx="506.81" cy="209.48" r="0.82" fill="#b8a0ce"/>
<circle cx="509.79" cy="209.76" r="0.62" fill="#b8a0ce"/>
<circle cx="511.86" cy="210.33" r="0.92" fill="#e4d6ea"/>
<circle cx="512.65" cy="210.62" r="0.85" fill="#c98a5a"/>
<circle cx="406.78" cy="212.23" r="0.87" fill="#e4d6ea"/>
<circle cx="408.76" cy="211.02" r="0.78" fill="#d8c8e4"/>
<circle cx="410.13" cy="211.18" r="0.7" fill="#c2aad6"/>
<circle cx="413.16" cy="211.49" r="0.83" fill="#a890c4"/>
<circle cx="413.93" cy="211.33" r="0.79" fill="#d8c8e4"/>
<circle cx="417.37" cy="212.51" r="0.9" fill="#b8a0ce"/>
<circle cx="420.42" cy="211.38" r="0.93" fill="#c98a5a"/>
<circle cx="422.12" cy="211.91" r="0.77" fill="#b8a0ce"/>
<circle cx="425.64" cy="211.36" r="0.84" fill="#d8c8e4"/>
<circle cx="431.29" cy="212.37" r="0.75" fill="#c8b2d8"/>
<circle cx="433.49" cy="211.14" r="0.89" fill="#c2aad6"/>
<circle cx="434.84" cy="211.03" r="0.7" fill="#e4d6ea"/>
<circle cx="437.82" cy="211.11" r="0.92" fill="#b8a0ce"/>
<circle cx="459.7" cy="211.53" r="0.82" fill="#a890c4"/>
<circle cx="462.36" cy="211.29" r="0.86" fill="#c8b2d8"/>
<circle cx="463.84" cy="212.14" r="0.7" fill="#d8c8e4"/>
<circle cx="464.84" cy="211.38" r="0.85" fill="#c2aad6"/>
<circle cx="467.98" cy="212.21" r="0.72" fill="#c99466"/>
<circle cx="472.84" cy="212.21" r="0.7" fill="#b8a0ce"/>
<circle cx="475.5" cy="212.29" r="0.67" fill="#e4d6ea"/>
<circle cx="481.07" cy="211.99" r="0.73" fill="#a890c4"/>
<circle cx="483.06" cy="211.08" r="0.72" fill="#e4d6ea"/>
<circle cx="485.14" cy="211.43" r="0.85" fill="#a890c4"/>
<circle cx="486.38" cy="211.57" r="0.87" fill="#b8a0ce"/>
<circle cx="487.86" cy="211.35" r="0.83" fill="#d6a478"/>
<circle cx="499.21" cy="211.43" r="0.79" fill="#a890c4"/>
<circle cx="503.15" cy="212.59" r="0.76" fill="#a890c4"/>
<circle cx="506.78" cy="212.02" r="0.9" fill="#b8a0ce"/>
<circle cx="510.65" cy="211.62" r="0.75" fill="#b8a0ce"/>
<circle cx="513.83" cy="211.57" r="0.88" fill="#d8c8e4"/>
<circle cx="406.15" cy="213.14" r="0.84" fill="#b8a0ce"/>
<circle cx="409.06" cy="214.12" r="0.81" fill="#a890c4"/>
<circle cx="412.82" cy="213.14" r="0.85" fill="#a890c4"/>
<circle cx="414.92" cy="213.47" r="0.68" fill="#a890c4"/>
<circle cx="416.67" cy="213.24" r="0.67" fill="#a890c4"/>
<circle cx="417.43" cy="213.36" r="0.71" fill="#e4d6ea"/>
<circle cx="420.37" cy="214.09" r="0.95" fill="#b8a0ce"/>
<circle cx="421.19" cy="213.29" r="0.93" fill="#b8a0ce"/>
<circle cx="423.88" cy="213.99" r="0.73" fill="#b8a0ce"/>
<circle cx="429.54" cy="213.64" r="0.64" fill="#c8b2d8"/>
<circle cx="431.85" cy="214.06" r="0.76" fill="#a890c4"/>
<circle cx="432.78" cy="214.1" r="0.79" fill="#d8c8e4"/>
<circle cx="435.94" cy="214.15" r="0.77" fill="#c2aad6"/>
<circle cx="441.65" cy="213.79" r="0.62" fill="#e4d6ea"/>
<circle cx="456.86" cy="213.35" r="0.62" fill="#a890c4"/>
<circle cx="458.8" cy="214.26" r="0.92" fill="#c8b2d8"/>
<circle cx="460.52" cy="213.13" r="0.76" fill="#c2aad6"/>
<circle cx="464.29" cy="213.96" r="0.7" fill="#d8c8e4"/>
<circle cx="468.14" cy="213.27" r="0.83" fill="#a890c4"/>
<circle cx="468.78" cy="213.3" r="0.68" fill="#c8b2d8"/>
<circle cx="472.04" cy="213.56" r="0.86" fill="#d8c8e4"/>
<circle cx="472.8" cy="213.93" r="0.87" fill="#c8b2d8"/>
<circle cx="474.4" cy="212.96" r="0.81" fill="#c8b2d8"/>
<circle cx="477.2" cy="213.96" r="0.76" fill="#c8b2d8"/>
<circle cx="478.35" cy="214.38" r="0.93" fill="#e4d6ea"/>
<circle cx="481.16" cy="213.2" r="0.7" fill="#c2aad6"/>
<circle cx="486.56" cy="212.99" r="0.83" fill="#a890c4"/>
<circle cx="497.34" cy="214.01" r="0.73" fill="#c8b2d8"/>
<circle cx="500.23" cy="213.63" r="0.9" fill="#b8a0ce"/>
<circle cx="506.23" cy="213.76" r="0.93" fill="#a890c4"/>
<circle cx="506.91" cy="213.28" r="0.79" fill="#c2aad6"/>
<circle cx="508.71" cy="213.91" r="0.74" fill="#c8b2d8"/>
<circle cx="510.79" cy="214.49" r="0.78" fill="#a890c4"/>
<circle cx="513.29" cy="213.52" r="0.85" fill="#c8b2d8"/>
<circle cx="407.1" cy="216.17" r="0.9" fill="#d8c8e4"/>
<circle cx="411.12" cy="216.25" r="0.85" fill="#e4d6ea"/>
<circle cx="415.06" cy="214.96" r="0.72" fill="#c8b2d8"/>
<circle cx="418.21" cy="215.38" r="0.82" fill="#a890c4"/>
<circle cx="420.41" cy="215.54" r="0.72" fill="#d8c8e4"/>
<circle cx="421.32" cy="215.92" r="0.74" fill="#c8b2d8"/>
<circle cx="427.78" cy="215.65" r="0.93" fill="#c8b2d8"/>
<circle cx="438.31" cy="216.24" r="0.77" fill="#d8c8e4"/>
<circle cx="441.53" cy="215.86" r="0.95" fill="#a890c4"/>
<circle cx="444.41" cy="216.02" r="0.77" fill="#c8b2d8"/>
<circle cx="447.28" cy="215.51" r="0.87" fill="#c2aad6"/>
<circle cx="448.13" cy="215.8" r="0.9" fill="#c2aad6"/>
<circle cx="451.89" cy="215.73" r="0.82" fill="#c2aad6"/>
<circle cx="453.5" cy="215.53" r="0.82" fill="#c8b2d8"/>
<circle cx="456.39" cy="215.07" r="0.87" fill="#a890c4"/>
<circle cx="458.74" cy="215.68" r="0.79" fill="#b8a0ce"/>
<circle cx="461.04" cy="215.06" r="0.77" fill="#e4d6ea"/>
<circle cx="465.52" cy="214.89" r="0.67" fill="#d8c8e4"/>
<circle cx="472.83" cy="216.01" r="0.74" fill="#a890c4"/>
<circle cx="475.29" cy="215.16" r="0.79" fill="#e4d6ea"/>
<circle cx="476.88" cy="215.5" r="0.89" fill="#e4d6ea"/>
<circle cx="484.5" cy="214.88" r="0.95" fill="#d8c8e4"/>
<circle cx="496.53" cy="216.13" r="0.61" fill="#c2aad6"/>
<circle cx="500.09" cy="215.28" r="0.62" fill="#c8b2d8"/>
<circle cx="500.95" cy="215.29" r="0.87" fill="#c2aad6"/>
<circle cx="504.03" cy="215.53" r="0.65" fill="#c8b2d8"/>
<circle cx="508.83" cy="216.28" r="0.93" fill="#d8c8e4"/>
<circle cx="511.39" cy="216.38" r="0.87" fill="#b8a0ce"/>
<circle cx="512.71" cy="215.23" r="0.7" fill="#d8c8e4"/>
<circle cx="407.23" cy="217.85" r="0.77" fill="#e4d6ea"/>
<circle cx="409.18" cy="217.11" r="0.81" fill="#a890c4"/>
<circle cx="410.93" cy="217.43" r="0.68" fill="#b8a0ce"/>
<circle cx="415.91" cy="217.1" r="0.73" fill="#b8a0ce"/>
<circle cx="419.64" cy="217.69" r="0.91" fill="#b8a0ce"/>
<circle cx="421.73" cy="218.17" r="0.8" fill="#c2aad6"/>
<circle cx="423.8" cy="217.43" r="0.91" fill="#d8c8e4"/>
<circle cx="426.31" cy="217.33" r="0.69" fill="#d8c8e4"/>
<circle cx="427.87" cy="217.17" r="0.62" fill="#c2aad6"/>
<circle cx="429.63" cy="217.22" r="0.62" fill="#d8c8e4"/>
<circle cx="431.97" cy="217.55" r="0.65" fill="#a890c4"/>
<circle cx="432.87" cy="217.45" r="0.75" fill="#e4d6ea"/>
<circle cx="434.6" cy="217.53" r="0.86" fill="#a890c4"/>
<circle cx="438.56" cy="216.88" r="0.83" fill="#c8b2d8"/>
<circle cx="440.28" cy="218.26" r="0.99" fill="#c98a5a"/>
<circle cx="442.63" cy="217.67" r="0.8" fill="#a890c4"/>
<circle cx="444.27" cy="217.57" r="0.91" fill="#d8c8e4"/>
<circle cx="447.72" cy="217.84" r="0.67" fill="#c8b2d8"/>
<circle cx="451.04" cy="217.89" r="0.94" fill="#b8a0ce"/>
<circle cx="452.11" cy="216.93" r="0.61" fill="#e4d6ea"/>
<circle cx="454.1" cy="218.07" r="0.73" fill="#d8c8e4"/>
<circle cx="456.55" cy="217.73" r="0.87" fill="#d6a478"/>
<circle cx="459.11" cy="217.11" r="0.9" fill="#c2aad6"/>
<circle cx="461.31" cy="218.17" r="0.92" fill="#d8c8e4"/>
<circle cx="464.24" cy="217.32" r="0.83" fill="#e4d6ea"/>
<circle cx="466.39" cy="216.95" r="0.88" fill="#e4d6ea"/>
<circle cx="467.19" cy="217.54" r="0.79" fill="#d8c8e4"/>
<circle cx="469.9" cy="216.96" r="0.64" fill="#e4d6ea"/>
<circle cx="473.85" cy="216.79" r="0.69" fill="#d8c8e4"/>
<circle cx="477.38" cy="217.29" r="0.82" fill="#c2aad6"/>
<circle cx="478.65" cy="217.69" r="0.61" fill="#b8a0ce"/>
<circle cx="480.04" cy="216.91" r="0.95" fill="#d8c8e4"/>
<circle cx="483.38" cy="217.52" r="0.97" fill="#c99466"/>
<circle cx="484.94" cy="217.12" r="0.83" fill="#c2aad6"/>
<circle cx="486.08" cy="218.11" r="0.72" fill="#a890c4"/>
<circle cx="487.88" cy="216.97" r="0.93" fill="#b8a0ce"/>
<circle cx="502.49" cy="217.96" r="0.79" fill="#c8b2d8"/>
<circle cx="504.17" cy="216.72" r="0.84" fill="#c8b2d8"/>
<circle cx="506.86" cy="217.86" r="0.75" fill="#c2aad6"/>
<circle cx="509.38" cy="217.59" r="0.65" fill="#b8a0ce"/>
<circle cx="406.39" cy="219.77" r="0.74" fill="#a890c4"/>
<circle cx="409.1" cy="218.82" r="0.94" fill="#d8c8e4"/>
<circle cx="411.64" cy="218.68" r="0.94" fill="#c8b2d8"/>
<circle cx="415.96" cy="219.71" r="0.95" fill="#c98a5a"/>
<circle cx="418.22" cy="219.96" r="0.82" fill="#b8a0ce"/>
<circle cx="420.45" cy="219.85" r="0.77" fill="#c2aad6"/>
<circle cx="426.18" cy="218.94" r="0.76" fill="#c98a5a"/>
<circle cx="427.13" cy="218.88" r="0.79" fill="#b8a0ce"/>
<circle cx="429.71" cy="218.91" r="0.85" fill="#c8b2d8"/>
<circle cx="432.7" cy="219.42" r="0.88" fill="#c2aad6"/>
<circle cx="435.22" cy="220.13" r="0.93" fill="#a890c4"/>
<circle cx="437.74" cy="219.45" r="0.92" fill="#c2aad6"/>
<circle cx="442.57" cy="219.33" r="0.81" fill="#b8a0ce"/>
<circle cx="444.43" cy="218.88" r="0.7" fill="#c8b2d8"/>
<circle cx="446.55" cy="219.71" r="0.89" fill="#e4d6ea"/>
<circle cx="450.95" cy="219.19" r="0.67" fill="#c2aad6"/>
<circle cx="454.67" cy="218.67" r="0.8" fill="#c2aad6"/>
<circle cx="456.51" cy="219.93" r="0.7" fill="#c8b2d8"/>
<circle cx="457.67" cy="218.64" r="0.85" fill="#a890c4"/>
<circle cx="461.97" cy="219.44" r="0.75" fill="#c2aad6"/>
<circle cx="463.35" cy="219.08" r="0.6" fill="#c8b2d8"/>
<circle cx="467.19" cy="218.91" r="0.63" fill="#e4d6ea"/>
<circle cx="468.61" cy="219.51" r="0.65" fill="#e4d6ea"/>
<circle cx="471.66" cy="218.87" r="0.64" fill="#a890c4"/>
<circle cx="472.89" cy="219.59" r="0.84" fill="#a890c4"/>
<circle cx="475.67" cy="219.31" r="0.75" fill="#d8c8e4"/>
<circle cx="479.21" cy="219.69" r="0.74" fill="#b8a0ce"/>
<circle cx="488.44" cy="219.26" r="0.82" fill="#e4d6ea"/>
<circle cx="489.95" cy="219.87" r="0.82" fill="#d8c8e4"/>
<circle cx="492.33" cy="219.7" r="0.97" fill="#c99466"/>
<circle cx="493.46" cy="219.52" r="0.93" fill="#d8c8e4"/>
<circle cx="496.05" cy="218.84" r="0.93" fill="#d8c8e4"/>
<circle cx="499.9" cy="218.75" r="0.82" fill="#e4d6ea"/>
<circle cx="501.7" cy="220.2" r="0.81" fill="#c8b2d8"/>
<circle cx="503.08" cy="219.59" r="0.63" fill="#b8a0ce"/>
<circle cx="509.83" cy="218.77" r="0.92" fill="#d8c8e4"/>
<circle cx="513.3" cy="218.66" r="0.61" fill="#c2aad6"/>
<circle cx="414.12" cy="220.57" r="0.62" fill="#c2aad6"/>
<circle cx="416.84" cy="221.7" r="0.76" fill="#e4d6ea"/>
<circle cx="417.35" cy="221.04" r="0.92" fill="#c2aad6"/>
<circle cx="420.41" cy="220.78" r="0.64" fill="#c8b2d8"/>
<circle cx="422.43" cy="221.22" r="0.88" fill="#e4d6ea"/>
<circle cx="423.32" cy="221.93" r="0.68" fill="#c8b2d8"/>
<circle cx="425.08" cy="220.95" r="0.99" fill="#c98a5a"/>
<circle cx="428.37" cy="220.94" r="0.8" fill="#e4d6ea"/>
<circle cx="435.52" cy="221.89" r="0.89" fill="#c2aad6"/>
<circle cx="442.17" cy="220.76" r="0.61" fill="#a890c4"/>
<circle cx="445.47" cy="221.33" r="0.74" fill="#a890c4"/>
<circle cx="448.29" cy="220.54" r="0.9" fill="#d8c8e4"/>
<circle cx="452.19" cy="221.09" r="0.87" fill="#d8c8e4"/>
<circle cx="458.43" cy="221.15" r="0.88" fill="#b8a0ce"/>
<circle cx="460.55" cy="222.1" r="0.63" fill="#c8b2d8"/>
<circle cx="461.8" cy="220.98" r="0.72" fill="#a890c4"/>
<circle cx="463.53" cy="221.36" r="0.76" fill="#b8a0ce"/>
<circle cx="465.98" cy="221.3" r="0.7" fill="#b8a0ce"/>
<circle cx="469.86" cy="220.83" r="0.8" fill="#c98a5a"/>
<circle cx="470.95" cy="220.95" r="0.72" fill="#b8a0ce"/>
<circle cx="475.88" cy="221.74" r="0.7" fill="#b8a0ce"/>
<circle cx="476.39" cy="221.13" r="0.62" fill="#d8c8e4"/>
<circle cx="492.96" cy="220.85" r="0.8" fill="#c2aad6"/>
<circle cx="494.53" cy="221.22" r="0.85" fill="#a890c4"/>
<circle cx="496.46" cy="221.6" r="0.79" fill="#a890c4"/>
<circle cx="498.08" cy="221.27" r="0.89" fill="#c8b2d8"/>
<circle cx="499.42" cy="221.31" r="0.9" fill="#c2aad6"/>
<circle cx="501.22" cy="221.73" r="0.86" fill="#b8a0ce"/>
<circle cx="502.97" cy="221.28" r="0.91" fill="#e4d6ea"/>
<circle cx="505.41" cy="221.88" r="0.62" fill="#c2aad6"/>
<circle cx="506.9" cy="221.87" r="0.67" fill="#c8b2d8"/>
<circle cx="509.61" cy="221.96" r="0.88" fill="#b8a0ce"/>
<circle cx="511.14" cy="221.18" r="0.96" fill="#c98a5a"/>
<circle cx="513.02" cy="221.19" r="0.89" fill="#b8a0ce"/>
<circle cx="413.57" cy="222.65" r="0.91" fill="#c2aad6"/>
<circle cx="417.83" cy="222.45" r="0.99" fill="#d6a478"/>
<circle cx="420.7" cy="223.07" r="0.61" fill="#e4d6ea"/>
<circle cx="425.36" cy="223.51" r="0.66" fill="#e4d6ea"/>
<circle cx="428.92" cy="223.03" r="0.63" fill="#d8c8e4"/>
<circle cx="431.52" cy="223.53" r="0.8" fill="#b8a0ce"/>
<circle cx="433.3" cy="222.58" r="0.7" fill="#d8c8e4"/>
<circle cx="434.42" cy="223.44" r="0.88" fill="#b8a0ce"/>
<circle cx="437.33" cy="223.02" r="0.94" fill="#a890c4"/>
<circle cx="439.05" cy="223.15" r="0.74" fill="#c2aad6"/>
<circle cx="441" cy="222.59" r="0.82" fill="#a890c4"/>
<circle cx="443.34" cy="223.65" r="0.85" fill="#a890c4"/>
<circle cx="443.94" cy="222.85" r="0.76" fill="#c2aad6"/>
<circle cx="447.79" cy="223.99" r="0.82" fill="#d8c8e4"/>
<circle cx="450.58" cy="223.48" r="0.85" fill="#c8b2d8"/>
<circle cx="453.06" cy="222.66" r="0.87" fill="#a890c4"/>
<circle cx="456.56" cy="222.81" r="0.61" fill="#e4d6ea"/>
<circle cx="459.85" cy="223.33" r="0.76" fill="#d8c8e4"/>
<circle cx="461.18" cy="222.65" r="0.66" fill="#c8b2d8"/>
<circle cx="463.81" cy="222.56" r="0.6" fill="#d8c8e4"/>
<circle cx="464.93" cy="222.53" r="0.62" fill="#c8b2d8"/>
<circle cx="467.11" cy="223.1" r="0.61" fill="#e4d6ea"/>
<circle cx="468.83" cy="223.31" r="0.6" fill="#a890c4"/>
<circle cx="473.24" cy="222.89" r="0.76" fill="#c8b2d8"/>
<circle cx="477.77" cy="223.45" r="0.68" fill="#c8b2d8"/>
<circle cx="490.23" cy="222.44" r="0.81" fill="#a890c4"/>
<circle cx="492.36" cy="223.54" r="0.92" fill="#c8b2d8"/>
<circle cx="494.44" cy="222.5" r="0.84" fill="#e4d6ea"/>
<circle cx="496.31" cy="222.58" r="0.77" fill="#e4d6ea"/>
<circle cx="497.71" cy="223.88" r="0.83" fill="#b8a0ce"/>
<circle cx="500.24" cy="223.48" r="0.74" fill="#a890c4"/>
<circle cx="503.5" cy="222.57" r="0.89" fill="#a890c4"/>
<circle cx="506.19" cy="222.76" r="0.65" fill="#b8a0ce"/>
<circle cx="508.14" cy="222.78" r="0.65" fill="#a890c4"/>
<circle cx="509.5" cy="223.42" r="0.76" fill="#c8b2d8"/>
<circle cx="511.62" cy="223.08" r="0.74" fill="#e4d6ea"/>
<circle cx="513.65" cy="222.9" r="0.87" fill="#e4d6ea"/>
<circle cx="407.5" cy="225.89" r="0.84" fill="#c99466"/>
<circle cx="409.75" cy="225.52" r="0.61" fill="#a890c4"/>
<circle cx="412.9" cy="224.7" r="0.77" fill="#c8b2d8"/>
<circle cx="414.2" cy="225.71" r="0.94" fill="#d8c8e4"/>
<circle cx="418.28" cy="224.81" r="0.67" fill="#d8c8e4"/>
<circle cx="419.91" cy="224.31" r="0.73" fill="#a890c4"/>
<circle cx="421.29" cy="225.09" r="0.8" fill="#c8b2d8"/>
<circle cx="423.41" cy="225.32" r="0.89" fill="#d8c8e4"/>
<circle cx="429.09" cy="225.18" r="0.79" fill="#c8b2d8"/>
<circle cx="431.83" cy="225.88" r="0.82" fill="#c98a5a"/>
<circle cx="433.19" cy="225.26" r="0.88" fill="#b8a0ce"/>
<circle cx="434.64" cy="225.68" r="0.66" fill="#b8a0ce"/>
<circle cx="437.8" cy="224.34" r="0.9" fill="#e4d6ea"/>
<circle cx="439.63" cy="225.3" r="0.8" fill="#e4d6ea"/>
<circle cx="443.35" cy="225.16" r="0.92" fill="#c98a5a"/>
<circle cx="446.37" cy="224.89" r="0.78" fill="#e4d6ea"/>
<circle cx="448.51" cy="224.87" r="0.82" fill="#b8a0ce"/>
<circle cx="453.06" cy="225.84" r="0.7" fill="#a890c4"/>
<circle cx="456.48" cy="225.41" r="0.88" fill="#e4d6ea"/>
<circle cx="458.77" cy="224.8" r="0.68" fill="#b8a0ce"/>
<circle cx="459.66" cy="225.17" r="0.83" fill="#c8b2d8"/>
<circle cx="462.15" cy="224.74" r="0.73" fill="#e4d6ea"/>
<circle cx="463.29" cy="224.47" r="0.91" fill="#c99466"/>
<circle cx="477.77" cy="224.39" r="0.78" fill="#b8a0ce"/>
<circle cx="492.91" cy="225.72" r="0.83" fill="#b8a0ce"/>
<circle cx="496.63" cy="224.74" r="0.88" fill="#d8c8e4"/>
<circle cx="500.33" cy="225.81" r="0.84" fill="#b8a0ce"/>
<circle cx="502.92" cy="225.77" r="0.73" fill="#c2aad6"/>
<circle cx="505.71" cy="225.17" r="0.86" fill="#a890c4"/>
<circle cx="509.61" cy="225.83" r="0.84" fill="#b8a0ce"/>
<circle cx="511.61" cy="225.08" r="0.6" fill="#c8b2d8"/>
<circle cx="513.56" cy="224.54" r="0.88" fill="#a890c4"/>
<circle cx="406.14" cy="226.51" r="0.81" fill="#c2aad6"/>
<circle cx="410.24" cy="226.57" r="0.76" fill="#c2aad6"/>
<circle cx="412.51" cy="226.73" r="0.77" fill="#a890c4"/>
<circle cx="413.85" cy="226.78" r="0.83" fill="#d8c8e4"/>
<circle cx="417.41" cy="227.48" r="0.86" fill="#b8a0ce"/>
<circle cx="420.59" cy="227.57" r="0.84" fill="#b8a0ce"/>
<circle cx="422.08" cy="226.23" r="0.82" fill="#d8c8e4"/>
<circle cx="424.51" cy="227.2" r="0.82" fill="#c8b2d8"/>
<circle cx="425.1" cy="227.39" r="0.68" fill="#c8b2d8"/>
<circle cx="427.01" cy="226.3" r="0.71" fill="#d8c8e4"/>
<circle cx="429.48" cy="227.42" r="0.74" fill="#c8b2d8"/>
<circle cx="431.97" cy="226.3" r="0.87" fill="#d8c8e4"/>
<circle cx="433.02" cy="227.8" r="0.64" fill="#a890c4"/>
<circle cx="434.93" cy="227.45" r="0.89" fill="#d8c8e4"/>
<circle cx="437.2" cy="226.32" r="0.8" fill="#c8b2d8"/>
<circle cx="443.43" cy="226.66" r="0.93" fill="#b8a0ce"/>
<circle cx="446.99" cy="226.86" r="0.89" fill="#a890c4"/>
<circle cx="450.79" cy="226.32" r="0.65" fill="#b8a0ce"/>
<circle cx="452.87" cy="226.77" r="0.95" fill="#c2aad6"/>
<circle cx="453.59" cy="227.12" r="0.93" fill="#e4d6ea"/>
<circle cx="456.16" cy="227.48" r="0.73" fill="#e4d6ea"/>
<circle cx="458.27" cy="226.97" r="0.79" fill="#c2aad6"/>
<circle cx="459.52" cy="227.24" r="0.65" fill="#c8b2d8"/>
<circle cx="473.97" cy="226.41" r="0.7" fill="#a890c4"/>
<circle cx="477.06" cy="226.36" r="0.67" fill="#b8a0ce"/>
<circle cx="478.66" cy="227.15" r="0.87" fill="#b8a0ce"/>
<circle cx="480.57" cy="227.34" r="0.85" fill="#a890c4"/>
<circle cx="488.46" cy="226.8" r="0.63" fill="#e4d6ea"/>
<circle cx="489.7" cy="227.42" r="0.63" fill="#c8b2d8"/>
<circle cx="491.4" cy="226.78" r="0.69" fill="#c2aad6"/>
<circle cx="493.82" cy="227.05" r="0.83" fill="#c8b2d8"/>
<circle cx="496.54" cy="227.55" r="0.7" fill="#b8a0ce"/>
<circle cx="499.54" cy="227.17" r="0.94" fill="#c8b2d8"/>
<circle cx="503.56" cy="227.44" r="0.89" fill="#c2aad6"/>
<circle cx="505.74" cy="226.64" r="0.87" fill="#a890c4"/>
<circle cx="507.99" cy="226.78" r="0.94" fill="#e4d6ea"/>
<circle cx="509.19" cy="226.32" r="0.84" fill="#a890c4"/>
<circle cx="511.01" cy="226.21" r="0.69" fill="#d8c8e4"/>
<circle cx="412.48" cy="228.85" r="0.81" fill="#d8c8e4"/>
<circle cx="414.54" cy="229.4" r="0.85" fill="#a890c4"/>
<circle cx="415.71" cy="228.81" r="0.75" fill="#d8c8e4"/>
<circle cx="417.47" cy="229.67" r="0.72" fill="#e4d6ea"/>
<circle cx="420.48" cy="229.01" r="0.82" fill="#d6a478"/>
<circle cx="429.79" cy="228.47" r="0.79" fill="#a890c4"/>
<circle cx="430.67" cy="229.49" r="0.66" fill="#d8c8e4"/>
<circle cx="433.06" cy="228.23" r="0.95" fill="#c8b2d8"/>
<circle cx="438.39" cy="229.69" r="0.61" fill="#a890c4"/>
<circle cx="441.04" cy="228.46" r="0.94" fill="#d8c8e4"/>
<circle cx="446.79" cy="229.01" r="0.6" fill="#e4d6ea"/>
<circle cx="448.03" cy="229.24" r="0.81" fill="#d8c8e4"/>
<circle cx="450.85" cy="228.84" r="0.94" fill="#d8c8e4"/>
<circle cx="452.32" cy="229.4" r="0.93" fill="#e4d6ea"/>
<circle cx="453.86" cy="228.77" r="0.9" fill="#a890c4"/>
<circle cx="458.21" cy="229.02" r="0.91" fill="#b8a0ce"/>
<circle cx="462.54" cy="229.61" r="0.92" fill="#c8b2d8"/>
<circle cx="472.85" cy="229.52" r="0.74" fill="#e4d6ea"/>
<circle cx="476.45" cy="229.55" r="0.85" fill="#c8b2d8"/>
<circle cx="478.36" cy="228.71" r="0.95" fill="#d8c8e4"/>
<circle cx="480.96" cy="228.13" r="0.64" fill="#c8b2d8"/>
<circle cx="481.96" cy="229.38" r="0.83" fill="#d6a478"/>
<circle cx="484.68" cy="228.19" r="0.71" fill="#c2aad6"/>
<circle cx="488.33" cy="228.92" r="0.75" fill="#c2aad6"/>
<circle cx="489.85" cy="229.34" r="0.72" fill="#c8b2d8"/>
<circle cx="492.53" cy="229.1" r="0.82" fill="#c2aad6"/>
<circle cx="493.48" cy="229.08" r="0.89" fill="#a890c4"/>
<circle cx="495.38" cy="228.32" r="0.69" fill="#a890c4"/>
<circle cx="499.83" cy="229.03" r="0.78" fill="#d6a478"/>
<circle cx="502.07" cy="228.61" r="0.84" fill="#d8c8e4"/>
<circle cx="504.19" cy="228.89" r="0.65" fill="#e4d6ea"/>
<circle cx="504.72" cy="229.32" r="0.82" fill="#a890c4"/>
<circle cx="506.9" cy="229.56" r="0.92" fill="#b8a0ce"/>
<circle cx="511.26" cy="228.73" r="0.73" fill="#c98a5a"/>
<circle cx="513.76" cy="228.1" r="0.84" fill="#c8b2d8"/>
<circle cx="406.06" cy="231.14" r="0.9" fill="#c98a5a"/>
<circle cx="410.63" cy="231.58" r="0.91" fill="#a890c4"/>
<circle cx="413.58" cy="230.06" r="0.91" fill="#d8c8e4"/>
<circle cx="417.88" cy="230.84" r="0.91" fill="#c2aad6"/>
<circle cx="433.65" cy="231.44" r="0.7" fill="#e4d6ea"/>
<circle cx="442.69" cy="230.71" r="0.66" fill="#c2aad6"/>
<circle cx="450.68" cy="230.46" r="0.66" fill="#d8c8e4"/>
<circle cx="452.63" cy="230.58" r="0.76" fill="#d8c8e4"/>
<circle cx="453.94" cy="230.15" r="0.89" fill="#b8a0ce"/>
<circle cx="455.51" cy="230.3" r="0.86" fill="#e4d6ea"/>
<circle cx="457.86" cy="230.91" r="0.77" fill="#d8c8e4"/>
<circle cx="460.01" cy="230.84" r="0.81" fill="#c2aad6"/>
<circle cx="461.28" cy="231.22" r="0.89" fill="#a890c4"/>
<circle cx="475.76" cy="230.64" r="0.87" fill="#d8c8e4"/>
<circle cx="476.48" cy="230.8" r="0.89" fill="#b8a0ce"/>
<circle cx="481.3" cy="230.73" r="0.7" fill="#b8a0ce"/>
<circle cx="483.35" cy="230.85" r="0.72" fill="#b8a0ce"/>
<circle cx="485.96" cy="231.48" r="0.88" fill="#e4d6ea"/>
<circle cx="488.51" cy="231.47" r="0.66" fill="#e4d6ea"/>
<circle cx="490.41" cy="230.12" r="0.76" fill="#e4d6ea"/>
<circle cx="498.07" cy="230.05" r="0.68" fill="#c8b2d8"/>
<circle cx="499.03" cy="230.9" r="0.84" fill="#d8c8e4"/>
<circle cx="505.73" cy="230.68" r="0.88" fill="#d8c8e4"/>
<circle cx="507.55" cy="230.53" r="0.61" fill="#b8a0ce"/>
<circle cx="508.79" cy="230.88" r="0.74" fill="#c2aad6"/>
<circle cx="510.57" cy="231.33" r="0.76" fill="#a890c4"/>
<circle cx="406.53" cy="233.01" r="0.77" fill="#a890c4"/>
<circle cx="410.95" cy="233.04" r="0.76" fill="#b8a0ce"/>
<circle cx="413.02" cy="232" r="0.94" fill="#c2aad6"/>
<circle cx="435.3" cy="231.93" r="0.71" fill="#b8a0ce"/>
<circle cx="437.62" cy="232.66" r="0.93" fill="#c2aad6"/>
<circle cx="439.08" cy="232.97" r="0.7" fill="#c2aad6"/>
<circle cx="445.13" cy="232.09" r="0.62" fill="#e4d6ea"/>
<circle cx="448.62" cy="232.76" r="0.61" fill="#d8c8e4"/>
<circle cx="450.29" cy="232.87" r="0.9" fill="#b8a0ce"/>
<circle cx="452.95" cy="233.4" r="0.7" fill="#e4d6ea"/>
<circle cx="455.3" cy="233.16" r="0.87" fill="#b8a0ce"/>
<circle cx="458.78" cy="232.98" r="0.67" fill="#e4d6ea"/>
<circle cx="460.04" cy="232.74" r="0.63" fill="#c2aad6"/>
<circle cx="461.43" cy="233.47" r="0.76" fill="#a890c4"/>
<circle cx="465.01" cy="233.38" r="0.67" fill="#d8c8e4"/>
<circle cx="470.58" cy="232.71" r="0.61" fill="#d8c8e4"/>
<circle cx="473.42" cy="232.72" r="0.8" fill="#c8b2d8"/>
<circle cx="474.68" cy="233.19" r="0.79" fill="#b8a0ce"/>
<circle cx="476.22" cy="233.18" r="0.67" fill="#b8a0ce"/>
<circle cx="480.16" cy="232.79" r="0.8" fill="#b8a0ce"/>
<circle cx="485.19" cy="232.87" r="0.71" fill="#b8a0ce"/>
<circle cx="485.81" cy="233.11" r="0.8" fill="#d8c8e4"/>
<circle cx="492.43" cy="232.49" r="0.9" fill="#d8c8e4"/>
<circle cx="494.81" cy="232.92" r="0.9" fill="#e4d6ea"/>
<circle cx="503.37" cy="232.9" r="0.89" fill="#b8a0ce"/>
<circle cx="505.66" cy="232.18" r="0.62" fill="#d8c8e4"/>
<circle cx="507.69" cy="233.11" r="0.84" fill="#e4d6ea"/>
<circle cx="509.3" cy="232.8" r="0.77" fill="#c8b2d8"/>
<circle cx="511.09" cy="232.07" r="0.8" fill="#a890c4"/>
<circle cx="513.37" cy="232.55" r="0.61" fill="#d8c8e4"/>
<circle cx="406" cy="233.87" r="0.63" fill="#b8a0ce"/>
<circle cx="408.68" cy="234.86" r="0.61" fill="#a890c4"/>
<circle cx="411.79" cy="233.81" r="0.83" fill="#a890c4"/>
<circle cx="417.79" cy="233.96" r="0.6" fill="#d8c8e4"/>
<circle cx="437.5" cy="233.88" r="0.65" fill="#a890c4"/>
<circle cx="438.88" cy="233.99" r="0.63" fill="#a890c4"/>
<circle cx="440.9" cy="234.52" r="0.67" fill="#d8c8e4"/>
<circle cx="442.65" cy="235.12" r="0.76" fill="#e4d6ea"/>
<circle cx="444.2" cy="233.87" r="0.67" fill="#c2aad6"/>
<circle cx="446.47" cy="234.76" r="0.66" fill="#a890c4"/>
<circle cx="448.53" cy="234.2" r="0.61" fill="#a890c4"/>
<circle cx="452.92" cy="234.69" r="0.68" fill="#d8c8e4"/>
<circle cx="454.88" cy="235.06" r="0.67" fill="#d8c8e4"/>
<circle cx="456.07" cy="234.17" r="0.76" fill="#b8a0ce"/>
<circle cx="457.88" cy="234.98" r="0.7" fill="#d8c8e4"/>
<circle cx="461.48" cy="235.2" r="0.86" fill="#c2aad6"/>
<circle cx="465.23" cy="234.49" r="0.71" fill="#a890c4"/>
<circle cx="471.82" cy="235.05" r="0.66" fill="#e4d6ea"/>
<circle cx="473.84" cy="234.49" r="0.78" fill="#b8a0ce"/>
<circle cx="474.41" cy="234.1" r="0.82" fill="#a890c4"/>
<circle cx="478.53" cy="233.8" r="0.64" fill="#b8a0ce"/>
<circle cx="482.56" cy="233.98" r="0.78" fill="#b8a0ce"/>
<circle cx="486.86" cy="234.01" r="0.81" fill="#b8a0ce"/>
<circle cx="492.8" cy="234.37" r="0.82" fill="#d8c8e4"/>
<circle cx="496.45" cy="234.68" r="0.8" fill="#c8b2d8"/>
<circle cx="497.35" cy="234.65" r="0.79" fill="#b8a0ce"/>
<circle cx="499.9" cy="234.89" r="0.78" fill="#b8a0ce"/>
<circle cx="501.82" cy="234.06" r="0.84" fill="#e4d6ea"/>
<circle cx="504.84" cy="235.26" r="0.89" fill="#e4d6ea"/>
<circle cx="507.5" cy="235.32" r="0.67" fill="#a890c4"/>
<circle cx="509.38" cy="234.36" r="0.83" fill="#c2aad6"/>
<circle cx="511.86" cy="234.07" r="0.7" fill="#c98a5a"/>
<circle cx="512.74" cy="235.2" r="0.91" fill="#c2aad6"/>
<circle cx="406.37" cy="236.39" r="0.76" fill="#e4d6ea"/>
<circle cx="408.68" cy="235.78" r="0.92" fill="#a890c4"/>
<circle cx="410.84" cy="236.11" r="0.64" fill="#c8b2d8"/>
<circle cx="412.92" cy="236.95" r="0.78" fill="#c2aad6"/>
<circle cx="414.18" cy="235.84" r="0.63" fill="#d8c8e4"/>
<circle cx="416.31" cy="235.84" r="0.89" fill="#d8c8e4"/>
<circle cx="417.62" cy="236.36" r="0.94" fill="#e4d6ea"/>
<circle cx="437.58" cy="236.87" r="0.85" fill="#c8b2d8"/>
<circle cx="438.38" cy="235.74" r="0.74" fill="#c8b2d8"/>
<circle cx="440.75" cy="236.56" r="0.78" fill="#c2aad6"/>
<circle cx="450.38" cy="236.1" r="0.86" fill="#e4d6ea"/>
<circle cx="452.14" cy="236.14" r="0.71" fill="#c2aad6"/>
<circle cx="455.56" cy="237.25" r="0.63" fill="#a890c4"/>
<circle cx="458.75" cy="236.63" r="0.78" fill="#d8c8e4"/>
<circle cx="462.43" cy="236.93" r="0.83" fill="#c8b2d8"/>
<circle cx="463.51" cy="237.27" r="0.69" fill="#d8c8e4"/>
<circle cx="465.17" cy="237.11" r="0.72" fill="#c2aad6"/>
<circle cx="467.98" cy="235.94" r="0.93" fill="#d8c8e4"/>
<circle cx="470.54" cy="236.21" r="0.89" fill="#e4d6ea"/>
<circle cx="473.66" cy="235.94" r="0.83" fill="#d8c8e4"/>
<circle cx="477.35" cy="235.95" r="0.76" fill="#c2aad6"/>
<circle cx="478.83" cy="236.11" r="0.71" fill="#c2aad6"/>
<circle cx="480.53" cy="235.8" r="0.75" fill="#b8a0ce"/>
<circle cx="482.26" cy="236.01" r="0.74" fill="#c98a5a"/>
<circle cx="485.17" cy="236.66" r="0.88" fill="#c8b2d8"/>
<circle cx="486.4" cy="237.2" r="0.73" fill="#d8c8e4"/>
<circle cx="488.01" cy="235.73" r="0.69" fill="#b8a0ce"/>
<circle cx="490.56" cy="236.08" r="0.97" fill="#c98a5a"/>
<circle cx="491.45" cy="235.98" r="0.71" fill="#b8a0ce"/>
<circle cx="495.52" cy="235.8" r="0.9" fill="#c2aad6"/>
<circle cx="499.93" cy="236.8" r="0.72" fill="#d8c8e4"/>
<circle cx="501.76" cy="236.35" r="0.71" fill="#b8a0ce"/>
<circle cx="504.81" cy="235.91" r="0.8" fill="#a890c4"/>
<circle cx="506.81" cy="237.16" r="0.72" fill="#c2aad6"/>
<circle cx="509.53" cy="236.02" r="0.78" fill="#e4d6ea"/>
<circle cx="511.87" cy="236.86" r="0.79" fill="#a890c4"/>
<circle cx="513.75" cy="237.25" r="0.9" fill="#c8b2d8"/>
<circle cx="406.35" cy="238.51" r="0.62" fill="#c8b2d8"/>
<circle cx="408.88" cy="238.11" r="0.73" fill="#d8c8e4"/>
<circle cx="409.89" cy="238.09" r="0.75" fill="#e4d6ea"/>
<circle cx="412.69" cy="237.9" r="0.61" fill="#b8a0ce"/>
<circle cx="414.2" cy="238.26" r="0.76" fill="#d6a478"/>
<circle cx="415.64" cy="238.4" r="0.88" fill="#c2aad6"/>
<circle cx="418.56" cy="237.81" r="0.63" fill="#a890c4"/>
<circle cx="438.35" cy="238.68" r="0.93" fill="#b8a0ce"/>
<circle cx="440.27" cy="238.2" r="0.81" fill="#e4d6ea"/>
<circle cx="442.29" cy="238.67" r="0.9" fill="#e4d6ea"/>
<circle cx="451.64" cy="238.82" r="0.72" fill="#d8c8e4"/>
<circle cx="454.75" cy="238.95" r="0.94" fill="#b8a0ce"/>
<circle cx="458.3" cy="237.84" r="0.76" fill="#b8a0ce"/>
<circle cx="459.73" cy="238.82" r="0.81" fill="#c8b2d8"/>
<circle cx="461.91" cy="238.78" r="0.79" fill="#c8b2d8"/>
<circle cx="463.11" cy="238.31" r="0.7" fill="#a890c4"/>
<circle cx="466.05" cy="237.65" r="0.68" fill="#d8c8e4"/>
<circle cx="466.84" cy="238.64" r="0.75" fill="#b8a0ce"/>
<circle cx="469.1" cy="238.61" r="0.87" fill="#d8c8e4"/>
<circle cx="470.8" cy="238.43" r="0.87" fill="#c2aad6"/>
<circle cx="473.97" cy="238.35" r="0.79" fill="#c2aad6"/>
<circle cx="475.35" cy="239.15" r="0.78" fill="#b8a0ce"/>
<circle cx="482.85" cy="237.86" r="0.72" fill="#c8b2d8"/>
<circle cx="484.76" cy="238.15" r="0.62" fill="#a890c4"/>
<circle cx="486.27" cy="237.65" r="0.94" fill="#a890c4"/>
<circle cx="489.67" cy="237.79" r="0.71" fill="#b8a0ce"/>
<circle cx="493.75" cy="238.5" r="0.71" fill="#a890c4"/>
<circle cx="495.79" cy="238.96" r="0.74" fill="#c8b2d8"/>
<circle cx="499.24" cy="238.09" r="0.61" fill="#d8c8e4"/>
<circle cx="502.17" cy="238.34" r="0.92" fill="#b8a0ce"/>
<circle cx="503.84" cy="238.91" r="0.75" fill="#a890c4"/>
<circle cx="506.18" cy="238.33" r="0.8" fill="#c8b2d8"/>
<circle cx="507.34" cy="238.94" r="0.74" fill="#d8c8e4"/>
<circle cx="509.85" cy="237.89" r="0.72" fill="#c2aad6"/>
<circle cx="511.37" cy="238.23" r="0.75" fill="#a890c4"/>
<circle cx="512.97" cy="238.11" r="0.81" fill="#e4d6ea"/>
<circle cx="407.4" cy="239.61" r="0.88" fill="#c2aad6"/>
<circle cx="412.4" cy="239.76" r="0.64" fill="#d8c8e4"/>
<circle cx="414.66" cy="240.17" r="0.67" fill="#d8c8e4"/>
<circle cx="415.6" cy="240.38" r="0.68" fill="#d8c8e4"/>
<circle cx="418.2" cy="240.88" r="0.85" fill="#c8b2d8"/>
<circle cx="439.68" cy="240.43" r="0.82" fill="#d8c8e4"/>
<circle cx="440.39" cy="239.85" r="0.82" fill="#a890c4"/>
<circle cx="452.88" cy="240.6" r="0.86" fill="#b8a0ce"/>
<circle cx="454.91" cy="239.56" r="0.7" fill="#e4d6ea"/>
<circle cx="456.73" cy="240.36" r="0.69" fill="#c8b2d8"/>
<circle cx="460.21" cy="239.69" r="0.65" fill="#c2aad6"/>
<circle cx="463.93" cy="240.22" r="0.8" fill="#d8c8e4"/>
<circle cx="464.84" cy="240.87" r="0.71" fill="#a890c4"/>
<circle cx="467.35" cy="240.3" r="0.91" fill="#e4d6ea"/>
<circle cx="468.68" cy="240.34" r="0.75" fill="#c2aad6"/>
<circle cx="471.83" cy="240.4" r="0.66" fill="#a890c4"/>
<circle cx="473.37" cy="240.8" r="0.77" fill="#b8a0ce"/>
<circle cx="474.52" cy="240.81" r="0.83" fill="#d8c8e4"/>
<circle cx="477.61" cy="239.59" r="0.71" fill="#b8a0ce"/>
<circle cx="478.72" cy="240.22" r="0.68" fill="#e4d6ea"/>
<circle cx="480.53" cy="239.94" r="0.91" fill="#c8b2d8"/>
<circle cx="482.05" cy="240.9" r="0.63" fill="#e4d6ea"/>
<circle cx="484.98" cy="240.07" r="0.93" fill="#c8b2d8"/>
<circle cx="488.09" cy="239.61" r="0.8" fill="#e4d6ea"/>
<circle cx="492.09" cy="240.14" r="0.71" fill="#d8c8e4"/>
<circle cx="496.6" cy="239.86" r="0.85" fill="#b8a0ce"/>
<circle cx="497.85" cy="240.03" r="0.83" fill="#c2aad6"/>
<circle cx="502.41" cy="240.86" r="0.95" fill="#a890c4"/>
<circle cx="503.32" cy="240.14" r="0.86" fill="#b8a0ce"/>
<circle cx="507.76" cy="240.11" r="0.93" fill="#c99466"/>
<circle cx="510.59" cy="240.79" r="0.6" fill="#b8a0ce"/>
<circle cx="408.86" cy="242.64" r="0.72" fill="#e4d6ea"/>
<circle cx="411.14" cy="241.69" r="0.8" fill="#e4d6ea"/>
<circle cx="411.68" cy="241.96" r="0.82" fill="#c98a5a"/>
<circle cx="413.91" cy="241.63" r="0.9" fill="#a890c4"/>
<circle cx="416.18" cy="242.34" r="0.75" fill="#c2aad6"/>
<circle cx="419.67" cy="242.3" r="0.69" fill="#a890c4"/>
<circle cx="438.52" cy="242.65" r="0.95" fill="#c8b2d8"/>
<circle cx="440.26" cy="242.02" r="0.77" fill="#b8a0ce"/>
<circle cx="443.13" cy="242.13" r="0.72" fill="#b8a0ce"/>
<circle cx="450.21" cy="242.44" r="0.84" fill="#a890c4"/>
<circle cx="451.99" cy="241.69" r="0.68" fill="#a890c4"/>
<circle cx="456.02" cy="241.4" r="0.7" fill="#d8c8e4"/>
<circle cx="457.25" cy="241.86" r="0.62" fill="#b8a0ce"/>
<circle cx="459.64" cy="241.79" r="0.84" fill="#c8b2d8"/>
<circle cx="461.52" cy="242.61" r="0.76" fill="#b8a0ce"/>
<circle cx="463.7" cy="241.78" r="0.88" fill="#c8b2d8"/>
<circle cx="465.19" cy="242.97" r="0.91" fill="#e4d6ea"/>
<circle cx="472.44" cy="242.73" r="0.85" fill="#e4d6ea"/>
<circle cx="475.37" cy="242.05" r="0.82" fill="#c2aad6"/>
<circle cx="477.41" cy="242.15" r="0.69" fill="#e4d6ea"/>
<circle cx="479.37" cy="242.81" r="0.75" fill="#c8b2d8"/>
<circle cx="480.03" cy="241.52" r="0.62" fill="#a890c4"/>
<circle cx="482.88" cy="242.42" r="0.74" fill="#c99466"/>
<circle cx="483.84" cy="241.95" r="0.77" fill="#e4d6ea"/>
<circle cx="490.78" cy="242.26" r="0.9" fill="#d8c8e4"/>
<circle cx="497.37" cy="242.12" r="0.88" fill="#b8a0ce"/>
<circle cx="499.72" cy="242.63" r="0.87" fill="#d8c8e4"/>
<circle cx="500.96" cy="241.48" r="0.85" fill="#c2aad6"/>
<circle cx="504.15" cy="242.77" r="0.89" fill="#c98a5a"/>
<circle cx="506.29" cy="242.71" r="0.73" fill="#d8c8e4"/>
<circle cx="512.37" cy="242.56" r="0.82" fill="#c2aad6"/>
<circle cx="406.85" cy="244.09" r="0.83" fill="#a890c4"/>
<circle cx="408.45" cy="244.44" r="0.88" fill="#c2aad6"/>
<circle cx="413.79" cy="243.72" r="0.85" fill="#a890c4"/>
<circle cx="416.02" cy="244.43" r="0.91" fill="#c8b2d8"/>
<circle cx="418.18" cy="244.19" r="0.89" fill="#e4d6ea"/>
<circle cx="443.05" cy="244.23" r="0.9" fill="#b8a0ce"/>
<circle cx="445.03" cy="244.43" r="0.65" fill="#c8b2d8"/>
<circle cx="446.25" cy="243.93" r="0.7" fill="#e4d6ea"/>
<circle cx="450.17" cy="244.68" r="0.73" fill="#a890c4"/>
<circle cx="452.47" cy="243.7" r="0.8" fill="#e4d6ea"/>
<circle cx="454.29" cy="244.48" r="0.9" fill="#c8b2d8"/>
<circle cx="456.71" cy="244.38" r="0.79" fill="#d8c8e4"/>
<circle cx="459.68" cy="244.16" r="0.7" fill="#c8b2d8"/>
<circle cx="462.28" cy="243.5" r="0.63" fill="#e4d6ea"/>
<circle cx="464.09" cy="244.58" r="0.61" fill="#e4d6ea"/>
<circle cx="466.14" cy="243.98" r="0.88" fill="#e4d6ea"/>
<circle cx="468.26" cy="244.15" r="0.72" fill="#c8b2d8"/>
<circle cx="469.54" cy="244.24" r="0.92" fill="#c8b2d8"/>
<circle cx="471.69" cy="244.67" r="0.74" fill="#e4d6ea"/>
<circle cx="477.13" cy="243.72" r="0.67" fill="#a890c4"/>
<circle cx="478.42" cy="243.72" r="0.72" fill="#c2aad6"/>
<circle cx="480.6" cy="243.93" r="0.81" fill="#c8b2d8"/>
<circle cx="483.42" cy="244.37" r="0.84" fill="#d6a478"/>
<circle cx="486.79" cy="243.69" r="0.76" fill="#d6a478"/>
<circle cx="488.04" cy="243.55" r="0.69" fill="#d8c8e4"/>
<circle cx="490.27" cy="243.94" r="0.73" fill="#c8b2d8"/>
<circle cx="491.41" cy="244.23" r="0.85" fill="#c2aad6"/>
<circle cx="494.88" cy="244.42" r="0.91" fill="#c8b2d8"/>
<circle cx="496.17" cy="243.33" r="0.85" fill="#e4d6ea"/>
<circle cx="498.46" cy="244.41" r="0.92" fill="#b8a0ce"/>
<circle cx="499.15" cy="244.37" r="0.95" fill="#d8c8e4"/>
<circle cx="502.11" cy="243.84" r="0.64" fill="#b8a0ce"/>
<circle cx="503.05" cy="243.87" r="0.67" fill="#a890c4"/>
<circle cx="505.2" cy="244.28" r="0.62" fill="#a890c4"/>
<circle cx="507.52" cy="243.42" r="1" fill="#c98a5a"/>
<circle cx="509.23" cy="244.68" r="0.95" fill="#a890c4"/>
<circle cx="410" cy="246.53" r="0.6" fill="#c2aad6"/>
<circle cx="411.6" cy="246.73" r="0.68" fill="#b8a0ce"/>
<circle cx="414.5" cy="245.22" r="0.81" fill="#a890c4"/>
<circle cx="438.86" cy="245.98" r="0.75" fill="#b8a0ce"/>
<circle cx="443.2" cy="245.34" r="0.86" fill="#e4d6ea"/>
<circle cx="444.85" cy="245.33" r="0.78" fill="#d8c8e4"/>
<circle cx="447" cy="246.08" r="0.7" fill="#c2aad6"/>
<circle cx="447.72" cy="246.21" r="0.72" fill="#c8b2d8"/>
<circle cx="452.93" cy="245.79" r="0.84" fill="#a890c4"/>
<circle cx="453.64" cy="246.22" r="0.93" fill="#e4d6ea"/>
<circle cx="456.16" cy="245.4" r="0.7" fill="#b8a0ce"/>
<circle cx="459.11" cy="246.62" r="0.7" fill="#c8b2d8"/>
<circle cx="465.39" cy="246.51" r="0.72" fill="#c2aad6"/>
<circle cx="466.79" cy="246.67" r="0.61" fill="#b8a0ce"/>
<circle cx="469.63" cy="246.8" r="0.63" fill="#e4d6ea"/>
<circle cx="473.91" cy="245.67" r="0.72" fill="#c8b2d8"/>
<circle cx="475.54" cy="245.83" r="0.93" fill="#b8a0ce"/>
<circle cx="479.07" cy="245.9" r="0.84" fill="#e4d6ea"/>
<circle cx="481.37" cy="245.74" r="0.8" fill="#d8c8e4"/>
<circle cx="482.7" cy="245.82" r="0.81" fill="#a890c4"/>
<circle cx="486.14" cy="245.3" r="0.69" fill="#e4d6ea"/>
<circle cx="487.96" cy="245.66" r="0.97" fill="#d6a478"/>
<circle cx="490.25" cy="246.08" r="0.62" fill="#e4d6ea"/>
<circle cx="499.59" cy="246.18" r="0.76" fill="#c8b2d8"/>
<circle cx="501.94" cy="245.55" r="0.73" fill="#a890c4"/>
<circle cx="503.66" cy="246.67" r="0.61" fill="#a890c4"/>
<circle cx="506.21" cy="246.61" r="0.85" fill="#a890c4"/>
<circle cx="508.84" cy="246.57" r="0.75" fill="#d8c8e4"/>
<circle cx="511.31" cy="245.84" r="0.7" fill="#b8a0ce"/>
<circle cx="513.36" cy="245.42" r="0.87" fill="#c8b2d8"/>
<circle cx="406.11" cy="247.93" r="0.84" fill="#a890c4"/>
<circle cx="409.35" cy="248.31" r="0.72" fill="#d8c8e4"/>
<circle cx="412.27" cy="247.72" r="0.69" fill="#c2aad6"/>
<circle cx="413.68" cy="248.49" r="0.78" fill="#b8a0ce"/>
<circle cx="439.42" cy="247.41" r="0.87" fill="#d6a478"/>
<circle cx="441.52" cy="248.54" r="0.82" fill="#d8c8e4"/>
<circle cx="442.44" cy="247.94" r="0.77" fill="#c8b2d8"/>
<circle cx="445.03" cy="248.16" r="0.8" fill="#c2aad6"/>
<circle cx="448.47" cy="248.43" r="0.91" fill="#a890c4"/>
<circle cx="450.18" cy="247.68" r="0.79" fill="#c8b2d8"/>
<circle cx="456.19" cy="247.69" r="0.77" fill="#c2aad6"/>
<circle cx="457.64" cy="248.28" r="0.78" fill="#e4d6ea"/>
<circle cx="459.33" cy="247.93" r="0.71" fill="#b8a0ce"/>
<circle cx="461.87" cy="248.46" r="0.75" fill="#c8b2d8"/>
<circle cx="467.39" cy="248.64" r="0.67" fill="#e4d6ea"/>
<circle cx="468.68" cy="248.06" r="0.6" fill="#b8a0ce"/>
<circle cx="470.75" cy="247.9" r="0.74" fill="#a890c4"/>
<circle cx="472.7" cy="247.96" r="0.67" fill="#e4d6ea"/>
<circle cx="474.58" cy="247.2" r="0.71" fill="#c8b2d8"/>
<circle cx="476.59" cy="248.15" r="0.81" fill="#e4d6ea"/>
<circle cx="479.18" cy="247.82" r="0.75" fill="#d8c8e4"/>
<circle cx="480.79" cy="247.89" r="0.71" fill="#a890c4"/>
<circle cx="482.03" cy="248.58" r="0.62" fill="#b8a0ce"/>
<circle cx="484.84" cy="247.55" r="0.7" fill="#c2aad6"/>
<circle cx="486.92" cy="247.93" r="0.9" fill="#a890c4"/>
<circle cx="488.08" cy="248.09" r="0.62" fill="#e4d6ea"/>
<circle cx="490.85" cy="247.64" r="0.71" fill="#c98a5a"/>
<circle cx="494.76" cy="248.1" r="0.82" fill="#b8a0ce"/>
<circle cx="498.31" cy="248.37" r="0.89" fill="#e4d6ea"/>
<circle cx="500.5" cy="248.69" r="0.94" fill="#b8a0ce"/>
<circle cx="503.57" cy="247.88" r="0.73" fill="#b8a0ce"/>
<circle cx="505.91" cy="247.37" r="0.71" fill="#d8c8e4"/>
<circle cx="507.45" cy="248.15" r="0.86" fill="#c2aad6"/>
<circle cx="509.57" cy="248.68" r="0.75" fill="#d8c8e4"/>
<circle cx="511.26" cy="247.14" r="0.73" fill="#d8c8e4"/>
<circle cx="513.06" cy="248.44" r="0.87" fill="#c8b2d8"/>
<circle cx="410.77" cy="249.63" r="0.7" fill="#a890c4"/>
<circle cx="413.06" cy="249.06" r="0.93" fill="#e4d6ea"/>
<circle cx="430.15" cy="250.25" r="0.92" fill="#d8c8e4"/>
<circle cx="433.99" cy="249.72" r="0.91" fill="#c2aad6"/>
<circle cx="435.12" cy="249.5" r="0.69" fill="#c2aad6"/>
<circle cx="436.47" cy="250.35" r="0.64" fill="#a890c4"/>
<circle cx="439.69" cy="249.57" r="0.63" fill="#c2aad6"/>
<circle cx="441.09" cy="250.44" r="0.84" fill="#b8a0ce"/>
<circle cx="442.22" cy="249.24" r="0.79" fill="#e4d6ea"/>
<circle cx="445.18" cy="249.63" r="0.93" fill="#e4d6ea"/>
<circle cx="447.03" cy="250.26" r="0.76" fill="#c8b2d8"/>
<circle cx="450.16" cy="249.34" r="0.92" fill="#c8b2d8"/>
<circle cx="451.93" cy="249.3" r="0.76" fill="#d8c8e4"/>
<circle cx="453.77" cy="249.46" r="0.86" fill="#c8b2d8"/>
<circle cx="456.48" cy="249.21" r="0.6" fill="#a890c4"/>
<circle cx="459.29" cy="250.3" r="0.75" fill="#c8b2d8"/>
<circle cx="462.5" cy="249.82" r="0.79" fill="#d8c8e4"/>
<circle cx="464.05" cy="250.41" r="0.94" fill="#b8a0ce"/>
<circle cx="465.61" cy="249.19" r="0.77" fill="#b8a0ce"/>
<circle cx="468.23" cy="249.78" r="0.81" fill="#d8c8e4"/>
<circle cx="470.04" cy="250.59" r="0.63" fill="#a890c4"/>
<circle cx="471.13" cy="249.69" r="0.92" fill="#b8a0ce"/>
<circle cx="474.36" cy="249.29" r="0.78" fill="#e4d6ea"/>
<circle cx="476.98" cy="249.68" r="0.95" fill="#d8c8e4"/>
<circle cx="481.24" cy="249.11" r="0.67" fill="#c2aad6"/>
<circle cx="483.15" cy="249.78" r="0.8" fill="#a890c4"/>
<circle cx="490.39" cy="249.95" r="0.81" fill="#c2aad6"/>
<circle cx="491.66" cy="250.53" r="0.87" fill="#d8c8e4"/>
<circle cx="496.22" cy="250.01" r="0.65" fill="#c8b2d8"/>
<circle cx="498.01" cy="250.32" r="0.88" fill="#a890c4"/>
<circle cx="499.91" cy="250.1" r="0.63" fill="#c2aad6"/>
<circle cx="502.46" cy="249.08" r="0.66" fill="#e4d6ea"/>
<circle cx="503.17" cy="249.03" r="0.65" fill="#d8c8e4"/>
<circle cx="505.38" cy="249.69" r="0.92" fill="#c2aad6"/>
<circle cx="507.02" cy="250.49" r="0.79" fill="#a890c4"/>
<circle cx="511.9" cy="250.11" r="0.63" fill="#a890c4"/>
<circle cx="513.45" cy="249.71" r="0.82" fill="#c99466"/>
<circle cx="407.06" cy="252" r="0.63" fill="#a890c4"/>
<circle cx="408.83" cy="251.5" r="0.75" fill="#d8c8e4"/>
<circle cx="412.54" cy="251.1" r="0.74" fill="#b8a0ce"/>
<circle cx="428.18" cy="252.08" r="0.85" fill="#c2aad6"/>
<circle cx="429.72" cy="252.48" r="0.9" fill="#e4d6ea"/>
<circle cx="434.49" cy="251.81" r="0.71" fill="#a890c4"/>
<circle cx="436.85" cy="252.46" r="0.99" fill="#c98a5a"/>
<circle cx="441.07" cy="252.13" r="0.89" fill="#c8b2d8"/>
<circle cx="442.74" cy="251.55" r="0.9" fill="#e4d6ea"/>
<circle cx="445.14" cy="251.38" r="0.82" fill="#c8b2d8"/>
<circle cx="445.93" cy="252.28" r="0.95" fill="#c8b2d8"/>
<circle cx="448.54" cy="251.65" r="0.88" fill="#c8b2d8"/>
<circle cx="450.72" cy="250.94" r="0.9" fill="#c8b2d8"/>
<circle cx="454.98" cy="251.16" r="0.79" fill="#b8a0ce"/>
<circle cx="456.59" cy="251.59" r="0.7" fill="#d8c8e4"/>
<circle cx="457.33" cy="251.57" r="0.69" fill="#e4d6ea"/>
<circle cx="460.49" cy="252.16" r="0.67" fill="#d8c8e4"/>
<circle cx="461.8" cy="251.86" r="0.6" fill="#e4d6ea"/>
<circle cx="463.25" cy="252.26" r="0.83" fill="#e4d6ea"/>
<circle cx="466.07" cy="251.12" r="0.85" fill="#e4d6ea"/>
<circle cx="467.57" cy="252.08" r="0.92" fill="#a890c4"/>
<circle cx="470.97" cy="252.05" r="0.92" fill="#d8c8e4"/>
<circle cx="473.48" cy="251.42" r="0.62" fill="#c8b2d8"/>
<circle cx="478.24" cy="251.06" r="0.72" fill="#e4d6ea"/>
<circle cx="481.53" cy="251.31" r="0.93" fill="#c8b2d8"/>
<circle cx="484.22" cy="250.95" r="0.8" fill="#d8c8e4"/>
<circle cx="485.79" cy="251.39" r="0.91" fill="#b8a0ce"/>
<circle cx="492.49" cy="252.04" r="0.71" fill="#a890c4"/>
<circle cx="494.89" cy="251" r="0.82" fill="#d8c8e4"/>
<circle cx="495.45" cy="251.01" r="0.84" fill="#d8c8e4"/>
<circle cx="498.1" cy="251.43" r="0.77" fill="#d8c8e4"/>
<circle cx="499.06" cy="251.13" r="0.89" fill="#e4d6ea"/>
<circle cx="507.52" cy="251.01" r="0.7" fill="#c8b2d8"/>
<circle cx="509.52" cy="252.29" r="0.85" fill="#a890c4"/>
<circle cx="510.74" cy="252.13" r="0.84" fill="#a890c4"/>
<circle cx="512.74" cy="251.17" r="0.83" fill="#c8b2d8"/>
<circle cx="406.83" cy="253.33" r="0.68" fill="#e4d6ea"/>
<circle cx="407.98" cy="253.5" r="0.94" fill="#d8c8e4"/>
<circle cx="410.99" cy="253.95" r="0.65" fill="#c2aad6"/>
<circle cx="428.14" cy="254.31" r="0.63" fill="#c2aad6"/>
<circle cx="430.29" cy="253.72" r="0.74" fill="#d8c8e4"/>
<circle cx="431.09" cy="253.1" r="0.69" fill="#c2aad6"/>
<circle cx="433.78" cy="253.13" r="0.67" fill="#a890c4"/>
<circle cx="435.13" cy="254.04" r="0.8" fill="#c8b2d8"/>
<circle cx="437.14" cy="254.09" r="0.82" fill="#c8b2d8"/>
<circle cx="441.23" cy="253.47" r="0.66" fill="#c2aad6"/>
<circle cx="442.97" cy="254.38" r="0.71" fill="#b8a0ce"/>
<circle cx="446.98" cy="254.35" r="0.61" fill="#e4d6ea"/>
<circle cx="447.8" cy="253.33" r="0.62" fill="#e4d6ea"/>
<circle cx="451.59" cy="253.35" r="0.74" fill="#d8c8e4"/>
<circle cx="456.79" cy="254.04" r="0.65" fill="#e4d6ea"/>
<circle cx="457.3" cy="252.82" r="0.7" fill="#c2aad6"/>
<circle cx="462.41" cy="253.58" r="0.9" fill="#e4d6ea"/>
<circle cx="465.17" cy="253.59" r="0.74" fill="#c2aad6"/>
<circle cx="466.75" cy="253" r="0.9" fill="#c2aad6"/>
<circle cx="469.23" cy="253.02" r="0.72" fill="#b8a0ce"/>
<circle cx="471.62" cy="253.04" r="0.64" fill="#e4d6ea"/>
<circle cx="474.47" cy="254.16" r="0.88" fill="#c2aad6"/>
<circle cx="477.65" cy="253.18" r="0.68" fill="#c8b2d8"/>
<circle cx="490.03" cy="253.41" r="0.91" fill="#d8c8e4"/>
<circle cx="491.6" cy="253.23" r="0.7" fill="#e4d6ea"/>
<circle cx="494.5" cy="253.88" r="0.64" fill="#b8a0ce"/>
<circle cx="495.7" cy="253.23" r="0.79" fill="#e4d6ea"/>
<circle cx="507.77" cy="252.97" r="0.93" fill="#c2aad6"/>
<circle cx="508.69" cy="253.03" r="0.62" fill="#c2aad6"/>
<circle cx="410.95" cy="256.04" r="0.88" fill="#d8c8e4"/>
<circle cx="411.77" cy="256.06" r="0.64" fill="#b8a0ce"/>
<circle cx="429.31" cy="255.53" r="0.91" fill="#c8b2d8"/>
<circle cx="435.68" cy="256.15" r="0.85" fill="#b8a0ce"/>
<circle cx="436.3" cy="254.98" r="0.69" fill="#b8a0ce"/>
<circle cx="439.75" cy="255.81" r="0.73" fill="#e4d6ea"/>
<circle cx="449.15" cy="255.21" r="0.78" fill="#c8b2d8"/>
<circle cx="450.35" cy="255.61" r="0.66" fill="#b8a0ce"/>
<circle cx="452.22" cy="256.19" r="0.71" fill="#c2aad6"/>
<circle cx="453.64" cy="254.99" r="0.77" fill="#e4d6ea"/>
<circle cx="456.54" cy="255.05" r="0.69" fill="#e4d6ea"/>
<circle cx="460.43" cy="254.82" r="0.84" fill="#c8b2d8"/>
<circle cx="463.13" cy="256.12" r="0.64" fill="#c8b2d8"/>
<circle cx="465.9" cy="256.03" r="0.8" fill="#b8a0ce"/>
<circle cx="467.19" cy="255.09" r="0.71" fill="#a890c4"/>
<circle cx="469.53" cy="255.03" r="0.6" fill="#c8b2d8"/>
<circle cx="472.76" cy="256.09" r="0.75" fill="#c8b2d8"/>
<circle cx="477.64" cy="255.77" r="0.74" fill="#c2aad6"/>
<circle cx="492.99" cy="256.11" r="0.86" fill="#a890c4"/>
<circle cx="494.14" cy="256.21" r="0.61" fill="#a890c4"/>
<circle cx="497.81" cy="255.22" r="0.64" fill="#a890c4"/>
<circle cx="505.82" cy="256.29" r="0.64" fill="#d8c8e4"/>
<circle cx="507.91" cy="256.05" r="0.86" fill="#d8c8e4"/>
<circle cx="510.06" cy="254.92" r="0.81" fill="#b8a0ce"/>
<circle cx="511.55" cy="255.34" r="0.6" fill="#c2aad6"/>
<circle cx="513.18" cy="255.27" r="0.94" fill="#b8a0ce"/>
<circle cx="407.02" cy="257.26" r="0.8" fill="#a890c4"/>
<circle cx="409.17" cy="257.65" r="0.64" fill="#e4d6ea"/>
<circle cx="411.08" cy="257.56" r="0.97" fill="#c98a5a"/>
<circle cx="412.42" cy="257.52" r="0.65" fill="#a890c4"/>
<circle cx="413.9" cy="257.58" r="0.77" fill="#d8c8e4"/>
<circle cx="435.37" cy="256.79" r="0.6" fill="#c2aad6"/>
<circle cx="438.21" cy="258.16" r="0.83" fill="#a890c4"/>
<circle cx="441.18" cy="257.49" r="0.77" fill="#d6a478"/>
<circle cx="442.45" cy="257.49" r="0.92" fill="#e4d6ea"/>
<circle cx="444.79" cy="256.94" r="0.62" fill="#e4d6ea"/>
<circle cx="446.58" cy="257.38" r="0.65" fill="#b8a0ce"/>
<circle cx="448.92" cy="256.78" r="0.82" fill="#c2aad6"/>
<circle cx="449.66" cy="257.89" r="0.73" fill="#e4d6ea"/>
<circle cx="452.71" cy="257.27" r="0.88" fill="#c2aad6"/>
<circle cx="460.51" cy="258.03" r="0.75" fill="#a890c4"/>
<circle cx="461.76" cy="257.02" r="0.79" fill="#d8c8e4"/>
<circle cx="463.38" cy="257.01" r="0.83" fill="#c2aad6"/>
<circle cx="466.98" cy="257.04" r="0.84" fill="#d8c8e4"/>
<circle cx="468.92" cy="257.56" r="0.71" fill="#d8c8e4"/>
<circle cx="494.59" cy="258.15" r="0.8" fill="#c2aad6"/>
<circle cx="497.89" cy="257.03" r="0.83" fill="#d8c8e4"/>
<circle cx="505.83" cy="256.7" r="0.8" fill="#c8b2d8"/>
<circle cx="507.47" cy="258.16" r="0.61" fill="#d8c8e4"/>
<circle cx="509.03" cy="257.86" r="0.78" fill="#c2aad6"/>
<circle cx="512.81" cy="257.5" r="0.95" fill="#c8b2d8"/>
<circle cx="407.04" cy="259" r="0.87" fill="#d8c8e4"/>
<circle cx="409.39" cy="259.12" r="0.78" fill="#c8b2d8"/>
<circle cx="412.81" cy="259.78" r="0.8" fill="#c2aad6"/>
<circle cx="427.8" cy="259.42" r="0.76" fill="#d8c8e4"/>
<circle cx="429.03" cy="258.6" r="0.82" fill="#d8c8e4"/>
<circle cx="431.27" cy="258.59" r="0.75" fill="#a890c4"/>
<circle cx="435.46" cy="259.89" r="0.77" fill="#c8b2d8"/>
<circle cx="436.4" cy="259.77" r="0.87" fill="#c8b2d8"/>
<circle cx="440.73" cy="259.41" r="0.65" fill="#c2aad6"/>
<circle cx="444.9" cy="259.01" r="0.82" fill="#d6a478"/>
<circle cx="446.92" cy="258.5" r="0.94" fill="#e4d6ea"/>
<circle cx="448.31" cy="258.69" r="0.91" fill="#c8b2d8"/>
<circle cx="451.65" cy="258.55" r="0.65" fill="#e4d6ea"/>
<circle cx="455.77" cy="259.03" r="0.91" fill="#a890c4"/>
<circle cx="464.44" cy="259.51" r="0.88" fill="#c2aad6"/>
<circle cx="466.21" cy="259.86" r="0.83" fill="#d6a478"/>
<circle cx="469.85" cy="259.92" r="0.86" fill="#c2aad6"/>
<circle cx="471.85" cy="259.06" r="0.94" fill="#e4d6ea"/>
<circle cx="474.99" cy="258.82" r="0.64" fill="#b8a0ce"/>
<circle cx="476.53" cy="258.69" r="0.67" fill="#b8a0ce"/>
<circle cx="493.78" cy="259.62" r="0.76" fill="#c2aad6"/>
<circle cx="495.69" cy="258.65" r="0.79" fill="#c8b2d8"/>
<circle cx="498.15" cy="259.52" r="0.74" fill="#b8a0ce"/>
<circle cx="499.27" cy="258.72" r="0.86" fill="#c2aad6"/>
<circle cx="505.41" cy="259.72" r="0.66" fill="#e4d6ea"/>
<circle cx="508.02" cy="260.02" r="0.92" fill="#c8b2d8"/>
<circle cx="509.52" cy="258.51" r="0.8" fill="#e4d6ea"/>
<circle cx="513.16" cy="259.13" r="0.85" fill="#b8a0ce"/>
<circle cx="410.06" cy="261.66" r="0.75" fill="#c2aad6"/>
<circle cx="413.07" cy="261.77" r="0.71" fill="#b8a0ce"/>
<circle cx="415.9" cy="261.2" r="0.87" fill="#c8b2d8"/>
<circle cx="417.79" cy="261.97" r="0.67" fill="#b8a0ce"/>
<circle cx="421.61" cy="261.39" r="0.76" fill="#c8b2d8"/>
<circle cx="424.33" cy="261.4" r="0.79" fill="#b8a0ce"/>
<circle cx="425.3" cy="260.96" r="0.71" fill="#c8b2d8"/>
<circle cx="428.14" cy="261.67" r="0.91" fill="#b8a0ce"/>
<circle cx="430.09" cy="261.32" r="0.88" fill="#d8c8e4"/>
<circle cx="437.31" cy="261.13" r="0.61" fill="#c2aad6"/>
<circle cx="439.06" cy="261.04" r="0.89" fill="#c2aad6"/>
<circle cx="441.65" cy="260.43" r="0.8" fill="#e4d6ea"/>
<circle cx="442.1" cy="260.44" r="0.6" fill="#c2aad6"/>
<circle cx="443.9" cy="261.57" r="0.63" fill="#d8c8e4"/>
<circle cx="447.01" cy="261.71" r="0.64" fill="#a890c4"/>
<circle cx="454.73" cy="260.64" r="0.61" fill="#e4d6ea"/>
<circle cx="456.07" cy="260.72" r="0.82" fill="#a890c4"/>
<circle cx="457.79" cy="260.86" r="0.88" fill="#c8b2d8"/>
<circle cx="459.82" cy="261.88" r="0.73" fill="#a890c4"/>
<circle cx="463.41" cy="261.33" r="0.79" fill="#d8c8e4"/>
<circle cx="467.29" cy="260.97" r="0.64" fill="#a890c4"/>
<circle cx="471.39" cy="261.08" r="0.92" fill="#d8c8e4"/>
<circle cx="474.44" cy="261.5" r="0.73" fill="#c8b2d8"/>
<circle cx="495.81" cy="261" r="0.94" fill="#e4d6ea"/>
<circle cx="500.3" cy="261.42" r="0.71" fill="#c2aad6"/>
<circle cx="501.91" cy="260.43" r="0.73" fill="#c2aad6"/>
<circle cx="505.64" cy="260.97" r="0.91" fill="#a890c4"/>
<circle cx="507.03" cy="260.94" r="0.84" fill="#b8a0ce"/>
<circle cx="509.76" cy="261.85" r="0.93" fill="#a890c4"/>
<circle cx="510.43" cy="260.73" r="0.69" fill="#a890c4"/>
<circle cx="407.48" cy="262.91" r="0.87" fill="#d8c8e4"/>
<circle cx="408.66" cy="262.38" r="0.93" fill="#a890c4"/>
<circle cx="410.82" cy="262.36" r="0.78" fill="#e4d6ea"/>
<circle cx="411.78" cy="262.67" r="0.69" fill="#c8b2d8"/>
<circle cx="415.89" cy="262.93" r="0.65" fill="#b8a0ce"/>
<circle cx="420.01" cy="263.2" r="0.76" fill="#b8a0ce"/>
<circle cx="422.65" cy="262.85" r="0.75" fill="#d8c8e4"/>
<circle cx="424.26" cy="263.77" r="0.93" fill="#e4d6ea"/>
<circle cx="425.43" cy="262.33" r="0.73" fill="#d8c8e4"/>
<circle cx="430.14" cy="262.79" r="0.68" fill="#c2aad6"/>
<circle cx="432.13" cy="263.41" r="0.69" fill="#e4d6ea"/>
<circle cx="432.9" cy="262.86" r="0.81" fill="#e4d6ea"/>
<circle cx="436.88" cy="263.15" r="0.72" fill="#c8b2d8"/>
<circle cx="441.15" cy="262.4" r="0.84" fill="#a890c4"/>
<circle cx="442.91" cy="262.77" r="0.77" fill="#d8c8e4"/>
<circle cx="443.91" cy="262.76" r="0.66" fill="#a890c4"/>
<circle cx="447.34" cy="262.77" r="0.64" fill="#b8a0ce"/>
<circle cx="450.54" cy="263.39" r="0.64" fill="#d8c8e4"/>
<circle cx="452.33" cy="262.34" r="0.66" fill="#c2aad6"/>
<circle cx="455.58" cy="263.24" r="0.83" fill="#e4d6ea"/>
<circle cx="458.17" cy="263.23" r="0.86" fill="#a890c4"/>
<circle cx="459.44" cy="263.05" r="0.82" fill="#e4d6ea"/>
<circle cx="461.78" cy="263.04" r="0.94" fill="#c98a5a"/>
<circle cx="463.4" cy="263" r="0.71" fill="#c8b2d8"/>
<circle cx="465.63" cy="263.09" r="0.65" fill="#b8a0ce"/>
<circle cx="467.32" cy="263.53" r="0.62" fill="#c2aad6"/>
<circle cx="468.81" cy="263.13" r="0.81" fill="#c2aad6"/>
<circle cx="471.64" cy="263.85" r="0.91" fill="#e4d6ea"/>
<circle cx="472.69" cy="262.99" r="0.69" fill="#e4d6ea"/>
<circle cx="494.68" cy="263.55" r="0.69" fill="#e4d6ea"/>
<circle cx="495.47" cy="262.75" r="0.72" fill="#b8a0ce"/>
<circle cx="504.37" cy="262.49" r="0.89" fill="#a890c4"/>
<circle cx="505.82" cy="262.68" r="0.94" fill="#c2aad6"/>
<circle cx="508.72" cy="262.68" r="0.81" fill="#e4d6ea"/>
<circle cx="511.69" cy="263.75" r="0.68" fill="#e4d6ea"/>
<circle cx="406.53" cy="264.85" r="0.61" fill="#d8c8e4"/>
<circle cx="409.06" cy="265.14" r="0.71" fill="#b8a0ce"/>
<circle cx="410.77" cy="265.55" r="0.79" fill="#c8b2d8"/>
<circle cx="414.29" cy="264.87" r="0.81" fill="#c8b2d8"/>
<circle cx="415.88" cy="264.95" r="0.83" fill="#d6a478"/>
<circle cx="423.42" cy="265.14" r="0.74" fill="#d8c8e4"/>
<circle cx="425.48" cy="264.9" r="0.67" fill="#e4d6ea"/>
<circle cx="427.05" cy="264.68" r="0.83" fill="#c8b2d8"/>
<circle cx="430.06" cy="264.97" r="0.74" fill="#c2aad6"/>
<circle cx="431.87" cy="264.4" r="0.7" fill="#d8c8e4"/>
<circle cx="433.84" cy="264.75" r="0.73" fill="#d6a478"/>
<circle cx="436.35" cy="264.55" r="0.8" fill="#c8b2d8"/>
<circle cx="439.63" cy="265.39" r="0.76" fill="#d6a478"/>
<circle cx="440.87" cy="265.13" r="0.93" fill="#c2aad6"/>
<circle cx="447.22" cy="265.72" r="0.61" fill="#c8b2d8"/>
<circle cx="449.29" cy="264.87" r="0.68" fill="#e4d6ea"/>
<circle cx="451.98" cy="264.66" r="0.89" fill="#d8c8e4"/>
<circle cx="453.58" cy="265.26" r="0.72" fill="#a890c4"/>
<circle cx="456.74" cy="264.29" r="0.81" fill="#c2aad6"/>
<circle cx="457.52" cy="264.31" r="0.91" fill="#c2aad6"/>
<circle cx="465.13" cy="264.39" r="0.81" fill="#c99466"/>
<circle cx="467.97" cy="264.75" r="0.81" fill="#e4d6ea"/>
<circle cx="472.74" cy="265.2" r="0.92" fill="#b8a0ce"/>
<circle cx="475.24" cy="264.71" r="0.92" fill="#e4d6ea"/>
<circle cx="476.6" cy="265.79" r="0.63" fill="#c2aad6"/>
<circle cx="479.46" cy="265.19" r="0.81" fill="#c8b2d8"/>
<circle cx="492.54" cy="264.67" r="0.69" fill="#e4d6ea"/>
<circle cx="493.93" cy="264.37" r="0.72" fill="#e4d6ea"/>
<circle cx="497.25" cy="265.2" r="0.82" fill="#a890c4"/>
<circle cx="499.36" cy="265.32" r="0.86" fill="#c2aad6"/>
<circle cx="501.93" cy="265.07" r="0.86" fill="#a890c4"/>
<circle cx="503.07" cy="264.52" r="0.62" fill="#a890c4"/>
<circle cx="506.26" cy="265.56" r="0.71" fill="#e4d6ea"/>
<circle cx="507.6" cy="265.44" r="0.76" fill="#e4d6ea"/>
<circle cx="510.02" cy="265.43" r="0.84" fill="#d8c8e4"/>
<circle cx="510.56" cy="264.68" r="0.78" fill="#a890c4"/>
<circle cx="512.89" cy="265.52" r="0.74" fill="#a890c4"/>
<circle cx="406.23" cy="266.4" r="0.72" fill="#d8c8e4"/>
<circle cx="409.3" cy="266.23" r="0.87" fill="#d8c8e4"/>
<circle cx="410.5" cy="266.14" r="0.82" fill="#c2aad6"/>
<circle cx="411.98" cy="266.53" r="0.83" fill="#c8b2d8"/>
<circle cx="416.72" cy="267.42" r="0.86" fill="#a890c4"/>
<circle cx="419.41" cy="267.06" r="0.88" fill="#b8a0ce"/>
<circle cx="421.82" cy="266.56" r="0.66" fill="#c2aad6"/>
<circle cx="425.79" cy="267.58" r="0.83" fill="#c2aad6"/>
<circle cx="428.78" cy="267.53" r="0.91" fill="#d8c8e4"/>
<circle cx="444.46" cy="266.42" r="0.76" fill="#d8c8e4"/>
<circle cx="449.11" cy="266.2" r="0.6" fill="#b8a0ce"/>
<circle cx="452.9" cy="267.1" r="0.76" fill="#d8c8e4"/>
<circle cx="453.44" cy="266.2" r="0.93" fill="#b8a0ce"/>
<circle cx="468.62" cy="266.78" r="0.63" fill="#c8b2d8"/>
<circle cx="470.56" cy="266.62" r="0.79" fill="#c99466"/>
<circle cx="475.14" cy="266.65" r="0.85" fill="#c8b2d8"/>
<circle cx="477.6" cy="266.83" r="0.87" fill="#b8a0ce"/>
<circle cx="479.22" cy="267.01" r="0.7" fill="#a890c4"/>
<circle cx="481.24" cy="267.5" r="0.74" fill="#e4d6ea"/>
<circle cx="490.4" cy="266.63" r="0.67" fill="#c8b2d8"/>
<circle cx="492.84" cy="266.13" r="0.82" fill="#e4d6ea"/>
<circle cx="494.2" cy="266.34" r="0.86" fill="#d8c8e4"/>
<circle cx="496.61" cy="266.65" r="0.76" fill="#c2aad6"/>
<circle cx="497.63" cy="266.57" r="0.63" fill="#a890c4"/>
<circle cx="499.35" cy="266.51" r="0.69" fill="#e4d6ea"/>
<circle cx="502.96" cy="266.52" r="0.8" fill="#d6a478"/>
<circle cx="505.54" cy="266.56" r="0.6" fill="#b8a0ce"/>
<circle cx="509.32" cy="266.36" r="0.8" fill="#c8b2d8"/>
<circle cx="510.57" cy="266.39" r="0.84" fill="#e4d6ea"/>
<circle cx="406.22" cy="268.13" r="0.61" fill="#a890c4"/>
<circle cx="408.96" cy="269.01" r="0.68" fill="#b8a0ce"/>
<circle cx="410.98" cy="268.33" r="0.9" fill="#a890c4"/>
<circle cx="415.76" cy="268.02" r="0.66" fill="#c8b2d8"/>
<circle cx="421.55" cy="268.26" r="0.83" fill="#e4d6ea"/>
<circle cx="423.4" cy="268.36" r="0.91" fill="#d8c8e4"/>
<circle cx="425.16" cy="269.58" r="0.93" fill="#c98a5a"/>
<circle cx="427.32" cy="269.27" r="0.9" fill="#e4d6ea"/>
<circle cx="429" cy="268.05" r="0.67" fill="#a890c4"/>
<circle cx="433.2" cy="269.34" r="0.61" fill="#c8b2d8"/>
<circle cx="434.77" cy="268.54" r="0.89" fill="#c98a5a"/>
<circle cx="436.64" cy="268.27" r="0.72" fill="#a890c4"/>
<circle cx="445.39" cy="269.31" r="0.65" fill="#d8c8e4"/>
<circle cx="452.72" cy="269.1" r="0.88" fill="#c8b2d8"/>
<circle cx="453.64" cy="268.33" r="0.68" fill="#a890c4"/>
<circle cx="470.14" cy="268.04" r="0.86" fill="#b8a0ce"/>
<circle cx="471.85" cy="268.7" r="0.73" fill="#e4d6ea"/>
<circle cx="474" cy="268.68" r="0.75" fill="#e4d6ea"/>
<circle cx="474.35" cy="269.48" r="0.6" fill="#a890c4"/>
<circle cx="477.46" cy="269.37" r="0.62" fill="#c8b2d8"/>
<circle cx="480.13" cy="269.45" r="0.81" fill="#c2aad6"/>
<circle cx="484.1" cy="268.22" r="0.63" fill="#a890c4"/>
<circle cx="486.65" cy="268.21" r="0.63" fill="#c2aad6"/>
<circle cx="488.26" cy="268.39" r="0.79" fill="#c2aad6"/>
<circle cx="489.63" cy="268.63" r="0.78" fill="#d8c8e4"/>
<circle cx="491.66" cy="268.89" r="0.83" fill="#a890c4"/>
<circle cx="494.41" cy="268.77" r="0.82" fill="#b8a0ce"/>
<circle cx="495.56" cy="268.77" r="0.75" fill="#d8c8e4"/>
<circle cx="504.87" cy="268.9" r="0.73" fill="#a890c4"/>
<circle cx="507.65" cy="269.57" r="0.94" fill="#a890c4"/>
<circle cx="509.15" cy="268.5" r="0.8" fill="#d8c8e4"/>
<circle cx="513.84" cy="268.25" r="0.76" fill="#d8c8e4"/>
<circle cx="406.86" cy="270.98" r="0.94" fill="#c2aad6"/>
<circle cx="410.69" cy="270.42" r="0.64" fill="#c2aad6"/>
<circle cx="411.85" cy="270.78" r="0.87" fill="#b8a0ce"/>
<circle cx="414.44" cy="269.91" r="0.67" fill="#d8c8e4"/>
<circle cx="416.45" cy="270.65" r="0.92" fill="#b8a0ce"/>
<circle cx="417.58" cy="270.92" r="0.91" fill="#d8c8e4"/>
<circle cx="420.58" cy="270.72" r="0.64" fill="#c8b2d8"/>
<circle cx="421.64" cy="270.46" r="0.92" fill="#a890c4"/>
<circle cx="423.73" cy="271.43" r="0.63" fill="#c8b2d8"/>
<circle cx="425.16" cy="270.96" r="0.9" fill="#d8c8e4"/>
<circle cx="428.18" cy="270.22" r="0.68" fill="#d8c8e4"/>
<circle cx="432.51" cy="270.9" r="0.9" fill="#c2aad6"/>
<circle cx="437.08" cy="271.4" r="0.62" fill="#c2aad6"/>
<circle cx="439.37" cy="271.47" r="0.66" fill="#c8b2d8"/>
<circle cx="440.54" cy="270.21" r="0.77" fill="#e4d6ea"/>
<circle cx="442.95" cy="270.41" r="0.65" fill="#e4d6ea"/>
<circle cx="444.1" cy="269.95" r="0.72" fill="#c2aad6"/>
<circle cx="446.06" cy="269.95" r="0.68" fill="#c2aad6"/>
<circle cx="448.07" cy="271.37" r="0.76" fill="#d8c8e4"/>
<circle cx="450.03" cy="271.07" r="0.78" fill="#d8c8e4"/>
<circle cx="469.97" cy="271.24" r="0.84" fill="#e4d6ea"/>
<circle cx="470.65" cy="271.42" r="0.95" fill="#c8b2d8"/>
<circle cx="475.78" cy="271.46" r="0.92" fill="#b8a0ce"/>
<circle cx="476.31" cy="271.1" r="0.81" fill="#c2aad6"/>
<circle cx="478.69" cy="270.83" r="0.73" fill="#d6a478"/>
<circle cx="480.39" cy="271.24" r="0.9" fill="#b8a0ce"/>
<circle cx="482.62" cy="270.28" r="0.72" fill="#c99466"/>
<circle cx="485.33" cy="270.54" r="0.88" fill="#c2aad6"/>
<circle cx="486.85" cy="270.53" r="0.78" fill="#c8b2d8"/>
<circle cx="492.66" cy="270.7" r="0.76" fill="#b8a0ce"/>
<circle cx="494.65" cy="271.49" r="0.64" fill="#d8c8e4"/>
<circle cx="496.6" cy="270.93" r="0.85" fill="#a890c4"/>
<circle cx="498.14" cy="271.27" r="0.68" fill="#c2aad6"/>
<circle cx="500.47" cy="270.92" r="0.87" fill="#d8c8e4"/>
<circle cx="504.73" cy="270.24" r="0.88" fill="#b8a0ce"/>
<circle cx="506.89" cy="271.18" r="0.91" fill="#c98a5a"/>
<circle cx="508.52" cy="270.17" r="0.8" fill="#b8a0ce"/>
<circle cx="511.04" cy="271.07" r="0.81" fill="#a890c4"/>
<circle cx="406.41" cy="272.32" r="0.81" fill="#c8b2d8"/>
<circle cx="410.56" cy="273.13" r="0.7" fill="#d8c8e4"/>
<circle cx="416.3" cy="273.25" r="0.76" fill="#c99466"/>
<circle cx="418.43" cy="271.83" r="0.9" fill="#c2aad6"/>
<circle cx="420.71" cy="271.98" r="0.74" fill="#c2aad6"/>
<circle cx="423.07" cy="272.33" r="0.94" fill="#a890c4"/>
<circle cx="426.32" cy="271.92" r="0.7" fill="#d8c8e4"/>
<circle cx="427.23" cy="272.28" r="0.84" fill="#c2aad6"/>
<circle cx="430.24" cy="272.96" r="0.73" fill="#e4d6ea"/>
<circle cx="431.76" cy="272.93" r="0.92" fill="#a890c4"/>
<circle cx="433.57" cy="272.97" r="0.83" fill="#b8a0ce"/>
<circle cx="436.51" cy="271.96" r="0.8" fill="#c8b2d8"/>
<circle cx="439.17" cy="272.01" r="0.79" fill="#c2aad6"/>
<circle cx="440.71" cy="272.37" r="0.74" fill="#a890c4"/>
<circle cx="442.58" cy="273.25" r="0.62" fill="#c8b2d8"/>
<circle cx="446.46" cy="272.93" r="0.65" fill="#c8b2d8"/>
<circle cx="449.76" cy="272.78" r="0.67" fill="#b8a0ce"/>
<circle cx="452.35" cy="273.38" r="0.94" fill="#c99466"/>
<circle cx="455.47" cy="273.12" r="0.85" fill="#b8a0ce"/>
<circle cx="469.9" cy="272.04" r="0.77" fill="#b8a0ce"/>
<circle cx="474.94" cy="271.96" r="0.75" fill="#c2aad6"/>
<circle cx="477.31" cy="273.38" r="0.86" fill="#c2aad6"/>
<circle cx="478.12" cy="272.14" r="0.92" fill="#c8b2d8"/>
<circle cx="484.88" cy="273.34" r="0.79" fill="#a890c4"/>
<circle cx="487.91" cy="271.97" r="0.84" fill="#c2aad6"/>
<circle cx="494.67" cy="272.28" r="0.95" fill="#d8c8e4"/>
<circle cx="495.65" cy="272.09" r="0.88" fill="#b8a0ce"/>
<circle cx="499.21" cy="272.74" r="0.68" fill="#c2aad6"/>
<circle cx="502.09" cy="271.92" r="0.8" fill="#d8c8e4"/>
<circle cx="504" cy="272.72" r="0.81" fill="#e4d6ea"/>
<circle cx="505.58" cy="272.95" r="0.94" fill="#b8a0ce"/>
<circle cx="507.74" cy="272.67" r="0.82" fill="#c8b2d8"/>
<circle cx="509.06" cy="272.4" r="0.81" fill="#c2aad6"/>
<circle cx="511.64" cy="273.36" r="0.78" fill="#a890c4"/>
<circle cx="406.69" cy="274.71" r="0.63" fill="#b8a0ce"/>
<circle cx="408.51" cy="275.09" r="0.91" fill="#d8c8e4"/>
<circle cx="414.21" cy="274.6" r="0.63" fill="#c2aad6"/>
<circle cx="416.67" cy="275.21" r="0.89" fill="#b8a0ce"/>
<circle cx="418.72" cy="274.75" r="0.95" fill="#e4d6ea"/>
<circle cx="424.17" cy="274.06" r="0.83" fill="#b8a0ce"/>
<circle cx="425.8" cy="275.07" r="0.81" fill="#b8a0ce"/>
<circle cx="430.07" cy="274.05" r="0.82" fill="#a890c4"/>
<circle cx="433.2" cy="274.97" r="0.74" fill="#e4d6ea"/>
<circle cx="435.5" cy="274.48" r="0.76" fill="#e4d6ea"/>
<circle cx="440.56" cy="274.69" r="0.77" fill="#a890c4"/>
<circle cx="445.27" cy="274.62" r="0.71" fill="#c8b2d8"/>
<circle cx="446.14" cy="274.37" r="0.67" fill="#d8c8e4"/>
<circle cx="447.9" cy="273.94" r="0.81" fill="#c8b2d8"/>
<circle cx="449.69" cy="274.27" r="0.78" fill="#d8c8e4"/>
<circle cx="456.44" cy="273.76" r="0.68" fill="#c8b2d8"/>
<circle cx="458.29" cy="274.71" r="0.72" fill="#d8c8e4"/>
<circle cx="460.04" cy="274.62" r="0.81" fill="#e4d6ea"/>
<circle cx="462.47" cy="274.62" r="0.76" fill="#e4d6ea"/>
<circle cx="467.04" cy="273.8" r="0.73" fill="#b8a0ce"/>
<circle cx="468.65" cy="273.88" r="0.68" fill="#c8b2d8"/>
<circle cx="471.58" cy="274.95" r="0.82" fill="#a890c4"/>
<circle cx="473.98" cy="273.96" r="0.82" fill="#b8a0ce"/>
<circle cx="478.43" cy="273.81" r="0.84" fill="#a890c4"/>
<circle cx="480.6" cy="274.18" r="0.68" fill="#e4d6ea"/>
<circle cx="492.31" cy="274.95" r="0.74" fill="#a890c4"/>
<circle cx="498.67" cy="274.37" r="0.9" fill="#c2aad6"/>
<circle cx="500.38" cy="273.75" r="0.7" fill="#a890c4"/>
<circle cx="501.7" cy="274.47" r="0.88" fill="#b8a0ce"/>
<circle cx="503.87" cy="275.17" r="0.8" fill="#d8c8e4"/>
<circle cx="505.72" cy="274.41" r="0.65" fill="#c2aad6"/>
<circle cx="508.1" cy="274.2" r="0.93" fill="#c2aad6"/>
<circle cx="513.23" cy="274.5" r="0.83" fill="#c99466"/>
<circle cx="481.6" cy="206.7" r="0.95" fill="#a8704a"/>
<circle cx="467.5" cy="216" r="0.95" fill="#a8704a"/>
<circle cx="471.4" cy="233" r="0.95" fill="#a8704a"/>
<circle cx="461.3" cy="226.8" r="0.95" fill="#a8704a"/>
<circle cx="489.8" cy="199" r="0.95" fill="#a8704a"/>
<circle cx="487" cy="211" r="0.95" fill="#a8704a"/>
<circle cx="407" cy="243.8" r="0.95" fill="#a8704a"/>
<circle cx="412" cy="247" r="0.95" fill="#a8704a"/>
<circle cx="407.8" cy="271.8" r="0.95" fill="#a8704a"/>
<circle cx="444.4" cy="236.8" r="0.95" fill="#a8704a"/>
<circle cx="438.5" cy="260.5" r="0.95" fill="#a8704a"/>
<circle cx="474" cy="233.5" r="0.95" fill="#a8704a"/>
<circle cx="452" cy="223" r="0.95" fill="#a8704a"/>
</g></g>
<rect x="40.9" y="363.3" width="100.8" height="100.9" fill="none" stroke="#231f20" stroke-width="1.2"/>
<path d="M42.8 463.8 L45.5 461.2 L47.5 460.5 L49 459.2 L51.4 456.5 L53 456 L54.5 453 L56 451 L57 447 L58 444.5 L58.9 432 L59.8 428 L60.8 420 L61.8 412.5 L62.6 404 L63.6 393 L64.6 386.5 L65.6 382 L66.9 379.6 L67.8 381 L68.6 385 L69.5 394 L70.4 404 L71.2 413 L72 428 L72.7 442 L73.3 451 L74 458 L75 463.8Z" fill="#c8c8cb" stroke="#b4b4b8" stroke-width="0.5"/>
<path d="M76.9 463.8 L78.5 461.5 L80 456 L80.7 450.7 L82 440 L83.3 428 L84.4 418 L85.4 412.8 L86.5 403 L87.7 393 L88.8 386 L90 381.5 L90.7 380.6 L91.6 382 L92.6 388 L93.5 398 L94.3 406 L94.9 412.8 L95.8 422 L96.8 434 L97.8 444 L98.6 450.7 L100 457 L101.5 461 L103.4 463.8Z" fill="#3e4455" stroke="#2f3442" stroke-width="0.6" stroke-linejoin="round"/>
<line x1="76.6" y1="413.6" x2="141.5" y2="413.6" stroke="#3b3f48" stroke-width="0.9"/>
<line x1="76.6" y1="411.4" x2="76.6" y2="415.8" stroke="#3b3f48" stroke-width="0.9"/>
<text x="98.2" y="408.8" font-size="8.4" textLength="21.86" lengthAdjust="spacingAndGlyphs" fill="#231f20" color="#231f20">96.1%</text>
<text x="50" y="376.5" font-size="9.2" textLength="16.48" lengthAdjust="spacingAndGlyphs" fill="#231f20" color="#231f20">IgG1</text>
<line x1="37.6" y1="464.2" x2="40.9" y2="464.2" stroke="#231f20" stroke-width="0.9"/>
<text x="34.8" y="467.2" font-size="8.4" text-anchor="end" fill="#231f20" color="#231f20">0</text>
<line x1="37.6" y1="438.25" x2="40.9" y2="438.25" stroke="#231f20" stroke-width="0.9"/>
<text x="34.8" y="441.25" font-size="8.4" text-anchor="end" fill="#231f20" color="#231f20">200</text>
<line x1="37.6" y1="412.3" x2="40.9" y2="412.3" stroke="#231f20" stroke-width="0.9"/>
<text x="34.8" y="415.3" font-size="8.4" text-anchor="end" fill="#231f20" color="#231f20">400</text>
<line x1="37.6" y1="386.35" x2="40.9" y2="386.35" stroke="#231f20" stroke-width="0.9"/>
<text x="34.8" y="389.35" font-size="8.4" text-anchor="end" fill="#231f20" color="#231f20">600</text>
<line x1="39.3" y1="367.5" x2="40.9" y2="367.5" stroke="#231f20" stroke-width="0.7"/>
<line x1="39.3" y1="374" x2="40.9" y2="374" stroke="#231f20" stroke-width="0.7"/>
<line x1="39.3" y1="380.4" x2="40.9" y2="380.4" stroke="#231f20" stroke-width="0.7"/>
<line x1="39.3" y1="393" x2="40.9" y2="393" stroke="#231f20" stroke-width="0.7"/>
<line x1="39.3" y1="399.5" x2="40.9" y2="399.5" stroke="#231f20" stroke-width="0.7"/>
<line x1="39.3" y1="406" x2="40.9" y2="406" stroke="#231f20" stroke-width="0.7"/>
<line x1="39.3" y1="419" x2="40.9" y2="419" stroke="#231f20" stroke-width="0.7"/>
<line x1="39.3" y1="425.5" x2="40.9" y2="425.5" stroke="#231f20" stroke-width="0.7"/>
<line x1="39.3" y1="432" x2="40.9" y2="432" stroke="#231f20" stroke-width="0.7"/>
<line x1="39.3" y1="445" x2="40.9" y2="445" stroke="#231f20" stroke-width="0.7"/>
<line x1="39.3" y1="451.5" x2="40.9" y2="451.5" stroke="#231f20" stroke-width="0.7"/>
<line x1="39.3" y1="458" x2="40.9" y2="458" stroke="#231f20" stroke-width="0.7"/>
<text x="0" y="0" font-size="10.4" text-anchor="middle" textLength="21.29" lengthAdjust="spacingAndGlyphs" fill="#231f20" color="#231f20" transform="translate(15.9,414.5) rotate(-90)">Count</text>
<line x1="40.4" y1="464.4" x2="142.3" y2="464.4" stroke="#231f20" stroke-width="1.7"/>
<line x1="50.6" y1="464.4" x2="50.6" y2="467.6" stroke="#231f20" stroke-width="0.9"/>
<line x1="56.83" y1="464.4" x2="56.83" y2="466.2" stroke="#231f20" stroke-width="0.6"/>
<line x1="60.48" y1="464.4" x2="60.48" y2="466.2" stroke="#231f20" stroke-width="0.6"/>
<line x1="63.06" y1="464.4" x2="63.06" y2="466.2" stroke="#231f20" stroke-width="0.6"/>
<line x1="65.07" y1="464.4" x2="65.07" y2="466.2" stroke="#231f20" stroke-width="0.6"/>
<line x1="66.71" y1="464.4" x2="66.71" y2="466.2" stroke="#231f20" stroke-width="0.6"/>
<line x1="68.09" y1="464.4" x2="68.09" y2="466.2" stroke="#231f20" stroke-width="0.6"/>
<line x1="69.29" y1="464.4" x2="69.29" y2="466.2" stroke="#231f20" stroke-width="0.6"/>
<line x1="70.35" y1="464.4" x2="70.35" y2="466.2" stroke="#231f20" stroke-width="0.6"/>
<line x1="44.37" y1="464.4" x2="44.37" y2="466.2" stroke="#231f20" stroke-width="0.6"/>
<line x1="46.01" y1="464.4" x2="46.01" y2="466.2" stroke="#231f20" stroke-width="0.6"/>
<line x1="47.39" y1="464.4" x2="47.39" y2="466.2" stroke="#231f20" stroke-width="0.6"/>
<line x1="48.59" y1="464.4" x2="48.59" y2="466.2" stroke="#231f20" stroke-width="0.6"/>
<line x1="49.65" y1="464.4" x2="49.65" y2="466.2" stroke="#231f20" stroke-width="0.6"/>
<text x="50.8" y="479.4" font-size="8.2" text-anchor="middle" fill="#231f20">10<tspan font-size="5.6" dy="-3.2">1</tspan></text>
<line x1="71.2" y1="464.4" x2="71.2" y2="467.6" stroke="#231f20" stroke-width="0.9"/>
<line x1="77.43" y1="464.4" x2="77.43" y2="466.2" stroke="#231f20" stroke-width="0.6"/>
<line x1="81.08" y1="464.4" x2="81.08" y2="466.2" stroke="#231f20" stroke-width="0.6"/>
<line x1="83.66" y1="464.4" x2="83.66" y2="466.2" stroke="#231f20" stroke-width="0.6"/>
<line x1="85.67" y1="464.4" x2="85.67" y2="466.2" stroke="#231f20" stroke-width="0.6"/>
<line x1="87.31" y1="464.4" x2="87.31" y2="466.2" stroke="#231f20" stroke-width="0.6"/>
<line x1="88.69" y1="464.4" x2="88.69" y2="466.2" stroke="#231f20" stroke-width="0.6"/>
<line x1="89.89" y1="464.4" x2="89.89" y2="466.2" stroke="#231f20" stroke-width="0.6"/>
<line x1="90.95" y1="464.4" x2="90.95" y2="466.2" stroke="#231f20" stroke-width="0.6"/>
<text x="71.4" y="479.4" font-size="8.2" text-anchor="middle" fill="#231f20">10<tspan font-size="5.6" dy="-3.2">2</tspan></text>
<line x1="91.9" y1="464.4" x2="91.9" y2="467.6" stroke="#231f20" stroke-width="0.9"/>
<line x1="98.13" y1="464.4" x2="98.13" y2="466.2" stroke="#231f20" stroke-width="0.6"/>
<line x1="101.78" y1="464.4" x2="101.78" y2="466.2" stroke="#231f20" stroke-width="0.6"/>
<line x1="104.36" y1="464.4" x2="104.36" y2="466.2" stroke="#231f20" stroke-width="0.6"/>
<line x1="106.37" y1="464.4" x2="106.37" y2="466.2" stroke="#231f20" stroke-width="0.6"/>
<line x1="108.01" y1="464.4" x2="108.01" y2="466.2" stroke="#231f20" stroke-width="0.6"/>
<line x1="109.39" y1="464.4" x2="109.39" y2="466.2" stroke="#231f20" stroke-width="0.6"/>
<line x1="110.59" y1="464.4" x2="110.59" y2="466.2" stroke="#231f20" stroke-width="0.6"/>
<line x1="111.65" y1="464.4" x2="111.65" y2="466.2" stroke="#231f20" stroke-width="0.6"/>
<text x="92.1" y="479.4" font-size="8.2" text-anchor="middle" fill="#231f20">10<tspan font-size="5.6" dy="-3.2">3</tspan></text>
<line x1="112.6" y1="464.4" x2="112.6" y2="467.6" stroke="#231f20" stroke-width="0.9"/>
<line x1="118.83" y1="464.4" x2="118.83" y2="466.2" stroke="#231f20" stroke-width="0.6"/>
<line x1="122.48" y1="464.4" x2="122.48" y2="466.2" stroke="#231f20" stroke-width="0.6"/>
<line x1="125.06" y1="464.4" x2="125.06" y2="466.2" stroke="#231f20" stroke-width="0.6"/>
<line x1="127.07" y1="464.4" x2="127.07" y2="466.2" stroke="#231f20" stroke-width="0.6"/>
<line x1="128.71" y1="464.4" x2="128.71" y2="466.2" stroke="#231f20" stroke-width="0.6"/>
<line x1="130.09" y1="464.4" x2="130.09" y2="466.2" stroke="#231f20" stroke-width="0.6"/>
<line x1="131.29" y1="464.4" x2="131.29" y2="466.2" stroke="#231f20" stroke-width="0.6"/>
<line x1="132.35" y1="464.4" x2="132.35" y2="466.2" stroke="#231f20" stroke-width="0.6"/>
<text x="112.8" y="479.4" font-size="8.2" text-anchor="middle" fill="#231f20">10<tspan font-size="5.6" dy="-3.2">4</tspan></text>
<line x1="133.3" y1="464.4" x2="133.3" y2="467.6" stroke="#231f20" stroke-width="0.9"/>
<line x1="139.53" y1="464.4" x2="139.53" y2="466.2" stroke="#231f20" stroke-width="0.6"/>
<text x="133.5" y="479.4" font-size="8.2" text-anchor="middle" fill="#231f20">10<tspan font-size="5.6" dy="-3.2">5</tspan></text>
<text x="91.2" y="492.8" font-size="10.2" text-anchor="middle" textLength="40.29" lengthAdjust="spacingAndGlyphs" fill="#231f20" color="#231f20">LGALS9 APC</text>
<line x1="202.1" y1="366" x2="202.1" y2="465" stroke="#231f20" stroke-width="1.2"/>
<line x1="199" y1="464.3" x2="202.1" y2="464.3" stroke="#231f20" stroke-width="0.9"/>
<text x="195.5" y="467.3" font-size="8.4" text-anchor="end" fill="#231f20" color="#231f20">0</text>
<line x1="199" y1="445" x2="202.1" y2="445" stroke="#231f20" stroke-width="0.9"/>
<text x="195.5" y="448" font-size="8.4" text-anchor="end" fill="#231f20" color="#231f20">0.5</text>
<line x1="199" y1="425.7" x2="202.1" y2="425.7" stroke="#231f20" stroke-width="0.9"/>
<text x="195.5" y="428.7" font-size="8.4" text-anchor="end" fill="#231f20" color="#231f20">1.0</text>
<line x1="199" y1="406.4" x2="202.1" y2="406.4" stroke="#231f20" stroke-width="0.9"/>
<text x="195.5" y="409.4" font-size="8.4" text-anchor="end" fill="#231f20" color="#231f20">1.5</text>
<line x1="199" y1="387.1" x2="202.1" y2="387.1" stroke="#231f20" stroke-width="0.9"/>
<text x="195.5" y="390.1" font-size="8.4" text-anchor="end" fill="#231f20" color="#231f20">2.0</text>
<line x1="199" y1="367.8" x2="202.1" y2="367.8" stroke="#231f20" stroke-width="0.9"/>
<text x="195.5" y="370.8" font-size="8.4" text-anchor="end" fill="#231f20" color="#231f20">2.5</text>
<text x="0" y="0" font-size="9.8" text-anchor="middle" textLength="85.02" lengthAdjust="spacingAndGlyphs" fill="#231f20" color="#231f20" transform="translate(166.8,412.8) rotate(-90)">Relative mRNA expression</text>
<text x="0" y="0" font-size="9.8" text-anchor="middle" textLength="54.03" lengthAdjust="spacingAndGlyphs" fill="#231f20" color="#231f20" transform="translate(178.9,414) rotate(-90)">norm to GAPDH</text>
<rect x="207.7" y="426.8" width="9.9" height="37.5" fill="#68a6dd"/>
<line x1="212.65" y1="424.2" x2="212.65" y2="426.8" stroke="#68a6dd" stroke-width="1"/>
<line x1="210.1" y1="424.2" x2="215.2" y2="424.2" stroke="#68a6dd" stroke-width="1"/>
<rect x="224.2" y="395" width="9.7" height="69.3" fill="#db8a1b"/>
<line x1="229.05" y1="390.3" x2="229.05" y2="395" stroke="#db8a1b" stroke-width="1"/>
<line x1="226.3" y1="390.3" x2="231.8" y2="390.3" stroke="#db8a1b" stroke-width="1"/>
<path d="M213.5 385.9V380.7H228.5V385.9" fill="none" stroke="#231f20" stroke-width="1.1"/>
<text x="221" y="382.3" font-size="8.6" text-anchor="middle" fill="#231f20" color="#231f20">***</text>
<line x1="220.8" y1="464.3" x2="220.8" y2="467.2" stroke="#231f20" stroke-width="0.9"/>
<text x="220.8" y="478" font-size="10.5" text-anchor="middle" textLength="32.38" lengthAdjust="spacingAndGlyphs" fill="#231f20" color="#231f20" font-style="italic">HAVCR2</text>
<rect x="251.1" y="426.8" width="9.9" height="37.5" fill="#68a6dd"/>
<line x1="256.05" y1="426" x2="256.05" y2="426.8" stroke="#68a6dd" stroke-width="1"/>
<line x1="253.5" y1="426" x2="258.6" y2="426" stroke="#68a6dd" stroke-width="1"/>
<rect x="267.6" y="398.3" width="9.7" height="66" fill="#db8a1b"/>
<line x1="272.45" y1="396.3" x2="272.45" y2="398.3" stroke="#db8a1b" stroke-width="1"/>
<line x1="269.7" y1="396.3" x2="275.2" y2="396.3" stroke="#db8a1b" stroke-width="1"/>
<path d="M257.5 392V386.7H272.5V392" fill="none" stroke="#231f20" stroke-width="1.1"/>
<text x="265" y="388.3" font-size="8.6" text-anchor="middle" fill="#231f20" color="#231f20">***</text>
<line x1="264.2" y1="464.3" x2="264.2" y2="467.2" stroke="#231f20" stroke-width="0.9"/>
<text x="264.2" y="478" font-size="10.5" text-anchor="middle" textLength="20.67" lengthAdjust="spacingAndGlyphs" fill="#231f20" color="#231f20" font-style="italic">TIGIT</text>
<rect x="294.5" y="426.9" width="9.9" height="37.4" fill="#68a6dd"/>
<line x1="299.45" y1="426" x2="299.45" y2="426.9" stroke="#68a6dd" stroke-width="1"/>
<line x1="296.9" y1="426" x2="302" y2="426" stroke="#68a6dd" stroke-width="1"/>
<rect x="311" y="443.7" width="9.7" height="20.6" fill="#db8a1b"/>
<line x1="315.85" y1="443" x2="315.85" y2="443.7" stroke="#db8a1b" stroke-width="1"/>
<line x1="313.1" y1="443" x2="318.6" y2="443" stroke="#db8a1b" stroke-width="1"/>
<path d="M299.4 424.3V419.6H314.2V424.3" fill="none" stroke="#231f20" stroke-width="1.1"/>
<text x="306.8" y="421.2" font-size="8.6" text-anchor="middle" fill="#231f20" color="#231f20">**</text>
<line x1="307.6" y1="464.3" x2="307.6" y2="467.2" stroke="#231f20" stroke-width="0.9"/>
<text x="307.6" y="478" font-size="10.5" text-anchor="middle" textLength="23.37" lengthAdjust="spacingAndGlyphs" fill="#231f20" color="#231f20" font-style="italic">GZMB</text>
<rect x="337.9" y="426.1" width="9.9" height="38.2" fill="#68a6dd"/>
<line x1="342.85" y1="416.5" x2="342.85" y2="426.1" stroke="#68a6dd" stroke-width="1"/>
<line x1="340.3" y1="416.5" x2="345.4" y2="416.5" stroke="#68a6dd" stroke-width="1"/>
<rect x="354.4" y="397.6" width="9.7" height="66.7" fill="#db8a1b"/>
<line x1="359.25" y1="396.8" x2="359.25" y2="397.6" stroke="#db8a1b" stroke-width="1"/>
<line x1="356.5" y1="396.8" x2="362" y2="396.8" stroke="#db8a1b" stroke-width="1"/>
<path d="M344.8 393V388.5H359.8V393" fill="none" stroke="#231f20" stroke-width="1.1"/>
<text x="352.3" y="390.1" font-size="8.6" text-anchor="middle" fill="#231f20" color="#231f20">*</text>
<line x1="351" y1="464.3" x2="351" y2="467.2" stroke="#231f20" stroke-width="0.9"/>
<text x="351" y="478" font-size="10.5" text-anchor="middle" textLength="13.94" lengthAdjust="spacingAndGlyphs" fill="#231f20" color="#231f20" font-style="italic">IL-2</text>
<rect x="381.2" y="426.5" width="9.9" height="37.8" fill="#68a6dd"/>
<line x1="386.15" y1="425.1" x2="386.15" y2="426.5" stroke="#68a6dd" stroke-width="1"/>
<line x1="383.6" y1="425.1" x2="388.7" y2="425.1" stroke="#68a6dd" stroke-width="1"/>
<rect x="397.7" y="430.4" width="9.7" height="33.9" fill="#db8a1b"/>
<line x1="402.55" y1="427.8" x2="402.55" y2="430.4" stroke="#db8a1b" stroke-width="1"/>
<line x1="399.8" y1="427.8" x2="405.3" y2="427.8" stroke="#db8a1b" stroke-width="1"/>
<path d="M386.5 422.4V417.6H401.9V422.4" fill="none" stroke="#231f20" stroke-width="1.1"/>
<text x="394.2" y="416" font-size="8" text-anchor="middle" fill="#231f20" color="#231f20">ns</text>
<line x1="394.3" y1="464.3" x2="394.3" y2="467.2" stroke="#231f20" stroke-width="0.9"/>
<text x="394.3" y="478" font-size="10.5" text-anchor="middle" textLength="17.08" lengthAdjust="spacingAndGlyphs" fill="#231f20" color="#231f20" font-style="italic">IFNγ</text>
<line x1="201.5" y1="464.3" x2="413.9" y2="464.3" stroke="#231f20" stroke-width="1.2"/>
<rect x="312.9" y="356.3" width="9.3" height="6.2" fill="#68a6dd"/>
<rect x="312.9" y="367.7" width="9.3" height="6.1" fill="#db8a1b"/>
<text x="325.2" y="362.3" font-size="8.4" textLength="76.94" lengthAdjust="spacingAndGlyphs" fill="#231f20" color="#231f20">Act. CD8+ with media</text>
<text x="325.2" y="373.7" font-size="8.4" textLength="89.31" lengthAdjust="spacingAndGlyphs" fill="#231f20" color="#231f20">Act. CD8+ with T-ALL sup</text>
<rect x="0.5" y="0.5" width="519" height="501" fill="none" stroke="#000" stroke-width="1.2"/>
</svg></body></html>
